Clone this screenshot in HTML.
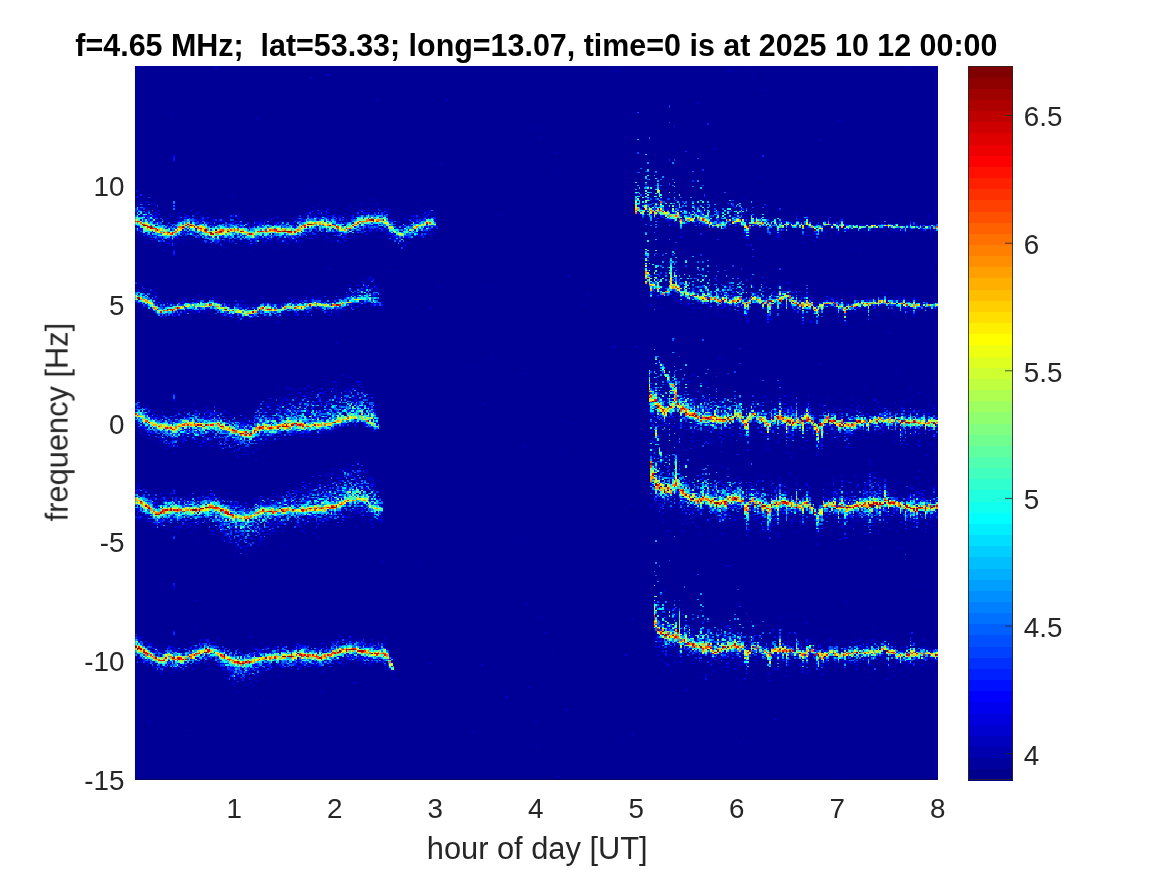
<!DOCTYPE html>
<html lang="en"><head><meta charset="utf-8"><title>Doppler spectrogram f=4.65 MHz</title>
<style>
html,body{margin:0;padding:0;background:#fff;}
body{width:1167px;height:875px;overflow:hidden;}
svg{display:block;font-family:"Liberation Sans",Arial,Helvetica,sans-serif;}
</style></head><body>
<svg width="1167" height="875" viewBox="0 0 1167 875">
<rect width="1167" height="875" fill="#fff"/>
<rect x="135" y="66" width="803" height="714" fill="#000096"/>
<g transform="translate(135 66) scale(1.672917 1.394531)" shape-rendering="crispEdges"><path fill="#00009f" d="m2 3h1v1h-1zm203 1h1v1h-1zm181 0h1v1h-1zm-184 1h1v1h-1zm-149 1h1v1h-1zm47 3h1v1h-1zm300 0h1v1h-1zm-218 2h1v1h-1zm101 0h1v1h-1zm-92 1h1v1h-1zm253 2h1v1h-1zm-434 2h1v1h-1zm2 4h1v1h-1zm38 2h1v1h-1zm69 0h1v1h-1zm-102 1h1v1h-1zm-15 2h1v1h-1zm409 1h1v1h-1zm-132 9h1v1h-1zm158 2h1v1h-1zm-30 1h1v1h-1zm-25 1h1v1h-1zm-359 1h1v1h-1zm261 4h1v1h-1zm-221 1h1v1h-1zm354 0h1v1h-1zm-363 6h1v1h-1zm126 0h1v1h-1zm-67 3h1v1h-1zm195 0h1v1h-1zm29 5h1v1h-1zm-19 2h1v1h-1zm21 1h1v1h-1zm-12 7h1v1h-1zm-298 1h1v1h-1zm7 2h1v1h-1zm141 3h1v1h-1zm-95 1h1v1h-1zm276 0h1v1h-1zm-292 4h1v1h-1zm152 0h1v1h-1zm-217 3h1v1h-1zm-1 1h1v1h-1zm0 2h1v1h-1zm303 2h1v1h-1zm-300 2h1v1h-1zm238 0h1v1h-1zm-184 2h1v1h-1zm72 1h1v1h-1zm192 0h1v1h-1zm-168 1h1v1h-1zm-146 1h1v1h-1zm4 0h1v1h-1zm312 0h1v1h-1zm121 0h1v1h-1zm-235 1h1v1h-1zm108 1h1v1h-1zm40 0h1v1h-1zm-222 1h1v1h-1zm-23 2h1v1h-1zm212 0h1v1h-1zm11 0h1v1h-1zm-324 1h1v1h-1zm20 0h1v1h-1zm54 0h1v1h-1zm24 0h1v1h-1zm62 0h1v1h-1zm159 0h1v1h-1zm-324 1h1v1h-1zm34 0h1v1h-1zm20 0h1v1h-1zm80 0h1v1h-1zm176 0h1v1h-1zm6 0h1v1h-1zm-215 1h1v1h-1zm-100 1h1v1h-1zm8 0h2v1h-2zm11 0h1v1h-1zm78 0h1v1h-1zm8 0h1v1h-1zm9 0h1v1h-1zm24 0h2v1h-2zm190 0h1v1h-1zm62 0h1v1h-1zm-366 1h1v1h-1zm74 0h1v1h-1zm5 0h1v1h-1zm24 0h1v1h-1zm-79 1h1v1h-1zm71 0h1v1h-1zm4 0h1v1h-1zm266 0h1v1h-1zm-292 1h1v1h-1zm8 0h1v1h-1zm9 0h1v1h-1zm2 0h1v1h-1zm210 0h1v1h-1zm130 0h1v1h-1zm-437 1h1v1h-1zm10 0h1v1h-1zm5 0h1v1h-1zm23 0h1v1h-1zm12 0h1v1h-1zm6 0h1v1h-1zm4 0h1v1h-1zm3 0h1v1h-1zm33 0h1v1h-1zm28 0h1v1h-1zm3 0h1v1h-1zm151 0h1v1h-1zm3 0h1v1h-1zm67 0h1v1h-1zm3 0h1v1h-1zm-350 1h1v1h-1zm44 0h1v1h-1zm17 0h1v1h-1zm29 0h1v1h-1zm199 0h1v1h-1zm39 0h1v1h-1zm15 0h1v1h-1zm3 0h1v1h-1zm76 0h1v1h-1zm-446 1h1v1h-1zm11 0h1v1h-1zm65 0h1v1h-1zm76 0h1v1h-1zm190 0h1v1h-1zm100 0h1v1h-1zm-388 1h1v1h-1zm4 0h1v1h-1zm101 0h1v1h-1zm151 0h1v1h-1zm19 0h1v1h-1zm73 0h1v1h-1zm12 0h2v1h-2zm-393 1h1v1h-1zm55 0h1v1h-1zm276 0h1v1h-1zm5 0h1v1h-1zm37 0h1v1h-1zm16 0h1v1h-1zm27 0h1v1h-1zm-420 1h1v1h-1zm52 0h1v1h-1zm62 0h1v1h-1zm191 0h1v1h-1zm34 0h1v1h-1zm68 0h1v1h-1zm3 0h1v1h-1zm41 0h1v1h-1zm-428 1h1v1h-1zm18 0h1v1h-1zm174 0h1v1h-1zm5 0h1v1h-1zm64 0h1v1h-1zm50 0h1v1h-1zm80 0h1v1h-1zm5 0h1v1h-1zm29 0h1v1h-1zm-312 1h1v1h-1zm193 0h1v1h-1zm2 0h1v1h-1zm9 0h1v1h-1zm40 0h1v1h-1zm12 0h1v1h-1zm32 0h1v1h-1zm27 0h1v1h-1zm-168 1h1v1h-1zm24 0h1v1h-1zm14 0h1v1h-1zm45 0h1v1h-1zm68 0h1v1h-1zm-406 1h1v1h-1zm20 0h1v1h-1zm63 0h1v1h-1zm17 0h1v1h-1zm246 0h1v1h-1zm7 0h1v1h-1zm-294 1h1v1h-1zm23 0h1v1h-1zm20 0h2v1h-2zm30 0h1v1h-1zm151 0h1v1h-1zm53 0h1v1h-1zm20 0h1v1h-1zm-300 1h1v1h-1zm46 0h1v1h-1zm20 0h1v1h-1zm178 0h1v1h-1zm6 0h1v1h-1zm84 0h1v1h-1zm-434 1h1v1h-1zm23 0h1v1h-1zm2 0h1v1h-1zm126 0h1v1h-1zm234 0h1v1h-1zm-381 1h1v1h-1zm89 0h1v1h-1zm8 0h1v1h-1zm46 0h1v1h-1zm175 0h1v1h-1zm46 0h1v1h-1zm52 0h1v1h-1zm-417 1h1v1h-1zm34 0h1v1h-1zm44 0h1v1h-1zm24 0h1v1h-1zm58 0h1v1h-1zm8 0h1v1h-1zm140 0h1v1h-1zm23 0h1v1h-1zm-338 1h1v1h-1zm11 0h1v1h-1zm14 0h1v1h-1zm15 0h1v1h-1zm62 0h1v1h-1zm35 0h1v1h-1zm16 0h1v1h-1zm6 0h1v1h-1zm11 0h1v1h-1zm273 0h1v1h-1zm36 0h1v1h-1zm-450 1h1v1h-1zm7 0h1v1h-1zm52 0h1v1h-1zm72 0h1v1h-1zm-122 1h1v1h-1zm39 0h1v1h-1zm13 0h1v1h-1zm11 0h1v1h-1zm15 0h1v1h-1zm-100 1h1v1h-1zm20 0h1v1h-1zm11 0h1v1h-1zm17 0h1v1h-1zm8 0h1v1h-1zm19 0h1v1h-1zm3 0h1v1h-1zm237 0h1v1h-1zm-295 1h1v1h-1zm30 0h1v1h-1zm15 0h1v1h-1zm16 0h1v1h-1zm343 0h1v1h-1zm-393 1h1v1h-1zm2 0h1v1h-1zm18 0h1v1h-1zm4 0h1v1h-1zm-49 1h1v1h-1zm15 0h1v1h-1zm15 0h1v1h-1zm47 0h1v1h-1zm32 0h1v1h-1zm-46 1h1v1h-1zm192 0h1v1h-1zm-218 1h1v1h-1zm-49 2h1v1h-1zm323 2h1v1h-1zm66 0h1v1h-1zm49 0h1v1h-1zm-332 1h1v1h-1zm-101 2h1v1h-1zm201 4h1v1h-1zm260 0h1v1h-1zm-150 1h1v1h-1zm5 0h1v1h-1zm80 0h1v1h-1zm-101 1h1v1h-1zm-134 2h1v1h-1zm4 1h1v1h-1zm-36 2h1v1h-1zm182 0h1v1h-1zm41 1h1v1h-1zm-45 1h1v1h-1zm-316 1h1v1h-1zm441 0h1v1h-1zm-138 1h1v1h-1zm115 0h1v1h-1zm17 0h1v1h-1zm-298 1h1v1h-1zm3 0h1v1h-1zm182 0h1v1h-1zm16 0h1v1h-1zm44 0h1v1h-1zm71 0h1v1h-1zm-455 1h1v1h-1zm128 0h1v1h-1zm6 0h1v1h-1zm8 0h1v1h-1zm193 0h2v1h-2zm-333 1h1v1h-1zm120 0h1v1h-1zm8 0h1v1h-1zm197 1h1v1h-1zm46 0h1v1h-1zm13 0h1v1h-1zm-380 1h1v1h-1zm129 0h1v1h-1zm177 0h1v1h-1zm15 0h1v1h-1zm13 0h1v1h-1zm47 0h1v1h-1zm-251 1h1v1h-1zm272 0h1v1h-1zm-309 1h1v1h-1zm40 0h1v1h-1zm189 0h1v1h-1zm4 0h1v1h-1zm59 0h1v1h-1zm-9 1h1v1h-1zm36 0h1v1h-1zm26 0h1v1h-1zm-442 1h1v1h-1zm56 0h1v1h-1zm45 0h1v1h-1zm20 0h1v1h-1zm2 0h1v1h-1zm2 0h1v1h-1zm109 0h1v1h-1zm73 0h1v1h-1zm58 0h1v1h-1zm61 0h1v1h-1zm-293 1h1v1h-1zm185 0h1v1h-1zm82 0h1v1h-1zm12 0h1v1h-1zm4 0h1v1h-1zm29 0h1v1h-1zm-322 1h1v1h-1zm208 0h1v1h-1zm23 0h1v1h-1zm37 0h1v1h-1zm-289 1h1v1h-1zm9 0h1v1h-1zm8 0h1v1h-1zm21 0h1v1h-1zm20 0h1v1h-1zm149 0h1v1h-1zm7 0h1v1h-1zm27 0h1v1h-1zm93 0h1v1h-1zm-414 1h1v1h-1zm28 0h2v1h-2zm41 0h1v1h-1zm49 0h1v1h-1zm178 0h1v1h-1zm121 0h1v1h-1zm2 0h1v1h-1zm-445 1h1v1h-1zm13 0h1v1h-1zm7 0h1v1h-1zm51 0h1v1h-1zm2 0h2v1h-2zm37 0h1v1h-1zm2 0h1v1h-1zm2 0h1v1h-1zm196 0h1v1h-1zm31 0h1v1h-1zm32 0h1v1h-1zm33 0h1v1h-1zm-370 1h1v1h-1zm10 0h1v1h-1zm13 0h1v1h-1zm13 0h1v1h-1zm4 0h1v1h-1zm2 0h1v1h-1zm47 0h1v1h-1zm344 0h1v1h-1zm-416 1h1v1h-1zm29 0h1v1h-1zm2 0h1v1h-1zm33 0h1v1h-1zm212 0h1v1h-1zm56 0h1v1h-1zm3 0h1v1h-1zm-300 1h1v1h-1zm38 0h1v1h-1zm8 0h1v1h-1zm198 0h1v1h-1zm2 0h1v1h-1zm25 0h1v1h-1zm4 0h1v1h-1zm6 0h1v1h-1zm19 0h1v1h-1zm-370 1h1v1h-1zm113 0h1v1h-1zm196 0h1v1h-1zm20 0h1v1h-1zm23 0h1v1h-1zm13 0h1v1h-1zm-319 1h1v1h-1zm115 0h1v1h-1zm61 0h1v1h-1zm107 0h1v1h-1zm65 0h1v1h-1zm-350 1h2v1h-2zm375 0h1v1h-1zm-293 1h1v1h-1zm306 0h1v1h-1zm7 0h1v1h-1zm7 0h1v1h-1zm9 0h1v1h-1zm-440 1h1v1h-1zm88 0h1v1h-1zm210 0h1v1h-1zm69 0h1v1h-1zm58 0h1v1h-1zm-418 1h1v1h-1zm55 0h1v1h-1zm22 0h1v1h-1zm3 0h1v1h-1zm271 0h1v1h-1zm43 0h1v1h-1zm6 0h1v1h-1zm-396 1h1v1h-1zm6 0h1v1h-1zm35 0h1v1h-1zm8 0h1v1h-1zm9 0h1v1h-1zm15 0h1v1h-1zm190 0h1v1h-1zm95 0h1v1h-1zm-359 1h2v1h-2zm3 0h1v1h-1zm7 0h1v1h-1zm59 0h1v1h-1zm240 0h1v1h-1zm18 0h1v1h-1zm-362 1h1v1h-1zm31 0h1v1h-1zm17 0h1v1h-1zm24 0h1v1h-1zm318 0h1v1h-1zm50 0h1v1h-1zm-434 1h1v1h-1zm2 0h1v1h-1zm30 0h1v1h-1zm23 0h1v1h-1zm24 0h1v1h-1zm110 0h1v1h-1zm103 0h1v1h-1zm19 0h1v1h-1zm52 0h1v1h-1zm27 0h1v1h-1zm-392 1h1v1h-1zm6 0h1v1h-1zm98 0h1v1h-1zm239 0h1v1h-1zm71 0h1v1h-1zm-40 1h1v1h-1zm3 1h1v1h-1zm19 0h1v1h-1zm-324 1h1v1h-1zm55 0h1v1h-1zm243 1h1v1h-1zm88 0h1v1h-1zm-195 1h1v1h-1zm-193 2h1v1h-1zm187 0h1v1h-1zm-232 4h1v1h-1zm320 2h1v1h-1zm-55 3h1v1h-1zm18 1h1v1h-1zm11 5h1v1h-1zm-155 3h1v1h-1zm213 2h1v1h-1zm-43 1h1v1h-1zm-98 3h1v1h-1zm171 0h1v1h-1zm-108 1h1v1h-1zm5 2h1v1h-1zm136 0h1v1h-1zm-302 1h1v1h-1zm167 4h1v1h-1zm103 0h1v1h-1zm-297 1h1v1h-1zm191 1h1v1h-1zm-199 1h1v1h-1zm-9 2h1v1h-1zm202 0h1v1h-1zm-199 2h1v1h-1zm6 0h1v1h-1zm2 0h1v1h-1zm7 0h1v1h-1zm264 0h1v1h-1zm-294 1h1v1h-1zm292 0h1v1h-1zm-297 1h1v1h-1zm37 0h1v1h-1zm84 0h1v1h-1zm106 0h1v1h-1zm11 0h1v1h-1zm-231 1h1v1h-1zm15 0h1v1h-1zm135 0h1v1h-1zm-111 1h1v1h-1zm172 0h1v1h-1zm18 0h1v1h-1zm3 0h1v1h-1zm103 0h1v1h-1zm44 0h1v1h-1zm-364 1h1v1h-1zm14 0h1v1h-1zm8 0h1v1h-1zm50 0h1v1h-1zm131 0h1v1h-1zm70 0h1v1h-1zm50 0h1v1h-1zm19 0h1v1h-1zm-352 1h1v1h-1zm2 0h1v1h-1zm15 0h1v1h-1zm127 0h1v1h-1zm73 0h1v1h-1zm8 0h1v1h-1zm93 0h1v1h-1zm-331 1h1v1h-1zm7 0h1v1h-1zm30 0h1v1h-1zm10 0h1v1h-1zm-37 1h1v1h-1zm6 0h1v1h-1zm229 0h1v1h-1zm32 0h1v1h-1zm-287 1h1v1h-1zm13 0h1v1h-1zm25 0h1v1h-1zm194 0h1v1h-1zm65 0h1v1h-1zm-272 1h1v1h-1zm8 0h1v1h-1zm25 0h1v1h-1zm187 0h1v1h-1zm-239 1h1v1h-1zm51 0h1v1h-1zm155 0h1v1h-1zm70 0h1v1h-1zm-362 1h1v1h-1zm74 0h1v1h-1zm277 0h1v1h-1zm81 0h1v1h-1zm27 0h1v1h-1zm17 0h1v1h-1zm-415 1h1v1h-1zm40 0h1v1h-1zm184 0h1v1h-1zm32 0h1v1h-1zm-283 1h1v1h-1zm47 0h1v1h-1zm35 0h2v1h-2zm4 0h1v1h-1zm187 0h1v1h-1zm40 0h1v1h-1zm14 0h1v1h-1zm32 0h1v1h-1zm-347 1h1v1h-1zm66 0h1v1h-1zm11 0h1v1h-1zm194 0h1v1h-1zm26 0h1v1h-1zm56 0h1v1h-1zm51 0h1v1h-1zm16 0h1v1h-1zm11 0h1v1h-1zm-390 1h1v1h-1zm283 0h1v1h-1zm4 0h1v1h-1zm19 0h1v1h-1zm12 0h1v1h-1zm8 0h1v1h-1zm5 0h1v1h-1zm29 0h1v1h-1zm-416 1h1v1h-1zm38 0h1v1h-1zm35 0h1v1h-1zm31 0h1v1h-1zm251 0h1v1h-1zm53 0h1v1h-1zm4 0h1v1h-1zm11 0h1v1h-1zm9 0h1v1h-1zm16 0h1v1h-1zm-448 1h1v1h-1zm52 0h1v1h-1zm3 0h1v1h-1zm249 0h1v1h-1zm14 0h1v1h-1zm73 0h1v1h-1zm19 0h1v1h-1zm4 0h1v1h-1zm4 0h1v1h-1zm-442 1h1v1h-1zm7 0h1v1h-1zm72 0h1v1h-1zm291 0h1v1h-1zm-321 1h1v1h-1zm15 0h1v1h-1zm264 0h1v1h-1zm14 0h1v1h-1zm61 0h1v1h-1zm19 0h1v1h-1zm17 0h1v1h-1zm30 0h2v1h-2zm-463 1h1v1h-1zm27 0h1v1h-1zm10 0h1v1h-1zm5 0h1v1h-1zm10 0h1v1h-1zm23 0h1v1h-1zm263 0h1v1h-1zm112 0h1v1h-1zm-443 1h1v1h-1zm30 0h1v1h-1zm3 0h1v1h-1zm4 0h1v1h-1zm24 0h1v1h-1zm6 0h1v1h-1zm231 0h1v1h-1zm6 0h1v1h-1zm-253 1h1v1h-1zm18 0h1v1h-1zm17 0h1v1h-1zm2 0h1v1h-1zm17 0h1v1h-1zm-83 1h1v1h-1zm14 0h1v1h-1zm17 0h1v1h-1zm7 0h1v1h-1zm4 0h1v1h-1zm5 0h1v1h-1zm31 0h1v1h-1zm-92 1h1v1h-1zm26 0h2v1h-2zm3 0h1v1h-1zm7 0h1v1h-1zm255 0h1v1h-1zm90 0h1v1h-1zm58 0h1v1h-1zm5 0h1v1h-1zm-458 1h1v1h-1zm4 0h2v1h-2zm32 0h1v1h-1zm34 0h1v1h-1zm26 0h1v1h-1zm211 0h1v1h-1zm87 0h1v1h-1zm13 0h1v1h-1zm-355 1h1v1h-1zm362 0h1v1h-1zm-366 1h1v1h-1zm345 0h1v1h-1zm-272 1h1v1h-1zm173 0h1v1h-1zm6 0h1v1h-1zm10 0h2v1h-2zm19 1h1v1h-1zm25 0h1v1h-1zm50 0h1v1h-1zm27 0h1v1h-1zm8 0h1v1h-1zm-326 1h1v1h-1zm144 0h1v1h-1zm37 0h1v1h-1zm2 0h1v1h-1zm26 0h1v1h-1zm66 0h1v1h-1zm14 0h1v1h-1zm-275 1h1v1h-1zm195 0h1v1h-1zm20 0h1v1h-1zm85 0h1v1h-1zm10 0h1v1h-1zm14 0h1v1h-1zm8 0h1v1h-1zm-437 1h1v1h-1zm295 0h1v1h-1zm57 0h1v1h-1zm12 0h1v1h-1zm12 0h1v1h-1zm-403 1h1v1h-1zm110 0h1v1h-1zm144 0h1v1h-1zm90 0h1v1h-1zm11 0h1v1h-1zm11 0h1v1h-1zm20 0h1v1h-1zm3 0h1v1h-1zm34 0h1v1h-1zm22 0h1v1h-1zm-453 1h1v1h-1zm105 0h1v1h-1zm206 0h1v1h-1zm10 0h1v1h-1zm60 0h1v1h-1zm71 0h1v1h-1zm11 0h1v1h-1zm12 0h1v1h-1zm-432 1h1v1h-1zm5 0h1v1h-1zm48 0h1v1h-1zm4 0h1v1h-1zm7 0h1v1h-1zm7 0h1v1h-1zm2 0h1v1h-1zm12 0h1v1h-1zm205 0h1v1h-1zm5 0h1v1h-1zm6 0h2v1h-2zm14 0h1v1h-1zm31 0h1v1h-1zm47 0h1v1h-1zm9 0h1v1h-1zm-441 1h1v1h-1zm22 0h1v1h-1zm3 0h1v1h-1zm74 0h1v1h-1zm266 0h1v1h-1zm10 0h1v1h-1zm19 0h2v1h-2zm26 0h1v1h-1zm38 0h1v1h-1zm5 0h1v1h-1zm-387 1h1v1h-1zm3 0h1v1h-1zm11 0h1v1h-1zm8 0h1v1h-1zm11 0h1v1h-1zm15 0h1v1h-1zm79 0h1v1h-1zm188 0h1v1h-1zm17 0h1v1h-1zm10 0h1v1h-1zm41 0h1v1h-1zm14 0h1v1h-1zm-471 1h1v1h-1zm76 0h1v1h-1zm189 0h1v1h-1zm46 0h1v1h-1zm15 0h1v1h-1zm9 0h1v1h-1zm12 0h1v1h-1zm14 0h1v1h-1zm10 0h1v1h-1zm43 0h1v1h-1zm3 0h1v1h-1zm9 0h1v1h-1zm-417 1h1v1h-1zm30 0h1v1h-1zm20 0h1v1h-1zm19 0h1v1h-1zm6 0h1v1h-1zm300 0h1v1h-1zm28 0h1v1h-1zm12 0h1v1h-1zm21 0h1v1h-1zm-404 1h1v1h-1zm224 0h1v1h-1zm42 0h1v1h-1zm74 0h1v1h-1zm-334 1h1v1h-1zm148 0h1v1h-1zm43 0h1v1h-1zm21 0h1v1h-1zm69 0h1v1h-1zm17 0h1v1h-1zm24 0h1v1h-1zm23 0h1v1h-1zm-386 1h2v1h-2zm60 0h1v1h-1zm11 0h1v1h-1zm268 0h1v1h-1zm22 0h1v1h-1zm3 0h1v1h-1zm31 0h1v1h-1zm-381 1h1v1h-1zm3 0h1v1h-1zm335 0h1v1h-1zm6 0h1v1h-1zm3 0h1v1h-1zm-346 1h1v1h-1zm361 0h1v1h-1zm43 0h1v1h-1zm31 0h1v1h-1zm-450 1h1v1h-1zm7 0h1v1h-1zm4 0h1v1h-1zm7 0h1v1h-1zm47 0h1v1h-1zm152 0h1v1h-1zm120 0h1v1h-1zm20 0h1v1h-1zm26 0h1v1h-1zm64 0h1v1h-1zm16 0h1v1h-1zm-439 1h1v1h-1zm14 0h1v1h-1zm16 0h1v1h-1zm303 0h1v1h-1zm66 0h1v1h-1zm23 0h1v1h-1zm4 0h1v1h-1zm-411 1h1v1h-1zm17 0h1v1h-1zm3 0h1v1h-1zm238 0h1v1h-1zm2 0h1v1h-1zm96 0h1v1h-1zm10 0h1v1h-1zm-226 1h1v1h-1zm134 0h1v1h-1zm17 1h1v1h-1zm37 0h1v1h-1zm88 0h1v1h-1zm-425 1h1v1h-1zm286 0h1v1h-1zm26 0h1v1h-1zm4 0h1v1h-1zm85 0h1v1h-1zm-326 1h1v1h-1zm226 0h1v1h-1zm66 0h1v1h-1zm-92 1h1v1h-1zm-154 1h1v1h-1zm307 0h1v1h-1zm-352 1h1v1h-1zm194 0h1v1h-1zm27 0h1v1h-1zm12 0h1v1h-1zm-42 1h1v1h-1zm8 0h1v1h-1zm134 0h1v1h-1zm26 1h1v1h-1zm-180 1h1v1h-1zm-174 1h1v1h-1zm10 0h1v1h-1zm188 0h1v1h-1zm100 0h1v1h-1zm26 0h1v1h-1zm-326 1h1v1h-1zm3 0h1v1h-1zm200 0h1v1h-1zm24 0h1v1h-1zm126 0h1v1h-1zm-356 1h1v1h-1zm9 0h1v1h-1zm196 0h1v1h-1zm-203 1h1v1h-1zm226 0h1v1h-1zm-212 1h1v1h-1zm209 0h1v1h-1zm36 0h1v1h-1zm27 0h1v1h-1zm3 0h1v1h-1zm-305 1h1v1h-1zm14 0h1v1h-1zm208 0h1v1h-1zm50 0h1v1h-1zm40 0h1v1h-1zm21 0h1v1h-1zm-326 1h2v1h-2zm4 1h1v1h-1zm8 0h1v1h-1zm317 0h1v1h-1zm-391 1h1v1h-1zm49 0h1v1h-1zm23 0h2v1h-2zm211 0h1v1h-1zm6 0h1v1h-1zm41 0h1v1h-1zm39 0h1v1h-1zm27 0h1v1h-1zm-122 1h1v1h-1zm14 0h1v1h-1zm34 0h1v1h-1zm11 0h1v1h-1zm38 0h1v1h-1zm-283 1h1v1h-1zm236 0h1v1h-1zm6 0h1v1h-1zm73 0h1v1h-1zm-317 1h1v1h-1zm-25 1h1v1h-1zm5 0h1v1h-1zm258 0h1v1h-1zm-266 1h1v1h-1zm2 0h1v1h-1zm14 0h1v1h-1zm10 0h1v1h-1zm252 0h1v1h-1zm-287 1h1v1h-1zm7 0h1v1h-1zm11 0h1v1h-1zm23 0h1v1h-1zm220 0h1v1h-1zm23 0h1v1h-1zm68 0h1v1h-1zm2 0h1v1h-1zm11 0h1v1h-1zm-464 1h1v1h-1zm106 0h1v1h-1zm284 0h1v1h-1zm53 0h1v1h-1zm3 0h1v1h-1zm-397 1h1v1h-1zm338 0h1v1h-1zm8 0h1v1h-1zm16 0h1v1h-1zm6 0h1v1h-1zm6 0h1v1h-1zm19 0h1v1h-1zm-442 1h1v1h-1zm398 0h1v1h-1zm33 0h1v1h-1zm-344 1h1v1h-1zm14 0h1v1h-1zm13 0h1v1h-1zm31 0h2v1h-2zm222 0h1v1h-1zm-259 1h1v1h-1zm3 0h1v1h-1zm36 0h1v1h-1zm233 0h1v1h-1zm29 0h1v1h-1zm22 0h1v1h-1zm34 0h1v1h-1zm-461 1h1v1h-1zm140 0h1v1h-1zm129 0h1v1h-1zm45 0h1v1h-1zm59 0h1v1h-1zm2 0h1v1h-1zm13 0h1v1h-1zm12 0h1v1h-1zm34 0h1v1h-1zm36 0h1v1h-1zm-371 1h1v1h-1zm156 0h1v1h-1zm123 0h1v1h-1zm30 0h1v1h-1zm57 0h1v1h-1zm-450 1h1v1h-1zm81 0h1v1h-1zm314 0h1v1h-1zm33 0h1v1h-1zm6 0h1v1h-1zm20 0h1v1h-1zm5 0h1v1h-1zm-458 1h1v1h-1zm12 0h1v1h-1zm17 0h1v1h-1zm2 0h1v1h-1zm327 0h1v1h-1zm11 0h1v1h-1zm27 0h1v1h-1zm19 0h1v1h-1zm26 0h1v1h-1zm5 0h1v1h-1zm-436 1h1v1h-1zm17 0h1v1h-1zm2 0h1v1h-1zm3 0h1v1h-1zm24 0h2v1h-2zm236 0h1v1h-1zm77 0h1v1h-1zm-311 1h1v1h-1zm17 0h1v1h-1zm150 0h1v1h-1zm63 0h1v1h-1zm105 0h1v1h-1zm-393 1h1v1h-1zm34 0h1v1h-1zm21 0h1v1h-1zm35 0h1v1h-1zm201 0h1v1h-1zm92 0h1v1h-1zm3 0h1v1h-1zm23 0h1v1h-1zm-332 1h1v1h-1zm313 0h1v1h-1zm19 0h1v1h-1zm-373 1h1v1h-1zm24 0h1v1h-1zm25 0h1v1h-1zm28 0h1v1h-1zm206 0h1v1h-1zm86 0h1v1h-1zm47 0h1v1h-1zm-407 1h1v1h-1zm249 0h1v1h-1zm-300 1h1v1h-1zm116 0h1v1h-1zm160 0h1v1h-1zm161 0h1v1h-1zm-390 1h1v1h-1zm8 0h1v1h-1zm5 0h1v1h-1zm54 0h1v1h-1zm203 0h1v1h-1zm-208 1h1v1h-1zm13 0h1v1h-1zm82 0h1v1h-1zm132 0h1v1h-1zm21 0h1v1h-1zm78 0h1v1h-1zm-88 1h1v1h-1zm15 0h1v1h-1zm-247 1h1v1h-1zm95 0h1v1h-1zm66 0h1v1h-1zm29 0h1v1h-1zm17 0h1v1h-1zm46 0h1v1h-1zm19 0h1v1h-1zm50 0h1v1h-1zm18 0h1v1h-1zm-359 1h1v1h-1zm16 0h1v1h-1zm7 0h1v1h-1zm185 0h1v1h-1zm70 0h1v1h-1zm59 0h1v1h-1zm10 0h1v1h-1zm-456 1h1v1h-1zm3 0h1v1h-1zm32 0h1v1h-1zm76 0h1v1h-1zm9 0h1v1h-1zm22 0h1v1h-1zm157 0h1v1h-1zm116 0h1v1h-1zm2 0h1v1h-1zm23 0h1v1h-1zm5 0h1v1h-1zm-305 1h1v1h-1zm116 0h1v1h-1zm90 0h1v1h-1zm20 0h1v1h-1zm27 0h1v1h-1zm12 0h1v1h-1zm36 0h1v1h-1zm3 0h1v1h-1zm6 0h1v1h-1zm11 0h1v1h-1zm6 0h1v1h-1zm-461 1h1v1h-1zm122 0h1v1h-1zm14 0h1v1h-1zm120 0h1v1h-1zm49 0h1v1h-1zm27 0h1v1h-1zm35 0h1v1h-1zm3 0h1v1h-1zm11 0h1v1h-1zm15 0h1v1h-1zm-402 1h1v1h-1zm65 0h1v1h-1zm9 0h1v1h-1zm42 0h1v1h-1zm8 0h1v1h-1zm17 0h1v1h-1zm109 0h1v1h-1zm87 0h1v1h-1zm84 0h1v1h-1zm18 0h1v1h-1zm6 0h1v1h-1zm6 0h1v1h-1zm-424 1h1v1h-1zm57 0h1v1h-1zm25 0h1v1h-1zm9 0h1v1h-1zm228 0h1v1h-1zm16 0h1v1h-1zm98 0h1v1h-1zm-443 1h1v1h-1zm6 0h1v1h-1zm22 0h1v1h-1zm34 0h1v1h-1zm8 0h1v1h-1zm277 0h1v1h-1zm31 0h1v1h-1zm46 0h1v1h-1zm2 0h1v1h-1zm-433 1h1v1h-1zm46 0h1v1h-1zm12 0h1v1h-1zm3 0h1v1h-1zm283 0h1v1h-1zm9 0h1v1h-1zm62 0h1v1h-1zm5 0h1v1h-1zm-391 1h1v1h-1zm9 0h1v1h-1zm38 0h1v1h-1zm59 0h1v1h-1zm205 0h1v1h-1zm102 0h1v1h-1zm14 0h1v1h-1zm-408 1h1v1h-1zm2 0h1v1h-1zm80 0h1v1h-1zm194 0h1v1h-1zm16 0h1v1h-1zm3 0h1v1h-1zm64 0h1v1h-1zm6 0h1v1h-1zm11 0h1v1h-1zm-427 1h1v1h-1zm9 0h1v1h-1zm23 0h1v1h-1zm10 0h1v1h-1zm20 0h1v1h-1zm21 0h1v1h-1zm258 0h1v1h-1zm34 0h2v1h-2zm51 0h1v1h-1zm-384 1h1v1h-1zm14 0h1v1h-1zm275 0h1v1h-1zm31 0h1v1h-1zm7 0h1v1h-1zm33 0h1v1h-1zm-355 1h1v1h-1zm19 0h1v1h-1zm4 0h1v1h-1zm7 0h1v1h-1zm277 0h1v1h-1zm80 0h1v1h-1zm37 0h1v1h-1zm-354 1h1v1h-1zm4 0h1v1h-1zm67 0h1v1h-1zm131 0h1v1h-1zm18 0h1v1h-1zm34 0h1v1h-1zm62 0h1v1h-1zm-369 1h1v1h-1zm285 0h1v1h-1zm-291 1h1v1h-1zm309 0h1v1h-1zm74 0h1v1h-1zm20 0h1v1h-1zm-454 1h1v1h-1zm34 0h1v1h-1zm5 0h1v1h-1zm311 0h1v1h-1zm103 0h1v1h-1zm-404 1h1v1h-1zm6 0h1v1h-1zm299 0h1v1h-1zm16 0h1v1h-1zm-310 1h1v1h-1zm403 0h1v1h-1zm-467 1h1v1h-1zm363 0h1v1h-1zm-319 1h1v1h-1zm266 0h1v1h-1zm2 1h1v1h-1zm-252 1h1v1h-1zm230 0h1v1h-1zm-262 1h1v1h-1zm16 0h1v1h-1zm11 0h1v1h-1zm358 0h1v1h-1zm-371 1h1v1h-1zm9 0h1v1h-1zm398 0h1v1h-1zm-401 1h1v1h-1zm322 0h1v1h-1zm-312 1h1v1h-1zm141 0h1v1h-1zm-88 1h1v1h-1zm36 0h1v1h-1zm-67 2h1v1h-1zm95 0h1v1h-1zm-128 1h1v1h-1zm4 0h1v1h-1zm95 0h1v1h-1zm24 0h1v1h-1zm-110 1h1v1h-1zm7 3h1v1h-1zm250 0h1v1h-1zm-210 1h1v1h-1zm-56 1h1v1h-1zm135 1h1v1h-1zm-137 1h1v1h-1zm305 2h1v1h-1zm-334 2h1v1h-1zm349 1h1v1h-1zm-61 2h1v1h-1zm-304 1h1v1h-1zm436 1h1v1h-1zm-78 2h1v1h-1zm-162 1h1v1h-1zm234 1h1v1h-1zm-311 1h1v1h-1zm86 1h1v1h-1zm226 0h1v1h-1zm-48 3h1v1h-1zm-74 1h1v1h-1zm-233 2h1v1h-1zm251 1h1v1h-1zm-33 1h1v1h-1zm22 4h1v1h-1zm-92 1h1v1h-1zm98 7h1v1h-1zm21 0h1v1h-1zm-73 1h1v1h-1zm37 0h2v1h-2zm17 0h1v1h-1zm-167 2h1v1h-1zm142 2h1v1h-1zm75 0h1v1h-1zm-31 2h1v1h-1zm26 0h1v1h-1zm57 1h1v1h-1zm-108 1h1v1h-1zm17 0h1v1h-1zm4 0h1v1h-1zm-19 1h1v1h-1zm-6 1h1v1h-1zm132 0h1v1h-1zm-423 1h1v1h-1zm196 0h1v1h-1zm147 0h1v1h-1zm65 0h1v1h-1zm-320 1h1v1h-1zm207 0h1v1h-1zm29 0h1v1h-1zm-321 1h1v1h-1zm88 0h1v1h-1zm4 0h1v1h-1zm178 0h1v1h-1zm2 0h1v1h-1zm28 0h1v1h-1zm136 0h1v1h-1zm-474 1h1v1h-1zm123 0h1v1h-1zm271 0h1v1h-1zm38 0h1v1h-1zm41 0h1v1h-1zm-124 1h1v1h-1zm7 0h1v1h-1zm17 0h2v1h-2zm11 0h1v1h-1zm55 0h1v1h-1zm-393 1h2v1h-2zm315 0h1v1h-1zm23 0h1v1h-1zm60 0h1v1h-1zm-413 1h1v1h-1zm4 0h1v1h-1zm69 0h1v1h-1zm262 0h1v1h-1zm53 0h1v1h-1zm7 0h1v1h-1zm-391 1h1v1h-1zm96 0h1v1h-1zm7 0h1v1h-1zm247 0h1v1h-1zm81 0h1v1h-1zm-421 1h1v1h-1zm62 0h1v1h-1zm12 0h1v1h-1zm8 0h1v1h-1zm16 0h1v1h-1zm175 0h1v1h-1zm25 0h1v1h-1zm77 0h1v1h-1zm10 0h1v1h-1zm20 0h1v1h-1zm14 0h1v1h-1zm-443 1h1v1h-1zm10 0h1v1h-1zm6 0h1v1h-1zm3 0h1v1h-1zm51 0h1v1h-1zm229 0h1v1h-1zm61 0h1v1h-1zm39 0h1v1h-1zm5 0h1v1h-1zm16 0h1v1h-1zm-433 1h1v1h-1zm6 0h1v1h-1zm6 0h1v1h-1zm4 0h1v1h-1zm68 0h1v1h-1zm48 0h1v1h-1zm69 0h1v1h-1zm175 0h1v1h-1zm91 0h1v1h-1zm-385 1h1v1h-1zm50 0h1v1h-1zm9 0h1v1h-1zm161 0h1v1h-1zm95 0h1v1h-1zm31 0h1v1h-1zm-375 1h1v1h-1zm43 0h1v1h-1zm258 0h1v1h-1zm68 0h1v1h-1zm24 0h1v1h-1zm19 0h1v1h-1zm-462 1h1v1h-1zm64 0h1v1h-1zm3 0h1v1h-1zm31 0h1v1h-1zm298 0h1v1h-1zm-356 1h1v1h-1zm25 0h1v1h-1zm30 0h1v1h-1zm147 0h1v1h-1zm205 0h1v1h-1zm-132 1h1v1h-1zm-316 1h1v1h-1zm50 0h1v1h-1zm67 0h1v1h-1zm3 0h1v1h-1zm195 0h1v1h-1zm15 0h2v1h-2zm62 0h1v1h-1zm-136 1h1v1h-1zm64 0h1v1h-1zm3 0h1v1h-1zm4 0h1v1h-1zm8 0h2v1h-2zm21 0h1v1h-1zm7 0h1v1h-1zm36 0h1v1h-1zm6 0h1v1h-1zm32 0h1v1h-1zm-414 1h1v1h-1zm11 0h1v1h-1zm50 0h1v1h-1zm27 0h1v1h-1zm209 0h1v1h-1zm-202 1h1v1h-1zm12 0h1v1h-1zm172 0h1v1h-1zm8 0h1v1h-1zm29 0h1v1h-1zm5 0h1v1h-1zm3 0h1v1h-1zm3 0h1v1h-1zm14 0h1v1h-1zm16 0h1v1h-1zm28 0h1v1h-1zm-381 1h1v1h-1zm46 0h1v1h-1zm37 0h1v1h-1zm156 0h1v1h-1zm67 0h1v1h-1zm15 0h1v1h-1zm91 0h1v1h-1zm26 0h1v1h-1zm-470 1h1v1h-1zm28 0h1v1h-1zm6 0h1v1h-1zm44 0h1v1h-1zm8 0h1v1h-1zm25 0h1v1h-1zm9 0h2v1h-2zm15 0h1v1h-1zm185 0h1v1h-1zm5 0h1v1h-1zm38 0h1v1h-1zm5 0h1v1h-1zm24 0h1v1h-1zm25 0h1v1h-1zm10 0h1v1h-1zm10 0h1v1h-1zm-432 1h1v1h-1zm22 0h1v1h-1zm47 0h1v1h-1zm66 0h1v1h-1zm232 0h1v1h-1zm38 0h1v1h-1zm7 0h1v1h-1zm15 0h2v1h-2zm29 0h1v1h-1zm-449 1h1v1h-1zm69 0h1v1h-1zm10 0h1v1h-1zm6 0h2v1h-2zm13 0h1v1h-1zm18 0h1v1h-1zm244 0h1v1h-1zm26 0h1v1h-1zm20 0h1v1h-1zm4 0h1v1h-1zm-417 1h1v1h-1zm101 0h1v1h-1zm22 0h1v1h-1zm13 0h1v1h-1zm209 0h1v1h-1zm63 0h1v1h-1zm-393 1h1v1h-1zm5 0h1v1h-1zm59 0h1v1h-1zm11 0h1v1h-1zm38 0h1v1h-1zm186 0h1v1h-1zm103 0h1v1h-1zm3 0h1v1h-1zm-410 1h1v1h-1zm71 0h1v1h-1zm257 0h1v1h-1zm30 0h1v1h-1zm-231 1h1v1h-1zm227 0h1v1h-1zm-355 1h1v1h-1zm32 0h1v1h-1zm266 0h1v1h-1zm30 0h1v1h-1zm29 0h1v1h-1zm31 0h1v1h-1zm-394 1h1v1h-1zm5 0h1v1h-1zm336 0h1v1h-1zm78 0h1v1h-1zm-362 1h1v1h-1zm79 0h1v1h-1zm2 0h1v1h-1zm167 0h1v1h-1zm-250 1h1v1h-1zm168 0h1v1h-1zm12 0h1v1h-1zm37 0h1v1h-1zm136 0h1v1h-1zm5 0h1v1h-1zm-401 1h1v1h-1zm38 1h1v1h-1zm197 0h1v1h-1zm98 0h1v1h-1zm95 0h1v1h-1zm-399 1h1v1h-1zm43 0h1v1h-1zm14 0h1v1h-1zm248 0h1v1h-1zm95 0h1v1h-1zm-56 1h1v1h-1zm70 0h1v1h-1zm-408 2h1v1h-1zm155 0h1v1h-1zm-157 1h1v1h-1zm41 0h1v1h-1zm287 1h1v1h-1zm-337 1h1v1h-1zm16 0h1v1h-1zm318 0h1v1h-1zm15 0h1v1h-1zm-53 2h1v1h-1zm-286 1h1v1h-1zm1 1h1v1h-1zm306 0h1v1h-1zm-48 3h1v1h-1zm97 0h1v1h-1zm-206 3h1v1h-1zm230 1h1v1h-1zm-187 1h1v1h-1zm156 2h1v1h-1zm-345 1h1v1h-1zm122 1h1v1h-1zm181 2h1v1h-1zm-150 2h1v1h-1zm214 0h1v1h-1zm-369 1h1v1h-1zm-55 3h1v1h-1zm12 2h1v1h-1zm41 0h1v1h-1zm169 0h1v1h-1zm66 2h1v1h-1zm-57 1h1v1h-1zm36 1h1v1h-1zm175 0h1v1h-1zm-345 1h1v1h-1zm73 1h1v1h-1zm237 1h1v1h-1zm-21 1h1v1h-1zm-162 6h1v1h-1zm236 3h1v1h-1zm-263 2h1v1h-1zm202 0h1v1h-1zm-55 5h1v1h-1zm-306 2h1v1h-1zm245 5h1v1h-1zm182 3h1v1h-1zm-54 4h1v1h-1zm-109 1h1v1h-1z"/><path fill="#0000af" d="m462 1h1v1h-1zm-175 2h1v1h-1zm78 0h1v1h-1zm-95 2h1v1h-1zm99 1h1v1h-1zm-58 6h1v1h-1zm59 3h1v1h-1zm-226 9h1v1h-1zm-50 2h1v1h-1zm199 14h1v1h-1zm139 4h1v1h-1zm-426 3h1v1h-1zm2 9h1v1h-1zm400 0h1v1h-1zm-289 17h1v1h-1zm72 1h1v1h-1zm82 5h1v1h-1zm100 0h1v1h-1zm-68 3h1v1h-1zm8 4h1v1h-1zm-61 1h1v1h-1zm-150 1h1v1h-1zm48 0h1v1h-1zm-145 4h1v1h-1zm53 0h1v1h-1zm259 0h1v1h-1zm-305 1h1v1h-1zm-7 1h1v1h-1zm-5 1h1v1h-1zm364 0h1v1h-1zm83 0h1v1h-1zm-416 1h1v1h-1zm228 0h1v1h-1zm28 2h1v1h-1zm20 0h1v1h-1zm6 1h1v1h-1zm2 0h1v1h-1zm-313 1h2v1h-2zm148 0h1v1h-1zm150 0h1v1h-1zm-298 1h1v1h-1zm6 0h1v1h-1zm2 0h1v1h-1zm110 0h1v1h-1zm15 0h1v1h-1zm10 0h1v1h-1zm178 0h1v1h-1zm-321 1h1v1h-1zm10 0h1v1h-1zm16 0h1v1h-1zm99 0h1v1h-1zm7 0h1v1h-1zm183 0h1v1h-1zm-288 1h1v1h-1zm89 0h1v1h-1zm22 0h1v1h-1zm3 0h1v1h-1zm177 0h1v1h-1zm25 0h1v1h-1zm-234 1h1v1h-1zm22 0h1v1h-1zm23 0h1v1h-1zm17 0h1v1h-1zm132 0h1v1h-1zm-301 1h1v1h-1zm12 0h1v1h-1zm36 0h1v1h-1zm39 0h1v1h-1zm12 0h1v1h-1zm22 0h1v1h-1zm5 0h1v1h-1zm12 0h1v1h-1zm4 0h1v1h-1zm32 0h1v1h-1zm126 0h1v1h-1zm16 0h1v1h-1zm-313 1h1v1h-1zm135 0h1v1h-1zm10 0h1v1h-1zm32 0h1v1h-1zm190 0h1v1h-1zm21 0h1v1h-1zm-391 1h1v1h-1zm10 0h1v1h-1zm12 0h2v1h-2zm37 0h1v1h-1zm22 0h1v1h-1zm26 0h1v1h-1zm8 0h1v1h-1zm9 0h1v1h-1zm9 0h1v1h-1zm-79 1h1v1h-1zm2 0h1v1h-1zm24 0h1v1h-1zm10 0h1v1h-1zm6 0h1v1h-1zm2 0h1v1h-1zm225 0h1v1h-1zm-291 1h1v1h-1zm27 0h1v1h-1zm21 0h1v1h-1zm35 0h1v1h-1zm12 0h1v1h-1zm22 0h1v1h-1zm9 0h1v1h-1zm227 0h1v1h-1zm34 0h1v1h-1zm-416 1h1v1h-1zm30 0h1v1h-1zm120 0h1v1h-1zm4 0h1v1h-1zm160 0h1v1h-1zm83 0h1v1h-1zm-358 1h1v1h-1zm19 0h1v1h-1zm19 0h1v1h-1zm4 0h2v1h-2zm33 0h1v1h-1zm-77 1h1v1h-1zm7 0h1v1h-1zm4 0h1v1h-1zm27 0h1v1h-1zm42 0h1v1h-1zm40 0h1v1h-1zm171 0h1v1h-1zm46 0h1v1h-1zm-337 1h1v1h-1zm29 0h1v1h-1zm9 0h1v1h-1zm60 0h1v1h-1zm170 0h1v1h-1zm44 0h1v1h-1zm2 0h1v1h-1zm82 0h1v1h-1zm4 0h1v1h-1zm-426 1h1v1h-1zm302 0h1v1h-1zm138 0h1v1h-1zm12 0h1v1h-1zm2 0h1v1h-1zm-470 2h1v1h-1zm107 0h1v1h-1zm35 0h1v1h-1zm11 0h1v1h-1zm5 0h1v1h-1zm217 0h1v1h-1zm12 0h1v1h-1zm11 0h1v1h-1zm23 0h1v1h-1zm23 0h1v1h-1zm3 0h1v1h-1zm12 0h1v1h-1zm5 0h1v1h-1zm10 0h1v1h-1zm-338 1h1v1h-1zm195 0h1v1h-1zm38 0h1v1h-1zm58 0h1v1h-1zm4 0h1v1h-1zm9 0h1v1h-1zm13 0h1v1h-1zm-356 1h1v1h-1zm9 0h1v1h-1zm23 0h1v1h-1zm47 0h1v1h-1zm-50 1h1v1h-1zm183 0h1v1h-1zm60 0h1v1h-1zm-269 1h1v1h-1zm-100 1h1v1h-1zm58 0h1v1h-1zm56 0h1v1h-1zm23 0h1v1h-1zm-126 1h1v1h-1zm75 0h1v1h-1zm19 0h1v1h-1zm39 0h1v1h-1zm24 0h1v1h-1zm142 0h1v1h-1zm-232 1h1v1h-1zm7 0h1v1h-1zm2 0h1v1h-1zm39 0h1v1h-1zm23 0h1v1h-1zm3 0h1v1h-1zm9 0h1v1h-1zm12 0h1v1h-1zm166 0h1v1h-1zm23 0h1v1h-1zm23 0h1v1h-1zm-357 1h1v1h-1zm24 0h1v1h-1zm4 0h1v1h-1zm7 0h1v1h-1zm17 0h1v1h-1zm9 0h1v1h-1zm73 0h1v1h-1zm-141 1h2v1h-2zm5 0h1v1h-1zm48 0h1v1h-1zm19 0h1v1h-1zm22 0h1v1h-1zm-99 1h1v1h-1zm2 0h1v1h-1zm3 0h1v1h-1zm32 0h1v1h-1zm31 0h1v1h-1zm6 0h1v1h-1zm-43 1h1v1h-1zm301 0h1v1h-1zm-337 1h1v1h-1zm7 0h1v1h-1zm3 0h1v1h-1zm42 0h1v1h-1zm92 0h1v1h-1zm-136 1h1v1h-1zm45 0h1v1h-1zm16 0h1v1h-1zm302 0h1v1h-1zm-360 1h1v1h-1zm13 0h1v1h-1zm15 0h1v1h-1zm101 0h1v1h-1zm-80 1h1v1h-1zm86 1h1v1h-1zm61 2h1v1h-1zm-93 3h1v1h-1zm180 2h1v1h-1zm5 2h1v1h-1zm10 2h1v1h-1zm-37 1h1v1h-1zm-93 2h1v1h-1zm132 0h1v1h-1zm-186 1h1v1h-1zm190 5h1v1h-1zm13 1h1v1h-1zm-17 1h1v1h-1zm7 0h1v1h-1zm25 0h1v1h-1zm-214 1h1v1h-1zm-3 1h1v1h-1zm201 0h1v1h-1zm12 0h1v1h-1zm9 0h1v1h-1zm61 0h1v1h-1zm-421 1h1v1h-1zm143 0h2v1h-2zm-7 1h1v1h-1zm-137 1h1v1h-1zm103 0h1v1h-1zm237 0h1v1h-1zm-211 1h1v1h-1zm8 0h1v1h-1zm2 0h1v1h-1zm168 0h1v1h-1zm-300 1h1v1h-1zm314 0h1v1h-1zm3 0h1v1h-1zm8 0h1v1h-1zm21 0h1v1h-1zm-268 1h1v1h-1zm82 0h1v1h-1zm140 0h1v1h-1zm28 0h1v1h-1zm3 0h1v1h-1zm21 0h1v1h-1zm39 0h1v1h-1zm32 0h1v1h-1zm-312 1h1v1h-1zm19 0h1v1h-1zm235 0h1v1h-1zm-361 1h1v1h-1zm49 0h1v1h-1zm49 0h1v1h-1zm15 0h1v1h-1zm181 0h1v1h-1zm-199 1h1v1h-1zm4 0h2v1h-2zm12 0h1v1h-1zm258 0h1v1h-1zm34 0h1v1h-1zm-378 1h1v1h-1zm84 0h1v1h-1zm261 0h1v1h-1zm9 0h1v1h-1zm29 0h1v1h-1zm27 0h1v1h-1zm7 0h1v1h-1zm-424 1h1v1h-1zm23 0h1v1h-1zm302 0h1v1h-1zm20 0h1v1h-1zm19 0h1v1h-1zm3 0h1v1h-1zm-370 1h1v1h-1zm17 0h1v1h-1zm46 0h1v1h-1zm332 0h2v1h-2zm40 0h1v1h-1zm-441 1h1v1h-1zm59 0h1v1h-1zm15 0h1v1h-1zm3 0h1v1h-1zm4 0h1v1h-1zm14 0h1v1h-1zm215 0h1v1h-1zm7 0h1v1h-1zm-337 1h1v1h-1zm51 0h1v1h-1zm7 0h2v1h-2zm23 0h1v1h-1zm60 0h1v1h-1zm241 0h1v1h-1zm-315 1h1v1h-1zm26 0h1v1h-1zm52 0h1v1h-1zm123 0h1v1h-1zm66 0h1v1h-1zm8 0h1v1h-1zm127 0h1v1h-1zm-399 1h1v1h-1zm244 0h1v1h-1zm28 0h1v1h-1zm12 0h1v1h-1zm7 0h1v1h-1zm16 0h1v1h-1zm69 0h1v1h-1zm5 0h1v1h-1zm-434 1h1v1h-1zm52 0h1v1h-1zm243 0h1v1h-1zm82 0h2v1h-2zm24 0h1v1h-1zm40 0h1v1h-1zm-450 1h1v1h-1zm83 0h1v1h-1zm38 0h1v1h-1zm133 0h1v1h-1zm91 0h1v1h-1zm21 0h1v1h-1zm-367 1h1v1h-1zm35 0h1v1h-1zm334 0h1v1h-1zm5 0h1v1h-1zm55 0h1v1h-1zm8 0h1v1h-1zm-420 1h1v1h-1zm4 0h1v1h-1zm27 0h1v1h-1zm36 0h1v1h-1zm17 0h1v1h-1zm240 0h1v1h-1zm56 0h1v1h-1zm72 0h1v1h-1zm-437 1h1v1h-1zm21 0h1v1h-1zm279 0h1v1h-1zm9 0h1v1h-1zm10 0h1v1h-1zm67 0h1v1h-1zm-387 1h1v1h-1zm13 0h1v1h-1zm25 0h1v1h-1zm11 0h1v1h-1zm258 0h1v1h-1zm79 0h2v1h-2zm19 0h1v1h-1zm-427 1h1v1h-1zm10 0h1v1h-1zm51 0h1v1h-1zm289 0h1v1h-1zm30 0h1v1h-1zm-65 1h1v1h-1zm63 0h1v1h-1zm-337 1h1v1h-1zm5 0h1v1h-1zm346 0h1v1h-1zm-16 1h1v1h-1zm-290 1h1v1h-1zm297 0h1v1h-1zm2 0h1v1h-1zm-346 1h1v1h-1zm334 0h1v1h-1zm49 0h1v1h-1zm-369 3h1v1h-1zm231 0h1v1h-1zm101 0h1v1h-1zm-55 2h1v1h-1zm-116 2h1v1h-1zm77 0h1v1h-1zm74 8h1v1h-1zm-156 5h1v1h-1zm82 4h1v1h-1zm-94 1h1v1h-1zm99 2h1v1h-1zm2 4h1v1h-1zm2 0h1v1h-1zm-238 1h1v1h-1zm-36 2h1v1h-1zm355 1h1v1h-1zm-50 2h1v1h-1zm69 2h1v1h-1zm-14 1h1v1h-1zm-85 1h1v1h-1zm-196 1h1v1h-1zm206 0h1v1h-1zm-217 1h1v1h-1zm301 0h1v1h-1zm-308 1h1v1h-1zm33 0h1v1h-1zm259 0h1v1h-1zm6 0h1v1h-1zm-271 1h1v1h-1zm3 0h1v1h-1zm303 0h1v1h-1zm-43 1h1v1h-1zm-308 1h1v1h-1zm9 0h1v1h-1zm2 0h1v1h-1zm12 0h1v1h-1zm15 0h1v1h-1zm203 0h1v1h-1zm3 0h1v1h-1zm125 0h1v1h-1zm-359 1h1v1h-1zm0 1h1v1h-1zm27 0h1v1h-1zm11 0h1v1h-1zm4 0h1v1h-1zm187 0h1v1h-1zm-206 1h1v1h-1zm10 0h1v1h-1zm210 0h1v1h-1zm42 0h1v1h-1zm-251 1h2v1h-2zm-40 1h1v1h-1zm25 0h2v1h-2zm18 0h1v1h-1zm209 0h1v1h-1zm73 0h1v1h-1zm51 0h1v1h-1zm-347 1h1v1h-1zm139 0h1v1h-1zm76 0h1v1h-1zm55 0h1v1h-1zm26 0h1v1h-1zm-331 1h1v1h-1zm22 0h1v1h-1zm2 0h1v1h-1zm11 0h1v1h-1zm5 0h1v1h-1zm259 0h1v1h-1zm26 0h1v1h-1zm50 0h1v1h-1zm-457 1h1v1h-1zm96 0h1v1h-1zm2 0h1v1h-1zm14 0h1v1h-1zm22 0h1v1h-1zm55 0h1v1h-1zm203 0h1v1h-1zm33 0h1v1h-1zm-339 1h1v1h-1zm31 0h1v1h-1zm11 0h1v1h-1zm189 0h1v1h-1zm-218 1h1v1h-1zm28 0h1v1h-1zm214 0h1v1h-1zm6 0h1v1h-1zm20 0h1v1h-1zm23 0h2v1h-2zm4 0h2v1h-2zm-304 1h1v1h-1zm54 0h1v1h-1zm248 0h1v1h-1zm8 0h1v1h-1zm-354 1h1v1h-1zm36 0h1v1h-1zm7 0h1v1h-1zm39 0h1v1h-1zm256 0h1v1h-1zm14 0h1v1h-1zm54 0h3v1h-3zm5 0h1v1h-1zm13 0h1v1h-1zm6 0h1v1h-1zm-442 1h1v1h-1zm38 0h1v1h-1zm19 0h1v1h-1zm264 0h1v1h-1zm11 0h1v1h-1zm14 0h1v1h-1zm19 0h1v1h-1zm17 0h2v1h-2zm5 0h1v1h-1zm-342 1h1v1h-1zm37 0h1v1h-1zm28 0h1v1h-1zm224 0h1v1h-1zm18 0h1v1h-1zm6 0h1v1h-1zm82 0h1v1h-1zm-451 1h1v1h-1zm15 0h1v1h-1zm35 0h1v1h-1zm249 0h1v1h-1zm71 0h1v1h-1zm31 0h1v1h-1zm3 0h1v1h-1zm-413 1h1v1h-1zm14 0h1v1h-1zm16 0h1v1h-1zm27 0h1v1h-1zm46 0h1v1h-1zm222 0h1v1h-1zm4 0h1v1h-1zm19 0h1v1h-1zm7 0h1v1h-1zm17 0h1v1h-1zm15 0h1v1h-1zm11 0h1v1h-1zm19 0h1v1h-1zm19 0h1v1h-1zm4 0h1v1h-1zm9 0h1v1h-1zm-455 1h1v1h-1zm15 0h1v1h-1zm14 0h1v1h-1zm38 0h1v1h-1zm27 0h1v1h-1zm10 0h1v1h-1zm6 0h1v1h-1zm246 0h1v1h-1zm31 0h1v1h-1zm45 0h1v1h-1zm14 0h1v1h-1zm-403 1h1v1h-1zm21 0h1v1h-1zm24 0h1v1h-1zm211 0h1v1h-1zm121 0h1v1h-1zm4 0h1v1h-1zm39 0h1v1h-1zm-371 1h1v1h-1zm217 0h1v1h-1zm5 0h1v1h-1zm133 0h1v1h-1zm-432 1h1v1h-1zm21 0h2v1h-2zm8 0h1v1h-1zm25 0h1v1h-1zm167 0h1v1h-1zm81 0h2v1h-2zm81 0h1v1h-1zm2 0h1v1h-1zm7 0h1v1h-1zm8 0h1v1h-1zm31 0h1v1h-1zm-433 1h1v1h-1zm43 0h1v1h-1zm11 0h1v1h-1zm235 0h1v1h-1zm82 0h1v1h-1zm32 0h1v1h-1zm40 0h1v1h-1zm-333 1h1v1h-1zm177 0h1v1h-1zm-252 1h1v1h-1zm2 0h1v1h-1zm45 0h1v1h-1zm209 0h1v1h-1zm56 0h1v1h-1zm61 0h1v1h-1zm-113 1h1v1h-1zm16 0h1v1h-1zm26 0h1v1h-1zm-228 1h1v1h-1zm185 0h1v1h-1zm18 0h1v1h-1zm24 0h1v1h-1zm3 0h1v1h-1zm-356 1h1v1h-1zm50 0h1v1h-1zm258 0h1v1h-1zm15 0h1v1h-1zm9 0h1v1h-1zm10 0h1v1h-1zm14 0h1v1h-1zm22 0h1v1h-1zm25 0h1v1h-1zm-338 1h1v1h-1zm55 0h1v1h-1zm184 0h1v1h-1zm-300 1h1v1h-1zm53 0h1v1h-1zm259 0h1v1h-1zm2 0h1v1h-1zm68 0h1v1h-1zm-323 1h1v1h-1zm273 0h1v1h-1zm10 0h1v1h-1zm100 0h1v1h-1zm18 0h1v1h-1zm-459 1h1v1h-1zm90 0h1v1h-1zm217 0h1v1h-1zm28 0h1v1h-1zm9 0h1v1h-1zm4 0h2v1h-2zm9 0h1v1h-1zm36 0h1v1h-1zm15 0h1v1h-1zm23 0h1v1h-1zm26 0h1v1h-1zm11 0h1v1h-1zm-390 1h1v1h-1zm25 0h1v1h-1zm30 0h1v1h-1zm217 0h1v1h-1zm79 0h1v1h-1zm9 0h1v1h-1zm29 0h1v1h-1zm-443 1h1v1h-1zm292 0h1v1h-1zm2 0h1v1h-1zm13 0h1v1h-1zm-282 1h1v1h-1zm24 0h1v1h-1zm5 0h1v1h-1zm250 0h1v1h-1zm29 0h1v1h-1zm67 0h1v1h-1zm-407 1h2v1h-2zm3 0h1v1h-1zm4 0h1v1h-1zm2 0h2v1h-2zm65 0h1v1h-1zm11 0h1v1h-1zm291 0h1v1h-1zm25 0h2v1h-2zm-419 1h1v1h-1zm15 0h1v1h-1zm25 0h1v1h-1zm26 0h1v1h-1zm83 0h1v1h-1zm183 0h1v1h-1zm-322 1h1v1h-1zm11 0h1v1h-1zm26 0h1v1h-1zm3 0h1v1h-1zm8 0h1v1h-1zm243 0h1v1h-1zm30 0h1v1h-1zm39 0h1v1h-1zm45 0h1v1h-1zm9 0h1v1h-1zm22 0h1v1h-1zm-443 1h1v1h-1zm2 0h1v1h-1zm25 0h1v1h-1zm11 0h1v1h-1zm6 0h1v1h-1zm7 0h1v1h-1zm248 0h1v1h-1zm33 0h1v1h-1zm86 0h1v1h-1zm47 0h1v1h-1zm-419 1h1v1h-1zm21 0h1v1h-1zm254 0h1v1h-1zm59 0h1v1h-1zm-373 1h1v1h-1zm52 0h1v1h-1zm10 0h1v1h-1zm326 0h1v1h-1zm47 0h1v1h-1zm-385 1h1v1h-1zm249 0h1v1h-1zm52 0h1v1h-1zm19 0h1v1h-1zm4 0h1v1h-1zm65 0h1v1h-1zm-434 1h1v1h-1zm27 0h1v1h-1zm259 0h1v1h-1zm-289 1h1v1h-1zm4 0h2v1h-2zm9 0h1v1h-1zm374 0h1v1h-1zm37 0h1v1h-1zm-380 1h1v1h-1zm3 0h1v1h-1zm404 0h1v1h-1zm-431 1h1v1h-1zm21 0h1v1h-1zm1 1h1v1h-1zm261 0h1v1h-1zm1 1h1v1h-1zm-9 2h1v1h-1zm-113 1h1v1h-1zm135 0h1v1h-1zm-24 1h1v1h-1zm13 0h1v1h-1zm35 0h1v1h-1zm-31 1h1v1h-1zm-20 1h1v1h-1zm10 0h1v1h-1zm11 0h1v1h-1zm-180 2h1v1h-1zm173 0h1v1h-1zm42 0h1v1h-1zm-52 1h1v1h-1zm9 0h1v1h-1zm114 0h1v1h-1zm3 0h1v1h-1zm-90 1h1v1h-1zm96 0h1v1h-1zm-323 1h1v1h-1zm197 0h1v1h-1zm17 0h1v1h-1zm13 0h1v1h-1zm82 1h1v1h-1zm6 0h1v1h-1zm-311 1h1v1h-1zm191 0h1v1h-1zm57 0h1v1h-1zm-261 1h1v1h-1zm230 0h1v1h-1zm45 0h1v1h-1zm58 0h1v1h-1zm-138 1h1v1h-1zm69 0h1v1h-1zm64 0h1v1h-1zm-331 1h1v1h-1zm20 0h1v1h-1zm187 0h1v1h-1zm101 0h1v1h-1zm15 0h1v1h-1zm4 0h1v1h-1zm-344 1h1v1h-1zm20 0h1v1h-1zm222 0h1v1h-1zm98 0h1v1h-1zm-310 1h1v1h-1zm3 0h1v1h-1zm13 0h1v1h-1zm212 0h1v1h-1zm8 0h1v1h-1zm55 0h2v1h-2zm19 0h1v1h-1zm-326 1h1v1h-1zm5 0h1v1h-1zm202 0h1v1h-1zm101 0h1v1h-1zm12 0h1v1h-1zm2 0h1v1h-1zm-331 1h1v1h-1zm28 0h1v1h-1zm202 0h1v1h-1zm26 0h1v1h-1zm5 0h1v1h-1zm23 0h1v1h-1zm90 0h1v1h-1zm-371 1h1v1h-1zm10 0h1v1h-1zm5 0h1v1h-1zm3 0h1v1h-1zm5 0h1v1h-1zm202 0h1v1h-1zm44 0h1v1h-1zm56 0h1v1h-1zm11 0h1v1h-1zm-33 1h1v1h-1zm29 0h1v1h-1zm-328 1h1v1h-1zm31 0h1v1h-1zm284 0h1v1h-1zm18 0h1v1h-1zm7 0h1v1h-1zm21 0h1v1h-1zm-349 1h1v1h-1zm6 0h1v1h-1zm4 0h1v1h-1zm208 0h1v1h-1zm23 0h1v1h-1zm20 0h1v1h-1zm67 0h1v1h-1zm-447 1h1v1h-1zm127 0h1v1h-1zm205 0h1v1h-1zm99 0h1v1h-1zm18 0h1v1h-1zm-406 1h1v1h-1zm69 0h1v1h-1zm2 0h2v1h-2zm5 0h1v1h-1zm225 0h1v1h-1zm49 0h1v1h-1zm25 0h1v1h-1zm2 0h1v1h-1zm12 0h1v1h-1zm6 0h1v1h-1zm12 0h1v1h-1zm2 0h1v1h-1zm-411 1h1v1h-1zm51 0h1v1h-1zm3 0h1v1h-1zm196 0h1v1h-1zm64 0h1v1h-1zm33 0h1v1h-1zm61 0h1v1h-1zm-444 1h1v1h-1zm92 0h1v1h-1zm2 0h1v1h-1zm3 0h1v1h-1zm206 0h1v1h-1zm5 0h1v1h-1zm60 0h1v1h-1zm6 0h1v1h-1zm40 0h1v1h-1zm34 0h1v1h-1zm2 0h1v1h-1zm16 0h1v1h-1zm-471 1h1v1h-1zm30 0h1v1h-1zm10 0h1v1h-1zm8 0h1v1h-1zm35 0h1v1h-1zm41 0h1v1h-1zm14 0h1v1h-1zm4 0h1v1h-1zm246 0h1v1h-1zm58 0h1v1h-1zm8 0h1v1h-1zm3 0h1v1h-1zm10 0h1v1h-1zm-461 1h1v1h-1zm9 0h1v1h-1zm17 0h2v1h-2zm6 0h1v1h-1zm34 0h1v1h-1zm25 0h1v1h-1zm225 0h1v1h-1zm18 0h1v1h-1zm56 0h1v1h-1zm6 0h1v1h-1zm43 0h1v1h-1zm-418 1h1v1h-1zm19 0h1v1h-1zm2 0h1v1h-1zm39 0h1v1h-1zm32 0h1v1h-1zm258 0h1v1h-1zm7 0h1v1h-1zm2 0h1v1h-1zm33 0h1v1h-1zm-338 1h1v1h-1zm387 0h1v1h-1zm-443 1h1v1h-1zm11 0h1v1h-1zm18 0h3v1h-3zm339 0h1v1h-1zm18 0h1v1h-1zm-327 1h1v1h-1zm8 0h1v1h-1zm48 0h1v1h-1zm174 0h1v1h-1zm7 0h1v1h-1zm95 0h1v1h-1zm10 0h1v1h-1zm31 0h1v1h-1zm-438 1h1v1h-1zm32 0h1v1h-1zm46 0h1v1h-1zm331 0h1v1h-1zm2 0h1v1h-1zm-402 1h1v1h-1zm10 0h1v1h-1zm15 0h1v1h-1zm-38 1h1v1h-1zm2 0h1v1h-1zm34 0h1v1h-1zm53 0h1v1h-1zm221 0h1v1h-1zm-199 1h1v1h-1zm4 0h1v1h-1zm230 0h1v1h-1zm-303 1h1v1h-1zm256 0h1v1h-1zm18 0h1v1h-1zm3 0h1v1h-1zm74 0h1v1h-1zm38 0h1v1h-1zm-322 1h1v1h-1zm210 0h1v1h-1zm6 0h1v1h-1zm-20 1h1v1h-1zm8 0h1v1h-1zm5 0h1v1h-1zm10 0h1v1h-1zm111 0h1v1h-1zm-389 1h1v1h-1zm212 0h1v1h-1zm96 0h1v1h-1zm44 0h1v1h-1zm13 0h1v1h-1zm14 0h1v1h-1zm25 0h1v1h-1zm-126 1h1v1h-1zm12 0h1v1h-1zm59 0h1v1h-1zm-43 1h1v1h-1zm12 0h1v1h-1zm15 0h1v1h-1zm32 0h1v1h-1zm-430 1h1v1h-1zm3 0h1v1h-1zm44 0h1v1h-1zm68 0h1v1h-1zm31 0h1v1h-1zm198 0h1v1h-1zm2 0h1v1h-1zm55 0h1v1h-1zm46 0h1v1h-1zm3 0h1v1h-1zm-446 1h1v1h-1zm26 0h1v1h-1zm53 0h1v1h-1zm39 0h1v1h-1zm206 0h1v1h-1zm57 0h1v1h-1zm32 0h1v1h-1zm16 0h1v1h-1zm-394 1h2v1h-2zm5 0h1v1h-1zm2 0h1v1h-1zm80 0h1v1h-1zm16 0h1v1h-1zm225 0h1v1h-1zm4 0h1v1h-1zm21 0h1v1h-1zm82 0h1v1h-1zm-445 1h1v1h-1zm65 0h1v1h-1zm5 0h1v1h-1zm14 0h1v1h-1zm5 0h1v1h-1zm22 0h1v1h-1zm203 0h1v1h-1zm29 0h1v1h-1zm49 0h1v1h-1zm2 0h1v1h-1zm8 0h1v1h-1zm13 0h1v1h-1zm18 0h1v1h-1zm-432 1h1v1h-1zm2 0h1v1h-1zm7 0h2v1h-2zm4 0h1v1h-1zm36 0h1v1h-1zm23 0h1v1h-1zm35 0h1v1h-1zm267 0h1v1h-1zm43 0h1v1h-1zm-443 1h1v1h-1zm12 0h1v1h-1zm21 0h1v1h-1zm5 0h1v1h-1zm20 0h1v1h-1zm28 0h1v1h-1zm22 0h1v1h-1zm8 0h1v1h-1zm19 0h1v1h-1zm2 0h1v1h-1zm55 0h1v1h-1zm151 0h1v1h-1zm125 0h1v1h-1zm-443 1h1v1h-1zm14 0h1v1h-1zm22 0h1v1h-1zm43 0h1v1h-1zm4 0h1v1h-1zm218 0h1v1h-1zm27 0h1v1h-1zm23 0h1v1h-1zm58 0h1v1h-1zm-417 1h1v1h-1zm61 0h1v1h-1zm379 0h1v1h-1zm16 0h1v1h-1zm-467 1h1v1h-1zm6 0h1v1h-1zm10 0h1v1h-1zm5 0h1v1h-1zm44 0h1v1h-1zm11 0h1v1h-1zm315 0h1v1h-1zm-57 1h1v1h-1zm30 0h1v1h-1zm-362 1h1v1h-1zm37 0h1v1h-1zm95 0h1v1h-1zm298 0h1v1h-1zm-416 1h1v1h-1zm28 0h1v1h-1zm7 0h1v1h-1zm394 0h1v1h-1zm-388 1h1v1h-1zm9 0h1v1h-1zm6 0h1v1h-1zm24 0h1v1h-1zm39 0h1v1h-1zm215 0h1v1h-1zm60 0h1v1h-1zm22 0h1v1h-1zm-364 1h1v1h-1zm28 0h1v1h-1zm210 0h1v1h-1zm48 1h1v1h-1zm-314 1h1v1h-1zm17 0h1v1h-1zm4 0h1v1h-1zm3 0h1v1h-1zm275 0h1v1h-1zm10 0h1v1h-1zm48 0h1v1h-1zm56 0h1v1h-1zm7 0h1v1h-1zm-406 2h1v1h-1zm-27 1h1v1h-1zm21 0h1v1h-1zm2 0h1v1h-1zm168 0h1v1h-1zm-178 1h1v1h-1zm18 0h1v1h-1zm306 0h1v1h-1zm-299 1h1v1h-1zm288 0h1v1h-1zm44 0h1v1h-1zm-356 1h1v1h-1zm15 2h1v1h-1zm373 0h1v1h-1zm17 0h1v1h-1zm-401 2h1v1h-1zm14 1h1v1h-1zm3 2h1v1h-1zm-13 3h1v1h-1zm125 3h1v1h-1zm-31 6h1v1h-1zm-60 3h1v1h-1zm290 1h1v1h-1zm-331 6h1v1h-1zm307 0h1v1h-1zm-220 2h1v1h-1zm19 0h1v1h-1zm213 0h1v1h-1zm-283 1h1v1h-1zm360 5h1v1h-1zm-23 4h1v1h-1zm-260 3h1v1h-1zm242 0h1v1h-1zm-93 1h1v1h-1zm-3 1h1v1h-1zm12 0h1v1h-1zm7 0h1v1h-1zm0 3h1v1h-1zm-221 1h1v1h-1zm208 1h1v1h-1zm33 1h1v1h-1zm-6 3h1v1h-1zm13 0h1v1h-1zm3 0h1v1h-1zm103 0h1v1h-1zm-26 1h1v1h-1zm-65 1h1v1h-1zm64 0h1v1h-1zm4 0h1v1h-1zm-119 1h1v1h-1zm12 0h1v1h-1zm108 0h1v1h-1zm-114 1h1v1h-1zm14 1h1v1h-1zm101 0h1v1h-1zm-98 1h1v1h-1zm38 0h1v1h-1zm-254 1h1v1h-1zm182 0h1v1h-1zm139 0h1v1h-1zm-138 1h1v1h-1zm28 0h1v1h-1zm35 0h1v1h-1zm21 0h1v1h-1zm-68 1h1v1h-1zm23 0h1v1h-1zm10 0h1v1h-1zm56 1h1v1h-1zm4 0h1v1h-1zm22 0h1v1h-1zm21 0h1v1h-1zm2 0h1v1h-1zm-345 1h1v1h-1zm28 0h1v1h-1zm187 0h1v1h-1zm6 0h1v1h-1zm9 0h1v1h-1zm3 0h1v1h-1zm97 0h1v1h-1zm13 0h1v1h-1zm-457 1h1v1h-1zm120 0h1v1h-1zm4 0h2v1h-2zm288 0h1v1h-1zm23 0h1v1h-1zm3 0h1v1h-1zm-315 1h1v1h-1zm243 0h1v1h-1zm30 0h1v1h-1zm-313 1h1v1h-1zm41 0h1v1h-1zm4 0h1v1h-1zm181 0h1v1h-1zm-306 1h1v1h-1zm34 0h1v1h-1zm56 0h1v1h-1zm26 0h1v1h-1zm195 0h1v1h-1zm30 0h1v1h-1zm30 0h1v1h-1zm22 0h1v1h-1zm9 0h1v1h-1zm43 0h1v1h-1zm-447 1h1v1h-1zm36 0h1v1h-1zm57 0h1v1h-1zm12 0h2v1h-2zm7 0h1v1h-1zm193 0h1v1h-1zm37 0h1v1h-1zm4 0h1v1h-1zm20 0h1v1h-1zm13 0h1v1h-1zm5 0h1v1h-1zm41 0h1v1h-1zm-403 1h1v1h-1zm26 0h1v1h-1zm50 0h1v1h-1zm219 0h1v1h-1zm95 0h1v1h-1zm20 0h1v1h-1zm-383 1h1v1h-1zm28 0h1v1h-1zm9 0h1v1h-1zm4 0h1v1h-1zm10 0h1v1h-1zm12 0h1v1h-1zm322 0h1v1h-1zm32 0h1v1h-1zm-457 1h1v1h-1zm2 0h1v1h-1zm12 0h1v1h-1zm53 0h1v1h-1zm25 0h1v1h-1zm2 0h1v1h-1zm217 0h1v1h-1zm82 0h1v1h-1zm-389 1h1v1h-1zm31 0h1v1h-1zm3 0h1v1h-1zm41 0h1v1h-1zm304 0h1v1h-1zm76 0h1v1h-1zm-445 1h1v1h-1zm37 0h1v1h-1zm245 0h1v1h-1zm-295 1h1v1h-1zm11 0h1v1h-1zm45 0h1v1h-1zm39 0h1v1h-1zm220 0h1v1h-1zm11 0h1v1h-1zm8 0h1v1h-1zm32 0h1v1h-1zm27 0h1v1h-1zm36 0h1v1h-1zm13 0h1v1h-1zm17 0h1v1h-1zm-417 1h1v1h-1zm3 0h1v1h-1zm268 0h1v1h-1zm22 0h1v1h-1zm34 0h1v1h-1zm-324 1h1v1h-1zm277 0h1v1h-1zm17 0h1v1h-1zm74 0h1v1h-1zm17 0h1v1h-1zm5 0h1v1h-1zm-388 1h1v1h-1zm294 0h1v1h-1zm13 0h1v1h-1zm17 0h1v1h-1zm47 0h1v1h-1zm13 0h1v1h-1zm-138 1h1v1h-1zm38 0h1v1h-1zm33 0h2v1h-2zm-375 1h1v1h-1zm141 0h1v1h-1zm212 0h1v1h-1zm38 0h1v1h-1zm32 0h1v1h-1zm-426 1h1v1h-1zm93 0h1v1h-1zm22 0h1v1h-1zm2 0h1v1h-1zm7 0h1v1h-1zm26 0h1v1h-1zm186 0h1v1h-1zm14 0h1v1h-1zm28 0h1v1h-1zm4 0h1v1h-1zm20 0h1v1h-1zm30 0h1v1h-1zm44 0h1v1h-1zm-477 1h3v1h-3zm21 0h1v1h-1zm74 0h1v1h-1zm40 0h1v1h-1zm5 0h1v1h-1zm7 0h1v1h-1zm226 0h1v1h-1zm-356 1h1v1h-1zm58 0h1v1h-1zm258 0h1v1h-1zm10 0h1v1h-1zm4 0h1v1h-1zm74 0h1v1h-1zm49 0h1v1h-1zm2 0h1v1h-1zm-463 1h1v1h-1zm16 0h1v1h-1zm9 0h1v1h-1zm5 0h1v1h-1zm56 0h1v1h-1zm265 0h1v1h-1zm4 0h1v1h-1zm43 0h1v1h-1zm2 0h1v1h-1zm41 0h1v1h-1zm-427 1h1v1h-1zm12 0h1v1h-1zm44 0h1v1h-1zm20 0h1v1h-1zm222 0h1v1h-1zm25 0h1v1h-1zm62 0h1v1h-1zm9 0h1v1h-1zm5 0h1v1h-1zm26 0h1v1h-1zm5 0h1v1h-1zm-445 1h1v1h-1zm5 0h1v1h-1zm36 0h1v1h-1zm34 0h1v1h-1zm2 0h1v1h-1zm11 0h1v1h-1zm42 0h1v1h-1zm9 0h1v1h-1zm311 0h1v1h-1zm-435 1h1v1h-1zm7 0h1v1h-1zm18 0h1v1h-1zm63 0h1v1h-1zm38 0h1v1h-1zm273 0h1v1h-1zm-411 1h1v1h-1zm105 0h1v1h-1zm227 0h1v1h-1zm20 0h1v1h-1zm43 0h1v1h-1zm55 0h1v1h-1zm-443 1h1v1h-1zm3 0h1v1h-1zm34 0h1v1h-1zm17 0h1v1h-1zm79 0h1v1h-1zm213 0h1v1h-1zm24 0h1v1h-1zm61 0h1v1h-1zm-384 1h1v1h-1zm6 0h1v1h-1zm37 0h1v1h-1zm300 0h1v1h-1zm69 0h1v1h-1zm-461 1h1v1h-1zm42 0h1v1h-1zm2 0h1v1h-1zm317 0h1v1h-1zm-226 1h1v1h-1zm-93 1h1v1h-1zm4 0h1v1h-1zm202 0h1v1h-1zm-197 1h1v1h-1zm25 0h1v1h-1zm219 0h1v1h-1zm103 2h1v1h-1zm-362 1h1v1h-1zm6 0h1v1h-1zm-1 1h1v1h-1zm7 0h1v1h-1zm295 1h1v1h-1zm-141 3h1v1h-1zm117 0h1v1h-1zm-301 4h1v1h-1zm121 3h1v1h-1zm50 2h1v1h-1zm259 2h1v1h-1zm-14 18h1v1h-1zm-107 2h1v1h-1zm-178 1h1v1h-1zm-68 2h1v1h-1zm192 1h1v1h-1zm-143 2h1v1h-1zm144 0h1v1h-1zm69 1h1v1h-1zm-322 6h1v1h-1zm246 0h1v1h-1zm5 3h1v1h-1zm-273 3h1v1h-1zm100 1h1v1h-1zm-70 1h1v1h-1zm258 4h1v1h-1zm95 4h1v1h-1zm11 1h1v1h-1z"/><path fill="#0000bf" d="m355 3h1v1h-1zm-111 14h1v1h-1zm-58 7h1v1h-1zm-164 10h1v1h-1zm219 10h1v1h-1zm1 7h1v1h-1zm9 11h1v1h-1zm-138 18h1v1h-1zm-9 5h1v1h-1zm59 1h1v1h-1zm153 7h1v1h-1zm-312 2h1v1h-1zm309 0h1v1h-1zm-1 1h1v1h-1zm-306 1h1v1h-1zm307 0h1v1h-1zm-303 1h1v1h-1zm130 0h1v1h-1zm-31 1h1v1h-1zm214 0h1v1h-1zm-323 1h1v1h-1zm128 0h1v1h-1zm179 0h1v1h-1zm-204 2h1v1h-1zm72 0h1v1h-1zm-71 1h1v1h-1zm2 0h1v1h-1zm289 0h1v1h-1zm-296 1h1v1h-1zm79 0h1v1h-1zm-176 1h1v1h-1zm39 0h1v1h-1zm21 0h1v1h-1zm90 0h1v1h-1zm-149 1h1v1h-1zm7 0h1v1h-1zm33 0h1v1h-1zm14 0h1v1h-1zm2 0h1v1h-1zm13 0h1v1h-1zm9 0h1v1h-1zm26 0h1v1h-1zm201 0h1v1h-1zm20 0h1v1h-1zm107 0h1v1h-1zm-262 1h1v1h-1zm2 0h1v1h-1zm141 0h1v1h-1zm85 0h1v1h-1zm73 0h1v1h-1zm-461 1h1v1h-1zm49 0h1v1h-1zm21 0h1v1h-1zm38 0h1v1h-1zm25 0h1v1h-1zm26 0h1v1h-1zm142 0h1v1h-1zm21 0h1v1h-1zm-278 1h1v1h-1zm5 0h1v1h-1zm15 0h1v1h-1zm17 0h1v1h-1zm6 0h1v1h-1zm57 0h1v1h-1zm76 0h1v1h-1zm150 0h1v1h-1zm68 0h1v1h-1zm-438 1h1v1h-1zm13 0h1v1h-1zm26 0h2v1h-2zm35 0h1v1h-1zm8 0h1v1h-1zm21 0h1v1h-1zm7 0h1v1h-1zm179 0h1v1h-1zm49 0h1v1h-1zm-308 1h1v1h-1zm12 0h1v1h-1zm19 0h1v1h-1zm26 0h1v1h-1zm26 0h2v1h-2zm28 0h1v1h-1zm4 0h1v1h-1zm194 0h1v1h-1zm-341 1h1v1h-1zm73 0h1v1h-1zm254 0h1v1h-1zm-302 1h1v1h-1zm7 0h1v1h-1zm5 0h1v1h-1zm32 0h1v1h-1zm13 0h1v1h-1zm32 0h1v1h-1zm36 0h1v1h-1zm282 0h1v1h-1zm2 0h1v1h-1zm-265 1h1v1h-1zm150 0h1v1h-1zm61 0h1v1h-1zm44 0h1v1h-1zm-327 1h1v1h-1zm71 0h1v1h-1zm159 0h1v1h-1zm63 0h1v1h-1zm14 0h1v1h-1zm9 0h1v1h-1zm23 0h1v1h-1zm-380 1h1v1h-1zm303 0h1v1h-1zm10 0h1v1h-1zm34 0h1v1h-1zm43 0h1v1h-1zm5 0h1v1h-1zm-311 1h1v1h-1zm230 0h1v1h-1zm54 0h1v1h-1zm8 0h1v1h-1zm34 0h1v1h-1zm-445 1h1v1h-1zm139 0h1v1h-1zm2 0h1v1h-1zm253 0h1v1h-1zm6 0h1v1h-1zm-313 1h1v1h-1zm22 0h1v1h-1zm129 0h1v1h-1zm56 0h1v1h-1zm80 0h1v1h-1zm20 0h1v1h-1zm-249 1h1v1h-1zm-78 1h1v1h-1zm10 0h1v1h-1zm23 0h1v1h-1zm16 0h1v1h-1zm25 0h1v1h-1zm235 0h1v1h-1zm-402 1h1v1h-1zm2 0h1v1h-1zm8 0h1v1h-1zm49 0h1v1h-1zm12 0h1v1h-1zm6 0h1v1h-1zm19 0h1v1h-1zm29 0h1v1h-1zm14 0h1v1h-1zm3 0h1v1h-1zm21 0h1v1h-1zm-164 1h1v1h-1zm18 0h1v1h-1zm68 0h2v1h-2zm36 0h1v1h-1zm2 0h1v1h-1zm35 0h1v1h-1zm201 0h1v1h-1zm-346 1h1v1h-1zm45 0h1v1h-1zm10 0h1v1h-1zm12 0h1v1h-1zm4 0h1v1h-1zm3 0h1v1h-1zm20 0h1v1h-1zm41 0h1v1h-1zm-128 1h1v1h-1zm14 0h1v1h-1zm74 0h1v1h-1zm4 0h1v1h-1zm38 0h1v1h-1zm250 0h1v1h-1zm-395 1h1v1h-1zm28 0h1v1h-1zm5 0h1v1h-1zm21 0h1v1h-1zm89 0h1v1h-1zm240 0h1v1h-1zm-379 1h1v1h-1zm13 0h1v1h-1zm23 0h1v1h-1zm29 0h1v1h-1zm78 0h1v1h-1zm-135 2h1v1h-1zm16 0h1v1h-1zm122 0h1v1h-1zm-72 1h1v1h-1zm344 1h1v1h-1zm-383 2h1v1h-1zm18 0h1v1h-1zm383 6h1v1h-1zm-335 6h1v1h-1zm143 5h1v1h-1zm-118 1h1v1h-1zm-1 2h1v1h-1zm276 0h1v1h-1zm-408 1h1v1h-1zm313 1h1v1h-1zm3 0h1v1h-1zm38 0h1v1h-1zm-359 1h1v1h-1zm5 0h1v1h-1zm319 0h1v1h-1zm58 0h1v1h-1zm-381 1h1v1h-1zm322 0h1v1h-1zm-145 1h1v1h-1zm31 0h1v1h-1zm106 0h1v1h-1zm-192 1h1v1h-1zm210 0h1v1h-1zm-325 1h1v1h-1zm136 0h1v1h-1zm164 0h1v1h-1zm4 0h1v1h-1zm76 0h1v1h-1zm3 1h1v1h-1zm5 0h1v1h-1zm-386 1h1v1h-1zm31 0h1v1h-1zm68 0h1v1h-1zm200 0h1v1h-1zm11 0h1v1h-1zm50 0h1v1h-1zm15 0h1v1h-1zm14 0h1v1h-1zm-276 1h1v1h-1zm5 0h1v1h-1zm13 0h1v1h-1zm127 0h1v1h-1zm124 0h1v1h-1zm6 0h1v1h-1zm-391 1h1v1h-1zm35 0h1v1h-1zm96 0h1v1h-1zm168 0h1v1h-1zm53 0h1v1h-1zm36 0h1v1h-1zm24 0h1v1h-1zm5 0h1v1h-1zm-385 1h1v1h-1zm58 0h2v1h-2zm32 0h1v1h-1zm193 0h1v1h-1zm-277 1h1v1h-1zm264 0h1v1h-1zm-301 1h1v1h-1zm25 0h1v1h-1zm9 0h1v1h-1zm2 0h1v1h-1zm31 0h1v1h-1zm65 0h1v1h-1zm271 0h1v1h-1zm25 0h1v1h-1zm8 0h1v1h-1zm-432 1h1v1h-1zm3 0h1v1h-1zm7 0h1v1h-1zm10 0h1v1h-1zm68 0h1v1h-1zm228 0h1v1h-1zm33 0h1v1h-1zm51 0h1v1h-1zm47 0h1v1h-1zm-443 1h1v1h-1zm11 0h1v1h-1zm57 0h1v1h-1zm12 0h1v1h-1zm252 0h1v1h-1zm17 0h1v1h-1zm42 0h1v1h-1zm-336 1h1v1h-1zm9 0h1v1h-1zm274 0h1v1h-1zm-341 1h1v1h-1zm48 0h1v1h-1zm2 0h1v1h-1zm4 0h1v1h-1zm2 0h1v1h-1zm6 0h1v1h-1zm7 0h1v1h-1zm45 0h1v1h-1zm251 0h1v1h-1zm46 0h1v1h-1zm-369 1h1v1h-1zm4 0h1v1h-1zm5 0h1v1h-1zm315 0h1v1h-1zm35 0h1v1h-1zm33 0h1v1h-1zm-441 1h1v1h-1zm59 0h1v1h-1zm41 0h1v1h-1zm38 0h1v1h-1zm186 0h1v1h-1zm4 0h1v1h-1zm93 0h1v1h-1zm4 0h1v1h-1zm43 0h1v1h-1zm-445 1h1v1h-1zm78 0h1v1h-1zm75 0h1v1h-1zm162 0h1v1h-1zm33 0h1v1h-1zm2 0h1v1h-1zm3 0h1v1h-1zm7 0h1v1h-1zm52 0h1v1h-1zm5 0h1v1h-1zm30 0h1v1h-1zm-405 1h1v1h-1zm36 0h1v1h-1zm6 0h1v1h-1zm9 0h1v1h-1zm22 0h1v1h-1zm209 0h1v1h-1zm7 0h1v1h-1zm74 0h1v1h-1zm-415 1h1v1h-1zm8 0h1v1h-1zm57 0h1v1h-1zm14 0h1v1h-1zm14 0h1v1h-1zm218 0h1v1h-1zm7 0h1v1h-1zm79 0h1v1h-1zm-365 1h1v1h-1zm59 0h1v1h-1zm281 0h1v1h-1zm66 0h1v1h-1zm-108 1h1v1h-1zm-310 1h1v1h-1zm23 0h1v1h-1zm6 0h1v1h-1zm22 0h1v1h-1zm248 0h1v1h-1zm-296 1h1v1h-1zm29 0h1v1h-1zm6 0h1v1h-1zm340 0h1v1h-1zm-389 1h1v1h-1zm50 0h1v1h-1zm-19 1h1v1h-1zm4 0h1v1h-1zm3 2h1v1h-1zm358 3h1v1h-1zm-172 3h1v1h-1zm196 1h1v1h-1zm-102 18h1v1h-1zm-148 6h1v1h-1zm86 3h1v1h-1zm168 0h1v1h-1zm-138 2h1v1h-1zm-193 1h1v1h-1zm195 0h1v1h-1zm-260 1h1v1h-1zm254 3h1v1h-1zm-196 1h1v1h-1zm205 0h1v1h-1zm19 0h1v1h-1zm138 1h1v1h-1zm-359 1h1v1h-1zm197 0h1v1h-1zm69 0h1v1h-1zm-296 2h1v1h-1zm16 0h1v1h-1zm207 0h1v1h-1zm38 0h1v1h-1zm-253 1h1v1h-1zm16 0h1v1h-1zm210 0h1v1h-1zm61 0h1v1h-1zm-269 1h1v1h-1zm20 0h1v1h-1zm137 0h1v1h-1zm118 0h1v1h-1zm-295 1h1v1h-1zm23 0h1v1h-1zm215 0h1v1h-1zm-10 1h1v1h-1zm2 0h1v1h-1zm67 0h1v1h-1zm-303 1h1v1h-1zm4 0h1v1h-1zm13 0h1v1h-1zm209 1h1v1h-1zm69 0h1v1h-1zm-253 1h1v1h-1zm185 0h1v1h-1zm10 0h1v1h-1zm2 0h1v1h-1zm44 0h1v1h-1zm-261 1h1v1h-1zm26 0h1v1h-1zm243 0h1v1h-1zm21 0h1v1h-1zm-293 2h1v1h-1zm14 0h1v1h-1zm19 0h1v1h-1zm125 0h1v1h-1zm63 0h1v1h-1zm6 0h1v1h-1zm66 0h1v1h-1zm30 0h1v1h-1zm-331 1h1v1h-1zm269 0h1v1h-1zm61 0h1v1h-1zm28 0h1v1h-1zm-381 1h1v1h-1zm16 0h2v1h-2zm39 0h1v1h-1zm6 0h1v1h-1zm69 0h1v1h-1zm145 0h1v1h-1zm21 0h1v1h-1zm35 0h1v1h-1zm-335 1h1v1h-1zm4 0h2v1h-2zm45 0h1v1h-1zm2 0h1v1h-1zm229 0h1v1h-1zm29 0h1v1h-1zm12 0h1v1h-1zm-395 1h1v1h-1zm42 0h1v1h-1zm45 0h1v1h-1zm14 0h1v1h-1zm37 0h1v1h-1zm263 0h1v1h-1zm46 0h1v1h-1zm30 0h1v1h-1zm-445 1h1v1h-1zm13 0h1v1h-1zm27 0h1v1h-1zm5 0h1v1h-1zm23 0h1v1h-1zm8 0h1v1h-1zm250 0h1v1h-1zm27 0h1v1h-1zm42 0h1v1h-1zm-393 1h1v1h-1zm76 0h1v1h-1zm16 0h1v1h-1zm17 0h1v1h-1zm127 0h1v1h-1zm102 0h1v1h-1zm16 0h1v1h-1zm5 0h1v1h-1zm65 0h1v1h-1zm-458 1h1v1h-1zm26 0h1v1h-1zm20 0h1v1h-1zm19 0h1v1h-1zm17 0h1v1h-1zm2 0h1v1h-1zm20 0h1v1h-1zm10 0h1v1h-1zm196 0h1v1h-1zm69 0h1v1h-1zm13 0h1v1h-1zm7 0h2v1h-2zm28 0h1v1h-1zm21 0h1v1h-1zm-413 1h1v1h-1zm45 0h1v1h-1zm9 0h1v1h-1zm54 0h1v1h-1zm175 0h1v1h-1zm97 0h1v1h-1zm29 0h1v1h-1zm8 0h1v1h-1zm-436 1h1v1h-1zm129 0h1v1h-1zm176 0h1v1h-1zm58 0h1v1h-1zm8 0h1v1h-1zm18 0h1v1h-1zm21 0h1v1h-1zm18 0h1v1h-1zm29 0h1v1h-1zm-444 1h1v1h-1zm15 0h1v1h-1zm37 0h1v1h-1zm316 0h1v1h-1zm33 0h1v1h-1zm31 0h1v1h-1zm5 0h1v1h-1zm-458 1h1v1h-1zm14 0h1v1h-1zm27 0h1v1h-1zm21 0h1v1h-1zm5 0h1v1h-1zm7 0h1v1h-1zm24 0h1v1h-1zm325 0h1v1h-1zm14 0h1v1h-1zm12 0h1v1h-1zm-444 1h1v1h-1zm70 0h1v1h-1zm23 0h1v1h-1zm202 0h1v1h-1zm5 0h1v1h-1zm8 0h1v1h-1zm5 0h1v1h-1zm81 0h1v1h-1zm-374 1h1v1h-1zm36 0h1v1h-1zm242 0h1v1h-1zm95 0h1v1h-1zm-346 1h1v1h-1zm3 0h2v1h-2zm10 0h1v1h-1zm249 0h1v1h-1zm6 0h1v1h-1zm5 0h1v1h-1zm-333 1h1v1h-1zm85 0h1v1h-1zm242 0h1v1h-1zm17 0h1v1h-1zm-277 1h1v1h-1zm156 0h1v1h-1zm39 0h1v1h-1zm-137 1h1v1h-1zm194 0h1v1h-1zm4 0h1v1h-1zm10 0h1v1h-1zm2 0h1v1h-1zm78 0h1v1h-1zm-247 1h1v1h-1zm172 0h1v1h-1zm22 0h1v1h-1zm30 0h1v1h-1zm25 0h1v1h-1zm16 0h1v1h-1zm-429 1h1v1h-1zm349 0h1v1h-1zm22 0h1v1h-1zm39 0h1v1h-1zm24 0h1v1h-1zm-334 1h1v1h-1zm7 0h1v1h-1zm2 0h1v1h-1zm-108 1h1v1h-1zm4 0h1v1h-1zm98 0h2v1h-2zm13 0h1v1h-1zm195 0h1v1h-1zm31 0h1v1h-1zm40 0h1v1h-1zm20 0h1v1h-1zm62 0h1v1h-1zm-428 1h1v1h-1zm35 0h1v1h-1zm22 0h1v1h-1zm7 0h1v1h-1zm16 0h1v1h-1zm218 0h1v1h-1zm27 0h1v1h-1zm16 0h2v1h-2zm76 0h1v1h-1zm6 0h1v1h-1zm-365 1h1v1h-1zm20 0h1v1h-1zm211 0h1v1h-1zm20 0h1v1h-1zm69 0h1v1h-1zm10 0h1v1h-1zm-393 1h2v1h-2zm21 0h1v1h-1zm43 0h1v1h-1zm3 0h1v1h-1zm252 0h1v1h-1zm53 0h1v1h-1zm6 0h1v1h-1zm49 0h1v1h-1zm-450 1h1v1h-1zm25 0h1v1h-1zm41 0h1v1h-1zm10 0h1v1h-1zm2 0h1v1h-1zm8 0h1v1h-1zm13 0h1v1h-1zm284 0h1v1h-1zm13 0h1v1h-1zm6 0h1v1h-1zm4 0h1v1h-1zm63 0h1v1h-1zm-464 1h1v1h-1zm87 0h1v1h-1zm268 0h1v1h-1zm6 0h1v1h-1zm17 0h1v1h-1zm24 0h1v1h-1zm3 0h1v1h-1zm20 0h1v1h-1zm-432 1h1v1h-1zm7 0h1v1h-1zm21 0h1v1h-1zm328 0h1v1h-1zm3 0h1v1h-1zm49 0h1v1h-1zm-92 1h1v1h-1zm130 0h1v1h-1zm-387 1h1v1h-1zm278 0h1v1h-1zm17 0h1v1h-1zm54 0h1v1h-1zm52 0h1v1h-1zm-420 1h1v1h-1zm20 0h1v1h-1zm6 0h2v1h-2zm304 0h1v1h-1zm32 0h1v1h-1zm10 0h1v1h-1zm7 0h1v1h-1zm2 0h1v1h-1zm45 0h1v1h-1zm2 0h1v1h-1zm-400 1h1v1h-1zm269 0h1v1h-1zm33 0h1v1h-1zm-333 1h1v1h-1zm13 0h1v1h-1zm174 0h1v1h-1zm95 0h1v1h-1zm51 0h1v1h-1zm47 0h1v1h-1zm-398 1h1v1h-1zm21 0h1v1h-1zm15 0h1v1h-1zm3 1h1v1h-1zm323 0h1v1h-1zm-370 1h1v1h-1zm306 0h1v1h-1zm4 0h1v1h-1zm-278 1h1v1h-1zm356 1h1v1h-1zm-340 1h1v1h-1zm8 0h1v1h-1zm318 0h1v1h-1zm-333 1h1v1h-1zm265 1h1v1h-1zm-253 2h1v1h-1zm35 1h1v1h-1zm24 0h1v1h-1zm-9 1h1v1h-1zm203 0h1v1h-1zm55 0h1v1h-1zm-66 1h1v1h-1zm-194 1h1v1h-1zm190 0h1v1h-1zm35 0h1v1h-1zm-220 2h1v1h-1zm209 0h1v1h-1zm28 0h1v1h-1zm106 2h1v1h-1zm-144 1h1v1h-1zm-208 1h1v1h-1zm202 2h1v1h-1zm6 0h1v1h-1zm25 0h1v1h-1zm115 0h1v1h-1zm-332 1h1v1h-1zm239 0h1v1h-1zm68 0h1v1h-1zm6 0h1v1h-1zm-329 1h1v1h-1zm206 0h1v1h-1zm35 0h1v1h-1zm-216 1h2v1h-2zm173 0h1v1h-1zm111 0h1v1h-1zm-324 1h1v1h-1zm246 0h1v1h-1zm2 0h2v1h-2zm74 0h1v1h-1zm-318 1h1v1h-1zm22 0h1v1h-1zm200 0h1v1h-1zm4 0h1v1h-1zm108 0h1v1h-1zm4 0h1v1h-1zm-301 1h1v1h-1zm70 0h1v1h-1zm140 0h1v1h-1zm2 0h1v1h-1zm9 0h1v1h-1zm23 0h1v1h-1zm3 0h1v1h-1zm42 0h1v1h-1zm18 0h1v1h-1zm-344 1h1v1h-1zm27 0h1v1h-1zm292 0h1v1h-1zm20 0h1v1h-1zm9 0h1v1h-1zm22 0h1v1h-1zm-378 1h1v1h-1zm7 0h1v1h-1zm4 0h1v1h-1zm222 0h1v1h-1zm11 0h1v1h-1zm26 0h1v1h-1zm5 0h1v1h-1zm17 0h1v1h-1zm3 0h1v1h-1zm55 0h1v1h-1zm-425 1h1v1h-1zm65 0h1v1h-1zm17 0h1v1h-1zm228 0h1v1h-1zm27 0h1v1h-1zm35 0h1v1h-1zm41 0h1v1h-1zm2 0h1v1h-1zm4 0h1v1h-1zm24 0h1v1h-1zm-417 1h2v1h-2zm34 0h1v1h-1zm8 0h1v1h-1zm36 0h1v1h-1zm246 0h1v1h-1zm43 0h1v1h-1zm43 0h1v1h-1zm-458 1h1v1h-1zm40 0h1v1h-1zm44 0h1v1h-1zm51 0h1v1h-1zm174 0h1v1h-1zm117 0h1v1h-1zm20 0h1v1h-1zm6 0h1v1h-1zm-450 1h1v1h-1zm16 0h1v1h-1zm6 0h1v1h-1zm31 0h1v1h-1zm52 0h1v1h-1zm370 0h1v1h-1zm-456 1h1v1h-1zm19 0h1v1h-1zm71 0h1v1h-1zm200 0h1v1h-1zm12 0h1v1h-1zm92 0h1v1h-1zm16 0h1v1h-1zm-428 1h1v1h-1zm83 0h1v1h-1zm234 0h1v1h-1zm46 0h1v1h-1zm15 0h1v1h-1zm48 0h1v1h-1zm8 0h1v1h-1zm33 0h1v1h-1zm5 0h1v1h-1zm-469 1h1v1h-1zm23 0h1v1h-1zm30 0h1v1h-1zm17 0h1v1h-1zm236 0h1v1h-1zm52 0h1v1h-1zm62 0h1v1h-1zm-412 1h1v1h-1zm17 0h1v1h-1zm4 0h1v1h-1zm2 0h1v1h-1zm9 0h1v1h-1zm29 0h1v1h-1zm13 0h1v1h-1zm3 0h1v1h-1zm-69 1h1v1h-1zm6 0h1v1h-1zm26 0h1v1h-1zm32 0h2v1h-2zm29 0h1v1h-1zm313 0h1v1h-1zm3 0h1v1h-1zm47 0h1v1h-1zm-405 1h1v1h-1zm5 0h2v1h-2zm4 0h1v1h-1zm8 0h1v1h-1zm-78 1h1v1h-1zm80 0h1v1h-1zm219 0h1v1h-1zm10 0h1v1h-1zm58 0h1v1h-1zm-305 1h1v1h-1zm12 0h1v1h-1zm21 0h1v1h-1zm189 0h1v1h-1zm13 0h1v1h-1zm28 1h1v1h-1zm20 0h1v1h-1zm-290 1h1v1h-1zm243 0h2v1h-2zm44 0h1v1h-1zm2 0h1v1h-1zm4 0h1v1h-1zm-303 1h1v1h-1zm77 0h1v1h-1zm215 0h1v1h-1zm38 0h1v1h-1zm13 0h1v1h-1zm56 0h1v1h-1zm-455 1h1v1h-1zm59 0h1v1h-1zm278 0h1v1h-1zm55 0h1v1h-1zm51 0h1v1h-1zm15 0h1v1h-1zm-327 1h2v1h-2zm204 0h1v1h-1zm10 0h1v1h-1zm42 0h1v1h-1zm67 0h1v1h-1zm15 0h1v1h-1zm-423 1h1v1h-1zm93 0h1v1h-1zm185 0h1v1h-1zm27 0h1v1h-1zm25 0h1v1h-1zm15 0h1v1h-1zm50 0h1v1h-1zm35 0h1v1h-1zm2 0h1v1h-1zm-477 1h1v1h-1zm113 0h1v1h-1zm6 0h1v1h-1zm10 0h1v1h-1zm190 0h1v1h-1zm29 0h1v1h-1zm25 0h1v1h-1zm28 0h1v1h-1zm38 0h1v1h-1zm-316 1h1v1h-1zm189 0h1v1h-1zm68 0h1v1h-1zm38 0h1v1h-1zm36 0h1v1h-1zm17 0h2v1h-2zm-427 1h1v1h-1zm42 0h1v1h-1zm54 0h1v1h-1zm194 0h1v1h-1zm13 0h1v1h-1zm20 0h1v1h-1zm30 0h1v1h-1zm4 0h1v1h-1zm20 0h1v1h-1zm-335 1h1v1h-1zm7 0h1v1h-1zm2 0h1v1h-1zm10 0h1v1h-1zm8 0h1v1h-1zm207 0h1v1h-1zm37 0h1v1h-1zm77 0h1v1h-1zm-434 1h1v1h-1zm6 0h1v1h-1zm23 0h1v1h-1zm5 0h1v1h-1zm17 0h1v1h-1zm18 0h1v1h-1zm34 0h1v1h-1zm42 0h1v1h-1zm208 0h1v1h-1zm12 0h1v1h-1zm26 0h1v1h-1zm31 0h1v1h-1zm24 0h1v1h-1zm-426 1h1v1h-1zm20 0h1v1h-1zm-13 1h1v1h-1zm6 0h1v1h-1zm3 0h1v1h-1zm43 0h2v1h-2zm4 0h1v1h-1zm26 0h1v1h-1zm353 0h2v1h-2zm9 0h1v1h-1zm-438 1h1v1h-1zm292 0h1v1h-1zm-272 1h1v1h-1zm25 0h1v1h-1zm265 0h1v1h-1zm72 0h1v1h-1zm5 0h1v1h-1zm2 0h1v1h-1zm3 0h1v1h-1zm36 0h1v1h-1zm-452 1h1v1h-1zm47 0h1v1h-1zm24 0h1v1h-1zm254 0h1v1h-1zm104 0h1v1h-1zm7 0h1v1h-1zm-346 1h1v1h-1zm210 0h1v1h-1zm51 0h1v1h-1zm13 0h1v1h-1zm66 0h1v1h-1zm-418 1h1v1h-1zm11 0h1v1h-1zm309 0h1v1h-1zm77 0h1v1h-1zm9 0h1v1h-1zm5 0h1v1h-1zm-412 1h1v1h-1zm345 0h1v1h-1zm-347 1h1v1h-1zm32 0h1v1h-1zm49 0h1v1h-1zm283 0h1v1h-1zm95 0h1v1h-1zm-419 1h1v1h-1zm10 0h1v1h-1zm10 0h1v1h-1zm258 0h1v1h-1zm140 0h1v1h-1zm-423 1h1v1h-1zm26 0h1v1h-1zm-19 2h2v1h-2zm6 0h1v1h-1zm41 0h1v1h-1zm296 0h1v1h-1zm-303 1h1v1h-1zm337 0h1v1h-1zm-387 1h1v1h-1zm315 1h1v1h-1zm-305 1h1v1h-1zm15 1h1v1h-1zm330 0h1v1h-1zm-339 1h1v1h-1zm255 0h1v1h-1zm34 2h1v1h-1zm-6 2h1v1h-1zm-181 9h1v1h-1zm-106 10h1v1h-1zm403 5h1v1h-1zm-389 8h1v1h-1zm302 12h1v1h-1zm-67 2h1v1h-1zm78 0h1v1h-1zm-77 1h1v1h-1zm-17 1h1v1h-1zm20 1h1v1h-1zm-137 1h1v1h-1zm134 0h1v1h-1zm87 0h1v1h-1zm-50 1h1v1h-1zm7 1h1v1h-1zm-5 1h1v1h-1zm-27 1h1v1h-1zm26 0h1v1h-1zm33 0h1v1h-1zm-349 1h1v1h-1zm284 0h1v1h-1zm7 0h1v1h-1zm29 1h1v1h-1zm57 1h1v1h-1zm-168 1h1v1h-1zm92 0h1v1h-1zm4 0h1v1h-1zm7 0h1v1h-1zm115 0h1v1h-1zm-331 1h1v1h-1zm180 0h1v1h-1zm65 1h1v1h-1zm-373 1h1v1h-1zm327 0h1v1h-1zm20 0h1v1h-1zm39 0h1v1h-1zm-33 1h1v1h-1zm73 0h1v1h-1zm22 0h1v1h-1zm-339 1h1v1h-1zm199 0h1v1h-1zm74 0h1v1h-1zm4 0h1v1h-1zm51 0h1v1h-1zm-420 1h1v1h-1zm32 0h1v1h-1zm37 0h1v1h-1zm11 0h1v1h-1zm21 0h1v1h-1zm9 0h1v1h-1zm5 0h1v1h-1zm204 0h1v1h-1zm48 0h1v1h-1zm10 0h1v1h-1zm26 0h1v1h-1zm25 0h1v1h-1zm-443 1h1v1h-1zm33 0h1v1h-1zm6 0h1v1h-1zm269 0h1v1h-1zm72 0h1v1h-1zm4 0h1v1h-1zm3 0h1v1h-1zm45 0h1v1h-1zm6 0h1v1h-1zm-363 1h1v1h-1zm15 1h1v1h-1zm21 0h1v1h-1zm18 0h1v1h-1zm3 0h1v1h-1zm10 0h1v1h-1zm200 0h1v1h-1zm60 0h1v1h-1zm33 0h1v1h-1zm-404 1h1v1h-1zm32 0h1v1h-1zm9 0h1v1h-1zm5 0h1v1h-1zm27 0h1v1h-1zm282 0h1v1h-1zm33 0h1v1h-1zm-402 1h1v1h-1zm13 0h1v1h-1zm44 0h1v1h-1zm65 0h1v1h-1zm231 0h1v1h-1zm21 0h1v1h-1zm2 0h1v1h-1zm-325 1h1v1h-1zm36 0h1v1h-1zm-47 1h1v1h-1zm52 0h1v1h-1zm134 0h1v1h-1zm80 0h1v1h-1zm65 0h1v1h-1zm74 0h1v1h-1zm-458 1h1v1h-1zm6 0h1v1h-1zm42 0h1v1h-1zm5 0h1v1h-1zm3 0h1v1h-1zm47 0h1v1h-1zm335 0h1v1h-1zm-431 1h1v1h-1zm62 0h1v1h-1zm53 0h1v1h-1zm210 0h1v1h-1zm11 0h1v1h-1zm20 0h1v1h-1zm-345 1h1v1h-1zm32 0h1v1h-1zm10 0h1v1h-1zm2 0h1v1h-1zm57 0h1v1h-1zm203 0h1v1h-1zm-332 1h1v1h-1zm126 0h1v1h-1zm9 0h1v1h-1zm17 0h1v1h-1zm167 0h1v1h-1zm6 0h1v1h-1zm17 0h1v1h-1zm48 0h1v1h-1zm12 0h1v1h-1zm14 0h1v1h-1zm-56 1h1v1h-1zm33 0h1v1h-1zm5 0h1v1h-1zm7 0h1v1h-1zm32 0h1v1h-1zm9 0h1v1h-1zm-446 1h1v1h-1zm40 0h1v1h-1zm5 0h1v1h-1zm77 0h1v1h-1zm15 0h1v1h-1zm7 0h1v1h-1zm183 0h1v1h-1zm82 0h1v1h-1zm58 0h1v1h-1zm-421 1h1v1h-1zm96 0h1v1h-1zm196 0h1v1h-1zm3 0h1v1h-1zm10 0h1v1h-1zm82 0h1v1h-1zm8 0h1v1h-1zm27 0h1v1h-1zm-430 1h2v1h-2zm101 0h1v1h-1zm199 0h1v1h-1zm55 0h1v1h-1zm19 0h1v1h-1zm-319 1h1v1h-1zm3 0h1v1h-1zm17 0h1v1h-1zm11 0h1v1h-1zm198 0h1v1h-1zm49 0h1v1h-1zm19 0h1v1h-1zm-357 1h1v1h-1zm10 0h1v1h-1zm33 0h1v1h-1zm48 0h1v1h-1zm11 0h1v1h-1zm219 0h1v1h-1zm59 0h1v1h-1zm5 0h1v1h-1zm43 0h1v1h-1zm14 0h1v1h-1zm-444 1h1v1h-1zm68 0h1v1h-1zm9 0h1v1h-1zm220 0h1v1h-1zm23 0h1v1h-1zm-334 1h1v1h-1zm15 0h1v1h-1zm42 0h1v1h-1zm2 0h1v1h-1zm6 0h1v1h-1zm9 0h1v1h-1zm10 0h1v1h-1zm259 0h1v1h-1zm29 0h1v1h-1zm63 0h1v1h-1zm16 0h1v1h-1zm-457 1h1v1h-1zm8 0h1v1h-1zm54 0h1v1h-1zm336 0h1v1h-1zm-386 1h1v1h-1zm5 0h1v1h-1zm26 0h1v1h-1zm20 0h1v1h-1zm3 0h1v1h-1zm239 0h1v1h-1zm31 0h1v1h-1zm-278 1h1v1h-1zm268 0h1v1h-1zm8 0h1v1h-1zm57 0h1v1h-1zm61 0h1v1h-1zm-399 1h1v1h-1zm73 0h1v1h-1zm217 1h1v1h-1zm-281 1h2v1h-2zm12 0h1v1h-1zm368 0h1v1h-1zm-394 1h1v1h-1zm14 0h1v1h-1zm266 0h1v1h-1zm39 0h1v1h-1zm-223 1h1v1h-1zm205 0h1v1h-1zm72 0h1v1h-1zm8 1h1v1h-1zm-382 2h1v1h-1zm12 2h1v1h-1zm-9 4h1v1h-1zm136 0h1v1h-1zm-123 6h1v1h-1zm326 1h1v1h-1zm-263 2h1v1h-1zm191 12h1v1h-1zm-320 1h1v1h-1zm231 0h1v1h-1zm-37 7h1v1h-1zm38 10h1v1h-1zm198 10h1v1h-1zm-185 12h1v1h-1z"/><path fill="#0000cf" d="m48 1h1v1h-1zm327 16h1v1h-1zm-39 9h1v1h-1zm73 27h1v1h-1zm-63 6h1v1h-1zm-163 11h1v1h-1zm283 18h1v1h-1zm-466 1h1v1h-1zm304 5h1v1h-1zm-301 3h1v1h-1zm-1 1h1v1h-1zm2 0h1v1h-1zm7 0h1v1h-1zm295 0h1v1h-1zm-300 1h1v1h-1zm100 2h1v1h-1zm69 0h1v1h-1zm135 0h1v1h-1zm-231 2h1v1h-1zm32 0h1v1h-1zm60 0h1v1h-1zm-157 1h1v1h-1zm101 1h1v1h-1zm23 0h1v1h-1zm6 0h1v1h-1zm6 0h1v1h-1zm25 0h2v1h-2zm134 0h1v1h-1zm31 0h1v1h-1zm21 0h1v1h-1zm-349 1h1v1h-1zm98 0h1v1h-1zm15 0h1v1h-1zm12 0h1v1h-1zm3 0h1v1h-1zm21 0h1v1h-1zm16 0h1v1h-1zm40 0h1v1h-1zm-215 1h1v1h-1zm5 0h1v1h-1zm2 0h1v1h-1zm30 0h1v1h-1zm22 0h1v1h-1zm55 0h1v1h-1zm51 0h1v1h-1zm202 0h1v1h-1zm-295 1h1v1h-1zm35 0h1v1h-1zm7 0h1v1h-1zm7 0h1v1h-1zm241 0h1v1h-1zm-353 1h1v1h-1zm9 0h1v1h-1zm6 0h1v1h-1zm13 0h1v1h-1zm17 0h1v1h-1zm26 0h1v1h-1zm43 0h1v1h-1zm247 0h1v1h-1zm28 0h1v1h-1zm14 0h1v1h-1zm8 0h1v1h-1zm-413 1h1v1h-1zm10 0h1v1h-1zm20 0h1v1h-1zm32 0h1v1h-1zm4 0h1v1h-1zm78 0h1v1h-1zm12 0h1v1h-1zm6 0h1v1h-1zm164 0h1v1h-1zm32 0h1v1h-1zm28 0h1v1h-1zm-368 1h1v1h-1zm143 0h1v1h-1zm166 0h1v1h-1zm31 0h1v1h-1zm-310 1h1v1h-1zm15 0h1v1h-1zm4 0h1v1h-1zm7 0h1v1h-1zm75 0h1v1h-1zm10 0h1v1h-1zm139 0h1v1h-1zm59 0h1v1h-1zm-350 1h1v1h-1zm21 0h1v1h-1zm9 0h2v1h-2zm98 0h1v1h-1zm18 0h1v1h-1zm173 0h1v1h-1zm-238 1h1v1h-1zm41 0h1v1h-1zm230 0h1v1h-1zm12 0h1v1h-1zm30 0h1v1h-1zm-338 1h1v1h-1zm63 0h1v1h-1zm22 0h1v1h-1zm16 0h1v1h-1zm244 0h2v1h-2zm-399 1h2v1h-2zm100 0h1v1h-1zm267 0h1v1h-1zm-385 1h1v1h-1zm3 0h1v1h-1zm18 0h1v1h-1zm96 0h1v1h-1zm2 0h1v1h-1zm30 0h2v1h-2zm209 0h1v1h-1zm41 0h1v1h-1zm27 0h1v1h-1zm32 0h2v1h-2zm5 0h1v1h-1zm15 0h1v1h-1zm-474 1h1v1h-1zm101 0h1v1h-1zm39 0h1v1h-1zm184 0h1v1h-1zm85 0h1v1h-1zm25 0h1v1h-1zm-437 1h1v1h-1zm2 0h1v1h-1zm8 0h1v1h-1zm123 0h1v1h-1zm229 0h1v1h-1zm38 0h1v1h-1zm11 0h1v1h-1zm-377 1h1v1h-1zm85 0h2v1h-2zm4 0h1v1h-1zm51 0h1v1h-1zm13 0h1v1h-1zm231 0h1v1h-1zm41 0h1v1h-1zm-431 1h1v1h-1zm71 0h1v1h-1zm27 0h1v1h-1zm3 0h1v1h-1zm11 0h1v1h-1zm27 0h1v1h-1zm-147 1h1v1h-1zm42 0h1v1h-1zm69 0h1v1h-1zm39 0h1v1h-1zm-147 1h1v1h-1zm3 0h2v1h-2zm66 0h1v1h-1zm13 0h1v1h-1zm267 0h1v1h-1zm36 0h1v1h-1zm-320 1h1v1h-1zm63 0h1v1h-1zm230 0h1v1h-1zm2 0h1v1h-1zm-374 1h1v1h-1zm11 0h1v1h-1zm34 0h1v1h-1zm30 0h1v1h-1zm-63 1h1v1h-1zm10 0h1v1h-1zm39 0h1v1h-1zm16 0h1v1h-1zm2 0h1v1h-1zm6 0h1v1h-1zm-19 1h3v1h-3zm84 0h1v1h-1zm-91 1h1v1h-1zm-25 1h1v1h-1zm24 0h1v1h-1zm30 0h1v1h-1zm27 0h1v1h-1zm12 23h1v1h-1zm-130 2h1v1h-1zm369 1h1v1h-1zm-58 1h1v1h-1zm-176 2h1v1h-1zm3 0h1v1h-1zm239 0h1v1h-1zm-377 1h1v1h-1zm129 0h1v1h-1zm191 0h1v1h-1zm-325 1h1v1h-1zm359 0h1v1h-1zm-360 1h1v1h-1zm5 0h1v1h-1zm100 0h1v1h-1zm37 0h1v1h-1zm-134 1h1v1h-1zm3 0h1v1h-1zm133 0h1v1h-1zm200 0h1v1h-1zm101 0h1v1h-1zm-434 1h1v1h-1zm121 0h1v1h-1zm177 0h1v1h-1zm-306 1h1v1h-1zm5 0h1v1h-1zm99 0h1v1h-1zm202 0h1v1h-1zm14 0h1v1h-1zm4 0h1v1h-1zm30 0h2v1h-2zm13 0h1v1h-1zm7 0h1v1h-1zm21 0h1v1h-1zm-30 1h1v1h-1zm25 0h1v1h-1zm4 0h1v1h-1zm-322 1h1v1h-1zm33 0h1v1h-1zm266 0h1v1h-1zm29 0h1v1h-1zm7 0h1v1h-1zm17 0h1v1h-1zm27 0h1v1h-1zm-337 1h1v1h-1zm295 0h1v1h-1zm32 0h1v1h-1zm-398 1h1v1h-1zm2 0h1v1h-1zm6 0h1v1h-1zm49 0h1v1h-1zm10 0h1v1h-1zm3 0h1v1h-1zm206 0h1v1h-1zm-323 1h1v1h-1zm63 0h1v1h-1zm15 0h1v1h-1zm34 0h1v1h-1zm234 0h1v1h-1zm16 0h1v1h-1zm113 0h1v1h-1zm-473 1h1v1h-1zm52 0h1v1h-1zm34 0h1v1h-1zm6 0h1v1h-1zm36 0h2v1h-2zm14 0h1v1h-1zm207 0h1v1h-1zm54 0h1v1h-1zm-381 1h1v1h-1zm39 0h1v1h-1zm310 0h1v1h-1zm40 0h1v1h-1zm33 0h1v1h-1zm4 0h1v1h-1zm-444 1h1v1h-1zm11 0h1v1h-1zm39 0h1v1h-1zm30 0h1v1h-1zm385 0h1v1h-1zm-467 1h1v1h-1zm120 0h1v1h-1zm220 0h1v1h-1zm4 0h1v1h-1zm7 0h1v1h-1zm49 0h1v1h-1zm60 0h1v1h-1zm4 0h1v1h-1zm-346 1h1v1h-1zm2 0h1v1h-1zm17 0h1v1h-1zm214 0h1v1h-1zm21 0h1v1h-1zm-337 1h2v1h-2zm315 0h1v1h-1zm33 0h1v1h-1zm43 0h1v1h-1zm-396 1h1v1h-1zm42 0h1v1h-1zm29 0h1v1h-1zm16 0h1v1h-1zm282 0h1v1h-1zm27 0h1v1h-1zm23 0h1v1h-1zm4 0h1v1h-1zm-427 1h1v1h-1zm44 0h1v1h-1zm11 0h1v1h-1zm342 0h1v1h-1zm-402 1h1v1h-1zm66 0h1v1h-1zm285 0h1v1h-1zm68 0h1v1h-1zm-370 1h1v1h-1zm2 0h1v1h-1zm3 0h1v1h-1zm270 0h1v1h-1zm105 0h1v1h-1zm-386 1h1v1h-1zm-15 1h1v1h-1zm46 0h1v1h-1zm-29 1h1v1h-1zm333 0h1v1h-1zm35 0h1v1h-1zm-35 1h1v1h-1zm-25 1h1v1h-1zm21 1h1v1h-1zm-279 13h1v1h-1zm300 1h1v1h-1zm-121 2h1v1h-1zm-29 6h1v1h-1zm40 11h1v1h-1zm-78 2h1v1h-1zm82 0h2v1h-2zm19 1h1v1h-1zm-2 1h1v1h-1zm-203 1h1v1h-1zm184 2h1v1h-1zm28 2h1v1h-1zm-220 2h1v1h-1zm242 1h1v1h-1zm-272 1h1v1h-1zm2 0h1v1h-1zm371 0h1v1h-1zm-352 3h1v1h-1zm9 0h1v1h-1zm194 0h1v1h-1zm154 0h1v1h-1zm-354 1h1v1h-1zm6 0h1v1h-1zm6 0h2v1h-2zm205 0h1v1h-1zm148 0h1v1h-1zm-379 1h1v1h-1zm292 0h1v1h-1zm10 0h1v1h-1zm-401 1h1v1h-1zm141 0h1v1h-1zm-52 1h1v1h-1zm26 0h1v1h-1zm9 0h1v1h-1zm200 0h1v1h-1zm25 0h1v1h-1zm63 0h1v1h-1zm15 0h1v1h-1zm-340 1h1v1h-1zm3 0h1v1h-1zm30 0h1v1h-1zm5 0h1v1h-1zm5 0h1v1h-1zm264 0h1v1h-1zm-33 1h1v1h-1zm15 0h1v1h-1zm13 0h1v1h-1zm4 0h1v1h-1zm-300 1h1v1h-1zm16 0h2v1h-2zm254 0h1v1h-1zm79 0h1v1h-1zm20 0h1v1h-1zm-384 1h1v1h-1zm7 0h1v1h-1zm4 0h1v1h-1zm30 0h1v1h-1zm221 0h1v1h-1zm41 0h1v1h-1zm-267 1h1v1h-1zm192 0h1v1h-1zm33 0h1v1h-1zm134 0h1v1h-1zm-468 1h1v1h-1zm425 0h1v1h-1zm27 0h1v1h-1zm-108 1h1v1h-1zm24 0h1v1h-1zm44 0h1v1h-1zm13 0h1v1h-1zm-287 1h1v1h-1zm200 0h1v1h-1zm13 0h1v1h-1zm11 0h1v1h-1zm40 0h1v1h-1zm57 0h1v1h-1zm-454 1h1v1h-1zm96 0h1v1h-1zm2 0h1v1h-1zm34 0h1v1h-1zm224 0h1v1h-1zm31 0h1v1h-1zm30 0h1v1h-1zm-382 1h1v1h-1zm33 0h1v1h-1zm45 0h1v1h-1zm197 0h1v1h-1zm50 0h1v1h-1zm30 0h1v1h-1zm-353 1h1v1h-1zm38 0h1v1h-1zm5 0h2v1h-2zm216 0h1v1h-1zm97 0h1v1h-1zm11 0h1v1h-1zm54 0h1v1h-1zm-454 1h2v1h-2zm87 0h1v1h-1zm9 0h1v1h-1zm254 0h1v1h-1zm8 0h1v1h-1zm9 0h1v1h-1zm45 0h1v1h-1zm32 0h1v1h-1zm-445 1h1v1h-1zm29 0h1v1h-1zm29 0h1v1h-1zm26 0h1v1h-1zm281 0h1v1h-1zm8 0h1v1h-1zm4 0h1v1h-1zm2 0h1v1h-1zm22 0h1v1h-1zm2 0h1v1h-1zm-401 1h1v1h-1zm8 0h1v1h-1zm17 0h1v1h-1zm2 0h1v1h-1zm46 0h1v1h-1zm24 0h1v1h-1zm-87 1h1v1h-1zm15 0h1v1h-1zm31 0h1v1h-1zm11 0h1v1h-1zm342 0h1v1h-1zm15 0h1v1h-1zm-423 1h1v1h-1zm294 0h1v1h-1zm48 0h1v1h-1zm65 0h1v1h-1zm-423 1h1v1h-1zm68 0h1v1h-1zm76 0h1v1h-1zm180 0h1v1h-1zm9 0h1v1h-1zm36 0h1v1h-1zm-366 1h1v1h-1zm140 0h1v1h-1zm-143 1h1v1h-1zm137 0h1v1h-1zm217 0h1v1h-1zm14 0h1v1h-1zm5 0h1v1h-1zm27 0h1v1h-1zm41 0h1v1h-1zm5 0h1v1h-1zm-324 1h1v1h-1zm206 0h1v1h-1zm67 0h1v1h-1zm43 0h1v1h-1zm-320 1h1v1h-1zm2 0h1v1h-1zm220 0h1v1h-1zm73 0h1v1h-1zm62 0h1v1h-1zm-380 1h1v1h-1zm45 0h1v1h-1zm167 0h1v1h-1zm25 0h1v1h-1zm48 0h1v1h-1zm10 0h1v1h-1zm7 0h1v1h-1zm81 0h1v1h-1zm-446 1h1v1h-1zm9 0h1v1h-1zm101 0h1v1h-1zm239 0h1v1h-1zm67 0h1v1h-1zm-414 1h1v1h-1zm9 0h1v1h-1zm43 0h1v1h-1zm24 0h1v1h-1zm3 0h1v1h-1zm235 0h1v1h-1zm6 0h1v1h-1zm31 0h1v1h-1zm2 0h1v1h-1zm30 0h1v1h-1zm6 0h1v1h-1zm-409 1h2v1h-2zm63 0h1v1h-1zm314 0h1v1h-1zm-361 1h1v1h-1zm20 0h1v1h-1zm24 0h1v1h-1zm303 0h1v1h-1zm10 0h1v1h-1zm4 0h1v1h-1zm5 0h1v1h-1zm12 0h1v1h-1zm26 0h1v1h-1zm-419 1h1v1h-1zm33 0h1v1h-1zm11 0h1v1h-1zm18 0h1v1h-1zm353 0h1v1h-1zm44 0h1v1h-1zm-462 1h1v1h-1zm16 0h1v1h-1zm3 0h1v1h-1zm46 0h1v1h-1zm254 0h1v1h-1zm-305 1h2v1h-2zm47 0h1v1h-1zm-55 1h1v1h-1zm53 0h1v1h-1zm328 0h1v1h-1zm-358 1h1v1h-1zm19 0h1v1h-1zm8 0h1v1h-1zm5 0h1v1h-1zm269 0h1v1h-1zm-286 1h1v1h-1zm254 0h1v1h-1zm36 0h1v1h-1zm110 1h1v1h-1zm-436 1h1v1h-1zm329 0h1v1h-1zm-299 1h1v1h-1zm13 0h1v1h-1zm6 0h1v1h-1zm358 0h1v1h-1zm10 0h1v1h-1zm-420 1h1v1h-1zm294 0h1v1h-1zm10 0h1v1h-1zm77 0h1v1h-1zm-329 2h1v1h-1zm264 0h1v1h-1zm-311 1h1v1h-1zm367 0h1v1h-1zm-324 1h1v1h-1zm245 0h1v1h-1zm97 0h1v1h-1zm-16 2h1v1h-1zm-79 1h1v1h-1zm12 0h1v1h-1zm114 1h1v1h-1zm-130 1h1v1h-1zm105 0h1v1h-1zm25 2h1v1h-1zm-126 2h1v1h-1zm-175 2h1v1h-1zm-12 1h1v1h-1zm12 0h1v1h-1zm203 0h1v1h-1zm-232 1h1v1h-1zm28 0h1v1h-1zm189 0h1v1h-1zm117 0h1v1h-1zm-315 1h1v1h-1zm225 0h1v1h-1zm-231 1h1v1h-1zm9 0h1v1h-1zm184 1h1v1h-1zm107 0h1v1h-1zm14 0h1v1h-1zm-316 1h1v1h-1zm20 0h1v1h-1zm220 0h1v1h-1zm25 0h1v1h-1zm10 0h1v1h-1zm46 0h1v1h-1zm-331 2h1v1h-1zm6 0h1v1h-1zm16 0h1v1h-1zm13 0h1v1h-1zm235 0h1v1h-1zm-28 1h1v1h-1zm16 0h1v1h-1zm-365 1h1v1h-1zm88 0h1v1h-1zm38 0h1v1h-1zm224 0h1v1h-1zm32 0h1v1h-1zm-385 1h1v1h-1zm109 0h1v1h-1zm229 0h1v1h-1zm7 0h1v1h-1zm42 0h1v1h-1zm51 0h1v1h-1zm-329 1h2v1h-2zm249 0h1v1h-1zm44 0h1v1h-1zm-291 1h1v1h-1zm2 0h1v1h-1zm24 0h1v1h-1zm244 0h1v1h-1zm55 0h1v1h-1zm-340 1h1v1h-1zm228 0h1v1h-1zm68 0h1v1h-1zm21 0h1v1h-1zm23 0h1v1h-1zm25 0h1v1h-1zm-459 1h1v1h-1zm4 0h1v1h-1zm91 0h1v1h-1zm20 0h1v1h-1zm17 0h1v1h-1zm5 0h1v1h-1zm179 0h1v1h-1zm50 0h1v1h-1zm2 0h1v1h-1zm73 0h1v1h-1zm27 0h1v1h-1zm-460 1h1v1h-1zm9 0h1v1h-1zm81 0h1v1h-1zm20 0h1v1h-1zm2 0h1v1h-1zm20 0h1v1h-1zm190 0h1v1h-1zm34 0h1v1h-1zm50 0h1v1h-1zm29 0h1v1h-1zm23 0h1v1h-1zm-414 1h1v1h-1zm58 0h1v1h-1zm33 0h1v1h-1zm200 0h1v1h-1zm-341 1h1v1h-1zm6 0h1v1h-1zm75 0h1v1h-1zm333 0h1v1h-1zm39 0h1v1h-1zm7 0h1v1h-1zm7 0h1v1h-1zm6 0h1v1h-1zm-460 1h1v1h-1zm27 0h1v1h-1zm39 0h1v1h-1zm253 0h1v1h-1zm2 0h1v1h-1zm82 0h1v1h-1zm-413 1h1v1h-1zm11 0h1v1h-1zm12 0h1v1h-1zm49 0h1v1h-1zm8 0h1v1h-1zm6 0h1v1h-1zm18 0h1v1h-1zm323 0h1v1h-1zm2 0h1v1h-1zm26 0h1v1h-1zm-447 1h1v1h-1zm3 0h1v1h-1zm20 0h2v1h-2zm13 0h1v1h-1zm23 0h1v1h-1zm33 0h1v1h-1zm204 0h1v1h-1zm4 0h1v1h-1zm4 0h1v1h-1zm6 0h1v1h-1zm56 0h1v1h-1zm31 0h1v1h-1zm14 0h1v1h-1zm6 0h1v1h-1zm47 0h1v1h-1zm-464 1h2v1h-2zm8 0h1v1h-1zm9 0h1v1h-1zm38 0h1v1h-1zm296 0h1v1h-1zm-341 1h1v1h-1zm2 0h1v1h-1zm31 0h1v1h-1zm269 0h1v1h-1zm105 0h1v1h-1zm35 0h1v1h-1zm-440 1h1v1h-1zm24 0h1v1h-1zm58 0h1v1h-1zm29 0h1v1h-1zm175 0h1v1h-1zm6 0h1v1h-1zm7 0h1v1h-1zm2 0h1v1h-1zm6 0h1v1h-1zm142 0h1v1h-1zm-460 1h1v1h-1zm19 0h1v1h-1zm43 0h1v1h-1zm7 0h1v1h-1zm324 0h1v1h-1zm50 0h2v1h-2zm-104 1h1v1h-1zm99 0h1v1h-1zm-357 1h1v1h-1zm328 0h1v1h-1zm-425 2h1v1h-1zm66 0h1v1h-1zm64 0h1v1h-1zm209 0h1v1h-1zm23 0h1v1h-1zm94 0h1v1h-1zm-338 1h1v1h-1zm5 0h1v1h-1zm208 0h1v1h-1zm43 0h1v1h-1zm68 0h1v1h-1zm5 0h1v1h-1zm6 0h1v1h-1zm-416 1h1v1h-1zm94 0h1v1h-1zm196 0h1v1h-1zm10 0h1v1h-1zm34 0h1v1h-1zm41 0h1v1h-1zm3 0h1v1h-1zm16 0h1v1h-1zm-41 1h1v1h-1zm2 0h1v1h-1zm16 0h1v1h-1zm10 0h1v1h-1zm31 0h1v1h-1zm-441 1h1v1h-1zm98 0h1v1h-1zm13 0h1v1h-1zm19 0h1v1h-1zm288 0h1v1h-1zm22 0h1v1h-1zm3 0h1v1h-1zm-352 1h1v1h-1zm31 0h1v1h-1zm15 0h1v1h-1zm2 0h1v1h-1zm186 0h1v1h-1zm25 0h1v1h-1zm71 0h1v1h-1zm2 0h2v1h-2zm26 0h1v1h-1zm2 0h1v1h-1zm15 0h1v1h-1zm2 0h1v1h-1zm-456 1h1v1h-1zm17 0h1v1h-1zm4 0h1v1h-1zm59 0h1v1h-1zm219 0h1v1h-1zm13 0h1v1h-1zm11 0h1v1h-1zm2 0h1v1h-1zm49 0h1v1h-1zm12 0h1v1h-1zm70 0h1v1h-1zm-441 1h1v1h-1zm20 0h1v1h-1zm81 0h1v1h-1zm5 0h1v1h-1zm188 0h1v1h-1zm41 0h1v1h-1zm11 0h1v1h-1zm4 0h1v1h-1zm40 0h1v1h-1zm17 0h1v1h-1zm-433 1h1v1h-1zm66 0h1v1h-1zm24 0h1v1h-1zm243 0h1v1h-1zm17 0h1v1h-1zm34 0h2v1h-2zm24 0h1v1h-1zm-340 1h1v1h-1zm31 0h1v1h-1zm222 0h1v1h-1zm36 0h1v1h-1zm92 0h1v1h-1zm-427 1h1v1h-1zm49 0h1v1h-1zm3 0h1v1h-1zm31 0h1v1h-1zm27 0h1v1h-1zm-89 1h1v1h-1zm20 0h1v1h-1zm49 0h1v1h-1zm233 0h1v1h-1zm6 0h1v1h-1zm19 0h1v1h-1zm86 0h1v1h-1zm-429 1h1v1h-1zm33 0h1v1h-1zm63 0h1v1h-1zm295 0h1v1h-1zm-370 1h1v1h-1zm322 0h1v1h-1zm20 0h1v1h-1zm26 0h1v1h-1zm-363 1h1v1h-1zm13 0h1v1h-1zm-30 1h1v1h-1zm7 0h1v1h-1zm31 0h1v1h-1zm5 0h1v1h-1zm239 0h1v1h-1zm-294 1h1v1h-1zm31 0h1v1h-1zm308 0h1v1h-1zm52 0h1v1h-1zm45 0h1v1h-1zm-401 1h1v1h-1zm11 0h1v1h-1zm357 0h1v1h-1zm8 0h1v1h-1zm-421 1h1v1h-1zm387 0h1v1h-1zm-357 1h1v1h-1zm315 0h1v1h-1zm16 0h1v1h-1zm-332 1h1v1h-1zm5 0h1v1h-1zm-34 1h1v1h-1zm32 0h1v1h-1zm291 0h1v1h-1zm-285 2h1v1h-1zm8 0h1v1h-1zm4 2h1v1h-1zm-14 1h1v1h-1zm30 0h1v1h-1zm-18 1h1v1h-1zm-11 2h1v1h-1zm6 0h1v1h-1zm0 3h1v1h-1zm-7 1h1v1h-1zm257 25h1v1h-1zm-280 7h1v1h-1zm198 2h1v1h-1zm88 9h1v1h-1zm-80 1h1v1h-1zm143 0h1v1h-1zm-46 3h1v1h-1zm27 0h1v1h-1zm35 1h1v1h-1zm-51 1h1v1h-1zm6 1h1v1h-1zm-40 1h1v1h-1zm4 0h1v1h-1zm9 0h1v1h-1zm8 0h1v1h-1zm-19 1h1v1h-1zm24 0h1v1h-1zm-3 1h1v1h-1zm18 0h1v1h-1zm-46 1h1v1h-1zm15 0h1v1h-1zm2 0h1v1h-1zm29 0h1v1h-1zm12 0h1v1h-1zm-58 2h1v1h-1zm48 0h1v1h-1zm26 0h1v1h-1zm-53 1h1v1h-1zm121 0h1v1h-1zm-384 1h1v1h-1zm269 0h1v1h-1zm-289 1h1v1h-1zm80 0h1v1h-1zm183 0h1v1h-1zm92 0h1v1h-1zm-402 1h1v1h-1zm123 0h1v1h-1zm2 0h1v1h-1zm7 0h1v1h-1zm7 0h1v1h-1zm176 0h1v1h-1zm17 0h1v1h-1zm99 0h1v1h-1zm38 0h1v1h-1zm-466 1h1v1h-1zm115 0h1v1h-1zm26 0h1v1h-1zm258 0h1v1h-1zm-369 1h1v1h-1zm7 0h1v1h-1zm34 0h1v1h-1zm36 0h1v1h-1zm210 0h1v1h-1zm90 0h1v1h-1zm40 0h1v1h-1zm-356 1h1v1h-1zm25 0h1v1h-1zm202 0h1v1h-1zm20 0h1v1h-1zm-263 1h1v1h-1zm13 0h1v1h-1zm220 0h1v1h-1zm34 0h1v1h-1zm93 0h1v1h-1zm7 0h1v1h-1zm4 0h1v1h-1zm-139 1h1v1h-1zm7 0h1v1h-1zm47 0h1v1h-1zm60 0h1v1h-1zm-411 1h1v1h-1zm9 0h1v1h-1zm11 0h1v1h-1zm111 0h1v1h-1zm279 0h1v1h-1zm9 0h1v1h-1zm18 0h1v1h-1zm21 0h1v1h-1zm5 0h1v1h-1zm-426 1h1v1h-1zm18 0h1v1h-1zm324 0h1v1h-1zm38 0h1v1h-1zm40 0h1v1h-1zm-463 1h1v1h-1zm7 0h1v1h-1zm6 0h1v1h-1zm9 0h1v1h-1zm48 0h1v1h-1zm5 0h1v1h-1zm5 0h1v1h-1zm20 0h1v1h-1zm227 0h1v1h-1zm62 0h1v1h-1zm49 0h1v1h-1zm10 0h1v1h-1zm19 0h1v1h-1zm-373 1h1v1h-1zm260 0h1v1h-1zm5 0h1v1h-1zm43 0h1v1h-1zm64 0h1v1h-1zm-420 1h1v1h-1zm17 0h1v1h-1zm-43 1h1v1h-1zm26 0h1v1h-1zm265 0h1v1h-1zm11 0h1v1h-1zm7 0h1v1h-1zm8 0h1v1h-1zm35 0h1v1h-1zm52 0h1v1h-1zm-391 1h1v1h-1zm80 0h1v1h-1zm222 0h1v1h-1zm6 0h1v1h-1zm23 0h1v1h-1zm13 0h1v1h-1zm8 0h1v1h-1zm23 0h1v1h-1zm23 0h1v1h-1zm-400 1h1v1h-1zm3 0h1v1h-1zm6 0h1v1h-1zm303 0h1v1h-1zm33 0h1v1h-1zm-347 1h1v1h-1zm82 0h1v1h-1zm4 0h1v1h-1zm11 0h1v1h-1zm198 0h1v1h-1zm11 0h1v1h-1zm62 0h1v1h-1zm10 0h1v1h-1zm60 0h1v1h-1zm-398 1h1v1h-1zm37 0h1v1h-1zm4 0h1v1h-1zm5 0h1v1h-1zm11 0h1v1h-1zm212 0h1v1h-1zm9 0h1v1h-1zm111 0h1v1h-1zm10 0h1v1h-1zm-471 1h1v1h-1zm70 0h1v1h-1zm32 0h1v1h-1zm4 0h1v1h-1zm10 0h1v1h-1zm4 0h1v1h-1zm6 0h1v1h-1zm3 0h2v1h-2zm18 0h1v1h-1zm201 0h1v1h-1zm7 0h1v1h-1zm52 0h1v1h-1zm11 0h1v1h-1zm38 0h1v1h-1zm-457 1h1v1h-1zm7 0h1v1h-1zm19 0h1v1h-1zm13 0h1v1h-1zm53 0h1v1h-1zm17 0h1v1h-1zm40 0h1v1h-1zm22 0h1v1h-1zm182 0h1v1h-1zm39 0h1v1h-1zm23 0h1v1h-1zm42 0h1v1h-1zm-391 1h1v1h-1zm31 0h1v1h-1zm52 0h1v1h-1zm253 0h1v1h-1zm-334 1h1v1h-1zm378 0h1v1h-1zm21 0h1v1h-1zm4 0h1v1h-1zm-325 1h1v1h-1zm214 0h1v1h-1zm85 0h1v1h-1zm12 0h1v1h-1zm-419 1h1v1h-1zm31 0h1v1h-1zm75 0h1v1h-1zm282 0h1v1h-1zm26 0h1v1h-1zm-405 1h1v1h-1zm18 0h1v1h-1zm16 0h1v1h-1zm268 0h1v1h-1zm30 0h1v1h-1zm18 0h1v1h-1zm11 0h1v1h-1zm-344 2h1v1h-1zm2 0h1v1h-1zm307 0h1v1h-1zm30 0h1v1h-1zm-67 1h1v1h-1zm28 0h1v1h-1zm91 1h1v1h-1zm-402 1h1v1h-1zm4 0h1v1h-1zm8 0h1v1h-1zm-15 1h1v1h-1zm394 0h1v1h-1zm-391 4h1v1h-1zm7 0h1v1h-1zm-6 1h1v1h-1zm-24 24h1v1h-1zm-5 8h1v1h-1zm267 3h1v1h-1z"/><path fill="#0000df" d="m200 12h1v1h-1zm-127 25h1v1h-1zm347 2h1v1h-1zm-122 11h1v1h-1zm-46 26h1v1h-1zm61 11h1v1h-1zm-171 8h1v1h-1zm161 1h1v1h-1zm8 0h1v1h-1zm23 1h1v1h-1zm107 1h1v1h-1zm-430 1h1v1h-1zm133 0h1v1h-1zm233 1h1v1h-1zm-377 1h1v1h-1zm172 0h1v1h-1zm-33 1h1v1h-1zm10 0h1v1h-1zm-135 1h1v1h-1zm121 0h1v1h-1zm7 0h1v1h-1zm34 0h1v1h-1zm-66 1h1v1h-1zm3 0h1v1h-1zm-87 1h1v1h-1zm76 0h1v1h-1zm38 0h1v1h-1zm181 0h1v1h-1zm15 0h1v1h-1zm-335 1h1v1h-1zm34 0h1v1h-1zm66 0h1v1h-1zm3 0h1v1h-1zm9 0h1v1h-1zm31 0h1v1h-1zm2 0h1v1h-1zm28 0h1v1h-1zm190 0h1v1h-1zm-353 1h1v1h-1zm10 0h1v1h-1zm37 0h1v1h-1zm47 0h1v1h-1zm2 0h1v1h-1zm26 0h1v1h-1zm15 0h1v1h-1zm18 0h1v1h-1zm6 0h1v1h-1zm159 0h1v1h-1zm-227 1h1v1h-1zm6 0h2v1h-2zm21 0h1v1h-1zm229 0h1v1h-1zm-341 1h1v1h-1zm6 0h1v1h-1zm18 0h1v1h-1zm8 0h1v1h-1zm14 0h1v1h-1zm15 0h1v1h-1zm32 0h1v1h-1zm4 0h1v1h-1zm12 0h1v1h-1zm40 0h1v1h-1zm4 0h1v1h-1zm4 0h1v1h-1zm2 0h1v1h-1zm165 0h1v1h-1zm34 0h1v1h-1zm98 0h1v1h-1zm-432 1h1v1h-1zm35 0h1v1h-1zm89 0h1v1h-1zm161 0h1v1h-1zm36 0h1v1h-1zm-352 1h1v1h-1zm3 0h1v1h-1zm21 0h1v1h-1zm2 0h1v1h-1zm4 0h1v1h-1zm10 0h2v1h-2zm7 0h1v1h-1zm31 0h1v1h-1zm27 0h1v1h-1zm201 0h1v1h-1zm27 0h1v1h-1zm58 0h1v1h-1zm39 0h1v1h-1zm-409 1h1v1h-1zm26 0h1v1h-1zm14 0h2v1h-2zm47 0h1v1h-1zm2 0h1v1h-1zm266 0h1v1h-1zm6 0h1v1h-1zm-335 1h1v1h-1zm11 0h1v1h-1zm73 0h1v1h-1zm164 0h1v1h-1zm13 0h1v1h-1zm20 0h1v1h-1zm47 0h1v1h-1zm-320 1h1v1h-1zm8 0h1v1h-1zm49 0h1v1h-1zm250 0h1v1h-1zm24 0h1v1h-1zm38 0h1v1h-1zm-434 1h1v1h-1zm148 0h1v1h-1zm224 0h1v1h-1zm86 0h1v1h-1zm-59 1h1v1h-1zm51 1h1v1h-1zm2 0h1v1h-1zm16 0h1v1h-1zm-311 1h1v1h-1zm152 0h1v1h-1zm71 0h1v1h-1zm-354 1h1v1h-1zm7 0h1v1h-1zm65 0h2v1h-2zm14 0h1v1h-1zm9 0h1v1h-1zm31 0h1v1h-1zm303 0h1v1h-1zm-395 1h1v1h-1zm50 0h1v1h-1zm326 0h1v1h-1zm12 0h1v1h-1zm25 0h1v1h-1zm-465 1h2v1h-2zm98 0h1v1h-1zm17 0h2v1h-2zm276 0h1v1h-1zm2 0h1v1h-1zm-328 1h1v1h-1zm17 0h1v1h-1zm3 0h1v1h-1zm27 0h1v1h-1zm31 0h1v1h-1zm9 0h1v1h-1zm202 0h1v1h-1zm-330 1h1v1h-1zm4 0h1v1h-1zm15 0h1v1h-1zm23 0h1v1h-1zm48 0h1v1h-1zm31 0h1v1h-1zm-94 1h1v1h-1zm8 0h1v1h-1zm26 0h1v1h-1zm62 0h1v1h-1zm-94 1h1v1h-1zm8 0h1v1h-1zm26 0h1v1h-1zm3 0h1v1h-1zm-81 1h1v1h-1zm24 0h1v1h-1zm42 0h1v1h-1zm233 0h1v1h-1zm-153 1h1v1h-1zm-97 1h1v1h-1zm-15 2h1v1h-1zm269 0h1v1h-1zm1 15h1v1h-1zm-2 5h1v1h-1zm-182 1h2v1h-2zm167 1h1v1h-1zm-165 1h1v1h-1zm183 0h1v1h-1zm6 2h1v1h-1zm-17 1h1v1h-1zm-176 1h1v1h-1zm-4 2h1v1h-1zm181 1h1v1h-1zm6 1h1v1h-1zm10 0h1v1h-1zm10 0h1v1h-1zm-217 1h1v1h-1zm223 0h1v1h-1zm3 0h1v1h-1zm28 0h1v1h-1zm-248 1h2v1h-2zm17 0h1v1h-1zm212 0h1v1h-1zm25 0h1v1h-1zm6 0h1v1h-1zm59 0h1v1h-1zm-312 1h1v1h-1zm179 0h1v1h-1zm2 0h1v1h-1zm8 0h1v1h-1zm10 0h1v1h-1zm26 0h1v1h-1zm22 0h1v1h-1zm10 0h1v1h-1zm12 0h1v1h-1zm-263 1h1v1h-1zm179 0h1v1h-1zm135 0h1v1h-1zm-350 1h1v1h-1zm5 0h1v1h-1zm216 0h1v1h-1zm2 0h1v1h-1zm4 0h1v1h-1zm30 0h1v1h-1zm36 0h1v1h-1zm-302 1h1v1h-1zm3 0h1v1h-1zm24 0h1v1h-1zm278 0h1v1h-1zm49 0h1v1h-1zm17 0h1v1h-1zm10 0h1v1h-1zm-465 1h1v1h-1zm405 0h1v1h-1zm31 0h1v1h-1zm-436 1h1v1h-1zm27 0h1v1h-1zm9 0h1v1h-1zm91 0h1v1h-1zm198 0h1v1h-1zm2 0h1v1h-1zm51 0h1v1h-1zm17 0h1v1h-1zm15 0h1v1h-1zm26 0h1v1h-1zm23 0h1v1h-1zm-416 1h1v1h-1zm41 0h1v1h-1zm37 0h1v1h-1zm9 0h1v1h-1zm2 0h1v1h-1zm185 0h1v1h-1zm38 0h1v1h-1zm2 0h1v1h-1zm51 0h1v1h-1zm7 0h1v1h-1zm43 0h1v1h-1zm-416 1h1v1h-1zm79 0h1v1h-1zm210 0h1v1h-1zm62 0h1v1h-1zm-388 1h1v1h-1zm104 0h1v1h-1zm4 0h1v1h-1zm220 0h1v1h-1zm17 0h1v1h-1zm29 0h1v1h-1zm6 0h1v1h-1zm-312 1h1v1h-1zm90 0h1v1h-1zm158 0h1v1h-1zm4 0h1v1h-1zm99 0h1v1h-1zm24 0h1v1h-1zm-368 1h1v1h-1zm11 0h1v1h-1zm8 0h1v1h-1zm2 0h1v1h-1zm11 0h1v1h-1zm-103 1h1v1h-1zm4 0h1v1h-1zm10 0h1v1h-1zm2 0h1v1h-1zm5 0h1v1h-1zm46 0h1v1h-1zm4 0h1v1h-1zm28 0h1v1h-1zm24 0h1v1h-1zm249 0h1v1h-1zm31 0h1v1h-1zm9 0h1v1h-1zm-346 1h1v1h-1zm14 0h1v1h-1zm-61 1h1v1h-1zm10 0h1v1h-1zm38 0h1v1h-1zm272 0h1v1h-1zm-309 1h1v1h-1zm6 0h1v1h-1zm11 0h1v1h-1zm26 0h1v1h-1zm6 0h1v1h-1zm20 0h1v1h-1zm344 0h1v1h-1zm0 1h1v1h-1zm-450 1h1v1h-1zm393 0h1v1h-1zm-43 1h1v1h-1zm14 0h2v1h-2zm28 0h1v1h-1zm-2 1h1v1h-1zm16 0h1v1h-1zm-336 1h1v1h-1zm319 0h1v1h-1zm-118 18h1v1h-1zm24 12h1v1h-1zm99 0h1v1h-1zm-276 12h1v1h-1zm1 1h1v1h-1zm188 2h1v1h-1zm-219 1h1v1h-1zm2 1h1v1h-1zm24 0h1v1h-1zm-28 1h1v1h-1zm26 0h1v1h-1zm1 1h2v1h-2zm-2 2h1v1h-1zm6 0h1v1h-1zm-40 1h1v1h-1zm31 0h1v1h-1zm16 0h1v1h-1zm190 0h1v1h-1zm76 0h1v1h-1zm16 0h1v1h-1zm-299 1h1v1h-1zm254 0h1v1h-1zm-290 1h1v1h-1zm45 0h1v1h-1zm245 0h1v1h-1zm-249 1h1v1h-1zm190 0h1v1h-1zm11 0h2v1h-2zm-225 1h1v1h-1zm235 0h1v1h-1zm-230 1h1v1h-1zm24 0h1v1h-1zm229 0h1v1h-1zm98 0h1v1h-1zm-369 1h1v1h-1zm16 0h1v1h-1zm12 0h1v1h-1zm195 0h1v1h-1zm22 0h1v1h-1zm66 0h1v1h-1zm4 0h1v1h-1zm-324 1h1v1h-1zm25 0h1v1h-1zm2 0h1v1h-1zm238 0h1v1h-1zm-234 1h1v1h-1zm20 0h1v1h-1zm218 0h1v1h-1zm-27 1h1v1h-1zm68 0h1v1h-1zm53 0h1v1h-1zm-421 1h1v1h-1zm68 0h1v1h-1zm49 0h1v1h-1zm167 0h1v1h-1zm76 0h1v1h-1zm42 0h1v1h-1zm34 0h1v1h-1zm-450 1h1v1h-1zm89 0h1v1h-1zm17 0h1v1h-1zm8 0h1v1h-1zm229 0h1v1h-1zm21 0h1v1h-1zm23 0h1v1h-1zm-318 1h1v1h-1zm41 0h1v1h-1zm222 0h1v1h-1zm43 0h1v1h-1zm33 0h1v1h-1zm45 0h1v1h-1zm9 0h1v1h-1zm-432 1h1v1h-1zm13 0h1v1h-1zm30 0h1v1h-1zm8 0h1v1h-1zm21 0h1v1h-1zm299 0h1v1h-1zm64 0h1v1h-1zm-371 1h1v1h-1zm31 0h1v1h-1zm2 0h1v1h-1zm245 0h1v1h-1zm-354 1h1v1h-1zm15 0h1v1h-1zm18 0h1v1h-1zm54 0h1v1h-1zm306 0h1v1h-1zm29 0h1v1h-1zm-418 1h2v1h-2zm9 0h1v1h-1zm10 0h1v1h-1zm4 0h1v1h-1zm3 0h1v1h-1zm17 0h1v1h-1zm325 0h1v1h-1zm63 0h1v1h-1zm-452 1h1v1h-1zm32 0h1v1h-1zm32 0h1v1h-1zm296 0h1v1h-1zm9 0h1v1h-1zm2 0h1v1h-1zm-296 1h1v1h-1zm46 0h1v1h-1zm10 0h1v1h-1zm183 0h1v1h-1zm-308 1h1v1h-1zm9 0h1v1h-1zm37 0h1v1h-1zm72 0h1v1h-1zm185 0h1v1h-1zm-299 1h1v1h-1zm47 0h1v1h-1zm4 0h1v1h-1zm63 0h1v1h-1zm182 0h1v1h-1zm3 0h1v1h-1zm-237 1h1v1h-1zm46 0h1v1h-1zm211 0h1v1h-1zm17 0h1v1h-1zm40 0h1v1h-1zm52 0h1v1h-1zm5 0h1v1h-1zm-385 1h1v1h-1zm13 0h1v1h-1zm63 0h1v1h-1zm221 0h1v1h-1zm52 0h1v1h-1zm-280 1h1v1h-1zm224 0h1v1h-1zm14 0h1v1h-1zm28 0h1v1h-1zm10 0h1v1h-1zm21 0h1v1h-1zm14 0h1v1h-1zm25 0h1v1h-1zm-467 1h1v1h-1zm134 0h1v1h-1zm214 0h1v1h-1zm29 0h1v1h-1zm9 0h1v1h-1zm54 0h1v1h-1zm3 0h1v1h-1zm-417 1h1v1h-1zm86 0h1v1h-1zm216 0h1v1h-1zm97 0h2v1h-2zm35 0h1v1h-1zm2 0h1v1h-1zm7 0h1v1h-1zm-438 1h1v1h-1zm62 0h1v1h-1zm262 0h1v1h-1zm61 0h1v1h-1zm-396 1h1v1h-1zm50 0h1v1h-1zm232 0h1v1h-1zm8 0h1v1h-1zm36 0h1v1h-1zm39 0h1v1h-1zm29 0h1v1h-1zm48 0h1v1h-1zm-461 1h1v1h-1zm2 0h1v1h-1zm2 0h1v1h-1zm14 0h1v1h-1zm20 0h1v1h-1zm45 0h1v1h-1zm5 0h1v1h-1zm9 0h1v1h-1zm10 0h1v1h-1zm311 0h1v1h-1zm2 0h1v1h-1zm2 0h1v1h-1zm13 0h1v1h-1zm-410 1h1v1h-1zm6 0h1v1h-1zm6 0h1v1h-1zm50 0h1v1h-1zm333 0h2v1h-2zm38 0h1v1h-1zm-433 1h1v1h-1zm9 0h1v1h-1zm18 0h1v1h-1zm31 0h1v1h-1zm243 0h1v1h-1zm8 0h1v1h-1zm23 0h1v1h-1zm28 0h1v1h-1zm7 0h1v1h-1zm-358 1h1v1h-1zm21 0h1v1h-1zm354 0h1v1h-1zm-399 1h1v1h-1zm31 0h1v1h-1zm24 0h2v1h-2zm14 0h1v1h-1zm265 0h1v1h-1zm42 0h1v1h-1zm-316 1h1v1h-1zm3 0h1v1h-1zm2 0h1v1h-1zm252 0h1v1h-1zm2 0h1v1h-1zm74 0h1v1h-1zm16 0h1v1h-1zm-390 1h1v1h-1zm5 0h1v1h-1zm270 0h1v1h-1zm143 0h1v1h-1zm-437 1h1v1h-1zm6 0h1v1h-1zm54 0h1v1h-1zm245 0h1v1h-1zm-301 1h2v1h-2zm446 0h1v1h-1zm-447 1h1v1h-1zm26 0h1v1h-1zm288 0h1v1h-1zm56 0h1v1h-1zm-338 1h1v1h-1zm373 0h1v1h-1zm-107 1h1v1h-1zm160 0h1v1h-1zm-418 1h1v1h-1zm5 0h1v1h-1zm313 0h1v1h-1zm-321 1h1v1h-1zm198 0h1v1h-1zm153 0h1v1h-1zm-338 1h1v1h-1zm238 0h1v1h-1zm0 2h1v1h-1zm165 0h1v1h-1zm-412 1h1v1h-1zm249 0h1v1h-1zm-177 3h1v1h-1zm180 0h1v1h-1zm37 3h1v1h-1zm-223 3h1v1h-1zm198 1h1v1h-1zm-203 1h1v1h-1zm4 0h1v1h-1zm188 0h1v1h-1zm26 0h1v1h-1zm8 0h1v1h-1zm-234 1h1v1h-1zm204 0h1v1h-1zm73 0h1v1h-1zm-277 1h1v1h-1zm211 0h1v1h-1zm50 1h1v1h-1zm20 0h1v1h-1zm35 0h1v1h-1zm-308 1h1v1h-1zm345 0h1v1h-1zm-142 1h1v1h-1zm120 0h1v1h-1zm-323 1h1v1h-1zm11 0h1v1h-1zm284 0h1v1h-1zm-279 1h1v1h-1zm247 0h1v1h-1zm-265 1h1v1h-1zm11 0h1v1h-1zm212 0h1v1h-1zm52 0h1v1h-1zm18 0h1v1h-1zm-295 1h1v1h-1zm16 0h1v1h-1zm9 0h1v1h-1zm214 0h1v1h-1zm60 0h1v1h-1zm-295 1h1v1h-1zm14 0h1v1h-1zm216 0h1v1h-1zm46 0h1v1h-1zm47 0h1v1h-1zm-309 1h1v1h-1zm6 0h1v1h-1zm-138 1h1v1h-1zm119 0h1v1h-1zm8 0h1v1h-1zm227 0h1v1h-1zm24 0h1v1h-1zm37 0h1v1h-1zm-323 1h1v1h-1zm17 0h1v1h-1zm34 0h1v1h-1zm248 0h1v1h-1zm41 0h1v1h-1zm8 0h1v1h-1zm-349 1h1v1h-1zm238 0h1v1h-1zm11 0h1v1h-1zm11 0h1v1h-1zm57 0h1v1h-1zm5 0h1v1h-1zm8 0h1v1h-1zm15 0h1v1h-1zm3 0h1v1h-1zm-329 1h1v1h-1zm210 0h1v1h-1zm59 0h1v1h-1zm46 0h1v1h-1zm18 0h1v1h-1zm16 0h1v1h-1zm-418 1h1v1h-1zm69 0h1v1h-1zm237 0h1v1h-1zm21 0h1v1h-1zm67 0h1v1h-1zm12 0h1v1h-1zm11 0h1v1h-1zm8 0h1v1h-1zm-463 1h1v1h-1zm102 0h2v1h-2zm241 0h1v1h-1zm77 0h1v1h-1zm7 0h1v1h-1zm11 0h1v1h-1zm19 0h1v1h-1zm-454 1h1v1h-1zm16 0h1v1h-1zm12 0h2v1h-2zm48 0h1v1h-1zm11 0h1v1h-1zm2 0h1v1h-1zm209 0h1v1h-1zm6 0h1v1h-1zm4 0h1v1h-1zm66 0h1v1h-1zm73 0h1v1h-1zm-446 1h1v1h-1zm32 0h1v1h-1zm427 0h1v1h-1zm2 0h1v1h-1zm-452 1h1v1h-1zm14 0h1v1h-1zm68 0h1v1h-1zm7 0h1v1h-1zm7 0h1v1h-1zm196 0h1v1h-1zm3 0h1v1h-1zm147 0h1v1h-1zm14 0h1v1h-1zm-382 1h1v1h-1zm221 0h2v1h-2zm104 0h1v1h-1zm5 0h1v1h-1zm42 0h1v1h-1zm-450 1h1v1h-1zm16 0h1v1h-1zm44 0h1v1h-1zm13 0h1v1h-1zm267 0h1v1h-1zm64 0h1v1h-1zm-392 1h1v1h-1zm27 0h1v1h-1zm21 0h2v1h-2zm3 0h1v1h-1zm12 0h1v1h-1zm35 0h1v1h-1zm21 0h1v1h-1zm-81 1h1v1h-1zm6 0h1v1h-1zm2 0h1v1h-1zm22 0h1v1h-1zm212 0h1v1h-1zm33 0h1v1h-1zm13 0h1v1h-1zm-342 1h1v1h-1zm51 0h1v1h-1zm33 0h1v1h-1zm30 0h1v1h-1zm194 0h1v1h-1zm2 0h1v1h-1zm3 0h1v1h-1zm5 0h1v1h-1zm9 0h1v1h-1zm30 0h1v1h-1zm72 0h1v1h-1zm11 0h1v1h-1zm-448 1h1v1h-1zm59 0h1v1h-1zm9 0h1v1h-1zm246 0h1v1h-1zm136 0h1v1h-1zm-452 1h1v1h-1zm131 0h1v1h-1zm4 0h1v1h-1zm176 0h1v1h-1zm74 0h1v1h-1zm5 0h1v1h-1zm10 0h1v1h-1zm-69 1h1v1h-1zm11 0h1v1h-1zm51 0h1v1h-1zm12 0h1v1h-1zm45 0h1v1h-1zm14 0h1v1h-1zm11 0h1v1h-1zm2 0h1v1h-1zm-418 1h1v1h-1zm61 0h1v1h-1zm16 0h1v1h-1zm177 0h1v1h-1zm17 0h1v1h-1zm49 0h1v1h-1zm77 0h1v1h-1zm20 0h1v1h-1zm-470 1h1v1h-1zm133 0h1v1h-1zm188 0h1v1h-1zm51 0h1v1h-1zm56 0h1v1h-1zm30 0h1v1h-1zm-428 1h1v1h-1zm65 0h1v1h-1zm14 0h1v1h-1zm22 0h1v1h-1zm288 0h1v1h-1zm3 0h2v1h-2zm19 0h1v1h-1zm-353 1h1v1h-1zm31 0h1v1h-1zm245 0h1v1h-1zm2 0h1v1h-1zm10 0h1v1h-1zm53 0h1v1h-1zm7 0h1v1h-1zm-443 1h1v1h-1zm4 0h1v1h-1zm46 0h1v1h-1zm48 0h1v1h-1zm5 0h2v1h-2zm211 0h1v1h-1zm36 0h1v1h-1zm67 0h1v1h-1zm4 0h1v1h-1zm-415 1h1v1h-1zm3 0h1v1h-1zm14 0h1v1h-1zm57 0h1v1h-1zm4 0h1v1h-1zm5 0h1v1h-1zm11 0h1v1h-1zm45 0h1v1h-1zm179 0h1v1h-1zm25 0h1v1h-1zm32 0h1v1h-1zm68 0h1v1h-1zm25 0h1v1h-1zm-468 1h1v1h-1zm7 0h1v1h-1zm126 0h1v1h-1zm212 0h1v1h-1zm66 0h1v1h-1zm12 0h1v1h-1zm33 0h1v1h-1zm15 0h1v1h-1zm-463 1h1v1h-1zm4 0h2v1h-2zm55 0h1v1h-1zm12 0h1v1h-1zm12 0h1v1h-1zm49 0h1v1h-1zm168 0h1v1h-1zm34 0h1v1h-1zm72 0h1v1h-1zm20 0h1v1h-1zm37 0h1v1h-1zm-399 1h1v1h-1zm6 0h1v1h-1zm3 0h1v1h-1zm13 0h1v1h-1zm278 0h1v1h-1zm50 0h1v1h-1zm38 0h1v1h-1zm6 0h1v1h-1zm-435 1h1v1h-1zm59 0h1v1h-1zm343 0h1v1h-1zm17 0h1v1h-1zm19 0h1v1h-1zm-449 1h1v1h-1zm45 0h1v1h-1zm339 0h1v1h-1zm-393 1h1v1h-1zm8 0h1v1h-1zm23 0h1v1h-1zm58 0h1v1h-1zm344 0h1v1h-1zm-84 1h1v1h-1zm71 0h1v1h-1zm26 0h1v1h-1zm6 0h1v1h-1zm7 0h1v1h-1zm-398 1h1v1h-1zm3 0h1v1h-1zm18 0h1v1h-1zm218 0h1v1h-1zm47 0h1v1h-1zm-315 1h1v1h-1zm12 0h1v1h-1zm332 0h1v1h-1zm14 0h1v1h-1zm25 0h1v1h-1zm-360 1h1v1h-1zm4 0h1v1h-1zm274 0h1v1h-1zm33 0h1v1h-1zm54 0h1v1h-1zm-63 2h1v1h-1zm-298 1h1v1h-1zm348 0h1v1h-1zm-363 1h1v1h-1zm12 0h1v1h-1zm3 2h1v1h-1zm-19 1h1v1h-1zm377 0h1v1h-1zm-368 1h1v1h-1zm-7 1h1v1h-1zm7 0h1v1h-1zm-5 2h1v1h-1zm4 0h1v1h-1zm81 9h1v1h-1zm-124 18h1v1h-1zm0 1h1v1h-1zm128 5h1v1h-1zm162 5h1v1h-1zm47 1h1v1h-1zm-45 2h1v1h-1zm4 5h1v1h-1zm4 0h1v1h-1zm-1 4h1v1h-1zm1 1h1v1h-1zm-6 3h2v1h-2zm41 2h1v1h-1zm-34 1h1v1h-1zm5 1h1v1h-1zm52 0h1v1h-1zm-25 2h1v1h-1zm12 0h1v1h-1zm-30 1h1v1h-1zm-216 1h1v1h-1zm190 0h1v1h-1zm39 0h1v1h-1zm21 0h1v1h-1zm-223 2h1v1h-1zm213 0h1v1h-1zm9 0h1v1h-1zm77 0h1v1h-1zm-109 1h1v1h-1zm14 0h1v1h-1zm62 0h1v1h-1zm25 0h1v1h-1zm-395 1h1v1h-1zm73 0h2v1h-2zm19 0h1v1h-1zm194 0h1v1h-1zm59 0h1v1h-1zm-357 1h1v1h-1zm15 0h1v1h-1zm94 0h1v1h-1zm298 0h1v1h-1zm-432 1h1v1h-1zm141 0h1v1h-1zm171 0h1v1h-1zm70 0h1v1h-1zm58 0h1v1h-1zm-443 1h1v1h-1zm11 0h1v1h-1zm71 0h1v1h-1zm33 0h2v1h-2zm20 0h1v1h-1zm240 0h1v1h-1zm55 0h1v1h-1zm34 0h1v1h-1zm-390 1h1v1h-1zm9 0h1v1h-1zm54 0h1v1h-1zm2 0h1v1h-1zm2 0h1v1h-1zm165 0h1v1h-1zm10 0h1v1h-1zm88 0h1v1h-1zm62 0h1v1h-1zm-393 1h1v1h-1zm4 0h1v1h-1zm14 0h1v1h-1zm19 0h1v1h-1zm200 0h1v1h-1zm4 0h1v1h-1zm13 0h1v1h-1zm143 0h1v1h-1zm-461 1h1v1h-1zm9 0h1v1h-1zm50 0h1v1h-1zm2 0h1v1h-1zm8 0h1v1h-1zm61 0h2v1h-2zm176 0h1v1h-1zm46 0h1v1h-1zm31 0h1v1h-1zm80 0h1v1h-1zm-105 1h1v1h-1zm86 0h1v1h-1zm4 0h1v1h-1zm-444 1h1v1h-1zm51 0h1v1h-1zm45 0h1v1h-1zm201 0h1v1h-1zm13 0h1v1h-1zm27 0h1v1h-1zm-246 1h1v1h-1zm210 0h1v1h-1zm52 0h1v1h-1zm-59 1h1v1h-1zm28 0h1v1h-1zm45 0h1v1h-1zm-315 1h1v1h-1zm252 0h1v1h-1zm-194 1h1v1h-1zm2 0h1v1h-1zm221 0h1v1h-1zm5 0h1v1h-1zm16 0h1v1h-1zm11 0h1v1h-1zm52 0h1v1h-1zm42 0h1v1h-1zm-350 1h1v1h-1zm7 0h1v1h-1zm8 0h1v1h-1zm222 0h1v1h-1zm16 0h1v1h-1zm34 0h1v1h-1zm20 0h1v1h-1zm-414 1h1v1h-1zm294 0h1v1h-1zm64 0h1v1h-1zm32 0h1v1h-1zm11 0h1v1h-1zm16 0h1v1h-1zm24 0h1v1h-1zm2 0h1v1h-1zm10 0h1v1h-1zm-436 1h1v1h-1zm69 0h1v1h-1zm9 0h1v1h-1zm318 0h1v1h-1zm28 0h1v1h-1zm-453 1h1v1h-1zm43 0h1v1h-1zm30 0h1v1h-1zm3 0h1v1h-1zm20 0h1v1h-1zm3 0h1v1h-1zm2 0h1v1h-1zm17 0h1v1h-1zm288 0h1v1h-1zm12 0h1v1h-1zm34 0h1v1h-1zm-407 1h1v1h-1zm51 0h1v1h-1zm5 0h1v1h-1zm31 0h1v1h-1zm10 0h1v1h-1zm57 0h1v1h-1zm192 0h1v1h-1zm41 0h1v1h-1zm-430 1h1v1h-1zm9 0h1v1h-1zm64 0h1v1h-1zm337 0h1v1h-1zm-409 1h1v1h-1zm5 0h1v1h-1zm42 0h1v1h-1zm22 0h1v1h-1zm286 0h1v1h-1zm-332 1h1v1h-1zm19 0h1v1h-1zm14 0h1v1h-1zm9 0h1v1h-1zm306 0h1v1h-1zm2 0h1v1h-1zm15 0h1v1h-1zm-387 1h1v1h-1zm43 0h1v1h-1zm6 0h1v1h-1zm3 1h1v1h-1zm48 0h1v1h-1zm42 0h1v1h-1zm284 0h1v1h-1zm-416 1h1v1h-1zm50 0h1v1h-1zm329 0h1v1h-1zm-386 1h1v1h-1zm39 0h1v1h-1zm287 1h1v1h-1zm-288 1h1v1h-1zm385 0h1v1h-1zm-378 1h1v1h-1zm9 3h1v1h-1zm62 0h1v1h-1zm104 3h1v1h-1zm94 2h1v1h-1zm-107 5h1v1h-1z"/><path fill="#0000ef" d="m115 6h1v1h-1zm-10 2h1v1h-1zm207 72h1v1h-1zm-312 13h1v1h-1zm1 1h1v1h-1zm313 1h1v1h-1zm4 5h1v1h-1zm-313 1h2v1h-2zm137 0h1v1h-1zm9 1h1v1h-1zm167 0h1v1h-1zm-315 1h1v1h-1zm5 0h1v1h-1zm315 0h1v1h-1zm-194 1h1v1h-1zm19 0h1v1h-1zm2 0h1v1h-1zm26 0h1v1h-1zm124 0h1v1h-1zm20 0h1v1h-1zm12 1h1v1h-1zm-318 1h1v1h-1zm135 0h1v1h-1zm23 0h1v1h-1zm7 0h1v1h-1zm123 0h1v1h-1zm35 0h1v1h-1zm-331 1h1v1h-1zm24 0h1v1h-1zm85 0h1v1h-1zm200 0h1v1h-1zm80 0h1v1h-1zm-363 1h1v1h-1zm23 0h1v1h-1zm43 0h1v1h-1zm17 0h1v1h-1zm53 0h1v1h-1zm194 0h2v1h-2zm-332 1h2v1h-2zm12 0h1v1h-1zm90 0h1v1h-1zm29 0h1v1h-1zm240 0h1v1h-1zm-374 1h1v1h-1zm125 0h1v1h-1zm17 0h1v1h-1zm10 0h1v1h-1zm218 0h1v1h-1zm-383 1h1v1h-1zm19 0h1v1h-1zm15 0h1v1h-1zm2 0h2v1h-2zm23 0h1v1h-1zm26 0h1v1h-1zm21 0h1v1h-1zm3 0h1v1h-1zm33 0h1v1h-1zm151 0h1v1h-1zm5 0h1v1h-1zm-219 1h1v1h-1zm76 0h1v1h-1zm161 0h1v1h-1zm18 0h1v1h-1zm67 0h1v1h-1zm-401 1h1v1h-1zm50 0h1v1h-1zm3 0h1v1h-1zm16 0h1v1h-1zm2 0h1v1h-1zm4 0h1v1h-1zm6 0h1v1h-1zm271 0h1v1h-1zm58 0h2v1h-2zm9 0h1v1h-1zm4 0h1v1h-1zm-437 1h1v1h-1zm66 0h1v1h-1zm75 0h1v1h-1zm23 0h1v1h-1zm158 0h1v1h-1zm20 0h1v1h-1zm122 0h1v1h-1zm9 0h1v1h-1zm-335 1h1v1h-1zm23 0h1v1h-1zm13 0h1v1h-1zm-170 1h1v1h-1zm109 0h1v1h-1zm35 0h1v1h-1zm297 0h1v1h-1zm11 0h1v1h-1zm-428 1h1v1h-1zm113 0h1v1h-1zm19 0h1v1h-1zm10 0h1v1h-1zm2 0h1v1h-1zm252 0h1v1h-1zm-414 1h1v1h-1zm126 0h1v1h-1zm38 0h1v1h-1zm281 0h1v1h-1zm-337 1h1v1h-1zm2 0h1v1h-1zm55 0h1v1h-1zm232 0h1v1h-1zm3 0h1v1h-1zm-404 1h1v1h-1zm98 0h1v1h-1zm34 0h1v1h-1zm12 0h1v1h-1zm2 0h1v1h-1zm22 0h1v1h-1zm192 0h1v1h-1zm-278 1h1v1h-1zm26 0h1v1h-1zm56 0h1v1h-1zm8 0h1v1h-1zm206 0h1v1h-1zm-360 1h1v1h-1zm55 0h1v1h-1zm11 0h1v1h-1zm9 0h2v1h-2zm9 0h1v1h-1zm51 0h1v1h-1zm2 0h1v1h-1zm165 0h1v1h-1zm58 0h1v1h-1zm-369 1h1v1h-1zm60 0h1v1h-1zm87 0h1v1h-1zm245 0h1v1h-1zm-395 1h1v1h-1zm39 0h1v1h-1zm19 0h1v1h-1zm6 0h1v1h-1zm16 0h1v1h-1zm2 0h1v1h-1zm61 0h1v1h-1zm-74 1h1v1h-1zm8 0h1v1h-1zm-41 1h1v1h-1zm111 0h1v1h-1zm240 0h1v1h-1zm-381 1h1v1h-1zm6 0h1v1h-1zm66 0h1v1h-1zm71 1h1v1h-1zm205 0h1v1h-1zm-349 4h1v1h-1zm134 15h1v1h-1zm156 0h1v1h-1zm53 4h1v1h-1zm-220 1h1v1h-1zm-5 2h1v1h-1zm213 0h1v1h-1zm37 0h1v1h-1zm-79 1h1v1h-1zm84 0h1v1h-1zm-253 1h1v1h-1zm-9 1h1v1h-1zm16 2h1v1h-1zm246 0h1v1h-1zm-388 2h1v1h-1zm306 1h1v1h-1zm84 0h1v1h-1zm-266 2h1v1h-1zm275 0h1v1h-1zm-357 1h1v1h-1zm83 0h1v1h-1zm254 0h1v1h-1zm14 0h1v1h-1zm-366 1h1v1h-1zm63 0h1v1h-1zm40 0h1v1h-1zm224 0h1v1h-1zm109 0h1v1h-1zm-370 1h1v1h-1zm10 0h1v1h-1zm3 0h1v1h-1zm2 0h1v1h-1zm35 0h1v1h-1zm185 0h1v1h-1zm46 0h1v1h-1zm28 0h1v1h-1zm33 0h1v1h-1zm-436 1h1v1h-1zm63 0h1v1h-1zm47 0h1v1h-1zm215 0h1v1h-1zm17 0h1v1h-1zm69 0h1v1h-1zm-409 1h1v1h-1zm18 0h1v1h-1zm5 0h1v1h-1zm7 0h1v1h-1zm63 0h1v1h-1zm6 0h1v1h-1zm45 0h1v1h-1zm228 0h1v1h-1zm34 0h1v1h-1zm22 0h1v1h-1zm47 0h1v1h-1zm-457 1h1v1h-1zm310 0h1v1h-1zm6 0h1v1h-1zm13 0h1v1h-1zm119 0h1v1h-1zm-463 1h1v1h-1zm13 0h1v1h-1zm98 0h1v1h-1zm9 0h1v1h-1zm18 0h1v1h-1zm164 0h1v1h-1zm22 0h1v1h-1zm47 0h1v1h-1zm13 0h1v1h-1zm22 0h1v1h-1zm6 0h1v1h-1zm27 0h1v1h-1zm9 0h1v1h-1zm-450 1h1v1h-1zm12 0h1v1h-1zm48 0h2v1h-2zm317 0h1v1h-1zm23 0h1v1h-1zm33 0h1v1h-1zm-393 1h1v1h-1zm13 0h1v1h-1zm53 0h1v1h-1zm20 0h1v1h-1zm268 0h1v1h-1zm33 0h1v1h-1zm10 0h1v1h-1zm18 0h1v1h-1zm-450 1h2v1h-2zm36 0h1v1h-1zm4 0h1v1h-1zm360 0h1v1h-1zm10 0h1v1h-1zm41 0h1v1h-1zm8 0h1v1h-1zm-437 1h2v1h-2zm13 0h1v1h-1zm57 0h1v1h-1zm18 0h1v1h-1zm246 0h1v1h-1zm31 0h1v1h-1zm-355 1h1v1h-1zm-14 1h1v1h-1zm8 0h1v1h-1zm43 0h2v1h-2zm-55 1h1v1h-1zm39 0h2v1h-2zm6 0h1v1h-1zm2 0h1v1h-1zm294 0h1v1h-1zm-297 1h1v1h-1zm20 0h1v1h-1zm-23 1h1v1h-1zm4 1h1v1h-1zm-6 2h1v1h-1zm304 0h1v1h-1zm58 2h1v1h-1zm-297 38h1v1h-1zm207 2h1v1h-1zm-215 1h1v1h-1zm203 1h1v1h-1zm-188 1h1v1h-1zm182 0h1v1h-1zm7 1h1v1h-1zm-198 3h1v1h-1zm190 0h1v1h-1zm80 0h1v1h-1zm-282 1h1v1h-1zm18 0h1v1h-1zm-29 1h1v1h-1zm3 1h1v1h-1zm35 0h1v1h-1zm188 1h1v1h-1zm-226 1h1v1h-1zm19 0h1v1h-1zm200 0h1v1h-1zm11 0h1v1h-1zm12 0h1v1h-1zm2 0h1v1h-1zm-236 1h1v1h-1zm11 0h1v1h-1zm18 0h1v1h-1zm3 0h1v1h-1zm191 0h1v1h-1zm-18 1h1v1h-1zm13 0h1v1h-1zm135 0h1v1h-1zm-333 1h1v1h-1zm203 0h1v1h-1zm-251 1h1v1h-1zm31 0h1v1h-1zm-78 1h1v1h-1zm314 0h2v1h-2zm19 0h1v1h-1zm-284 1h1v1h-1zm15 0h1v1h-1zm2 0h1v1h-1zm44 0h1v1h-1zm256 0h1v1h-1zm27 0h1v1h-1zm-292 1h1v1h-1zm299 0h1v1h-1zm-434 1h1v1h-1zm27 0h1v1h-1zm78 0h1v1h-1zm15 0h1v1h-1zm8 0h1v1h-1zm6 0h1v1h-1zm207 0h1v1h-1zm48 0h1v1h-1zm13 0h1v1h-1zm74 0h1v1h-1zm-404 1h1v1h-1zm267 0h1v1h-1zm5 0h1v1h-1zm17 0h1v1h-1zm23 0h1v1h-1zm4 0h1v1h-1zm6 0h1v1h-1zm19 0h1v1h-1zm28 0h1v1h-1zm-437 1h1v1h-1zm71 0h1v1h-1zm20 0h1v1h-1zm6 0h1v1h-1zm13 0h1v1h-1zm276 0h1v1h-1zm3 0h1v1h-1zm72 0h1v1h-1zm12 0h1v1h-1zm-394 1h1v1h-1zm10 0h1v1h-1zm3 0h1v1h-1zm5 0h1v1h-1zm39 0h1v1h-1zm281 0h1v1h-1zm10 0h1v1h-1zm-425 1h1v1h-1zm18 0h1v1h-1zm31 0h1v1h-1zm46 0h1v1h-1zm2 0h1v1h-1zm292 0h1v1h-1zm39 0h1v1h-1zm-426 1h1v1h-1zm71 0h1v1h-1zm4 0h1v1h-1zm11 0h1v1h-1zm17 0h1v1h-1zm4 0h1v1h-1zm10 0h1v1h-1zm202 0h1v1h-1zm68 0h1v1h-1zm10 0h1v1h-1zm33 0h1v1h-1zm4 0h1v1h-1zm25 0h1v1h-1zm-452 1h1v1h-1zm25 0h1v1h-1zm324 0h1v1h-1zm-345 1h1v1h-1zm28 0h2v1h-2zm18 0h1v1h-1zm5 0h1v1h-1zm10 0h1v1h-1zm16 0h1v1h-1zm223 0h1v1h-1zm77 0h1v1h-1zm25 0h1v1h-1zm17 0h1v1h-1zm-397 1h1v1h-1zm10 0h1v1h-1zm61 0h1v1h-1zm310 0h1v1h-1zm-404 1h1v1h-1zm34 0h1v1h-1zm14 0h1v1h-1zm2 0h1v1h-1zm8 0h1v1h-1zm-53 1h1v1h-1zm112 0h1v1h-1zm174 0h1v1h-1zm134 0h1v1h-1zm-308 1h1v1h-1zm209 0h1v1h-1zm35 0h1v1h-1zm5 0h1v1h-1zm-319 1h1v1h-1zm71 0h1v1h-1zm175 0h1v1h-1zm3 0h1v1h-1zm3 0h1v1h-1zm36 0h1v1h-1zm33 0h1v1h-1zm-351 1h1v1h-1zm305 0h1v1h-1zm42 0h1v1h-1zm4 0h1v1h-1zm14 0h1v1h-1zm51 0h2v1h-2zm13 0h1v1h-1zm3 0h1v1h-1zm-464 1h1v1h-1zm60 0h1v1h-1zm261 0h1v1h-1zm20 0h1v1h-1zm22 0h1v1h-1zm15 0h1v1h-1zm-379 1h1v1h-1zm66 0h1v1h-1zm51 0h1v1h-1zm24 0h1v1h-1zm185 0h1v1h-1zm47 0h1v1h-1zm28 0h1v1h-1zm7 0h1v1h-1zm4 0h1v1h-1zm31 0h1v1h-1zm16 0h1v1h-1zm12 0h1v1h-1zm-446 1h1v1h-1zm74 0h1v1h-1zm21 0h1v1h-1zm290 0h1v1h-1zm34 0h1v1h-1zm25 0h1v1h-1zm-461 1h1v1h-1zm20 0h1v1h-1zm66 0h1v1h-1zm4 0h1v1h-1zm334 0h1v1h-1zm-407 1h1v1h-1zm15 0h1v1h-1zm4 0h1v1h-1zm29 0h1v1h-1zm24 0h1v1h-1zm9 0h1v1h-1zm240 0h1v1h-1zm27 0h1v1h-1zm30 0h1v1h-1zm5 0h1v1h-1zm12 0h1v1h-1zm-401 1h1v1h-1zm335 0h1v1h-1zm-280 1h1v1h-1zm3 0h1v1h-1zm246 0h1v1h-1zm30 0h1v1h-1zm51 0h1v1h-1zm46 0h1v1h-1zm-425 1h1v1h-1zm284 0h1v1h-1zm67 0h1v1h-1zm12 0h1v1h-1zm46 0h1v1h-1zm-415 1h1v1h-1zm22 0h1v1h-1zm46 0h1v1h-1zm253 0h1v1h-1zm-315 1h1v1h-1zm440 0h1v1h-1zm-409 1h2v1h-2zm325 0h1v1h-1zm-345 1h1v1h-1zm25 0h1v1h-1zm262 0h1v1h-1zm-303 1h1v1h-1zm19 0h1v1h-1zm10 0h1v1h-1zm3 0h1v1h-1zm13 0h1v1h-1zm6 1h1v1h-1zm394 0h1v1h-1zm-400 1h1v1h-1zm331 0h1v1h-1zm-326 1h1v1h-1zm-12 1h1v1h-1zm248 0h1v1h-1zm-242 1h1v1h-1zm307 0h1v1h-1zm-51 2h1v1h-1zm84 1h1v1h-1zm-89 3h1v1h-1zm-192 3h1v1h-1zm203 0h1v1h-1zm-203 3h1v1h-1zm3 0h1v1h-1zm-11 1h1v1h-1zm196 1h1v1h-1zm-186 1h1v1h-1zm228 0h1v1h-1zm84 0h1v1h-1zm-322 1h1v1h-1zm16 0h1v1h-1zm188 0h1v1h-1zm-193 1h1v1h-1zm189 0h1v1h-1zm19 0h1v1h-1zm-216 2h1v1h-1zm218 1h1v1h-1zm-216 1h1v1h-1zm239 0h1v1h-1zm-248 1h1v1h-1zm21 0h2v1h-2zm7 0h1v1h-1zm314 0h1v1h-1zm-337 1h1v1h-1zm17 0h1v1h-1zm5 0h1v1h-1zm260 0h1v1h-1zm36 0h1v1h-1zm11 0h1v1h-1zm-347 1h1v1h-1zm34 0h1v1h-1zm232 0h1v1h-1zm28 0h1v1h-1zm41 0h1v1h-1zm-435 1h2v1h-2zm102 0h1v1h-1zm30 0h1v1h-1zm212 0h1v1h-1zm-212 1h1v1h-1zm5 0h1v1h-1zm-115 1h1v1h-1zm83 0h1v1h-1zm21 0h1v1h-1zm11 0h1v1h-1zm196 0h1v1h-1zm-197 1h1v1h-1zm6 0h1v1h-1zm235 0h1v1h-1zm42 0h1v1h-1zm33 0h1v1h-1zm-357 1h1v1h-1zm2 0h1v1h-1zm5 0h1v1h-1zm2 0h1v1h-1zm232 0h1v1h-1zm8 0h1v1h-1zm2 0h1v1h-1zm22 0h1v1h-1zm21 0h1v1h-1zm77 0h1v1h-1zm-421 1h1v1h-1zm36 0h1v1h-1zm24 0h1v1h-1zm234 0h1v1h-1zm3 0h1v1h-1zm19 0h1v1h-1zm75 0h1v1h-1zm4 0h1v1h-1zm-395 1h1v1h-1zm55 0h1v1h-1zm218 0h1v1h-1zm98 0h1v1h-1zm-417 1h1v1h-1zm92 0h1v1h-1zm220 0h1v1h-1zm5 0h1v1h-1zm36 0h1v1h-1zm15 0h1v1h-1zm4 0h1v1h-1zm30 0h1v1h-1zm41 0h1v1h-1zm-409 1h1v1h-1zm7 0h1v1h-1zm4 0h1v1h-1zm95 0h1v1h-1zm3 0h1v1h-1zm176 0h1v1h-1zm145 0h1v1h-1zm-340 1h1v1h-1zm20 0h1v1h-1zm270 0h1v1h-1zm49 0h1v1h-1zm13 0h1v1h-1zm-438 1h1v1h-1zm37 0h1v1h-1zm5 0h1v1h-1zm25 0h1v1h-1zm6 0h1v1h-1zm31 0h1v1h-1zm326 0h1v1h-1zm-444 1h1v1h-1zm5 0h1v1h-1zm45 0h1v1h-1zm21 0h1v1h-1zm24 0h1v1h-1zm301 0h1v1h-1zm-390 1h1v1h-1zm60 0h1v1h-1zm44 0h2v1h-2zm241 0h1v1h-1zm52 0h1v1h-1zm40 0h1v1h-1zm-440 1h1v1h-1zm9 0h1v1h-1zm25 0h1v1h-1zm265 0h1v1h-1zm93 0h1v1h-1zm-361 1h1v1h-1zm2 0h1v1h-1zm76 0h1v1h-1zm177 0h1v1h-1zm20 0h1v1h-1zm23 0h1v1h-1zm-340 1h1v1h-1zm108 0h1v1h-1zm13 0h1v1h-1zm184 0h1v1h-1zm69 0h1v1h-1zm-255 1h1v1h-1zm222 0h1v1h-1zm85 0h1v1h-1zm2 0h1v1h-1zm-329 1h1v1h-1zm9 0h1v1h-1zm210 0h1v1h-1zm66 0h1v1h-1zm-362 1h1v1h-1zm80 1h1v1h-1zm236 0h1v1h-1zm78 0h1v1h-1zm3 0h1v1h-1zm14 0h1v1h-1zm17 0h1v1h-1zm-367 1h1v1h-1zm8 0h1v1h-1zm262 0h1v1h-1zm53 0h1v1h-1zm13 0h1v1h-1zm26 0h1v1h-1zm10 0h1v1h-1zm6 0h1v1h-1zm-471 1h1v1h-1zm29 0h1v1h-1zm74 0h1v1h-1zm27 0h1v1h-1zm258 0h1v1h-1zm68 0h1v1h-1zm-111 1h1v1h-1zm10 0h1v1h-1zm86 0h1v1h-1zm-429 1h1v1h-1zm3 0h1v1h-1zm91 0h1v1h-1zm338 0h1v1h-1zm29 0h1v1h-1zm-460 1h1v1h-1zm19 0h1v1h-1zm46 0h1v1h-1zm30 0h1v1h-1zm278 0h1v1h-1zm37 0h1v1h-1zm8 0h1v1h-1zm4 0h1v1h-1zm24 0h1v1h-1zm4 0h1v1h-1zm-396 1h1v1h-1zm74 0h1v1h-1zm245 0h1v1h-1zm32 0h1v1h-1zm14 0h1v1h-1zm20 0h1v1h-1zm-436 1h1v1h-1zm11 0h1v1h-1zm16 0h1v1h-1zm12 0h1v1h-1zm-46 1h2v1h-2zm35 0h1v1h-1zm18 0h1v1h-1zm22 0h1v1h-1zm302 0h1v1h-1zm7 0h1v1h-1zm-384 1h1v1h-1zm4 0h1v1h-1zm346 0h1v1h-1zm16 0h1v1h-1zm-357 1h1v1h-1zm8 0h1v1h-1zm14 0h1v1h-1zm52 0h1v1h-1zm281 0h1v1h-1zm43 0h1v1h-1zm43 0h1v1h-1zm-436 1h1v1h-1zm29 0h2v1h-2zm292 0h1v1h-1zm-289 1h1v1h-1zm12 0h1v1h-1zm4 0h1v1h-1zm-31 1h1v1h-1zm29 0h1v1h-1zm301 0h1v1h-1zm68 0h1v1h-1zm-390 1h1v1h-1zm-8 1h1v1h-1zm7 1h1v1h-1zm4 0h1v1h-1zm363 0h1v1h-1zm-358 1h1v1h-1zm-6 1h1v1h-1zm13 0h1v1h-1zm7 1h1v1h-1zm-1 1h1v1h-1zm-14 2h1v1h-1zm2 2h1v1h-1zm251 49h1v1h-1zm9 0h1v1h-1zm0 1h1v1h-1zm-6 1h1v1h-1zm-2 4h1v1h-1zm18 5h1v1h-1zm1 3h1v1h-1zm-311 1h1v1h-1zm100 1h1v1h-1zm208 1h1v1h-1zm-292 1h1v1h-1zm3 0h1v1h-1zm272 0h1v1h-1zm-188 1h1v1h-1zm258 0h1v1h-1zm44 0h1v1h-1zm15 0h1v1h-1zm-397 1h1v1h-1zm71 0h2v1h-2zm10 0h1v1h-1zm18 0h1v1h-1zm166 0h1v1h-1zm-302 1h1v1h-1zm30 0h1v1h-1zm96 0h1v1h-1zm6 0h1v1h-1zm239 0h1v1h-1zm39 0h1v1h-1zm-409 1h1v1h-1zm10 0h1v1h-1zm30 0h1v1h-1zm45 0h1v1h-1zm9 0h1v1h-1zm35 0h1v1h-1zm206 0h1v1h-1zm28 0h1v1h-1zm14 0h1v1h-1zm10 0h1v1h-1zm12 0h1v1h-1zm40 0h1v1h-1zm-436 1h1v1h-1zm8 0h2v1h-2zm375 0h1v1h-1zm62 0h1v1h-1zm-449 1h1v1h-1zm3 0h1v1h-1zm30 0h1v1h-1zm67 0h1v1h-1zm2 0h1v1h-1zm306 0h1v1h-1zm19 0h1v1h-1zm-428 1h1v1h-1zm26 0h1v1h-1zm75 0h1v1h-1zm33 0h1v1h-1zm8 0h1v1h-1zm186 0h1v1h-1zm42 0h1v1h-1zm22 0h1v1h-1zm-375 1h1v1h-1zm27 0h1v1h-1zm23 0h1v1h-1zm13 0h1v1h-1zm14 0h1v1h-1zm6 0h1v1h-1zm247 0h1v1h-1zm80 0h1v1h-1zm24 0h1v1h-1zm-387 1h1v1h-1zm280 0h1v1h-1zm2 0h1v1h-1zm28 0h1v1h-1zm65 0h1v1h-1zm-361 1h1v1h-1zm40 0h1v1h-1zm-58 1h1v1h-1zm5 0h1v1h-1zm4 0h1v1h-1zm216 0h1v1h-1zm61 0h1v1h-1zm120 0h1v1h-1zm-433 1h1v1h-1zm25 0h1v1h-1zm3 0h1v1h-1zm4 0h1v1h-1zm50 0h1v1h-1zm224 0h1v1h-1zm59 0h1v1h-1zm38 0h2v1h-2zm9 0h1v1h-1zm-416 1h1v1h-1zm27 0h1v1h-1zm62 0h1v1h-1zm14 0h1v1h-1zm318 0h1v1h-1zm9 0h1v1h-1zm12 0h1v1h-1zm-446 1h1v1h-1zm119 0h1v1h-1zm314 0h1v1h-1zm-462 1h1v1h-1zm31 0h1v1h-1zm62 0h1v1h-1zm32 0h1v1h-1zm7 0h1v1h-1zm208 0h1v1h-1zm36 0h1v1h-1zm45 0h1v1h-1zm21 0h1v1h-1zm10 0h1v1h-1zm-365 1h1v1h-1zm30 0h1v1h-1zm2 0h1v1h-1zm22 0h1v1h-1zm2 0h1v1h-1zm179 0h1v1h-1zm129 0h1v1h-1zm-429 1h1v1h-1zm26 0h1v1h-1zm88 0h1v1h-1zm193 0h1v1h-1zm68 0h1v1h-1zm48 0h1v1h-1zm15 0h1v1h-1zm-446 1h1v1h-1zm11 0h1v1h-1zm49 0h1v1h-1zm22 0h1v1h-1zm261 0h1v1h-1zm70 0h1v1h-1zm-352 1h2v1h-2zm7 0h1v1h-1zm11 0h2v1h-2zm256 0h2v1h-2zm101 0h1v1h-1zm-435 1h1v1h-1zm10 0h1v1h-1zm39 0h1v1h-1zm286 0h1v1h-1zm69 0h1v1h-1zm-399 1h1v1h-1zm69 0h1v1h-1zm59 0h1v1h-1zm206 0h1v1h-1zm-289 1h1v1h-1zm320 0h1v1h-1zm-374 1h1v1h-1zm43 1h1v1h-1zm9 1h1v1h-1zm-6 1h2v1h-2zm328 0h1v1h-1zm-333 1h1v1h-1zm8 1h1v1h-1zm300 0h1v1h-1zm-305 1h1v1h-1zm52 8h1v1h-1zm271 20h1v1h-1z"/><path fill="#0000ff" d="m23 64h1v1h-1zm281 28h1v1h-1zm-304 2h1v1h-1zm23 5h1v1h-1zm112 0h1v1h-1zm166 1h1v1h-1zm-278 1h1v1h-1zm280 0h1v1h-1zm-300 1h1v1h-1zm112 0h1v1h-1zm-82 1h1v1h-1zm101 0h1v1h-1zm3 0h1v1h-1zm168 0h1v1h-1zm-293 2h1v1h-1zm25 0h1v1h-1zm72 0h1v1h-1zm28 0h1v1h-1zm2 0h1v1h-1zm9 0h1v1h-1zm-36 1h1v1h-1zm7 0h1v1h-1zm26 0h1v1h-1zm164 0h1v1h-1zm58 0h1v1h-1zm-355 1h1v1h-1zm19 0h1v1h-1zm91 0h1v1h-1zm7 0h1v1h-1zm36 0h1v1h-1zm9 0h1v1h-1zm185 0h1v1h-1zm-347 1h1v1h-1zm73 0h1v1h-1zm11 0h1v1h-1zm9 0h1v1h-1zm74 0h1v1h-1zm216 0h1v1h-1zm-362 1h1v1h-1zm28 0h1v1h-1zm43 0h1v1h-1zm26 0h1v1h-1zm177 0h1v1h-1zm4 0h1v1h-1zm51 0h1v1h-1zm-324 1h1v1h-1zm8 0h1v1h-1zm52 0h1v1h-1zm2 0h1v1h-1zm220 0h1v1h-1zm24 0h1v1h-1zm-321 1h1v1h-1zm12 0h1v1h-1zm340 0h1v1h-1zm12 0h1v1h-1zm76 0h1v1h-1zm-407 1h1v1h-1zm6 0h2v1h-2zm32 0h1v1h-1zm260 0h1v1h-1zm25 0h1v1h-1zm13 0h1v1h-1zm-373 1h1v1h-1zm99 0h1v1h-1zm204 0h1v1h-1zm20 0h1v1h-1zm27 0h1v1h-1zm7 0h1v1h-1zm17 0h1v1h-1zm76 0h1v1h-1zm-398 1h1v1h-1zm2 0h1v1h-1zm67 0h1v1h-1zm4 0h1v1h-1zm21 0h1v1h-1zm148 0h1v1h-1zm144 0h1v1h-1zm5 0h1v1h-1zm-400 1h1v1h-1zm33 0h1v1h-1zm8 0h1v1h-1zm28 0h1v1h-1zm17 0h1v1h-1zm199 0h1v1h-1zm43 0h1v1h-1zm58 0h1v1h-1zm-445 1h1v1h-1zm27 0h1v1h-1zm6 0h1v1h-1zm101 0h1v1h-1zm10 0h1v1h-1zm25 0h1v1h-1zm207 0h1v1h-1zm28 0h1v1h-1zm33 0h1v1h-1zm23 0h1v1h-1zm6 0h1v1h-1zm-465 1h1v1h-1zm103 0h1v1h-1zm4 0h1v1h-1zm29 0h1v1h-1zm245 0h1v1h-1zm40 0h1v1h-1zm46 0h1v1h-1zm-368 1h1v1h-1zm31 0h1v1h-1zm13 0h1v1h-1zm-109 1h1v1h-1zm141 0h1v1h-1zm-174 1h1v1h-1zm75 0h1v1h-1zm74 0h1v1h-1zm230 0h1v1h-1zm-348 1h1v1h-1zm29 0h1v1h-1zm251 0h1v1h-1zm-268 1h1v1h-1zm77 0h1v1h-1zm30 0h1v1h-1zm210 0h1v1h-1zm-349 1h1v1h-1zm16 0h1v1h-1zm39 0h1v1h-1zm34 0h1v1h-1zm10 0h1v1h-1zm-36 1h1v1h-1zm6 0h1v1h-1zm-69 1h1v1h-1zm29 0h1v1h-1zm8 0h1v1h-1zm15 0h1v1h-1zm25 0h1v1h-1zm32 0h1v1h-1zm-119 1h1v1h-1zm60 0h1v1h-1zm31 0h1v1h-1zm25 0h1v1h-1zm40 0h1v1h-1zm-143 1h1v1h-1zm51 0h1v1h-1zm-47 8h1v1h-1zm284 9h1v1h-1zm16 4h1v1h-1zm2 6h1v1h-1zm-189 1h1v1h-1zm-3 2h1v1h-1zm5 0h1v1h-1zm5 1h1v1h-1zm-5 1h1v1h-1zm-2 1h1v1h-1zm177 0h1v1h-1zm-175 1h1v1h-1zm210 0h1v1h-1zm10 0h1v1h-1zm-224 1h1v1h-1zm-96 2h1v1h-1zm276 0h1v1h-1zm56 0h1v1h-1zm-320 1h1v1h-1zm78 0h1v1h-1zm5 0h1v1h-1zm3 0h1v1h-1zm176 0h1v1h-1zm38 0h1v1h-1zm24 0h1v1h-1zm27 0h1v1h-1zm-79 1h1v1h-1zm92 0h1v1h-1zm2 0h1v1h-1zm43 0h1v1h-1zm-355 1h1v1h-1zm332 0h1v1h-1zm16 0h1v1h-1zm-424 1h1v1h-1zm25 0h1v1h-1zm45 0h1v1h-1zm37 0h1v1h-1zm216 0h1v1h-1zm-323 1h1v1h-1zm7 0h1v1h-1zm60 0h1v1h-1zm22 0h1v1h-1zm242 0h1v1h-1zm44 0h1v1h-1zm3 0h1v1h-1zm-403 1h1v1h-1zm14 0h1v1h-1zm125 0h1v1h-1zm268 0h1v1h-1zm15 0h2v1h-2zm-329 1h1v1h-1zm45 0h1v1h-1zm211 0h1v1h-1zm11 0h1v1h-1zm24 0h1v1h-1zm33 0h1v1h-1zm-368 1h1v1h-1zm30 0h1v1h-1zm6 0h1v1h-1zm43 0h1v1h-1zm6 0h1v1h-1zm305 0h1v1h-1zm-404 1h1v1h-1zm28 0h1v1h-1zm6 0h1v1h-1zm279 0h1v1h-1zm12 0h1v1h-1zm97 0h1v1h-1zm3 0h1v1h-1zm6 0h1v1h-1zm3 0h1v1h-1zm-434 1h1v1h-1zm4 0h1v1h-1zm5 0h1v1h-1zm16 0h1v1h-1zm2 0h1v1h-1zm335 0h1v1h-1zm-367 1h1v1h-1zm4 0h1v1h-1zm347 0h1v1h-1zm-347 1h1v1h-1zm-15 1h2v1h-2zm34 1h1v1h-1zm60 0h1v1h-1zm283 0h1v1h-1zm-381 1h1v1h-1zm63 0h1v1h-1zm-13 3h1v1h-1zm298 0h1v1h-1zm58 1h1v1h-1zm-112 29h1v1h-1zm10 13h1v1h-1zm-189 1h1v1h-1zm197 0h1v1h-1zm55 1h1v1h-1zm-77 2h1v1h-1zm1 1h1v1h-1zm-191 1h1v1h-1zm14 0h1v1h-1zm178 2h1v1h-1zm-212 1h1v1h-1zm14 0h1v1h-1zm198 0h1v1h-1zm-173 1h1v1h-1zm176 0h1v1h-1zm8 0h1v1h-1zm-190 1h1v1h-1zm257 0h1v1h-1zm-299 2h1v1h-1zm6 0h1v1h-1zm14 0h1v1h-1zm225 0h1v1h-1zm-311 1h1v1h-1zm297 0h1v1h-1zm7 0h1v1h-1zm115 0h1v1h-1zm-354 1h1v1h-1zm10 0h1v1h-1zm13 0h1v1h-1zm22 0h1v1h-1zm206 0h1v1h-1zm-241 1h1v1h-1zm23 0h1v1h-1zm206 0h1v1h-1zm-211 1h1v1h-1zm20 0h1v1h-1zm252 0h1v1h-1zm-386 1h1v1h-1zm111 0h1v1h-1zm23 0h1v1h-1zm7 0h1v1h-1zm173 0h1v1h-1zm2 0h1v1h-1zm-238 1h1v1h-1zm14 0h1v1h-1zm40 0h1v1h-1zm6 0h1v1h-1zm234 0h1v1h-1zm24 0h1v1h-1zm13 0h1v1h-1zm-296 1h1v1h-1zm10 0h1v1h-1zm16 0h1v1h-1zm264 0h1v1h-1zm-364 1h1v1h-1zm35 0h1v1h-1zm17 0h1v1h-1zm36 0h1v1h-1zm202 0h1v1h-1zm140 0h1v1h-1zm-428 1h1v1h-1zm10 0h1v1h-1zm36 0h1v1h-1zm23 0h1v1h-1zm15 0h1v1h-1zm180 0h1v1h-1zm36 0h1v1h-1zm29 0h1v1h-1zm16 0h1v1h-1zm23 0h1v1h-1zm47 0h1v1h-1zm-414 1h1v1h-1zm5 0h1v1h-1zm5 0h1v1h-1zm31 0h1v1h-1zm7 0h1v1h-1zm38 0h1v1h-1zm246 0h1v1h-1zm10 0h1v1h-1zm5 0h1v1h-1zm71 0h1v1h-1zm-456 1h1v1h-1zm5 0h1v1h-1zm66 0h1v1h-1zm13 0h1v1h-1zm18 0h1v1h-1zm284 0h1v1h-1zm45 0h1v1h-1zm37 0h1v1h-1zm-147 1h1v1h-1zm115 0h1v1h-1zm3 0h1v1h-1zm22 0h1v1h-1zm-458 1h1v1h-1zm9 0h1v1h-1zm90 0h1v1h-1zm201 0h1v1h-1zm137 0h1v1h-1zm-435 1h1v1h-1zm3 0h1v1h-1zm16 0h1v1h-1zm15 0h1v1h-1zm62 0h1v1h-1zm4 0h1v1h-1zm3 0h1v1h-1zm203 0h1v1h-1zm21 0h1v1h-1zm90 0h1v1h-1zm-384 1h1v1h-1zm319 0h1v1h-1zm-331 1h1v1h-1zm40 0h1v1h-1zm14 0h1v1h-1zm27 0h1v1h-1zm202 0h1v1h-1zm111 0h2v1h-2zm-387 1h1v1h-1zm24 0h2v1h-2zm245 0h1v1h-1zm28 0h1v1h-1zm32 0h1v1h-1zm41 0h1v1h-1zm-408 1h1v1h-1zm64 0h2v1h-2zm15 0h1v1h-1zm260 0h1v1h-1zm4 0h1v1h-1zm80 0h1v1h-1zm-370 1h1v1h-1zm11 0h1v1h-1zm266 0h1v1h-1zm3 0h1v1h-1zm14 0h1v1h-1zm40 0h1v1h-1zm48 0h1v1h-1zm-432 1h1v1h-1zm63 0h1v1h-1zm4 0h1v1h-1zm250 0h1v1h-1zm77 0h1v1h-1zm-393 1h1v1h-1zm23 0h1v1h-1zm324 0h1v1h-1zm72 0h1v1h-1zm33 0h1v1h-1zm7 0h1v1h-1zm-429 1h1v1h-1zm77 0h2v1h-2zm5 0h1v1h-1zm223 0h1v1h-1zm88 0h1v1h-1zm-422 1h1v1h-1zm25 0h1v1h-1zm12 0h2v1h-2zm46 0h1v1h-1zm22 0h1v1h-1zm251 0h1v1h-1zm96 0h1v1h-1zm7 0h1v1h-1zm-445 1h1v1h-1zm70 0h1v1h-1zm283 0h1v1h-1zm20 0h1v1h-1zm24 0h1v1h-1zm11 0h1v1h-1zm19 0h1v1h-1zm16 0h1v1h-1zm-453 1h1v1h-1zm83 0h1v1h-1zm226 0h1v1h-1zm72 0h1v1h-1zm-309 1h1v1h-1zm396 0h1v1h-1zm-396 1h1v1h-1zm18 0h1v1h-1zm4 0h1v1h-1zm257 0h1v1h-1zm58 0h1v1h-1zm-376 1h2v1h-2zm12 0h1v1h-1zm54 0h1v1h-1zm277 0h1v1h-1zm6 0h1v1h-1zm-358 1h1v1h-1zm21 0h1v1h-1zm355 0h1v1h-1zm-395 1h1v1h-1zm10 0h1v1h-1zm15 0h1v1h-1zm3 0h1v1h-1zm30 0h1v1h-1zm259 0h1v1h-1zm-304 1h1v1h-1zm381 0h1v1h-1zm-348 1h1v1h-1zm6 0h1v1h-1zm394 1h1v1h-1zm-422 1h1v1h-1zm387 1h1v1h-1zm-60 2h1v1h-1zm-302 3h1v1h-1zm245 2h1v1h-1zm-180 6h1v1h-1zm3 4h1v1h-1zm-9 3h1v1h-1zm5 1h1v1h-1zm2 0h1v1h-1zm9 0h1v1h-1zm171 0h1v1h-1zm-171 2h1v1h-1zm2 0h1v1h-1zm188 0h1v1h-1zm24 0h1v1h-1zm86 0h1v1h-1zm-112 1h1v1h-1zm22 0h1v1h-1zm23 0h1v1h-1zm-5 1h1v1h-1zm-237 1h1v1h-1zm190 0h1v1h-1zm8 0h1v1h-1zm94 0h1v1h-1zm-114 1h1v1h-1zm25 0h1v1h-1zm7 0h1v1h-1zm61 0h1v1h-1zm42 0h1v1h-1zm-316 1h1v1h-1zm304 0h1v1h-1zm-309 1h1v1h-1zm191 0h1v1h-1zm72 0h1v1h-1zm17 0h1v1h-1zm62 0h1v1h-1zm13 0h1v1h-1zm-366 1h1v1h-1zm6 0h1v1h-1zm250 0h1v1h-1zm81 0h1v1h-1zm-138 1h1v1h-1zm31 0h1v1h-1zm42 0h1v1h-1zm14 0h1v1h-1zm25 0h1v1h-1zm-293 1h1v1h-1zm183 0h1v1h-1zm12 0h1v1h-1zm30 0h1v1h-1zm13 0h1v1h-1zm47 1h1v1h-1zm54 0h1v1h-1zm-97 1h1v1h-1zm48 0h1v1h-1zm22 0h1v1h-1zm2 0h1v1h-1zm-400 1h1v1h-1zm41 0h1v1h-1zm33 0h1v1h-1zm5 0h1v1h-1zm10 0h1v1h-1zm190 0h1v1h-1zm89 0h1v1h-1zm10 0h1v1h-1zm15 0h1v1h-1zm26 0h1v1h-1zm-416 1h1v1h-1zm67 0h1v1h-1zm253 0h1v1h-1zm14 0h1v1h-1zm2 0h1v1h-1zm37 0h1v1h-1zm48 0h1v1h-1zm-435 1h1v1h-1zm39 0h1v1h-1zm32 0h1v1h-1zm15 0h1v1h-1zm209 0h1v1h-1zm55 0h1v1h-1zm31 0h1v1h-1zm48 0h1v1h-1zm17 0h1v1h-1zm-459 1h1v1h-1zm31 0h1v1h-1zm53 0h1v1h-1zm15 0h1v1h-1zm212 0h1v1h-1zm37 0h1v1h-1zm33 0h1v1h-1zm50 0h1v1h-1zm22 0h1v1h-1zm-444 1h1v1h-1zm53 0h1v1h-1zm4 0h1v1h-1zm6 0h1v1h-1zm10 0h1v1h-1zm15 0h1v1h-1zm311 0h1v1h-1zm-414 1h1v1h-1zm46 0h1v1h-1zm13 0h1v1h-1zm5 0h1v1h-1zm4 0h1v1h-1zm3 0h1v1h-1zm10 0h1v1h-1zm266 0h1v1h-1zm48 0h1v1h-1zm40 0h1v1h-1zm-419 1h1v1h-1zm13 0h1v1h-1zm52 0h1v1h-1zm33 0h1v1h-1zm19 0h1v1h-1zm167 0h1v1h-1zm-225 1h1v1h-1zm2 0h1v1h-1zm268 0h2v1h-2zm5 0h1v1h-1zm104 0h1v1h-1zm-454 1h1v1h-1zm51 0h2v1h-2zm67 0h1v1h-1zm226 0h1v1h-1zm-356 1h2v1h-2zm324 0h1v1h-1zm44 0h1v1h-1zm45 0h1v1h-1zm34 0h1v1h-1zm3 0h1v1h-1zm-320 1h1v1h-1zm199 0h1v1h-1zm65 0h2v1h-2zm10 0h1v1h-1zm-67 1h1v1h-1zm28 0h1v1h-1zm24 0h1v1h-1zm38 0h1v1h-1zm31 0h1v1h-1zm-317 1h1v1h-1zm232 0h1v1h-1zm14 0h1v1h-1zm40 0h1v1h-1zm40 0h1v1h-1zm-366 1h1v1h-1zm246 0h1v1h-1zm12 0h1v1h-1zm63 0h1v1h-1zm32 0h1v1h-1zm15 0h1v1h-1zm9 0h1v1h-1zm-450 1h1v1h-1zm61 0h1v1h-1zm28 0h1v1h-1zm6 0h1v1h-1zm17 0h1v1h-1zm226 0h1v1h-1zm90 0h1v1h-1zm-450 1h1v1h-1zm14 0h1v1h-1zm20 0h1v1h-1zm62 0h1v1h-1zm2 0h3v1h-3zm20 0h1v1h-1zm19 0h1v1h-1zm208 0h1v1h-1zm23 0h1v1h-1zm50 0h1v1h-1zm2 0h1v1h-1zm-425 1h1v1h-1zm2 0h1v1h-1zm19 0h1v1h-1zm24 0h1v1h-1zm2 0h1v1h-1zm26 0h1v1h-1zm10 0h1v1h-1zm264 0h1v1h-1zm21 0h1v1h-1zm2 0h1v1h-1zm67 0h1v1h-1zm-411 1h1v1h-1zm84 0h1v1h-1zm33 0h1v1h-1zm213 0h1v1h-1zm77 0h1v1h-1zm32 0h1v1h-1zm-459 1h1v1h-1zm432 0h1v1h-1zm-406 1h1v1h-1zm68 0h2v1h-2zm271 0h1v1h-1zm95 0h1v1h-1zm-456 1h1v1h-1zm69 0h1v1h-1zm6 0h1v1h-1zm10 0h1v1h-1zm-64 1h1v1h-1zm17 0h1v1h-1zm4 0h1v1h-1zm3 0h1v1h-1zm9 1h1v1h-1zm76 0h1v1h-1zm233 0h1v1h-1zm-324 1h1v1h-1zm16 0h1v1h-1zm2 0h1v1h-1zm392 0h1v1h-1zm11 0h1v1h-1zm-401 2h1v1h-1zm336 0h1v1h-1zm-326 1h1v1h-1zm-6 4h1v1h-1zm349 0h1v1h-1zm-354 1h1v1h-1zm-14 1h1v1h-1zm18 1h1v1h-1zm280 17h1v1h-1zm-331 14h1v1h-1zm295 17h1v1h-1zm-5 11h1v1h-1zm41 1h1v1h-1zm-40 1h1v1h-1zm3 0h2v1h-2zm1 2h1v1h-1zm9 2h1v1h-1zm68 1h1v1h-1zm-393 2h1v1h-1zm330 0h1v1h-1zm12 0h1v1h-1zm12 0h1v1h-1zm-353 1h1v1h-1zm307 0h1v1h-1zm-189 1h1v1h-1zm248 0h1v1h-1zm94 0h1v1h-1zm-118 1h1v1h-1zm22 0h1v1h-1zm6 0h1v1h-1zm58 0h1v1h-1zm-301 1h1v1h-1zm219 0h1v1h-1zm25 0h1v1h-1zm2 0h1v1h-1zm20 0h1v1h-1zm32 0h1v1h-1zm19 0h1v1h-1zm18 0h1v1h-1zm-354 1h1v1h-1zm290 0h1v1h-1zm36 0h1v1h-1zm-337 1h1v1h-1zm225 0h1v1h-1zm42 0h1v1h-1zm4 0h1v1h-1zm18 0h1v1h-1zm7 0h1v1h-1zm-298 1h2v1h-2zm23 0h1v1h-1zm14 0h1v1h-1zm10 0h1v1h-1zm235 0h1v1h-1zm34 0h1v1h-1zm14 0h1v1h-1zm6 0h2v1h-2zm-402 1h1v1h-1zm5 0h1v1h-1zm35 0h1v1h-1zm23 0h1v1h-1zm2 0h1v1h-1zm37 0h1v1h-1zm188 0h1v1h-1zm67 0h1v1h-1zm62 0h1v1h-1zm6 0h1v1h-1zm-432 1h1v1h-1zm3 0h1v1h-1zm3 0h1v1h-1zm82 0h1v1h-1zm-101 1h1v1h-1zm12 0h1v1h-1zm30 0h1v1h-1zm33 0h1v1h-1zm319 0h1v1h-1zm6 0h1v1h-1zm55 0h1v1h-1zm-456 1h1v1h-1zm2 0h1v1h-1zm13 0h1v1h-1zm49 0h1v1h-1zm3 0h1v1h-1zm3 0h1v1h-1zm9 0h1v1h-1zm269 0h1v1h-1zm43 0h1v1h-1zm53 0h1v1h-1zm-401 1h1v1h-1zm19 0h1v1h-1zm24 0h1v1h-1zm237 0h1v1h-1zm70 0h1v1h-1zm-270 1h1v1h-1zm191 0h1v1h-1zm78 0h1v1h-1zm50 0h1v1h-1zm-381 1h1v1h-1zm3 0h1v1h-1zm46 0h1v1h-1zm231 0h1v1h-1zm122 0h1v1h-1zm-471 1h1v1h-1zm134 0h2v1h-2zm16 0h1v1h-1zm208 0h1v1h-1zm-324 1h1v1h-1zm6 0h1v1h-1zm98 0h1v1h-1zm246 0h1v1h-1zm50 0h1v1h-1zm6 0h1v1h-1zm12 0h1v1h-1zm-450 1h1v1h-1zm86 0h1v1h-1zm7 0h1v1h-1zm268 0h1v1h-1zm18 0h1v1h-1zm-284 1h1v1h-1zm7 0h1v1h-1zm34 0h1v1h-1zm181 0h1v1h-1zm41 0h1v1h-1zm27 0h1v1h-1zm37 0h1v1h-1zm-335 1h1v1h-1zm225 0h1v1h-1zm37 0h1v1h-1zm74 0h1v1h-1zm22 0h1v1h-1zm7 0h2v1h-2zm-408 1h1v1h-1zm23 0h1v1h-1zm24 0h1v1h-1zm11 0h1v1h-1zm211 0h1v1h-1zm79 0h1v1h-1zm73 0h1v1h-1zm-395 1h1v1h-1zm35 0h1v1h-1zm-86 1h1v1h-1zm64 0h1v1h-1zm11 0h1v1h-1zm10 0h1v1h-1zm241 0h1v1h-1zm-298 1h1v1h-1zm19 0h2v1h-2zm9 0h1v1h-1zm-54 1h1v1h-1zm49 0h1v1h-1zm382 0h1v1h-1zm-399 1h1v1h-1zm9 0h1v1h-1zm332 0h1v1h-1zm-334 1h1v1h-1zm11 0h1v1h-1zm303 0h1v1h-1zm-322 1h1v1h-1zm353 0h1v1h-1zm-338 4h1v1h-1zm307 0h1v1h-1zm-305 16h1v1h-1zm183 5h1v1h-1z"/><path fill="#0010ff" d="m23 65h1v1h-1zm0 2h1v1h-1zm-22 22h1v1h-1zm0 4h1v1h-1zm6 4h1v1h-1zm107 6h1v1h-1zm196 0h1v1h-1zm-204 1h1v1h-1zm218 0h1v1h-1zm-210 1h1v1h-1zm22 0h1v1h-1zm37 0h1v1h-1zm127 0h1v1h-1zm30 0h1v1h-1zm-197 1h1v1h-1zm168 0h1v1h-1zm-158 1h1v1h-1zm-118 1h1v1h-1zm4 0h1v1h-1zm148 0h1v1h-1zm177 0h1v1h-1zm5 0h1v1h-1zm-330 1h1v1h-1zm81 0h1v1h-1zm56 0h1v1h-1zm209 0h1v1h-1zm-339 1h1v1h-1zm4 0h1v1h-1zm41 0h1v1h-1zm15 0h1v1h-1zm24 0h1v1h-1zm198 0h1v1h-1zm44 0h1v1h-1zm52 0h1v1h-1zm-406 1h1v1h-1zm17 0h1v1h-1zm37 0h1v1h-1zm24 0h1v1h-1zm27 0h1v1h-1zm16 0h1v1h-1zm37 0h1v1h-1zm222 0h1v1h-1zm35 0h1v1h-1zm-378 1h1v1h-1zm30 0h1v1h-1zm12 0h1v1h-1zm80 0h1v1h-1zm-145 1h1v1h-1zm29 0h1v1h-1zm11 0h1v1h-1zm16 0h1v1h-1zm59 0h1v1h-1zm9 0h1v1h-1zm18 0h1v1h-1zm10 0h1v1h-1zm217 0h1v1h-1zm8 0h1v1h-1zm21 0h1v1h-1zm22 0h1v1h-1zm5 0h1v1h-1zm5 0h1v1h-1zm-439 1h1v1h-1zm31 0h1v1h-1zm2 0h1v1h-1zm97 0h1v1h-1zm16 0h1v1h-1zm18 0h1v1h-1zm181 0h2v1h-2zm48 0h1v1h-1zm10 0h1v1h-1zm8 0h1v1h-1zm9 0h1v1h-1zm5 0h1v1h-1zm36 0h1v1h-1zm-454 1h1v1h-1zm4 0h1v1h-1zm23 0h1v1h-1zm16 0h1v1h-1zm2 0h1v1h-1zm5 0h1v1h-1zm17 0h1v1h-1zm7 0h1v1h-1zm40 0h1v1h-1zm46 0h1v1h-1zm241 0h1v1h-1zm-278 1h1v1h-1zm209 0h1v1h-1zm52 0h1v1h-1zm30 0h1v1h-1zm36 0h1v1h-1zm-468 1h1v1h-1zm134 0h1v1h-1zm8 0h1v1h-1zm-117 1h1v1h-1zm2 0h1v1h-1zm91 0h1v1h-1zm7 0h1v1h-1zm5 0h1v1h-1zm3 0h1v1h-1zm5 0h1v1h-1zm239 0h1v1h-1zm28 0h1v1h-1zm-376 1h1v1h-1zm84 0h1v1h-1zm7 0h1v1h-1zm7 0h1v1h-1zm23 0h1v1h-1zm16 0h1v1h-1zm-15 1h1v1h-1zm253 0h1v1h-1zm-380 1h1v1h-1zm38 0h1v1h-1zm25 0h1v1h-1zm7 0h1v1h-1zm-59 1h1v1h-1zm22 0h1v1h-1zm55 0h1v1h-1zm42 0h1v1h-1zm-143 1h1v1h-1zm7 0h2v1h-2zm75 0h1v1h-1zm9 0h1v1h-1zm-95 1h2v1h-2zm11 0h1v1h-1zm28 0h1v1h-1zm23 0h1v1h-1zm9 0h1v1h-1zm76 0h1v1h-1zm-109 1h2v1h-2zm31 0h1v1h-1zm-21 1h1v1h-1zm-37 1h1v1h-1zm52 0h1v1h-1zm19 0h1v1h-1zm277 1h1v1h-1zm-284 3h1v1h-1zm-61 1h1v1h-1zm283 12h1v1h-1zm69 7h1v1h-1zm10 6h1v1h-1zm-70 1h1v1h-1zm12 0h1v1h-1zm-193 2h1v1h-1zm200 0h1v1h-1zm48 1h1v1h-1zm13 0h1v1h-1zm-256 1h1v1h-1zm186 0h1v1h-1zm44 0h1v1h-1zm12 0h1v1h-1zm-238 1h1v1h-1zm177 0h1v1h-1zm21 0h1v1h-1zm-336 1h1v1h-1zm122 0h1v1h-1zm15 0h2v1h-2zm211 0h1v1h-1zm4 0h1v1h-1zm30 0h1v1h-1zm-264 1h1v1h-1zm254 0h1v1h-1zm-365 1h1v1h-1zm34 0h1v1h-1zm79 0h1v1h-1zm-95 1h1v1h-1zm91 0h1v1h-1zm229 0h1v1h-1zm6 0h1v1h-1zm61 0h1v1h-1zm48 0h1v1h-1zm-455 1h1v1h-1zm27 0h1v1h-1zm359 0h1v1h-1zm23 0h1v1h-1zm21 0h1v1h-1zm18 0h1v1h-1zm-429 1h1v1h-1zm7 0h1v1h-1zm102 0h1v1h-1zm-126 1h1v1h-1zm66 0h1v1h-1zm2 0h1v1h-1zm15 0h1v1h-1zm34 0h1v1h-1zm8 0h1v1h-1zm189 0h1v1h-1zm46 0h1v1h-1zm25 0h1v1h-1zm-343 1h1v1h-1zm93 0h1v1h-1zm268 0h1v1h-1zm55 0h1v1h-1zm-397 1h1v1h-1zm11 0h1v1h-1zm20 0h1v1h-1zm38 0h1v1h-1zm210 0h1v1h-1zm6 0h1v1h-1zm66 0h1v1h-1zm-382 1h1v1h-1zm77 0h1v1h-1zm246 0h1v1h-1zm16 0h1v1h-1zm16 0h1v1h-1zm-378 1h1v1h-1zm345 0h1v1h-1zm57 0h1v1h-1zm51 0h1v1h-1zm-424 1h1v1h-1zm341 0h1v1h-1zm-360 1h1v1h-1zm24 0h1v1h-1zm42 0h1v1h-1zm19 0h1v1h-1zm252 0h1v1h-1zm95 0h1v1h-1zm-377 1h1v1h-1zm13 0h1v1h-1zm-84 1h1v1h-1zm44 0h1v1h-1zm40 0h1v1h-1zm268 0h1v1h-1zm-342 1h1v1h-1zm49 0h1v1h-1zm306 0h1v1h-1zm-320 1h1v1h-1zm12 0h1v1h-1zm308 0h1v1h-1zm27 0h1v1h-1zm-6 1h1v1h-1zm-21 2h1v1h-1zm-71 39h1v1h-1zm16 3h1v1h-1zm-188 5h1v1h-1zm-24 1h1v1h-1zm209 0h1v1h-1zm5 0h1v1h-1zm-205 1h1v1h-1zm-14 1h1v1h-1zm19 0h1v1h-1zm-15 1h1v1h-1zm-87 1h1v1h-1zm78 1h1v1h-1zm34 0h1v1h-1zm-39 1h1v1h-1zm14 0h1v1h-1zm17 0h1v1h-1zm8 0h1v1h-1zm-5 1h1v1h-1zm-40 1h1v1h-1zm42 0h1v1h-1zm209 0h1v1h-1zm-234 2h1v1h-1zm347 0h1v1h-1zm-367 1h1v1h-1zm12 0h1v1h-1zm217 0h1v1h-1zm70 0h1v1h-1zm-379 1h1v1h-1zm82 0h1v1h-1zm13 0h1v1h-1zm39 0h1v1h-1zm196 0h1v1h-1zm13 1h1v1h-1zm-350 1h1v1h-1zm7 0h1v1h-1zm78 0h1v1h-1zm5 0h1v1h-1zm21 0h1v1h-1zm12 0h1v1h-1zm233 0h1v1h-1zm32 0h1v1h-1zm70 0h1v1h-1zm-369 1h1v1h-1zm12 0h1v1h-1zm5 0h1v1h-1zm18 0h1v1h-1zm227 0h1v1h-1zm52 0h1v1h-1zm-309 1h1v1h-1zm37 0h1v1h-1zm214 0h1v1h-1zm14 0h1v1h-1zm44 0h1v1h-1zm65 0h1v1h-1zm-460 1h1v1h-1zm29 0h1v1h-1zm5 0h1v1h-1zm3 0h1v1h-1zm3 0h1v1h-1zm350 0h1v1h-1zm67 0h1v1h-1zm-419 1h1v1h-1zm263 0h1v1h-1zm4 0h1v1h-1zm37 0h1v1h-1zm5 0h1v1h-1zm18 0h1v1h-1zm11 0h1v1h-1zm6 0h1v1h-1zm13 0h1v1h-1zm-390 1h1v1h-1zm4 0h1v1h-1zm16 0h1v1h-1zm14 0h1v1h-1zm26 0h1v1h-1zm337 0h1v1h-1zm41 0h1v1h-1zm7 0h1v1h-1zm-430 1h1v1h-1zm353 0h1v1h-1zm48 0h1v1h-1zm12 0h1v1h-1zm-432 1h1v1h-1zm26 0h1v1h-1zm50 0h2v1h-2zm18 0h1v1h-1zm14 0h1v1h-1zm212 0h1v1h-1zm48 0h1v1h-1zm43 0h1v1h-1zm9 0h1v1h-1zm19 0h1v1h-1zm4 0h1v1h-1zm-441 1h1v1h-1zm43 0h1v1h-1zm273 0h1v1h-1zm93 0h1v1h-1zm53 0h1v1h-1zm-472 1h1v1h-1zm54 0h1v1h-1zm21 0h1v1h-1zm21 0h1v1h-1zm42 0h1v1h-1zm2 0h1v1h-1zm217 0h1v1h-1zm100 0h1v1h-1zm-443 1h1v1h-1zm44 0h1v1h-1zm21 0h1v1h-1zm21 0h1v1h-1zm32 0h1v1h-1zm248 0h1v1h-1zm-324 1h1v1h-1zm4 0h1v1h-1zm3 0h1v1h-1zm37 0h1v1h-1zm23 0h1v1h-1zm13 0h1v1h-1zm205 0h1v1h-1zm4 0h1v1h-1zm111 0h1v1h-1zm-394 1h1v1h-1zm68 0h1v1h-1zm205 0h1v1h-1zm105 0h1v1h-1zm-438 1h1v1h-1zm2 0h1v1h-1zm111 0h1v1h-1zm4 0h1v1h-1zm4 0h1v1h-1zm267 0h1v1h-1zm27 0h1v1h-1zm28 0h1v1h-1zm-415 1h1v1h-1zm2 0h1v1h-1zm36 0h1v1h-1zm319 0h1v1h-1zm14 0h1v1h-1zm40 0h1v1h-1zm25 0h1v1h-1zm-450 1h1v1h-1zm16 0h1v1h-1zm9 0h1v1h-1zm375 0h1v1h-1zm8 0h1v1h-1zm34 0h1v1h-1zm-446 1h1v1h-1zm72 0h1v1h-1zm25 0h1v1h-1zm7 0h1v1h-1zm25 0h1v1h-1zm223 0h1v1h-1zm65 0h1v1h-1zm12 0h1v1h-1zm-434 1h1v1h-1zm86 0h1v1h-1zm10 0h1v1h-1zm229 0h1v1h-1zm62 0h1v1h-1zm62 0h1v1h-1zm-454 1h1v1h-1zm107 0h1v1h-1zm240 0h1v1h-1zm16 0h1v1h-1zm27 0h1v1h-1zm8 0h1v1h-1zm44 0h1v1h-1zm20 0h1v1h-1zm-103 1h1v1h-1zm-339 1h1v1h-1zm23 0h1v1h-1zm39 0h1v1h-1zm291 0h1v1h-1zm2 0h1v1h-1zm43 0h1v1h-1zm37 0h1v1h-1zm-437 1h1v1h-1zm328 0h1v1h-1zm-320 1h1v1h-1zm12 0h1v1h-1zm4 0h1v1h-1zm13 0h1v1h-1zm6 0h1v1h-1zm14 0h1v1h-1zm-55 1h1v1h-1zm28 0h1v1h-1zm9 0h1v1h-1zm10 0h1v1h-1zm6 0h1v1h-1zm232 0h1v1h-1zm93 0h1v1h-1zm19 0h1v1h-1zm-401 1h1v1h-1zm2 0h1v1h-1zm19 0h1v1h-1zm301 0h1v1h-1zm117 1h1v1h-1zm-395 1h1v1h-1zm345 0h1v1h-1zm2 0h1v1h-1zm0 1h1v1h-1zm-3 1h1v1h-1zm-75 1h1v1h-1zm-14 4h1v1h-1zm-5 1h1v1h-1zm-179 9h1v1h-1zm-12 1h1v1h-1zm188 1h1v1h-1zm-177 1h1v1h-1zm306 1h1v1h-1zm-311 1h1v1h-1zm-22 1h1v1h-1zm206 0h1v1h-1zm129 0h1v1h-1zm-102 1h1v1h-1zm-208 1h1v1h-1zm317 0h1v1h-1zm-26 1h1v1h-1zm26 0h1v1h-1zm-348 1h1v1h-1zm260 0h1v1h-1zm35 0h1v1h-1zm43 0h1v1h-1zm7 0h1v1h-1zm-308 1h1v1h-1zm192 0h1v1h-1zm-214 1h1v1h-1zm17 0h1v1h-1zm9 0h1v1h-1zm210 0h1v1h-1zm29 0h1v1h-1zm-11 1h1v1h-1zm-20 1h1v1h-1zm6 0h1v1h-1zm-354 1h2v1h-2zm4 0h1v1h-1zm331 0h1v1h-1zm108 0h1v1h-1zm-350 1h1v1h-1zm10 0h1v1h-1zm6 0h1v1h-1zm13 0h1v1h-1zm348 0h1v1h-1zm-470 1h1v1h-1zm22 0h1v1h-1zm349 0h1v1h-1zm64 0h1v1h-1zm-421 1h1v1h-1zm72 0h1v1h-1zm8 0h1v1h-1zm20 0h1v1h-1zm26 0h1v1h-1zm215 0h1v1h-1zm61 0h1v1h-1zm8 0h1v1h-1zm19 0h1v1h-1zm-352 1h1v1h-1zm18 0h1v1h-1zm5 0h1v1h-1zm24 0h1v1h-1zm176 0h1v1h-1zm33 0h1v1h-1zm15 0h1v1h-1zm7 0h1v1h-1zm-295 1h1v1h-1zm41 0h1v1h-1zm198 0h1v1h-1zm7 0h1v1h-1zm66 0h1v1h-1zm53 0h1v1h-1zm25 0h1v1h-1zm3 0h1v1h-1zm-457 1h1v1h-1zm5 0h1v1h-1zm8 0h1v1h-1zm23 0h2v1h-2zm57 0h1v1h-1zm17 0h1v1h-1zm253 0h1v1h-1zm59 0h1v1h-1zm21 0h1v1h-1zm-445 1h1v1h-1zm36 0h1v1h-1zm47 0h1v1h-1zm10 0h1v1h-1zm4 0h1v1h-1zm319 0h1v1h-1zm13 0h1v1h-1zm24 0h1v1h-1zm6 0h1v1h-1zm3 0h1v1h-1zm-453 1h1v1h-1zm12 0h1v1h-1zm61 0h1v1h-1zm225 0h1v1h-1zm12 0h1v1h-1zm48 0h1v1h-1zm80 0h1v1h-1zm11 0h1v1h-1zm4 0h1v1h-1zm-464 1h1v1h-1zm41 0h1v1h-1zm2 0h1v1h-1zm2 0h1v1h-1zm314 0h1v1h-1zm55 0h1v1h-1zm36 0h1v1h-1zm13 0h1v1h-1zm-460 1h2v1h-2zm15 0h1v1h-1zm32 0h1v1h-1zm4 0h1v1h-1zm5 0h1v1h-1zm14 0h1v1h-1zm3 0h1v1h-1zm4 0h1v1h-1zm11 0h1v1h-1zm3 0h1v1h-1zm26 0h1v1h-1zm298 0h1v1h-1zm-400 1h1v1h-1zm81 0h1v1h-1zm29 0h1v1h-1zm2 0h1v1h-1zm178 0h1v1h-1zm18 0h1v1h-1zm25 0h1v1h-1zm69 0h1v1h-1zm-415 1h2v1h-2zm45 0h1v1h-1zm2 0h1v1h-1zm2 0h1v1h-1zm34 0h1v1h-1zm51 0h1v1h-1zm182 0h1v1h-1zm33 0h1v1h-1zm58 0h1v1h-1zm-87 1h1v1h-1zm5 0h1v1h-1zm5 0h1v1h-1zm21 0h1v1h-1zm25 0h1v1h-1zm23 0h1v1h-1zm-288 1h1v1h-1zm262 0h1v1h-1zm61 0h1v1h-1zm7 0h1v1h-1zm-382 1h1v1h-1zm64 0h1v1h-1zm192 0h1v1h-1zm19 0h1v1h-1zm68 0h1v1h-1zm31 0h2v1h-2zm8 0h1v1h-1zm-332 1h1v1h-1zm226 0h1v1h-1zm69 0h1v1h-1zm46 0h1v1h-1zm-461 1h1v1h-1zm103 0h2v1h-2zm30 0h1v1h-1zm217 0h1v1h-1zm29 0h1v1h-1zm82 0h1v1h-1zm-453 1h1v1h-1zm10 0h1v1h-1zm76 0h1v1h-1zm11 0h1v1h-1zm12 0h1v1h-1zm4 0h1v1h-1zm290 0h1v1h-1zm32 0h1v1h-1zm29 0h1v1h-1zm-359 1h1v1h-1zm241 0h1v1h-1zm28 0h1v1h-1zm9 0h1v1h-1zm51 0h1v1h-1zm34 0h1v1h-1zm-475 1h1v1h-1zm38 0h1v1h-1zm4 0h1v1h-1zm333 0h1v1h-1zm3 0h1v1h-1zm33 0h1v1h-1zm-375 1h1v1h-1zm35 0h1v1h-1zm41 0h1v1h-1zm3 0h1v1h-1zm265 0h1v1h-1zm47 0h1v1h-1zm-415 1h3v1h-3zm18 0h1v1h-1zm9 0h1v1h-1zm74 0h1v1h-1zm9 0h1v1h-1zm337 0h1v1h-1zm-444 1h1v1h-1zm35 0h1v1h-1zm29 0h2v1h-2zm25 0h1v1h-1zm270 0h1v1h-1zm-326 1h1v1h-1zm3 0h1v1h-1zm34 0h1v1h-1zm246 0h1v1h-1zm31 0h1v1h-1zm76 0h1v1h-1zm5 0h1v1h-1zm-408 1h1v1h-1zm24 0h2v1h-2zm48 0h1v1h-1zm351 0h1v1h-1zm-409 2h2v1h-2zm30 1h1v1h-1zm-10 1h1v1h-1zm337 0h1v1h-1zm-29 1h1v1h-1zm-326 1h1v1h-1zm17 0h2v1h-2zm402 0h1v1h-1zm-409 1h1v1h-1zm-1 1h1v1h-1zm359 3h1v1h-1zm-355 1h1v1h-1zm-10 1h1v1h-1zm9 0h1v1h-1zm-2 4h1v1h-1zm247 39h1v1h-1zm11 5h1v1h-1zm7 8h1v1h-1zm41 6h1v1h-1zm-346 2h1v1h-1zm331 1h1v1h-1zm37 0h1v1h-1zm-59 1h1v1h-1zm-204 2h1v1h-1zm202 0h1v1h-1zm3 0h1v1h-1zm49 0h1v1h-1zm-71 1h1v1h-1zm43 0h1v1h-1zm4 0h1v1h-1zm-315 1h1v1h-1zm314 0h1v1h-1zm44 0h1v1h-1zm-395 1h1v1h-1zm123 0h1v1h-1zm6 0h1v1h-1zm177 0h1v1h-1zm32 0h1v1h-1zm6 0h1v1h-1zm12 0h1v1h-1zm-318 1h1v1h-1zm92 0h1v1h-1zm-49 1h1v1h-1zm10 0h1v1h-1zm30 0h1v1h-1zm13 0h1v1h-1zm189 0h1v1h-1zm69 0h1v1h-1zm-351 1h2v1h-2zm54 0h1v1h-1zm216 0h1v1h-1zm114 0h1v1h-1zm-411 1h1v1h-1zm13 0h1v1h-1zm67 0h1v1h-1zm37 0h1v1h-1zm176 0h1v1h-1zm17 0h1v1h-1zm47 0h1v1h-1zm16 0h1v1h-1zm61 0h1v1h-1zm-406 1h1v1h-1zm297 0h1v1h-1zm21 0h1v1h-1zm71 0h1v1h-1zm5 0h1v1h-1zm28 0h1v1h-1zm-449 1h1v1h-1zm8 0h1v1h-1zm61 0h1v1h-1zm4 0h1v1h-1zm14 0h1v1h-1zm7 0h1v1h-1zm215 0h1v1h-1zm42 0h1v1h-1zm42 0h1v1h-1zm8 0h1v1h-1zm3 0h1v1h-1zm9 0h1v1h-1zm9 0h1v1h-1zm-370 1h1v1h-1zm20 0h1v1h-1zm222 0h1v1h-1zm48 0h1v1h-1zm-348 1h1v1h-1zm6 0h1v1h-1zm59 0h1v1h-1zm256 0h1v1h-1zm13 0h1v1h-1zm7 0h1v1h-1zm47 0h1v1h-1zm20 0h1v1h-1zm-410 1h1v1h-1zm50 0h1v1h-1zm6 0h1v1h-1zm2 0h1v1h-1zm6 0h1v1h-1zm34 0h1v1h-1zm214 0h1v1h-1zm26 0h1v1h-1zm80 0h1v1h-1zm16 0h1v1h-1zm-394 1h1v1h-1zm74 0h1v1h-1zm190 0h1v1h-1zm20 0h1v1h-1zm20 0h1v1h-1zm18 0h1v1h-1zm5 0h1v1h-1zm4 0h1v1h-1zm-337 1h1v1h-1zm15 0h1v1h-1zm76 0h1v1h-1zm244 0h1v1h-1zm59 0h1v1h-1zm6 0h1v1h-1zm-445 1h1v1h-1zm125 0h1v1h-1zm2 0h1v1h-1zm5 0h2v1h-2zm11 0h1v1h-1zm200 0h1v1h-1zm4 0h1v1h-1zm4 0h1v1h-1zm42 0h1v1h-1zm78 0h1v1h-1zm3 0h1v1h-1zm-468 1h1v1h-1zm110 0h1v1h-1zm8 0h1v1h-1zm291 0h1v1h-1zm2 0h1v1h-1zm59 0h1v1h-1zm-437 1h1v1h-1zm92 0h1v1h-1zm237 0h1v1h-1zm54 0h1v1h-1zm-374 1h1v1h-1zm-39 1h1v1h-1zm12 0h1v1h-1zm15 0h1v1h-1zm63 0h1v1h-1zm252 0h1v1h-1zm25 0h1v1h-1zm21 0h1v1h-1zm-392 1h1v1h-1zm23 0h1v1h-1zm40 0h1v1h-1zm14 0h1v1h-1zm2 0h1v1h-1zm9 0h1v1h-1zm54 0h1v1h-1zm195 0h1v1h-1zm46 0h1v1h-1zm20 0h1v1h-1zm28 0h1v1h-1zm-424 1h1v1h-1zm37 0h1v1h-1zm19 0h1v1h-1zm18 0h1v1h-1zm16 0h1v1h-1zm303 0h1v1h-1zm-351 1h2v1h-2zm3 0h1v1h-1zm4 0h1v1h-1zm-5 1h1v1h-1zm5 0h1v1h-1zm-7 2h1v1h-1zm5 0h1v1h-1zm4 3h1v1h-1zm276 2h1v1h-1z"/><path fill="#0020ff" d="m342 41h1v1h-1zm33 23h1v1h-1zm-352 2h1v1h-1zm-20 26h1v1h-1zm337 1h1v1h-1zm-336 6h1v1h-1zm319 1h1v1h-1zm-17 1h1v1h-1zm52 0h1v1h-1zm-213 1h1v1h-1zm166 0h1v1h-1zm52 0h1v1h-1zm-47 1h1v1h-1zm6 0h1v1h-1zm11 0h1v1h-1zm10 0h1v1h-1zm-343 1h1v1h-1zm355 0h1v1h-1zm13 0h1v1h-1zm-362 1h1v1h-1zm137 0h1v1h-1zm179 0h1v1h-1zm13 0h1v1h-1zm4 0h1v1h-1zm4 0h1v1h-1zm19 0h1v1h-1zm-333 1h1v1h-1zm112 0h1v1h-1zm184 0h1v1h-1zm34 0h1v1h-1zm-351 1h1v1h-1zm110 0h1v1h-1zm12 0h1v1h-1zm4 0h1v1h-1zm-126 1h1v1h-1zm22 0h1v1h-1zm13 0h1v1h-1zm64 0h1v1h-1zm23 0h1v1h-1zm43 0h1v1h-1zm242 0h1v1h-1zm-309 1h1v1h-1zm3 0h1v1h-1zm6 0h1v1h-1zm21 0h1v1h-1zm43 0h1v1h-1zm169 0h1v1h-1zm10 0h1v1h-1zm-348 1h1v1h-1zm40 0h1v1h-1zm49 0h1v1h-1zm2 0h1v1h-1zm25 0h1v1h-1zm42 0h1v1h-1zm5 0h1v1h-1zm161 0h1v1h-1zm13 0h1v1h-1zm27 0h1v1h-1zm48 0h1v1h-1zm-362 1h1v1h-1zm41 0h1v1h-1zm51 0h2v1h-2zm183 0h1v1h-1zm35 0h1v1h-1zm15 0h1v1h-1zm5 0h1v1h-1zm-351 1h1v1h-1zm3 0h1v1h-1zm16 0h1v1h-1zm9 0h1v1h-1zm58 0h2v1h-2zm200 0h1v1h-1zm9 0h1v1h-1zm27 0h1v1h-1zm102 0h1v1h-1zm-405 1h1v1h-1zm19 0h1v1h-1zm11 0h1v1h-1zm253 0h1v1h-1zm5 0h1v1h-1zm15 0h1v1h-1zm46 0h1v1h-1zm12 0h1v1h-1zm-357 1h1v1h-1zm86 0h1v1h-1zm15 0h1v1h-1zm165 0h1v1h-1zm13 0h1v1h-1zm70 0h1v1h-1zm56 0h1v1h-1zm-412 1h1v1h-1zm24 0h1v1h-1zm66 0h1v1h-1zm15 0h1v1h-1zm291 0h1v1h-1zm11 0h1v1h-1zm-321 1h1v1h-1zm36 0h1v1h-1zm-75 1h1v1h-1zm10 0h1v1h-1zm51 0h1v1h-1zm13 0h1v1h-1zm211 0h1v1h-1zm88 0h1v1h-1zm-442 1h1v1h-1zm84 0h1v1h-1zm49 0h1v1h-1zm198 0h1v1h-1zm-355 1h1v1h-1zm25 0h1v1h-1zm330 0h1v1h-1zm56 0h1v1h-1zm-395 1h1v1h-1zm3 0h1v1h-1zm78 0h1v1h-1zm16 0h1v1h-1zm216 0h1v1h-1zm-333 1h1v1h-1zm4 0h1v1h-1zm3 0h1v1h-1zm28 0h1v1h-1zm12 0h1v1h-1zm10 0h1v1h-1zm-53 1h1v1h-1zm16 0h1v1h-1zm26 0h2v1h-2zm31 0h1v1h-1zm5 0h1v1h-1zm37 0h1v1h-1zm-74 1h1v1h-1zm19 0h1v1h-1zm12 0h1v1h-1zm4 0h1v1h-1zm41 0h1v1h-1zm240 0h1v1h-1zm-353 1h1v1h-1zm59 0h1v1h-1zm-57 1h1v1h-1zm35 0h1v1h-1zm6 0h1v1h-1zm2 0h1v1h-1zm63 0h1v1h-1zm-70 3h1v1h-1zm-28 5h1v1h-1zm346 3h1v1h-1zm-22 7h1v1h-1zm15 2h1v1h-1zm-55 5h1v1h-1zm61 2h1v1h-1zm-226 1h1v1h-1zm205 0h1v1h-1zm-36 3h1v1h-1zm57 0h1v1h-1zm-16 1h1v1h-1zm3 0h1v1h-1zm-351 1h1v1h-1zm134 0h1v1h-1zm169 0h1v1h-1zm32 0h1v1h-1zm30 0h1v1h-1zm-364 1h1v1h-1zm136 0h1v1h-1zm211 0h1v1h-1zm-343 1h1v1h-1zm312 0h1v1h-1zm5 0h1v1h-1zm-322 1h1v1h-1zm353 0h1v1h-1zm32 0h1v1h-1zm8 0h1v1h-1zm-10 1h1v1h-1zm6 0h1v1h-1zm-39 1h1v1h-1zm30 0h1v1h-1zm2 0h1v1h-1zm-5 1h1v1h-1zm-26 1h1v1h-1zm58 0h1v1h-1zm-311 1h1v1h-1zm230 0h1v1h-1zm10 0h1v1h-1zm38 0h1v1h-1zm18 0h1v1h-1zm-271 1h1v1h-1zm12 0h1v1h-1zm2 0h1v1h-1zm257 0h1v1h-1zm-338 1h1v1h-1zm34 0h1v1h-1zm5 0h1v1h-1zm6 0h1v1h-1zm326 0h2v1h-2zm6 0h1v1h-1zm16 0h1v1h-1zm-437 1h1v1h-1zm32 0h1v1h-1zm62 0h1v1h-1zm8 0h1v1h-1zm223 0h1v1h-1zm37 0h1v1h-1zm40 0h1v1h-1zm36 0h1v1h-1zm-402 1h1v1h-1zm75 0h1v1h-1zm215 0h1v1h-1zm44 0h1v1h-1zm31 0h1v1h-1zm55 0h1v1h-1zm5 0h1v1h-1zm-417 1h1v1h-1zm17 0h1v1h-1zm5 0h1v1h-1zm47 0h1v1h-1zm221 0h1v1h-1zm108 0h1v1h-1zm-453 1h1v1h-1zm56 0h1v1h-1zm16 0h1v1h-1zm56 0h1v1h-1zm263 0h1v1h-1zm48 0h1v1h-1zm15 0h1v1h-1zm-416 1h1v1h-1zm68 0h1v1h-1zm322 0h1v1h-1zm9 0h1v1h-1zm-411 1h1v1h-1zm74 0h1v1h-1zm317 1h1v1h-1zm-341 1h1v1h-1zm2 0h1v1h-1zm-57 1h1v1h-1zm27 0h1v1h-1zm352 0h1v1h-1zm-321 1h1v1h-1zm-28 1h1v1h-1zm14 0h1v1h-1zm-9 1h1v1h-1zm8 0h1v1h-1zm309 1h1v1h-1zm21 3h1v1h-1zm-38 18h1v1h-1zm-48 12h1v1h-1zm-183 17h1v1h-1zm-2 2h1v1h-1zm196 2h1v1h-1zm34 1h1v1h-1zm-254 1h1v1h-1zm35 0h1v1h-1zm177 0h1v1h-1zm10 0h1v1h-1zm-246 1h1v1h-1zm39 0h1v1h-1zm3 0h1v1h-1zm202 0h1v1h-1zm-214 1h1v1h-1zm208 0h1v1h-1zm15 0h1v1h-1zm-219 1h1v1h-1zm257 0h1v1h-1zm14 0h1v1h-1zm-286 1h1v1h-1zm233 0h1v1h-1zm18 0h1v1h-1zm35 0h1v1h-1zm59 0h1v1h-1zm-313 1h1v1h-1zm11 0h1v1h-1zm186 0h1v1h-1zm-243 1h1v1h-1zm26 0h1v1h-1zm245 0h1v1h-1zm17 0h1v1h-1zm38 0h1v1h-1zm21 0h1v1h-1zm-326 1h1v1h-1zm33 0h1v1h-1zm208 0h1v1h-1zm7 0h1v1h-1zm-348 1h1v1h-1zm89 0h1v1h-1zm248 0h1v1h-1zm-337 1h1v1h-1zm81 0h1v1h-1zm7 0h1v1h-1zm20 0h1v1h-1zm232 0h1v1h-1zm19 0h1v1h-1zm27 0h1v1h-1zm29 0h1v1h-1zm-385 1h1v1h-1zm54 0h1v1h-1zm8 0h1v1h-1zm5 0h1v1h-1zm25 0h1v1h-1zm8 0h1v1h-1zm3 0h1v1h-1zm226 0h1v1h-1zm49 0h1v1h-1zm17 0h1v1h-1zm-354 1h1v1h-1zm14 0h1v1h-1zm265 0h1v1h-1zm13 0h1v1h-1zm5 0h1v1h-1zm3 0h1v1h-1zm5 0h1v1h-1zm5 0h1v1h-1zm-352 1h2v1h-2zm12 0h1v1h-1zm79 0h1v1h-1zm201 0h1v1h-1zm12 0h1v1h-1zm32 0h1v1h-1zm15 0h1v1h-1zm32 0h1v1h-1zm29 0h2v1h-2zm24 0h1v1h-1zm-434 1h1v1h-1zm41 0h1v1h-1zm236 0h1v1h-1zm31 0h1v1h-1zm8 0h1v1h-1zm38 0h1v1h-1zm14 0h1v1h-1zm12 0h1v1h-1zm17 0h1v1h-1zm-411 1h1v1h-1zm6 0h1v1h-1zm18 0h1v1h-1zm62 0h1v1h-1zm212 0h1v1h-1zm4 0h1v1h-1zm145 0h1v1h-1zm-451 1h1v1h-1zm12 0h1v1h-1zm48 0h1v1h-1zm21 0h1v1h-1zm306 0h1v1h-1zm72 0h2v1h-2zm-477 1h1v1h-1zm8 0h1v1h-1zm26 0h1v1h-1zm14 0h1v1h-1zm24 0h1v1h-1zm324 0h1v1h-1zm29 0h1v1h-1zm-402 1h1v1h-1zm22 0h1v1h-1zm264 0h1v1h-1zm60 0h1v1h-1zm30 0h1v1h-1zm73 0h1v1h-1zm-448 1h1v1h-1zm45 0h1v1h-1zm67 0h1v1h-1zm-58 1h1v1h-1zm247 0h1v1h-1zm9 0h1v1h-1zm99 0h1v1h-1zm22 0h1v1h-1zm-392 1h1v1h-1zm60 0h1v1h-1zm185 0h1v1h-1zm17 0h1v1h-1zm49 0h1v1h-1zm17 0h1v1h-1zm87 0h1v1h-1zm-357 1h1v1h-1zm204 0h1v1h-1zm2 0h1v1h-1zm-317 1h1v1h-1zm52 0h1v1h-1zm280 0h1v1h-1zm36 0h1v1h-1zm54 0h1v1h-1zm-402 1h1v1h-1zm30 0h1v1h-1zm47 0h1v1h-1zm237 0h1v1h-1zm47 0h1v1h-1zm41 0h1v1h-1zm10 0h2v1h-2zm-416 1h1v1h-1zm85 0h1v1h-1zm3 0h1v1h-1zm227 0h1v1h-1zm39 0h1v1h-1zm9 0h1v1h-1zm-377 1h1v1h-1zm4 0h1v1h-1zm20 0h1v1h-1zm17 0h1v1h-1zm49 0h1v1h-1zm302 0h1v1h-1zm33 0h1v1h-1zm20 0h1v1h-1zm-428 1h1v1h-1zm11 0h1v1h-1zm45 0h1v1h-1zm12 0h1v1h-1zm263 0h1v1h-1zm28 0h1v1h-1zm79 0h1v1h-1zm-460 1h1v1h-1zm31 0h1v1h-1zm2 0h1v1h-1zm17 0h1v1h-1zm22 0h1v1h-1zm7 0h1v1h-1zm225 0h1v1h-1zm146 0h1v1h-1zm19 0h1v1h-1zm-462 1h1v1h-1zm42 0h1v1h-1zm-43 1h1v1h-1zm9 0h1v1h-1zm50 0h1v1h-1zm292 0h1v1h-1zm-343 2h1v1h-1zm8 0h1v1h-1zm25 0h1v1h-1zm404 0h1v1h-1zm-150 1h1v1h-1zm41 0h1v1h-1zm-8 1h1v1h-1zm-292 1h1v1h-1zm9 1h1v1h-1zm-5 1h1v1h-1zm3 0h1v1h-1zm353 1h1v1h-1zm-60 2h1v1h-1zm10 2h1v1h-1zm-230 8h1v1h-1zm188 1h1v1h-1zm36 1h1v1h-1zm-230 2h1v1h-1zm12 0h1v1h-1zm186 0h1v1h-1zm-212 3h1v1h-1zm211 1h1v1h-1zm-190 1h1v1h-1zm181 0h1v1h-1zm130 0h1v1h-1zm-130 1h1v1h-1zm63 1h1v1h-1zm-271 2h1v1h-1zm254 0h1v1h-1zm-49 1h1v1h-1zm123 0h1v1h-1zm-332 1h1v1h-1zm24 0h1v1h-1zm17 0h1v1h-1zm175 0h1v1h-1zm10 0h1v1h-1zm-225 1h1v1h-1zm249 0h1v1h-1zm9 0h1v1h-1zm2 0h1v1h-1zm14 0h1v1h-1zm-254 1h1v1h-1zm21 0h1v1h-1zm178 0h1v1h-1zm157 0h1v1h-1zm-335 1h1v1h-1zm192 0h1v1h-1zm-243 1h1v1h-1zm18 0h1v1h-1zm8 0h1v1h-1zm28 0h1v1h-1zm196 0h1v1h-1zm5 0h1v1h-1zm13 0h1v1h-1zm23 0h1v1h-1zm6 0h1v1h-1zm14 0h1v1h-1zm39 0h1v1h-1zm6 0h1v1h-1zm-426 1h1v1h-1zm2 0h1v1h-1zm22 0h1v1h-1zm47 0h1v1h-1zm21 0h1v1h-1zm10 0h1v1h-1zm9 0h1v1h-1zm242 0h1v1h-1zm96 0h1v1h-1zm-366 1h1v1h-1zm231 0h1v1h-1zm10 0h1v1h-1zm92 0h1v1h-1zm13 0h1v1h-1zm13 0h1v1h-1zm-370 1h1v1h-1zm22 0h1v1h-1zm6 0h1v1h-1zm5 0h1v1h-1zm244 0h1v1h-1zm18 0h1v1h-1zm40 0h1v1h-1zm14 0h1v1h-1zm-405 1h1v1h-1zm13 0h1v1h-1zm275 0h1v1h-1zm74 0h1v1h-1zm26 0h1v1h-1zm12 0h1v1h-1zm6 0h1v1h-1zm12 0h1v1h-1zm-431 1h1v1h-1zm20 0h1v1h-1zm98 0h1v1h-1zm184 0h1v1h-1zm3 0h1v1h-1zm18 0h1v1h-1zm17 0h1v1h-1zm6 0h1v1h-1zm47 0h1v1h-1zm7 0h1v1h-1zm3 0h1v1h-1zm2 0h1v1h-1zm-341 1h1v1h-1zm12 0h1v1h-1zm41 0h1v1h-1zm177 0h1v1h-1zm101 0h1v1h-1zm26 0h1v1h-1zm29 0h1v1h-1zm-466 1h1v1h-1zm80 0h1v1h-1zm52 0h1v1h-1zm3 0h1v1h-1zm183 0h1v1h-1zm65 0h1v1h-1zm-347 1h1v1h-1zm31 0h1v1h-1zm16 0h1v1h-1zm19 0h1v1h-1zm16 0h1v1h-1zm4 0h1v1h-1zm195 0h1v1h-1zm99 0h1v1h-1zm-365 1h1v1h-1zm16 0h1v1h-1zm8 0h2v1h-2zm14 0h1v1h-1zm258 0h1v1h-1zm-302 1h1v1h-1zm23 0h2v1h-2zm3 0h1v1h-1zm2 0h1v1h-1zm234 0h1v1h-1zm52 0h1v1h-1zm4 0h1v1h-1zm71 0h1v1h-1zm-440 1h1v1h-1zm71 0h1v1h-1zm63 0h1v1h-1zm178 0h1v1h-1zm140 0h2v1h-2zm-321 1h1v1h-1zm223 0h1v1h-1zm24 0h2v1h-2zm15 0h1v1h-1zm-333 1h1v1h-1zm5 0h1v1h-1zm318 0h2v1h-2zm32 0h1v1h-1zm-415 1h1v1h-1zm42 0h2v1h-2zm78 0h1v1h-1zm275 0h1v1h-1zm11 0h1v1h-1zm40 0h1v1h-1zm-391 1h1v1h-1zm10 0h1v1h-1zm266 0h1v1h-1zm5 0h1v1h-1zm8 0h1v1h-1zm41 0h1v1h-1zm31 0h1v1h-1zm35 0h1v1h-1zm-452 1h1v1h-1zm5 0h1v1h-1zm17 0h1v1h-1zm17 0h1v1h-1zm6 0h1v1h-1zm3 0h1v1h-1zm300 0h1v1h-1zm33 0h1v1h-1zm22 0h1v1h-1zm10 0h1v1h-1zm48 0h1v1h-1zm-351 1h1v1h-1zm242 0h1v1h-1zm66 0h1v1h-1zm9 0h1v1h-1zm31 0h1v1h-1zm-459 1h1v1h-1zm3 0h1v1h-1zm75 0h1v1h-1zm4 0h1v1h-1zm2 0h1v1h-1zm24 0h1v1h-1zm6 0h1v1h-1zm295 0h1v1h-1zm29 0h1v1h-1zm27 0h1v1h-1zm14 0h1v1h-1zm-469 1h1v1h-1zm19 0h1v1h-1zm396 0h1v1h-1zm22 0h1v1h-1zm19 0h1v1h-1zm-415 1h1v1h-1zm59 0h1v1h-1zm232 0h1v1h-1zm57 0h1v1h-1zm7 0h1v1h-1zm57 0h1v1h-1zm-448 1h1v1h-1zm22 0h1v1h-1zm10 0h1v1h-1zm49 0h1v1h-1zm12 0h1v1h-1zm289 0h1v1h-1zm26 0h1v1h-1zm9 0h1v1h-1zm-419 1h1v1h-1zm39 0h1v1h-1zm2 0h1v1h-1zm69 0h1v1h-1zm326 0h1v1h-1zm-421 1h1v1h-1zm31 0h1v1h-1zm377 1h1v1h-1zm3 0h1v1h-1zm-360 1h1v1h-1zm29 0h1v1h-1zm-33 1h1v1h-1zm335 0h1v1h-1zm-44 1h1v1h-1zm-315 1h1v1h-1zm25 0h1v1h-1zm-16 1h1v1h-1zm-6 1h1v1h-1zm0 1h1v1h-1zm10 0h1v1h-1zm301 0h1v1h-1zm-290 1h1v1h-1zm-10 1h1v1h-1zm314 0h1v1h-1zm-326 2h1v1h-1zm9 0h1v1h-1zm-5 1h1v1h-1zm8 3h1v1h-1zm-42 27h1v1h-1zm304 22h1v1h-1zm12 6h1v1h-1zm-25 1h1v1h-1zm15 0h1v1h-1zm-17 1h1v1h-1zm41 2h1v1h-1zm-40 1h1v1h-1zm73 0h1v1h-1zm8 2h1v1h-1zm70 0h1v1h-1zm-112 1h1v1h-1zm6 0h1v1h-1zm3 0h1v1h-1zm4 1h1v1h-1zm5 0h1v1h-1zm-18 1h1v1h-1zm17 0h1v1h-1zm4 0h1v1h-1zm-30 1h1v1h-1zm13 0h1v1h-1zm39 0h1v1h-1zm-54 1h1v1h-1zm-298 1h1v1h-1zm270 0h2v1h-2zm22 0h1v1h-1zm29 0h1v1h-1zm31 0h1v1h-1zm6 0h1v1h-1zm-85 1h1v1h-1zm29 0h1v1h-1zm22 0h1v1h-1zm25 0h1v1h-1zm11 0h1v1h-1zm-363 1h1v1h-1zm93 0h2v1h-2zm195 0h1v1h-1zm107 0h1v1h-1zm28 0h1v1h-1zm-459 1h1v1h-1zm4 0h1v1h-1zm38 0h1v1h-1zm52 0h1v1h-1zm20 0h1v1h-1zm259 0h1v1h-1zm88 0h1v1h-1zm-429 1h1v1h-1zm78 0h1v1h-1zm24 0h1v1h-1zm2 0h1v1h-1zm236 0h1v1h-1zm32 0h1v1h-1zm-398 1h2v1h-2zm10 0h1v1h-1zm13 0h1v1h-1zm14 0h1v1h-1zm278 0h1v1h-1zm75 0h1v1h-1zm14 0h1v1h-1zm-353 1h1v1h-1zm11 0h1v1h-1zm15 0h1v1h-1zm31 0h1v1h-1zm208 0h1v1h-1zm77 0h1v1h-1zm-352 1h1v1h-1zm266 0h1v1h-1zm91 0h1v1h-1zm5 0h2v1h-2zm65 0h1v1h-1zm-436 1h1v1h-1zm35 0h1v1h-1zm8 0h1v1h-1zm8 0h1v1h-1zm58 0h1v1h-1zm182 0h1v1h-1zm27 0h1v1h-1zm106 0h1v1h-1zm-438 1h1v1h-1zm5 0h1v1h-1zm12 0h1v1h-1zm36 0h1v1h-1zm12 0h1v1h-1zm224 0h1v1h-1zm68 0h1v1h-1zm-341 1h1v1h-1zm20 0h1v1h-1zm5 0h1v1h-1zm290 0h1v1h-1zm23 0h1v1h-1zm-252 1h1v1h-1zm255 0h1v1h-1zm52 0h1v1h-1zm2 0h1v1h-1zm31 0h1v1h-1zm-331 1h1v1h-1zm196 0h1v1h-1zm22 0h1v1h-1zm39 0h1v1h-1zm60 0h1v1h-1zm5 0h1v1h-1zm-115 1h1v1h-1zm45 0h1v1h-1zm82 0h1v1h-1zm-325 1h1v1h-1zm239 0h2v1h-2zm-380 1h1v1h-1zm34 0h1v1h-1zm54 0h1v1h-1zm22 0h1v1h-1zm31 0h1v1h-1zm259 0h1v1h-1zm23 0h1v1h-1zm-401 1h1v1h-1zm7 0h1v1h-1zm18 0h1v1h-1zm18 0h1v1h-1zm4 0h1v1h-1zm13 0h1v1h-1zm11 0h1v1h-1zm12 0h1v1h-1zm5 0h2v1h-2zm5 0h1v1h-1zm242 0h3v1h-3zm25 0h1v1h-1zm76 0h1v1h-1zm-439 1h1v1h-1zm53 0h2v1h-2zm12 0h1v1h-1zm374 0h1v1h-1zm-448 1h1v1h-1zm35 0h1v1h-1zm51 0h1v1h-1zm8 0h1v1h-1zm5 0h2v1h-2zm-104 1h1v1h-1zm412 0h1v1h-1zm-396 1h1v1h-1zm29 0h1v1h-1zm2 0h1v1h-1zm38 0h1v1h-1zm-39 1h1v1h-1zm20 0h1v1h-1zm-21 4h1v1h-1zm11 2h1v1h-1zm-4 1h1v1h-1z"/><path fill="#0030ff" d="m322 43h1v1h-1zm7 18h1v1h-1zm-10 6h1v1h-1zm20 7h1v1h-1zm-6 8h1v1h-1zm-4 16h1v1h-1zm25 0h1v1h-1zm3 0h1v1h-1zm-50 1h1v1h-1zm33 0h1v1h-1zm36 0h1v1h-1zm-363 1h1v1h-1zm300 0h1v1h-1zm21 0h1v1h-1zm23 0h1v1h-1zm-357 2h1v1h-1zm302 0h1v1h-1zm7 0h1v1h-1zm53 0h1v1h-1zm23 0h1v1h-1zm-276 1h1v1h-1zm217 0h1v1h-1zm3 0h1v1h-1zm9 0h1v1h-1zm21 0h1v1h-1zm-245 1h1v1h-1zm35 0h1v1h-1zm198 0h2v1h-2zm-243 1h1v1h-1zm-100 1h1v1h-1zm171 0h1v1h-1zm151 0h1v1h-1zm-269 1h1v1h-1zm41 0h1v1h-1zm70 0h1v1h-1zm146 0h1v1h-1zm12 0h1v1h-1zm-286 1h1v1h-1zm68 0h1v1h-1zm10 0h1v1h-1zm197 0h1v1h-1zm-310 1h1v1h-1zm2 0h1v1h-1zm90 0h1v1h-1zm14 0h1v1h-1zm11 0h1v1h-1zm190 0h1v1h-1zm-307 1h1v1h-1zm30 0h1v1h-1zm13 0h1v1h-1zm60 0h1v1h-1zm5 0h1v1h-1zm11 0h1v1h-1zm40 0h1v1h-1zm6 0h1v1h-1zm2 0h1v1h-1zm198 0h1v1h-1zm-365 1h1v1h-1zm21 0h1v1h-1zm69 0h1v1h-1zm70 0h1v1h-1zm4 0h1v1h-1zm180 0h1v1h-1zm31 0h1v1h-1zm32 0h1v1h-1zm9 0h1v1h-1zm-409 1h1v1h-1zm2 0h1v1h-1zm11 0h1v1h-1zm18 0h1v1h-1zm34 0h1v1h-1zm8 0h1v1h-1zm36 0h1v1h-1zm20 0h1v1h-1zm11 0h1v1h-1zm207 0h1v1h-1zm49 0h1v1h-1zm9 0h1v1h-1zm-396 1h1v1h-1zm3 0h1v1h-1zm17 0h1v1h-1zm12 0h1v1h-1zm2 0h1v1h-1zm8 0h1v1h-1zm11 0h2v1h-2zm52 0h1v1h-1zm29 0h1v1h-1zm184 0h1v1h-1zm32 0h1v1h-1zm77 0h1v1h-1zm17 0h1v1h-1zm-409 1h1v1h-1zm18 0h1v1h-1zm11 0h1v1h-1zm286 0h1v1h-1zm59 0h1v1h-1zm23 0h1v1h-1zm-378 1h1v1h-1zm65 0h1v1h-1zm328 0h1v1h-1zm2 0h1v1h-1zm-470 1h1v1h-1zm24 0h1v1h-1zm44 0h1v1h-1zm67 0h1v1h-1zm5 0h1v1h-1zm10 0h1v1h-1zm26 0h1v1h-1zm4 0h1v1h-1zm184 0h1v1h-1zm-328 1h1v1h-1zm9 0h1v1h-1zm56 0h1v1h-1zm46 0h1v1h-1zm26 0h1v1h-1zm266 0h1v1h-1zm-411 1h1v1h-1zm6 0h1v1h-1zm75 0h1v1h-1zm3 0h1v1h-1zm7 0h1v1h-1zm53 0h1v1h-1zm-168 1h1v1h-1zm25 0h1v1h-1zm74 0h1v1h-1zm-73 1h1v1h-1zm2 0h1v1h-1zm2 0h1v1h-1zm55 0h1v1h-1zm18 0h1v1h-1zm18 0h2v1h-2zm40 0h1v1h-1zm214 0h1v1h-1zm-372 1h1v1h-1zm23 0h1v1h-1zm4 0h1v1h-1zm22 0h1v1h-1zm25 0h1v1h-1zm13 0h1v1h-1zm77 0h1v1h-1zm-157 1h1v1h-1zm24 0h1v1h-1zm17 0h2v1h-2zm25 0h1v1h-1zm11 0h1v1h-1zm3 0h1v1h-1zm3 0h1v1h-1zm66 0h1v1h-1zm9 0h1v1h-1zm-160 1h1v1h-1zm29 0h1v1h-1zm32 0h1v1h-1zm-20 1h1v1h-1zm9 0h1v1h-1zm286 0h1v1h-1zm-299 1h1v1h-1zm20 0h1v1h-1zm3 0h1v1h-1zm-30 1h1v1h-1zm7 0h1v1h-1zm108 0h1v1h-1zm-109 1h1v1h-1zm12 0h1v1h-1zm-38 1h1v1h-1zm347 3h1v1h-1zm-346 3h1v1h-1zm315 1h1v1h-1zm-9 8h1v1h-1zm23 3h1v1h-1zm-6 6h1v1h-1zm19 1h1v1h-1zm-365 2h1v1h-1zm335 3h1v1h-1zm2 0h1v1h-1zm28 0h1v1h-1zm12 0h1v1h-1zm-63 1h1v1h-1zm28 0h1v1h-1zm33 0h1v1h-1zm-247 1h1v1h-1zm194 0h1v1h-1zm11 0h1v1h-1zm10 2h1v1h-1zm29 0h1v1h-1zm-242 2h1v1h-1zm201 0h1v1h-1zm7 0h1v1h-1zm-332 1h1v1h-1zm107 0h1v1h-1zm258 0h1v1h-1zm-28 1h1v1h-1zm-309 1h1v1h-1zm382 0h1v1h-1zm-278 1h1v1h-1zm275 0h1v1h-1zm4 0h1v1h-1zm-416 1h1v1h-1zm13 0h1v1h-1zm27 0h1v1h-1zm432 0h1v1h-1zm-440 1h1v1h-1zm5 0h1v1h-1zm23 0h1v1h-1zm28 0h1v1h-1zm10 0h1v1h-1zm16 0h1v1h-1zm218 0h1v1h-1zm19 0h1v1h-1zm8 0h1v1h-1zm23 0h1v1h-1zm46 0h1v1h-1zm-402 1h1v1h-1zm29 0h1v1h-1zm28 0h1v1h-1zm3 0h1v1h-1zm338 0h1v1h-1zm17 0h1v1h-1zm9 0h1v1h-1zm2 0h1v1h-1zm-407 1h1v1h-1zm60 0h1v1h-1zm19 0h1v1h-1zm269 0h1v1h-1zm76 0h1v1h-1zm7 0h1v1h-1zm-447 1h1v1h-1zm5 0h1v1h-1zm2 0h1v1h-1zm25 0h1v1h-1zm9 0h1v1h-1zm12 0h1v1h-1zm310 0h1v1h-1zm14 0h1v1h-1zm71 0h1v1h-1zm-462 1h1v1h-1zm99 0h1v1h-1zm286 0h1v1h-1zm-372 1h1v1h-1zm65 0h1v1h-1zm10 0h1v1h-1zm359 0h1v1h-1zm-389 1h1v1h-1zm43 0h1v1h-1zm248 0h1v1h-1zm31 0h1v1h-1zm-339 1h1v1h-1zm408 0h1v1h-1zm-411 1h1v1h-1zm324 0h1v1h-1zm-363 1h1v1h-1zm70 0h1v1h-1zm335 0h1v1h-1zm-358 1h1v1h-1zm376 1h1v1h-1zm-77 32h1v1h-1zm-7 7h1v1h-1zm-7 2h1v1h-1zm-23 4h1v1h-1zm-14 4h1v1h-1zm32 0h1v1h-1zm-6 3h1v1h-1zm-28 1h1v1h-1zm4 0h1v1h-1zm0 1h1v1h-1zm57 1h1v1h-1zm-240 1h1v1h-1zm12 0h1v1h-1zm254 0h1v1h-1zm-56 1h1v1h-1zm46 0h1v1h-1zm-73 1h1v1h-1zm40 0h1v1h-1zm-242 1h1v1h-1zm5 0h1v1h-1zm254 0h1v1h-1zm-227 1h1v1h-1zm199 0h1v1h-1zm34 0h1v1h-1zm-264 1h1v1h-1zm23 0h1v1h-1zm200 0h1v1h-1zm68 0h1v1h-1zm-295 1h1v1h-1zm15 0h1v1h-1zm246 0h1v1h-1zm44 0h1v1h-1zm-410 1h1v1h-1zm45 0h1v1h-1zm32 0h1v1h-1zm7 0h1v1h-1zm7 0h1v1h-1zm240 0h1v1h-1zm10 0h1v1h-1zm27 0h1v1h-1zm22 0h1v1h-1zm-287 1h1v1h-1zm287 0h1v1h-1zm56 0h1v1h-1zm-368 1h1v1h-1zm37 0h1v1h-1zm14 0h1v1h-1zm11 0h1v1h-1zm196 0h1v1h-1zm31 0h1v1h-1zm33 0h1v1h-1zm-401 1h1v1h-1zm85 0h1v1h-1zm5 0h1v1h-1zm29 0h1v1h-1zm236 0h1v1h-1zm93 0h1v1h-1zm16 0h1v1h-1zm-449 1h1v1h-1zm94 0h1v1h-1zm270 0h1v1h-1zm20 0h1v1h-1zm-355 1h1v1h-1zm40 0h1v1h-1zm10 0h1v1h-1zm4 0h1v1h-1zm6 0h1v1h-1zm311 0h1v1h-1zm6 0h1v1h-1zm24 0h1v1h-1zm13 0h1v1h-1zm-414 1h1v1h-1zm275 0h1v1h-1zm18 0h1v1h-1zm115 0h1v1h-1zm9 0h1v1h-1zm-391 1h1v1h-1zm46 0h1v1h-1zm2 0h1v1h-1zm348 0h1v1h-1zm-467 1h1v1h-1zm12 0h1v1h-1zm26 0h1v1h-1zm2 0h1v1h-1zm40 0h1v1h-1zm28 0h1v1h-1zm204 0h1v1h-1zm66 0h1v1h-1zm91 0h1v1h-1zm-454 1h1v1h-1zm7 0h1v1h-1zm25 0h1v1h-1zm35 0h1v1h-1zm34 0h1v1h-1zm199 0h1v1h-1zm14 0h1v1h-1zm127 0h1v1h-1zm-349 1h1v1h-1zm24 0h1v1h-1zm-94 1h1v1h-1zm19 0h1v1h-1zm17 0h1v1h-1zm327 0h1v1h-1zm-380 1h1v1h-1zm69 0h1v1h-1zm36 0h1v1h-1zm192 0h1v1h-1zm31 0h1v1h-1zm26 0h1v1h-1zm27 0h1v1h-1zm-393 1h1v1h-1zm14 0h1v1h-1zm47 0h1v1h-1zm294 0h1v1h-1zm22 0h1v1h-1zm61 0h1v1h-1zm-383 1h1v1h-1zm249 0h1v1h-1zm22 0h1v1h-1zm23 0h1v1h-1zm31 0h1v1h-1zm67 0h1v1h-1zm15 0h1v1h-1zm-404 1h1v1h-1zm52 0h1v1h-1zm24 0h1v1h-1zm230 0h1v1h-1zm29 0h1v1h-1zm-356 1h1v1h-1zm20 0h1v1h-1zm21 0h1v1h-1zm333 0h1v1h-1zm7 0h1v1h-1zm-406 1h1v1h-1zm33 0h1v1h-1zm42 0h1v1h-1zm14 0h1v1h-1zm302 0h1v1h-1zm-402 1h1v1h-1zm77 0h1v1h-1zm13 0h2v1h-2zm275 0h1v1h-1zm35 0h1v1h-1zm17 0h1v1h-1zm-347 1h2v1h-2zm6 0h1v1h-1zm6 0h1v1h-1zm11 0h1v1h-1zm307 0h1v1h-1zm15 0h1v1h-1zm-405 1h1v1h-1zm6 0h1v1h-1zm3 0h1v1h-1zm27 0h1v1h-1zm23 0h1v1h-1zm14 0h1v1h-1zm301 0h1v1h-1zm-321 1h1v1h-1zm240 0h1v1h-1zm54 0h1v1h-1zm58 0h1v1h-1zm-402 1h1v1h-1zm26 0h1v1h-1zm341 0h2v1h-2zm-354 1h1v1h-1zm390 0h1v1h-1zm-371 1h1v1h-1zm12 0h1v1h-1zm3 0h1v1h-1zm-52 1h1v1h-1zm33 0h1v1h-1zm3 0h1v1h-1zm9 0h1v1h-1zm-44 1h1v1h-1zm2 0h1v1h-1zm320 0h1v1h-1zm67 1h1v1h-1zm-382 1h1v1h-1zm31 1h1v1h-1zm6 1h1v1h-1zm-3 2h1v1h-1zm76 10h1v1h-1zm183 4h1v1h-1zm-189 2h1v1h-1zm197 1h1v1h-1zm10 0h1v1h-1zm-5 4h1v1h-1zm108 0h1v1h-1zm-125 1h1v1h-1zm113 0h1v1h-1zm-91 1h1v1h-1zm19 0h1v1h-1zm26 0h1v1h-1zm36 0h1v1h-1zm23 0h1v1h-1zm-330 1h1v1h-1zm232 0h1v1h-1zm4 0h1v1h-1zm25 0h1v1h-1zm-3 1h1v1h-1zm-252 1h1v1h-1zm14 0h1v1h-1zm224 0h1v1h-1zm29 0h1v1h-1zm57 0h1v1h-1zm5 0h1v1h-1zm-346 1h1v1h-1zm14 0h1v1h-1zm16 0h1v1h-1zm227 0h1v1h-1zm83 0h1v1h-1zm-439 1h1v1h-1zm23 0h1v1h-1zm22 0h1v1h-1zm71 0h1v1h-1zm196 0h1v1h-1zm44 0h1v1h-1zm4 0h1v1h-1zm22 0h1v1h-1zm-376 1h1v1h-1zm115 0h1v1h-1zm297 0h1v1h-1zm-384 1h1v1h-1zm70 0h1v1h-1zm12 0h1v1h-1zm255 0h1v1h-1zm30 0h1v1h-1zm-281 1h1v1h-1zm212 0h1v1h-1zm4 0h1v1h-1zm19 0h1v1h-1zm20 0h1v1h-1zm60 0h1v1h-1zm12 0h1v1h-1zm-442 1h1v1h-1zm35 0h1v1h-1zm51 0h1v1h-1zm261 0h1v1h-1zm11 0h1v1h-1zm19 0h1v1h-1zm19 0h1v1h-1zm-384 1h1v1h-1zm5 0h1v1h-1zm21 0h1v1h-1zm45 0h1v1h-1zm6 0h1v1h-1zm226 0h1v1h-1zm133 0h1v1h-1zm-436 1h1v1h-1zm24 0h1v1h-1zm38 0h1v1h-1zm40 0h1v1h-1zm191 0h1v1h-1zm64 0h1v1h-1zm42 0h1v1h-1zm15 0h1v1h-1zm23 0h2v1h-2zm-333 1h1v1h-1zm190 0h1v1h-1zm-294 1h1v1h-1zm6 0h1v1h-1zm32 0h1v1h-1zm5 0h1v1h-1zm40 0h1v1h-1zm264 0h1v1h-1zm15 0h1v1h-1zm-346 1h1v1h-1zm3 0h1v1h-1zm52 0h1v1h-1zm7 0h1v1h-1zm46 0h2v1h-2zm220 0h1v1h-1zm8 0h1v1h-1zm33 0h1v1h-1zm64 0h1v1h-1zm-443 1h1v1h-1zm30 0h1v1h-1zm57 0h1v1h-1zm31 0h1v1h-1zm228 0h1v1h-1zm-349 1h1v1h-1zm10 0h3v1h-3zm26 0h1v1h-1zm299 1h1v1h-1zm4 0h1v1h-1zm89 0h1v1h-1zm-133 1h1v1h-1zm29 0h1v1h-1zm89 0h1v1h-1zm22 0h1v1h-1zm-327 1h1v1h-1zm241 0h1v1h-1zm72 0h2v1h-2zm-438 1h1v1h-1zm114 0h1v1h-1zm18 0h1v1h-1zm178 0h1v1h-1zm128 0h1v1h-1zm34 0h1v1h-1zm-471 1h1v1h-1zm325 0h1v1h-1zm18 0h1v1h-1zm36 0h1v1h-1zm43 0h1v1h-1zm8 0h1v1h-1zm30 0h1v1h-1zm-328 1h1v1h-1zm234 0h1v1h-1zm2 0h1v1h-1zm55 0h1v1h-1zm-396 1h1v1h-1zm51 0h1v1h-1zm16 0h1v1h-1zm2 0h1v1h-1zm8 0h1v1h-1zm27 0h1v1h-1zm241 0h1v1h-1zm13 0h1v1h-1zm50 0h2v1h-2zm13 0h1v1h-1zm15 0h1v1h-1zm2 0h1v1h-1zm-389 1h1v1h-1zm348 0h1v1h-1zm47 0h1v1h-1zm-451 1h1v1h-1zm11 0h1v1h-1zm41 0h1v1h-1zm27 0h1v1h-1zm244 0h1v1h-1zm52 0h1v1h-1zm44 0h1v1h-1zm20 0h1v1h-1zm-441 1h1v1h-1zm4 0h1v1h-1zm21 0h1v1h-1zm318 0h1v1h-1zm-353 1h1v1h-1zm8 0h1v1h-1zm28 0h1v1h-1zm8 0h1v1h-1zm30 0h1v1h-1zm2 0h1v1h-1zm9 0h1v1h-1zm278 0h1v1h-1zm-363 1h1v1h-1zm44 0h1v1h-1zm65 0h1v1h-1zm336 0h1v1h-1zm-444 1h1v1h-1zm38 0h1v1h-1zm19 1h1v1h-1zm8 1h1v1h-1zm329 0h1v1h-1zm22 1h1v1h-1zm31 0h1v1h-1zm-407 1h1v1h-1zm3 0h1v1h-1zm309 0h1v1h-1zm10 0h1v1h-1zm-318 1h1v1h-1zm4 1h1v1h-1zm363 1h1v1h-1zm-401 2h1v1h-1zm34 2h1v1h-1zm3 2h1v1h-1zm10 1h1v1h-1zm-9 1h1v1h-1zm300 44h1v1h-1zm-23 3h1v1h-1zm27 2h1v1h-1zm-32 4h1v1h-1zm9 2h1v1h-1zm-12 3h1v1h-1zm-7 2h1v1h-1zm25 1h1v1h-1zm-325 2h1v1h-1zm-23 1h1v1h-1zm23 0h1v1h-1zm316 0h1v1h-1zm5 0h1v1h-1zm4 0h1v1h-1zm37 1h1v1h-1zm-385 1h1v1h-1zm312 0h1v1h-1zm25 0h1v1h-1zm11 0h1v1h-1zm6 0h1v1h-1zm9 0h1v1h-1zm4 0h1v1h-1zm-367 1h1v1h-1zm347 0h1v1h-1zm6 0h1v1h-1zm-217 1h1v1h-1zm-15 1h1v1h-1zm234 0h2v1h-2zm26 0h1v1h-1zm-379 1h1v1h-1zm119 0h1v1h-1zm7 0h1v1h-1zm-10 1h1v1h-1zm19 0h1v1h-1zm179 0h1v1h-1zm55 0h1v1h-1zm-332 1h1v1h-1zm83 0h1v1h-1zm23 0h1v1h-1zm2 0h1v1h-1zm239 0h1v1h-1zm4 0h1v1h-1zm43 0h1v1h-1zm10 0h1v1h-1zm-391 1h1v1h-1zm33 0h1v1h-1zm4 0h1v1h-1zm12 0h1v1h-1zm215 0h1v1h-1zm32 0h1v1h-1zm43 0h1v1h-1zm27 0h1v1h-1zm43 0h1v1h-1zm-432 1h1v1h-1zm25 0h1v1h-1zm44 0h1v1h-1zm14 0h1v1h-1zm7 0h1v1h-1zm30 0h1v1h-1zm182 0h1v1h-1zm34 0h1v1h-1zm28 0h1v1h-1zm5 0h1v1h-1zm6 0h1v1h-1zm41 0h1v1h-1zm-396 1h1v1h-1zm67 0h1v1h-1zm213 0h1v1h-1zm2 0h1v1h-1zm27 0h1v1h-1zm48 0h1v1h-1zm18 0h1v1h-1zm40 0h1v1h-1zm3 0h1v1h-1zm-350 1h1v1h-1zm358 0h1v1h-1zm-452 1h1v1h-1zm9 0h1v1h-1zm28 0h1v1h-1zm14 0h1v1h-1zm22 0h1v1h-1zm279 0h1v1h-1zm45 0h1v1h-1zm-420 1h1v1h-1zm12 0h1v1h-1zm17 0h1v1h-1zm297 0h1v1h-1zm11 0h1v1h-1zm7 0h1v1h-1zm5 0h1v1h-1zm5 0h1v1h-1zm2 0h1v1h-1zm35 0h1v1h-1zm2 0h1v1h-1zm-336 1h1v1h-1zm71 0h1v1h-1zm239 0h1v1h-1zm4 0h1v1h-1zm29 0h1v1h-1zm-74 1h1v1h-1zm25 0h1v1h-1zm72 0h1v1h-1zm-378 1h1v1h-1zm86 0h1v1h-1zm10 0h1v1h-1zm196 0h1v1h-1zm64 0h1v1h-1zm-351 1h1v1h-1zm334 0h1v1h-1zm29 0h1v1h-1zm5 0h1v1h-1zm40 0h2v1h-2zm13 0h1v1h-1zm-448 1h1v1h-1zm27 0h2v1h-2zm49 0h1v1h-1zm15 0h1v1h-1zm24 0h1v1h-1zm226 0h1v1h-1zm95 0h1v1h-1zm-439 1h2v1h-2zm9 0h1v1h-1zm58 0h1v1h-1zm11 0h1v1h-1zm4 0h2v1h-2zm240 0h1v1h-1zm68 0h1v1h-1zm-385 1h1v1h-1zm30 0h1v1h-1zm39 0h2v1h-2zm43 0h1v1h-1zm287 0h1v1h-1zm39 0h1v1h-1zm-435 1h1v1h-1zm45 0h1v1h-1zm-20 1h1v1h-1zm18 0h1v1h-1zm22 0h1v1h-1zm-71 1h1v1h-1zm34 1h1v1h-1zm23 0h1v1h-1zm286 0h1v1h-1zm-349 1h1v1h-1zm41 0h1v1h-1zm10 0h1v1h-1zm-5 1h1v1h-1zm303 1h1v1h-1zm-307 1h1v1h-1zm3 0h1v1h-1zm7 0h1v1h-1zm-3 2h1v1h-1zm-4 3h1v1h-1z"/><path fill="#0040ff" d="m319 29h1v1h-1zm-8 56h1v1h-1zm29 7h1v1h-1zm-332 2h1v1h-1zm303 1h1v1h-1zm7 0h2v1h-2zm5 1h1v1h-1zm34 0h1v1h-1zm-30 1h1v1h-1zm-319 2h1v1h-1zm296 0h1v1h-1zm53 0h1v1h-1zm12 2h1v1h-1zm6 0h1v1h-1zm-370 1h1v1h-1zm319 0h1v1h-1zm22 0h1v1h-1zm-346 1h1v1h-1zm146 0h1v1h-1zm160 0h1v1h-1zm21 0h1v1h-1zm-192 1h1v1h-1zm230 0h1v1h-1zm-232 1h1v1h-1zm14 0h1v1h-1zm201 0h1v1h-1zm-10 1h1v1h-1zm20 0h1v1h-1zm-348 1h1v1h-1zm24 0h1v1h-1zm116 0h1v1h-1zm188 0h1v1h-1zm6 0h1v1h-1zm-231 1h1v1h-1zm6 0h1v1h-1zm59 0h1v1h-1zm165 0h1v1h-1zm-335 1h1v1h-1zm5 0h1v1h-1zm21 0h1v1h-1zm6 0h1v1h-1zm59 0h1v1h-1zm219 0h1v1h-1zm-260 1h1v1h-1zm45 0h1v1h-1zm16 0h1v1h-1zm206 0h1v1h-1zm23 0h1v1h-1zm30 0h1v1h-1zm-337 1h1v1h-1zm56 0h1v1h-1zm247 0h1v1h-1zm11 0h1v1h-1zm-335 1h1v1h-1zm70 0h1v1h-1zm8 0h1v1h-1zm287 0h1v1h-1zm6 0h1v1h-1zm28 0h1v1h-1zm-404 1h1v1h-1zm39 0h1v1h-1zm6 0h1v1h-1zm24 0h1v1h-1zm35 0h1v1h-1zm20 0h1v1h-1zm231 0h1v1h-1zm-325 1h1v1h-1zm14 0h1v1h-1zm31 0h1v1h-1zm4 0h1v1h-1zm243 0h1v1h-1zm47 0h1v1h-1zm93 0h1v1h-1zm-454 1h1v1h-1zm66 0h1v1h-1zm48 0h1v1h-1zm7 0h1v1h-1zm223 0h1v1h-1zm6 0h1v1h-1zm10 0h1v1h-1zm19 0h1v1h-1zm-381 1h1v1h-1zm87 0h1v1h-1zm7 0h1v1h-1zm41 0h1v1h-1zm211 0h1v1h-1zm58 0h1v1h-1zm40 0h1v1h-1zm9 0h1v1h-1zm-366 1h1v1h-1zm50 0h1v1h-1zm314 0h1v1h-1zm-375 2h1v1h-1zm9 0h1v1h-1zm18 0h1v1h-1zm9 0h1v1h-1zm2 0h1v1h-1zm32 0h1v1h-1zm-67 1h2v1h-2zm62 0h2v1h-2zm203 0h1v1h-1zm34 0h1v1h-1zm-326 1h1v1h-1zm46 0h1v1h-1zm44 0h1v1h-1zm-152 1h1v1h-1zm4 0h1v1h-1zm28 0h1v1h-1zm2 0h1v1h-1zm28 0h1v1h-1zm23 0h1v1h-1zm68 0h1v1h-1zm-104 1h1v1h-1zm6 0h1v1h-1zm6 0h1v1h-1zm86 0h1v1h-1zm-102 1h1v1h-1zm-14 1h1v1h-1zm281 1h1v1h-1zm-164 4h1v1h-1zm156 5h1v1h-1zm6 0h1v1h-1zm36 8h1v1h-1zm28 2h1v1h-1zm-46 1h1v1h-1zm-25 2h1v1h-1zm3 0h1v1h-1zm-9 2h1v1h-1zm5 0h1v1h-1zm34 0h1v1h-1zm-12 2h1v1h-1zm-16 1h1v1h-1zm-11 2h1v1h-1zm2 0h1v1h-1zm9 0h1v1h-1zm31 1h1v1h-1zm-37 1h1v1h-1zm38 0h1v1h-1zm-216 2h1v1h-1zm220 0h1v1h-1zm-46 1h1v1h-1zm-175 1h1v1h-1zm176 0h1v1h-1zm12 0h1v1h-1zm14 0h1v1h-1zm25 0h1v1h-1zm26 0h2v1h-2zm-48 1h1v1h-1zm56 0h1v1h-1zm6 0h1v1h-1zm-53 1h1v1h-1zm4 0h2v1h-2zm-351 1h1v1h-1zm311 0h1v1h-1zm-178 1h1v1h-1zm207 0h1v1h-1zm52 0h1v1h-1zm-44 1h1v1h-1zm18 0h1v1h-1zm16 0h1v1h-1zm-375 1h1v1h-1zm98 0h1v1h-1zm17 0h1v1h-1zm299 0h1v1h-1zm-422 1h1v1h-1zm101 0h2v1h-2zm6 0h1v1h-1zm12 0h1v1h-1zm22 0h1v1h-1zm237 0h1v1h-1zm22 0h1v1h-1zm39 0h1v1h-1zm15 0h1v1h-1zm-341 1h1v1h-1zm21 0h1v1h-1zm3 0h1v1h-1zm9 0h1v1h-1zm307 0h1v1h-1zm-424 1h1v1h-1zm15 0h2v1h-2zm297 0h1v1h-1zm106 0h1v1h-1zm-424 1h1v1h-1zm5 0h1v1h-1zm33 0h1v1h-1zm19 0h1v1h-1zm15 0h1v1h-1zm48 0h1v1h-1zm212 0h2v1h-2zm5 0h1v1h-1zm20 0h1v1h-1zm12 0h1v1h-1zm42 0h1v1h-1zm-419 1h1v1h-1zm5 0h1v1h-1zm347 0h1v1h-1zm13 0h1v1h-1zm6 0h1v1h-1zm37 0h1v1h-1zm52 0h1v1h-1zm-436 1h1v1h-1zm22 0h1v1h-1zm6 0h1v1h-1zm41 0h1v1h-1zm12 0h1v1h-1zm9 0h1v1h-1zm323 0h1v1h-1zm15 0h1v1h-1zm-405 1h1v1h-1zm332 0h1v1h-1zm8 0h1v1h-1zm36 0h1v1h-1zm-30 1h1v1h-1zm-370 1h1v1h-1zm35 0h1v1h-1zm23 0h1v1h-1zm7 0h1v1h-1zm10 0h1v1h-1zm-98 1h1v1h-1zm3 0h1v1h-1zm30 0h1v1h-1zm351 0h1v1h-1zm-381 1h1v1h-1zm4 0h1v1h-1zm4 0h1v1h-1zm79 0h1v1h-1zm-48 1h1v1h-1zm353 0h1v1h-1zm-3 1h1v1h-1zm-85 15h1v1h-1zm0 10h1v1h-1zm-8 8h1v1h-1zm8 6h1v1h-1zm36 0h1v1h-1zm-39 7h2v1h-2zm28 5h1v1h-1zm-38 1h1v1h-1zm20 1h1v1h-1zm-10 1h1v1h-1zm-185 4h1v1h-1zm178 0h1v1h-1zm23 0h1v1h-1zm8 0h1v1h-1zm13 0h1v1h-1zm-272 1h1v1h-1zm54 0h1v1h-1zm192 0h1v1h-1zm-254 1h1v1h-1zm46 0h1v1h-1zm209 0h1v1h-1zm18 0h1v1h-1zm31 0h1v1h-1zm-251 1h1v1h-1zm11 0h1v1h-1zm168 0h1v1h-1zm16 0h1v1h-1zm-210 1h1v1h-1zm-114 1h1v1h-1zm133 0h1v1h-1zm182 0h1v1h-1zm18 0h1v1h-1zm5 0h2v1h-2zm10 0h1v1h-1zm27 0h1v1h-1zm-30 1h1v1h-1zm6 0h1v1h-1zm-41 1h1v1h-1zm-310 1h1v1h-1zm341 0h1v1h-1zm-333 1h1v1h-1zm108 0h1v1h-1zm25 0h1v1h-1zm214 0h1v1h-1zm27 0h1v1h-1zm11 0h1v1h-1zm-364 1h1v1h-1zm3 0h1v1h-1zm54 0h1v1h-1zm32 0h1v1h-1zm2 0h1v1h-1zm7 0h1v1h-1zm7 0h1v1h-1zm6 0h1v1h-1zm169 0h1v1h-1zm4 0h1v1h-1zm41 0h1v1h-1zm38 0h1v1h-1zm-366 1h1v1h-1zm48 0h1v1h-1zm40 0h1v1h-1zm7 0h1v1h-1zm22 0h1v1h-1zm200 0h1v1h-1zm4 0h2v1h-2zm6 0h1v1h-1zm22 0h1v1h-1zm79 0h1v1h-1zm-430 1h1v1h-1zm8 0h1v1h-1zm31 0h1v1h-1zm33 0h1v1h-1zm19 0h1v1h-1zm2 0h1v1h-1zm240 0h1v1h-1zm9 0h1v1h-1zm10 0h1v1h-1zm5 0h1v1h-1zm28 0h1v1h-1zm24 0h1v1h-1zm14 0h1v1h-1zm30 0h1v1h-1zm-425 1h1v1h-1zm39 0h1v1h-1zm2 0h2v1h-2zm47 0h1v1h-1zm254 0h1v1h-1zm46 0h1v1h-1zm9 0h1v1h-1zm15 0h1v1h-1zm-322 1h1v1h-1zm285 0h1v1h-1zm-424 1h1v1h-1zm33 0h1v1h-1zm7 0h1v1h-1zm2 0h1v1h-1zm45 0h1v1h-1zm15 0h1v1h-1zm231 0h1v1h-1zm-324 1h1v1h-1zm3 0h1v1h-1zm5 0h2v1h-2zm28 0h1v1h-1zm60 0h1v1h-1zm221 0h1v1h-1zm31 0h1v1h-1zm-306 1h1v1h-1zm3 0h1v1h-1zm18 0h1v1h-1zm279 0h1v1h-1zm118 0h1v1h-1zm5 0h1v1h-1zm-456 1h2v1h-2zm39 0h1v1h-1zm14 0h1v1h-1zm45 1h1v1h-1zm8 0h1v1h-1zm219 0h1v1h-1zm-305 1h1v1h-1zm27 0h1v1h-1zm4 0h1v1h-1zm69 0h1v1h-1zm170 0h1v1h-1zm21 0h1v1h-1zm73 0h1v1h-1zm6 0h1v1h-1zm-374 1h1v1h-1zm31 0h1v1h-1zm258 0h1v1h-1zm90 0h1v1h-1zm29 0h1v1h-1zm-433 1h1v1h-1zm131 0h1v1h-1zm193 0h1v1h-1zm27 0h1v1h-1zm67 0h1v1h-1zm20 0h1v1h-1zm26 0h1v1h-1zm-468 1h1v1h-1zm84 0h2v1h-2zm9 0h1v1h-1zm237 0h1v1h-1zm87 0h2v1h-2zm49 0h1v1h-1zm-467 1h1v1h-1zm8 0h1v1h-1zm17 0h2v1h-2zm8 0h1v1h-1zm12 0h2v1h-2zm33 0h1v1h-1zm11 0h1v1h-1zm248 0h1v1h-1zm37 0h1v1h-1zm46 0h1v1h-1zm-350 1h1v1h-1zm336 0h1v1h-1zm-49 1h1v1h-1zm-343 1h1v1h-1zm26 0h1v1h-1zm6 0h2v1h-2zm3 0h1v1h-1zm2 0h1v1h-1zm331 0h1v1h-1zm88 0h1v1h-1zm-460 1h1v1h-1zm33 0h2v1h-2zm4 1h1v1h-1zm29 0h1v1h-1zm276 1h1v1h-1zm49 0h1v1h-1zm-386 1h1v1h-1zm43 0h1v1h-1zm-11 1h1v1h-1zm312 0h1v1h-1zm-315 1h1v1h-1zm-28 1h1v1h-1zm43 0h2v1h-2zm248 12h1v1h-1zm-181 1h1v1h-1zm192 1h1v1h-1zm17 0h1v1h-1zm-17 2h1v1h-1zm0 1h1v1h-1zm-195 1h1v1h-1zm4 0h1v1h-1zm179 0h1v1h-1zm-188 4h1v1h-1zm213 2h1v1h-1zm-214 1h1v1h-1zm-5 1h1v1h-1zm210 0h1v1h-1zm36 0h1v1h-1zm-243 1h1v1h-1zm322 1h1v1h-1zm4 0h1v1h-1zm-120 1h1v1h-1zm7 0h1v1h-1zm26 0h1v1h-1zm24 0h1v1h-1zm3 0h1v1h-1zm73 0h1v1h-1zm-343 1h1v1h-1zm8 0h1v1h-1zm220 0h1v1h-1zm102 0h1v1h-1zm-322 1h1v1h-1zm10 0h1v1h-1zm202 0h1v1h-1zm5 0h1v1h-1zm12 0h1v1h-1zm56 0h1v1h-1zm-305 1h1v1h-1zm241 0h1v1h-1zm-203 1h1v1h-1zm205 0h1v1h-1zm16 0h1v1h-1zm63 0h1v1h-1zm11 0h1v1h-1zm10 0h1v1h-1zm-332 1h1v1h-1zm195 0h1v1h-1zm24 0h1v1h-1zm83 0h1v1h-1zm-414 1h1v1h-1zm91 0h1v1h-1zm20 0h1v1h-1zm13 0h1v1h-1zm13 0h1v1h-1zm176 0h1v1h-1zm44 0h1v1h-1zm16 0h1v1h-1zm11 0h1v1h-1zm60 0h1v1h-1zm-445 1h1v1h-1zm120 0h1v1h-1zm192 0h1v1h-1zm32 0h1v1h-1zm52 0h1v1h-1zm-358 1h1v1h-1zm58 0h1v1h-1zm7 0h1v1h-1zm260 0h1v1h-1zm8 0h1v1h-1zm17 0h1v1h-1zm30 0h2v1h-2zm-327 1h1v1h-1zm18 0h1v1h-1zm33 0h1v1h-1zm307 0h1v1h-1zm-413 1h1v1h-1zm3 0h1v1h-1zm38 0h1v1h-1zm29 0h1v1h-1zm12 0h1v1h-1zm280 0h1v1h-1zm13 0h1v1h-1zm3 0h1v1h-1zm-20 1h1v1h-1zm25 0h1v1h-1zm49 0h2v1h-2zm-450 1h1v1h-1zm9 0h1v1h-1zm12 0h1v1h-1zm273 0h1v1h-1zm11 0h1v1h-1zm37 0h1v1h-1zm-363 1h1v1h-1zm30 0h1v1h-1zm100 0h1v1h-1zm205 0h1v1h-1zm21 0h1v1h-1zm116 0h1v1h-1zm-410 1h1v1h-1zm69 0h1v1h-1zm2 0h1v1h-1zm4 0h1v1h-1zm282 0h1v1h-1zm-409 1h1v1h-1zm51 0h1v1h-1zm12 0h1v1h-1zm340 0h1v1h-1zm-86 1h1v1h-1zm9 0h1v1h-1zm23 0h1v1h-1zm46 0h1v1h-1zm2 0h1v1h-1zm-350 1h1v1h-1zm5 0h1v1h-1zm77 0h1v1h-1zm219 0h1v1h-1zm31 0h1v1h-1zm58 0h1v1h-1zm7 0h1v1h-1zm23 0h1v1h-1zm-412 1h1v1h-1zm49 0h1v1h-1zm31 0h1v1h-1zm206 0h1v1h-1zm41 0h1v1h-1zm-327 1h1v1h-1zm80 0h1v1h-1zm230 0h1v1h-1zm31 0h1v1h-1zm12 0h1v1h-1zm-314 1h1v1h-1zm292 0h1v1h-1zm18 0h1v1h-1zm17 0h1v1h-1zm7 0h1v1h-1zm11 0h1v1h-1zm9 0h1v1h-1zm-383 1h1v1h-1zm11 0h1v1h-1zm12 0h1v1h-1zm14 0h1v1h-1zm323 0h1v1h-1zm-404 1h1v1h-1zm2 0h1v1h-1zm51 0h1v1h-1zm34 0h1v1h-1zm5 0h1v1h-1zm226 0h1v1h-1zm51 0h1v1h-1zm60 0h1v1h-1zm9 0h1v1h-1zm-461 1h1v1h-1zm81 0h1v1h-1zm23 0h1v1h-1zm239 0h1v1h-1zm-322 1h1v1h-1zm38 0h1v1h-1zm29 0h1v1h-1zm252 0h1v1h-1zm60 0h1v1h-1zm-368 1h1v1h-1zm71 0h1v1h-1zm295 0h1v1h-1zm58 0h1v1h-1zm-401 1h1v1h-1zm6 0h1v1h-1zm397 0h1v1h-1zm-415 1h1v1h-1zm332 0h1v1h-1zm-313 2h1v1h-1zm14 0h1v1h-1zm293 0h1v1h-1zm60 0h1v1h-1zm-386 1h1v1h-1zm8 0h1v1h-1zm5 0h1v1h-1zm17 0h1v1h-1zm-20 2h1v1h-1zm3 1h1v1h-1zm-8 1h1v1h-1zm7 0h1v1h-1zm10 0h1v1h-1zm-13 2h1v1h-1zm-38 1h1v1h-1zm47 3h1v1h-1zm-7 8h1v1h-1zm273 15h1v1h-1zm24 11h1v1h-1zm-35 8h1v1h-1zm-2 5h1v1h-1zm-1 1h1v1h-1zm3 0h1v1h-1zm-10 2h1v1h-1zm6 1h1v1h-1zm15 2h1v1h-1zm32 4h1v1h-1zm-52 2h1v1h-1zm4 1h1v1h-1zm-6 3h1v1h-1zm29 0h1v1h-1zm0 1h1v1h-1zm-22 1h1v1h-1zm39 0h1v1h-1zm19 0h1v1h-1zm-25 1h1v1h-1zm-14 2h1v1h-1zm123 1h1v1h-1zm-145 2h1v1h-1zm6 0h1v1h-1zm23 0h2v1h-2zm6 0h1v1h-1zm-349 1h1v1h-1zm120 0h1v1h-1zm11 0h1v1h-1zm-132 1h1v1h-1zm41 0h1v1h-1zm421 0h1v1h-1zm-430 1h1v1h-1zm10 0h1v1h-1zm81 0h1v1h-1zm7 0h1v1h-1zm187 0h1v1h-1zm-311 1h1v1h-1zm39 0h2v1h-2zm55 0h1v1h-1zm15 0h1v1h-1zm216 0h1v1h-1zm50 0h1v1h-1zm14 0h1v1h-1zm7 0h1v1h-1zm11 0h1v1h-1zm-409 1h1v1h-1zm12 0h1v1h-1zm343 0h1v1h-1zm53 0h1v1h-1zm-396 1h1v1h-1zm16 0h1v1h-1zm21 0h1v1h-1zm22 0h1v1h-1zm339 0h1v1h-1zm44 0h1v1h-1zm9 0h1v1h-1zm9 0h1v1h-1zm-394 1h1v1h-1zm18 0h2v1h-2zm8 0h1v1h-1zm224 0h1v1h-1zm24 0h1v1h-1zm3 0h1v1h-1zm38 0h1v1h-1zm20 0h1v1h-1zm46 0h1v1h-1zm-454 1h1v1h-1zm323 0h1v1h-1zm26 0h1v1h-1zm-291 1h1v1h-1zm351 0h1v1h-1zm23 0h1v1h-1zm-430 1h1v1h-1zm316 0h1v1h-1zm17 0h1v1h-1zm23 0h1v1h-1zm25 0h2v1h-2zm-381 1h1v1h-1zm29 0h1v1h-1zm2 0h1v1h-1zm13 0h1v1h-1zm41 0h1v1h-1zm255 0h1v1h-1zm-312 1h1v1h-1zm6 0h1v1h-1zm19 0h1v1h-1zm309 0h1v1h-1zm36 0h1v1h-1zm5 0h1v1h-1zm6 0h1v1h-1zm4 0h1v1h-1zm-422 1h1v1h-1zm116 0h1v1h-1zm7 0h1v1h-1zm17 0h1v1h-1zm285 0h1v1h-1zm10 0h1v1h-1zm9 0h1v1h-1zm7 0h1v1h-1zm23 0h1v1h-1zm-471 1h2v1h-2zm329 0h1v1h-1zm13 0h1v1h-1zm63 0h1v1h-1zm5 0h1v1h-1zm46 0h1v1h-1zm-463 1h1v1h-1zm4 0h1v1h-1zm5 0h1v1h-1zm39 0h1v1h-1zm30 0h1v1h-1zm10 0h1v1h-1zm55 0h1v1h-1zm-124 1h1v1h-1zm65 0h1v1h-1zm3 0h1v1h-1zm11 0h1v1h-1zm-78 1h2v1h-2zm30 0h1v1h-1zm59 0h1v1h-1zm-92 1h1v1h-1zm56 0h1v1h-1zm-60 1h1v1h-1zm67 0h1v1h-1zm-66 1h1v1h-1zm40 0h1v1h-1zm13 0h1v1h-1zm2 0h1v1h-1zm337 0h1v1h-1zm-334 1h1v1h-1zm-7 1h1v1h-1zm2 1h1v1h-1zm3 1h1v1h-1zm-8 2h1v1h-1zm-4 1h1v1h-1z"/><path fill="#0050ff" d="m319 28h1v1h-1zm-19 5h1v1h-1zm19 7h1v1h-1zm-19 22h1v1h-1zm22 5h1v1h-1zm-17 8h1v1h-1zm-4 1h1v1h-1zm4 8h1v1h-1zm14 0h1v1h-1zm20 1h1v1h-1zm13 5h1v1h-1zm-47 4h1v1h-1zm1 1h1v1h-1zm2 0h1v1h-1zm14 0h1v1h-1zm-8 1h1v1h-1zm1 1h1v1h-1zm-9 2h1v1h-1zm50 0h1v1h-1zm-46 3h1v1h-1zm-300 1h1v1h-1zm308 0h1v1h-1zm-313 1h1v1h-1zm3 0h1v1h-1zm103 1h1v1h-1zm36 1h1v1h-1zm201 0h1v1h-1zm-343 1h1v1h-1zm55 0h1v1h-1zm270 0h1v1h-1zm9 0h1v1h-1zm6 0h1v1h-1zm-242 1h1v1h-1zm44 0h1v1h-1zm156 0h1v1h-1zm7 0h1v1h-1zm-295 1h1v1h-1zm105 0h1v1h-1zm53 0h1v1h-1zm222 0h1v1h-1zm-379 1h1v1h-1zm14 0h1v1h-1zm21 0h1v1h-1zm71 0h1v1h-1zm7 0h2v1h-2zm198 0h1v1h-1zm38 0h1v1h-1zm-328 1h1v1h-1zm131 0h1v1h-1zm205 0h1v1h-1zm-336 1h1v1h-1zm34 0h1v1h-1zm58 0h1v1h-1zm200 0h1v1h-1zm54 0h1v1h-1zm82 0h1v1h-1zm-386 1h1v1h-1zm20 0h1v1h-1zm39 0h1v1h-1zm167 0h1v1h-1zm141 0h1v1h-1zm5 0h1v1h-1zm-312 1h1v1h-1zm35 0h1v1h-1zm4 0h1v1h-1zm141 0h1v1h-1zm16 0h1v1h-1zm27 0h1v1h-1zm63 0h1v1h-1zm29 0h1v1h-1zm7 0h1v1h-1zm10 0h1v1h-1zm8 0h1v1h-1zm-430 1h1v1h-1zm15 0h1v1h-1zm4 0h1v1h-1zm28 0h1v1h-1zm43 0h1v1h-1zm3 0h1v1h-1zm33 0h1v1h-1zm203 0h1v1h-1zm-267 1h1v1h-1zm31 0h1v1h-1zm27 0h1v1h-1zm247 0h1v1h-1zm-282 1h1v1h-1zm40 0h1v1h-1zm-53 1h1v1h-1zm16 0h1v1h-1zm228 0h2v1h-2zm95 0h1v1h-1zm-453 1h1v1h-1zm3 0h1v1h-1zm23 0h1v1h-1zm25 0h1v1h-1zm2 1h1v1h-1zm16 0h1v1h-1zm95 0h1v1h-1zm2 0h1v1h-1zm-94 1h1v1h-1zm3 0h1v1h-1zm9 0h1v1h-1zm30 0h1v1h-1zm34 0h1v1h-1zm7 0h1v1h-1zm2 0h1v1h-1zm-107 1h1v1h-1zm15 0h1v1h-1zm6 0h1v1h-1zm8 0h1v1h-1zm7 0h1v1h-1zm314 0h1v1h-1zm-390 1h1v1h-1zm135 0h1v1h-1zm-85 1h1v1h-1zm-50 1h1v1h-1zm24 0h1v1h-1zm55 0h1v1h-1zm-74 2h1v1h-1zm47 0h1v1h-1zm242 7h1v1h-1zm8 6h1v1h-1zm41 12h1v1h-1zm-48 1h1v1h-1zm-171 1h1v1h-1zm185 2h1v1h-1zm13 1h1v1h-1zm-1 1h1v1h-1zm15 0h1v1h-1zm-36 1h1v1h-1zm16 0h1v1h-1zm24 0h1v1h-1zm-226 2h1v1h-1zm182 0h1v1h-1zm38 0h1v1h-1zm-225 1h1v1h-1zm208 0h1v1h-1zm23 0h1v1h-1zm32 0h1v1h-1zm-384 1h1v1h-1zm314 0h1v1h-1zm16 0h1v1h-1zm35 0h1v1h-1zm10 0h1v1h-1zm-245 1h1v1h-1zm-123 1h1v1h-1zm108 0h1v1h-1zm206 0h1v1h-1zm14 0h1v1h-1zm-332 1h1v1h-1zm118 0h1v1h-1zm236 0h1v1h-1zm15 0h1v1h-1zm7 0h1v1h-1zm-21 1h1v1h-1zm15 0h1v1h-1zm68 0h1v1h-1zm13 0h1v1h-1zm-420 1h1v1h-1zm6 0h1v1h-1zm61 0h1v1h-1zm2 0h2v1h-2zm228 0h1v1h-1zm67 0h1v1h-1zm-259 1h1v1h-1zm256 0h1v1h-1zm57 0h1v1h-1zm-450 1h1v1h-1zm4 0h1v1h-1zm38 0h1v1h-1zm97 0h1v1h-1zm231 0h1v1h-1zm69 0h1v1h-1zm-441 1h1v1h-1zm2 0h1v1h-1zm6 0h1v1h-1zm13 0h1v1h-1zm63 0h1v1h-1zm57 0h1v1h-1zm-138 1h1v1h-1zm45 0h1v1h-1zm28 0h1v1h-1zm263 0h1v1h-1zm49 0h1v1h-1zm19 0h1v1h-1zm6 0h1v1h-1zm56 0h1v1h-1zm5 0h1v1h-1zm-464 1h1v1h-1zm31 0h1v1h-1zm17 0h1v1h-1zm39 0h1v1h-1zm19 0h2v1h-2zm-87 1h1v1h-1zm6 0h1v1h-1zm63 0h1v1h-1zm17 0h1v1h-1zm10 0h1v1h-1zm273 0h1v1h-1zm25 0h1v1h-1zm-379 1h1v1h-1zm63 0h1v1h-1zm248 0h1v1h-1zm-333 1h1v1h-1zm22 0h1v1h-1zm35 0h1v1h-1zm-25 1h1v1h-1zm17 0h2v1h-2zm-56 1h1v1h-1zm33 0h1v1h-1zm19 0h1v1h-1zm6 0h1v1h-1zm301 0h1v1h-1zm5 0h1v1h-1zm15 4h1v1h-1zm-78 14h1v1h-1zm18 0h1v1h-1zm-14 12h1v1h-1zm-2 10h1v1h-1zm-15 1h1v1h-1zm8 1h1v1h-1zm11 4h1v1h-1zm48 1h1v1h-1zm9 0h1v1h-1zm-60 2h1v1h-1zm14 0h1v1h-1zm-23 1h1v1h-1zm10 0h1v1h-1zm-208 5h1v1h-1zm16 1h1v1h-1zm189 1h1v1h-1zm-203 1h1v1h-1zm206 0h1v1h-1zm-199 1h1v1h-1zm235 0h1v1h-1zm-338 1h1v1h-1zm78 0h1v1h-1zm225 1h1v1h-1zm-192 1h1v1h-1zm-133 1h2v1h-2zm133 0h1v1h-1zm199 0h1v1h-1zm-332 1h1v1h-1zm74 0h1v1h-1zm17 0h1v1h-1zm11 0h1v1h-1zm2 1h1v1h-1zm21 0h1v1h-1zm208 0h1v1h-1zm26 0h1v1h-1zm-238 1h1v1h-1zm280 0h1v1h-1zm-303 1h1v1h-1zm225 0h1v1h-1zm14 0h2v1h-2zm3 0h1v1h-1zm11 0h1v1h-1zm10 0h1v1h-1zm-278 1h1v1h-1zm18 0h1v1h-1zm32 0h1v1h-1zm201 0h1v1h-1zm26 0h1v1h-1zm25 0h1v1h-1zm-289 1h1v1h-1zm241 0h1v1h-1zm9 0h1v1h-1zm39 0h1v1h-1zm-312 1h1v1h-1zm35 0h1v1h-1zm8 0h1v1h-1zm334 0h1v1h-1zm-419 1h1v1h-1zm9 0h1v1h-1zm69 0h1v1h-1zm231 0h1v1h-1zm3 0h1v1h-1zm50 0h1v1h-1zm17 0h1v1h-1zm44 0h1v1h-1zm-449 1h1v1h-1zm29 0h1v1h-1zm37 0h1v1h-1zm37 0h1v1h-1zm31 0h1v1h-1zm259 0h1v1h-1zm5 0h1v1h-1zm42 0h1v1h-1zm-440 1h1v1h-1zm15 0h1v1h-1zm14 0h1v1h-1zm2 0h1v1h-1zm70 0h1v1h-1zm205 0h1v1h-1zm7 0h1v1h-1zm34 0h1v1h-1zm52 0h1v1h-1zm-328 1h1v1h-1zm11 0h1v1h-1zm226 0h1v1h-1zm136 0h1v1h-1zm-419 1h2v1h-2zm27 0h1v1h-1zm13 0h1v1h-1zm9 0h1v1h-1zm7 0h1v1h-1zm27 0h1v1h-1zm5 0h1v1h-1zm209 0h1v1h-1zm4 0h2v1h-2zm98 0h1v1h-1zm7 0h1v1h-1zm-310 1h1v1h-1zm245 0h1v1h-1zm13 0h1v1h-1zm-379 1h1v1h-1zm10 0h1v1h-1zm6 0h1v1h-1zm4 0h1v1h-1zm104 0h1v1h-1zm245 0h1v1h-1zm48 0h1v1h-1zm30 0h1v1h-1zm-451 1h1v1h-1zm49 0h1v1h-1zm21 0h1v1h-1zm3 0h1v1h-1zm10 0h1v1h-1zm237 0h1v1h-1zm19 0h1v1h-1zm99 0h1v1h-1zm15 0h1v1h-1zm-335 1h1v1h-1zm230 0h1v1h-1zm31 0h1v1h-1zm-379 1h1v1h-1zm8 0h1v1h-1zm54 0h1v1h-1zm316 0h1v1h-1zm91 0h1v1h-1zm8 0h1v1h-1zm-367 1h1v1h-1zm237 0h1v1h-1zm6 0h1v1h-1zm80 0h1v1h-1zm-429 1h1v1h-1zm4 0h1v1h-1zm87 0h1v1h-1zm293 0h1v1h-1zm19 0h1v1h-1zm7 0h1v1h-1zm11 0h1v1h-1zm-413 1h1v1h-1zm2 0h1v1h-1zm14 0h1v1h-1zm22 0h1v1h-1zm51 0h1v1h-1zm263 0h1v1h-1zm39 0h2v1h-2zm32 0h1v1h-1zm-407 1h1v1h-1zm6 0h1v1h-1zm10 0h1v1h-1zm29 0h1v1h-1zm17 0h2v1h-2zm387 0h1v1h-1zm-457 1h1v1h-1zm10 0h1v1h-1zm5 0h1v1h-1zm18 0h1v1h-1zm27 0h1v1h-1zm346 0h1v1h-1zm44 0h1v1h-1zm-448 1h1v1h-1zm-12 1h1v1h-1zm406 1h1v1h-1zm-358 1h1v1h-1zm-36 1h1v1h-1zm38 0h1v1h-1zm10 2h1v1h-1zm354 0h1v1h-1zm-87 2h1v1h-1zm-287 2h1v1h-1zm262 2h1v1h-1zm8 3h1v1h-1zm-8 1h1v1h-1zm8 1h1v1h-1zm-7 1h1v1h-1zm10 1h1v1h-1zm-16 3h1v1h-1zm10 3h1v1h-1zm-186 1h1v1h-1zm181 2h1v1h-1zm25 0h1v1h-1zm-26 1h1v1h-1zm-179 2h1v1h-1zm186 0h1v1h-1zm2 0h1v1h-1zm-13 1h1v1h-1zm5 0h1v1h-1zm-186 2h1v1h-1zm308 0h1v1h-1zm6 0h1v1h-1zm-112 2h1v1h-1zm17 0h1v1h-1zm-5 1h1v1h-1zm80 0h1v1h-1zm18 0h1v1h-1zm-319 1h1v1h-1zm249 1h1v1h-1zm25 0h1v1h-1zm-268 1h1v1h-1zm222 0h1v1h-1zm10 0h1v1h-1zm-38 1h1v1h-1zm2 0h1v1h-1zm20 0h1v1h-1zm94 0h1v1h-1zm40 0h1v1h-1zm-334 1h1v1h-1zm165 0h1v1h-1zm9 0h1v1h-1zm21 0h1v1h-1zm29 0h1v1h-1zm55 0h1v1h-1zm18 0h1v1h-1zm10 0h1v1h-1zm-438 1h1v1h-1zm35 0h1v1h-1zm53 0h1v1h-1zm280 0h1v1h-1zm-292 1h1v1h-1zm7 0h1v1h-1zm6 0h1v1h-1zm42 0h1v1h-1zm240 0h1v1h-1zm-381 1h1v1h-1zm101 0h1v1h-1zm6 0h1v1h-1zm13 0h1v1h-1zm2 0h1v1h-1zm187 0h1v1h-1zm60 0h1v1h-1zm31 0h1v1h-1zm9 0h1v1h-1zm10 0h1v1h-1zm21 0h1v1h-1zm-430 1h1v1h-1zm10 0h1v1h-1zm76 0h1v1h-1zm224 0h1v1h-1zm64 0h1v1h-1zm49 0h1v1h-1zm17 0h1v1h-1zm-428 1h1v1h-1zm21 0h1v1h-1zm2 0h1v1h-1zm46 0h1v1h-1zm8 0h1v1h-1zm38 0h1v1h-1zm6 0h2v1h-2zm252 0h1v1h-1zm73 0h1v1h-1zm9 0h1v1h-1zm-470 1h1v1h-1zm9 0h1v1h-1zm3 0h1v1h-1zm12 0h1v1h-1zm6 0h1v1h-1zm59 0h1v1h-1zm49 0h1v1h-1zm173 0h1v1h-1zm8 0h1v1h-1zm58 0h1v1h-1zm8 0h1v1h-1zm-290 1h1v1h-1zm4 0h1v1h-1zm320 0h1v1h-1zm-346 1h1v1h-1zm6 0h1v1h-1zm7 0h1v1h-1zm33 0h1v1h-1zm11 0h1v1h-1zm4 0h1v1h-1zm225 0h1v1h-1zm60 0h1v1h-1zm-400 1h1v1h-1zm43 0h1v1h-1zm7 0h1v1h-1zm248 0h1v1h-1zm134 0h1v1h-1zm-432 1h1v1h-1zm10 0h1v1h-1zm20 0h1v1h-1zm3 0h1v1h-1zm26 0h1v1h-1zm51 0h2v1h-2zm198 0h1v1h-1zm7 0h1v1h-1zm29 0h1v1h-1zm-312 1h1v1h-1zm279 0h1v1h-1zm4 0h1v1h-1zm68 0h1v1h-1zm-347 1h1v1h-1zm5 0h1v1h-1zm267 0h1v1h-1zm8 0h1v1h-1zm3 0h1v1h-1zm6 0h1v1h-1zm17 0h1v1h-1zm12 0h1v1h-1zm6 0h1v1h-1zm6 0h1v1h-1zm17 0h1v1h-1zm-403 1h1v1h-1zm40 0h1v1h-1zm12 0h1v1h-1zm69 0h1v1h-1zm303 0h1v1h-1zm17 0h1v1h-1zm9 0h1v1h-1zm3 0h1v1h-1zm10 0h1v1h-1zm-444 1h1v1h-1zm68 0h1v1h-1zm-45 1h1v1h-1zm41 0h1v1h-1zm17 0h1v1h-1zm8 0h1v1h-1zm29 0h2v1h-2zm208 0h1v1h-1zm54 0h1v1h-1zm36 0h1v1h-1zm-421 1h1v1h-1zm24 0h1v1h-1zm4 0h1v1h-1zm36 0h1v1h-1zm11 0h1v1h-1zm7 0h2v1h-2zm-94 1h1v1h-1zm63 0h1v1h-1zm38 0h1v1h-1zm5 0h1v1h-1zm351 0h1v1h-1zm-413 1h2v1h-2zm20 0h1v1h-1zm7 0h1v1h-1zm17 0h1v1h-1zm10 0h1v1h-1zm247 0h1v1h-1zm66 0h1v1h-1zm-404 1h1v1h-1zm27 0h1v1h-1zm4 0h1v1h-1zm41 0h1v1h-1zm19 0h1v1h-1zm-51 1h1v1h-1zm36 0h1v1h-1zm320 0h1v1h-1zm-388 1h1v1h-1zm3 0h1v1h-1zm12 0h1v1h-1zm25 0h1v1h-1zm14 0h1v1h-1zm341 0h1v1h-1zm-366 1h1v1h-1zm13 0h1v1h-1zm3 0h1v1h-1zm19 0h1v1h-1zm285 0h1v1h-1zm36 0h1v1h-1zm-357 1h1v1h-1zm5 0h1v1h-1zm-14 1h1v1h-1zm6 0h1v1h-1zm7 0h1v1h-1zm38 0h1v1h-1zm-31 1h1v1h-1zm314 0h1v1h-1zm-326 1h1v1h-1zm13 0h1v1h-1zm-8 2h1v1h-1zm3 2h1v1h-1zm-4 1h1v1h-1zm3 1h1v1h-1zm10 5h1v1h-1zm391 7h1v1h-1zm-141 4h1v1h-1zm-6 4h1v1h-1zm1 20h1v1h-1zm8 5h1v1h-1zm3 7h1v1h-1zm-9 1h1v1h-1zm5 2h1v1h-1zm19 3h1v1h-1zm-11 1h1v1h-1zm26 0h1v1h-1zm-44 3h1v1h-1zm8 0h1v1h-1zm2 4h1v1h-1zm26 2h1v1h-1zm38 0h1v1h-1zm-40 1h1v1h-1zm4 0h1v1h-1zm8 2h1v1h-1zm-21 1h1v1h-1zm24 0h1v1h-1zm9 0h1v1h-1zm-368 1h1v1h-1zm123 0h1v1h-1zm4 1h1v1h-1zm4 0h1v1h-1zm231 0h1v1h-1zm-360 1h1v1h-1zm344 0h1v1h-1zm13 0h1v1h-1zm-322 1h1v1h-1zm3 0h2v1h-2zm79 0h1v1h-1zm25 0h1v1h-1zm2 0h1v1h-1zm200 0h1v1h-1zm30 0h1v1h-1zm70 0h1v1h-1zm-315 1h1v1h-1zm11 0h1v1h-1zm179 0h1v1h-1zm66 0h1v1h-1zm76 0h1v1h-1zm-457 1h1v1h-1zm32 0h1v1h-1zm6 0h2v1h-2zm51 0h1v1h-1zm221 0h1v1h-1zm53 0h1v1h-1zm19 0h1v1h-1zm63 0h1v1h-1zm-413 1h1v1h-1zm61 0h1v1h-1zm267 0h1v1h-1zm11 0h1v1h-1zm38 0h1v1h-1zm3 0h1v1h-1zm-412 1h1v1h-1zm30 0h1v1h-1zm7 0h1v1h-1zm9 0h1v1h-1zm90 0h1v1h-1zm267 0h1v1h-1zm43 0h1v1h-1zm-440 1h1v1h-1zm5 0h1v1h-1zm2 0h1v1h-1zm40 0h1v1h-1zm34 0h1v1h-1zm13 0h1v1h-1zm6 0h1v1h-1zm38 0h1v1h-1zm174 0h1v1h-1zm44 0h2v1h-2zm38 0h1v1h-1zm4 0h1v1h-1zm-397 1h1v1h-1zm19 0h1v1h-1zm305 0h1v1h-1zm4 0h1v1h-1zm43 0h1v1h-1zm-254 1h1v1h-1zm209 0h1v1h-1zm-335 1h1v1h-1zm26 0h1v1h-1zm12 0h1v1h-1zm23 0h1v1h-1zm285 0h1v1h-1zm9 0h1v1h-1zm32 0h2v1h-2zm42 0h1v1h-1zm5 0h1v1h-1zm-307 1h2v1h-2zm214 0h1v1h-1zm18 0h1v1h-1zm3 0h1v1h-1zm17 0h1v1h-1zm21 0h1v1h-1zm24 0h1v1h-1zm-369 1h1v1h-1zm6 0h1v1h-1zm51 0h1v1h-1zm15 0h1v1h-1zm14 0h1v1h-1zm192 0h1v1h-1zm68 0h1v1h-1zm20 0h1v1h-1zm40 0h1v1h-1zm5 0h1v1h-1zm-440 1h1v1h-1zm8 0h1v1h-1zm72 0h1v1h-1zm278 0h1v1h-1zm83 0h1v1h-1zm-465 1h1v1h-1zm29 0h1v1h-1zm68 0h1v1h-1zm39 0h1v1h-1zm265 0h1v1h-1zm23 0h1v1h-1zm27 0h1v1h-1zm-357 1h1v1h-1zm300 0h1v1h-1zm-348 1h1v1h-1zm15 0h1v1h-1zm5 0h1v1h-1zm14 0h1v1h-1zm3 0h1v1h-1zm-38 1h1v1h-1zm36 0h1v1h-1zm5 0h1v1h-1zm8 0h1v1h-1zm264 0h1v1h-1zm-339 1h1v1h-1zm29 0h1v1h-1zm22 0h1v1h-1zm14 0h1v1h-1zm293 0h1v1h-1zm-324 1h1v1h-1zm341 0h1v1h-1zm41 1h1v1h-1zm-383 2h1v1h-1zm4 0h1v1h-1zm2 2h1v1h-1zm-1 1h1v1h-1zm-8 2h1v1h-1z"/><path fill="#0060ff" d="m336 66h1v1h-1zm-36 10h1v1h-1zm11 0h1v1h-1zm-5 5h1v1h-1zm15 0h1v1h-1zm-7 4h1v1h-1zm-9 1h2v1h-2zm-6 5h1v1h-1zm3 1h1v1h-1zm24 2h1v1h-1zm-10 3h1v1h-1zm-293 1h1v1h-1zm286 0h1v1h-1zm12 0h1v1h-1zm-9 1h1v1h-1zm30 0h2v1h-2zm-319 1h1v1h-1zm288 0h1v1h-1zm-308 1h1v1h-1zm333 0h1v1h-1zm29 1h1v1h-1zm-363 1h1v1h-1zm354 0h1v1h-1zm-44 2h1v1h-1zm26 0h1v1h-1zm9 0h1v1h-1zm-43 1h1v1h-1zm-304 1h1v1h-1zm103 0h1v1h-1zm37 0h1v1h-1zm163 0h1v1h-1zm-276 1h1v1h-1zm97 0h1v1h-1zm12 0h1v1h-1zm235 0h1v1h-1zm30 0h1v1h-1zm-389 1h1v1h-1zm106 0h1v1h-1zm232 0h1v1h-1zm-342 1h1v1h-1zm25 0h2v1h-2zm24 0h1v1h-1zm53 0h1v1h-1zm45 1h1v1h-1zm167 0h1v1h-1zm5 0h1v1h-1zm-312 1h1v1h-1zm21 0h1v1h-1zm63 0h1v1h-1zm24 0h1v1h-1zm216 0h2v1h-2zm-311 1h1v1h-1zm22 0h1v1h-1zm104 0h1v1h-1zm12 0h1v1h-1zm179 0h1v1h-1zm10 0h1v1h-1zm25 0h1v1h-1zm99 0h1v1h-1zm-464 1h1v1h-1zm49 0h1v1h-1zm23 0h2v1h-2zm23 0h1v1h-1zm2 0h1v1h-1zm22 0h1v1h-1zm3 0h1v1h-1zm12 0h1v1h-1zm3 0h1v1h-1zm230 0h1v1h-1zm46 0h1v1h-1zm-411 1h1v1h-1zm57 0h1v1h-1zm2 0h1v1h-1zm31 0h1v1h-1zm34 0h1v1h-1zm30 0h1v1h-1zm140 0h1v1h-1zm34 0h1v1h-1zm7 0h1v1h-1zm126 0h1v1h-1zm-449 1h1v1h-1zm40 0h1v1h-1zm18 0h1v1h-1zm59 0h1v1h-1zm180 0h1v1h-1zm-303 1h1v1h-1zm55 0h1v1h-1zm36 0h1v1h-1zm55 0h1v1h-1zm-166 1h1v1h-1zm375 0h1v1h-1zm28 0h1v1h-1zm-347 1h1v1h-1zm251 0h1v1h-1zm68 0h1v1h-1zm-365 1h1v1h-1zm14 1h1v1h-1zm34 0h1v1h-1zm5 0h1v1h-1zm17 0h1v1h-1zm10 0h1v1h-1zm63 0h1v1h-1zm5 0h1v1h-1zm-144 1h1v1h-1zm19 0h1v1h-1zm10 1h1v1h-1zm10 0h1v1h-1zm3 0h1v1h-1zm8 0h1v1h-1zm3 0h1v1h-1zm-48 1h1v1h-1zm28 0h1v1h-1zm38 1h1v1h-1zm67 0h1v1h-1zm-110 1h1v1h-1zm265 9h1v1h-1zm-4 1h1v1h-1zm17 4h1v1h-1zm-9 3h1v1h-1zm8 1h1v1h-1zm14 1h1v1h-1zm1 1h1v1h-1zm5 1h1v1h-1zm-31 2h2v1h-2zm10 4h1v1h-1zm4 0h1v1h-1zm-3 1h1v1h-1zm3 1h1v1h-1zm30 0h1v1h-1zm-219 1h1v1h-1zm188 0h1v1h-1zm6 0h1v1h-1zm27 1h1v1h-1zm44 0h1v1h-1zm-61 1h1v1h-1zm15 0h1v1h-1zm-25 1h1v1h-1zm49 0h1v1h-1zm-42 1h1v1h-1zm15 0h1v1h-1zm3 0h1v1h-1zm35 1h1v1h-1zm-260 1h1v1h-1zm3 0h1v1h-1zm9 0h1v1h-1zm190 0h1v1h-1zm36 0h1v1h-1zm-226 1h1v1h-1zm166 0h1v1h-1zm-175 1h1v1h-1zm262 0h1v1h-1zm-50 1h1v1h-1zm6 0h1v1h-1zm31 0h1v1h-1zm-254 1h1v1h-1zm239 1h1v1h-1zm23 0h1v1h-1zm-350 1h1v1h-1zm6 0h1v1h-1zm64 0h1v1h-1zm244 0h1v1h-1zm-352 1h1v1h-1zm32 0h1v1h-1zm59 0h1v1h-1zm7 0h1v1h-1zm8 0h1v1h-1zm25 0h1v1h-1zm238 0h1v1h-1zm90 0h1v1h-1zm-442 1h1v1h-1zm13 0h1v1h-1zm18 0h1v1h-1zm3 0h1v1h-1zm23 0h1v1h-1zm3 0h1v1h-1zm34 0h1v1h-1zm6 0h1v1h-1zm290 0h1v1h-1zm32 1h1v1h-1zm11 0h1v1h-1zm20 0h1v1h-1zm-453 1h1v1h-1zm436 0h1v1h-1zm14 0h1v1h-1zm-453 1h1v1h-1zm54 0h1v1h-1zm17 0h1v1h-1zm18 0h1v1h-1zm-66 1h1v1h-1zm53 0h1v1h-1zm25 0h1v1h-1zm241 0h1v1h-1zm64 0h1v1h-1zm4 0h1v1h-1zm-327 1h2v1h-2zm311 0h1v1h-1zm-398 1h1v1h-1zm42 0h1v1h-1zm411 0h1v1h-1zm-444 1h1v1h-1zm41 0h1v1h-1zm11 0h1v1h-1zm306 0h1v1h-1zm5 0h1v1h-1zm40 0h1v1h-1zm-363 1h1v1h-1zm20 0h1v1h-1zm-18 3h1v1h-1zm344 2h1v1h-1zm-94 28h1v1h-1zm2 3h1v1h-1zm0 5h1v1h-1zm-3 3h1v1h-1zm24 0h1v1h-1zm-18 4h1v1h-1zm-10 1h1v1h-1zm11 2h1v1h-1zm6 1h1v1h-1zm-17 1h1v1h-1zm3 0h1v1h-1zm-188 3h1v1h-1zm12 0h1v1h-1zm-112 2h1v1h-1zm86 0h1v1h-1zm16 0h2v1h-2zm201 0h1v1h-1zm14 1h1v1h-1zm-26 1h1v1h-1zm81 0h1v1h-1zm-259 1h2v1h-2zm188 0h1v1h-1zm19 0h1v1h-1zm-237 1h1v1h-1zm22 0h1v1h-1zm187 0h1v1h-1zm-190 1h1v1h-1zm13 0h1v1h-1zm191 0h1v1h-1zm17 0h1v1h-1zm-346 1h1v1h-1zm102 0h1v1h-1zm3 0h1v1h-1zm23 0h1v1h-1zm13 0h1v1h-1zm218 0h1v1h-1zm10 0h1v1h-1zm-368 2h1v1h-1zm101 0h1v1h-1zm23 0h1v1h-1zm2 0h1v1h-1zm14 0h1v1h-1zm211 0h1v1h-1zm8 0h2v1h-2zm35 0h1v1h-1zm-277 1h2v1h-2zm205 0h1v1h-1zm140 0h1v1h-1zm-461 1h1v1h-1zm2 0h1v1h-1zm332 0h1v1h-1zm45 0h1v1h-1zm2 0h1v1h-1zm-273 1h1v1h-1zm11 0h1v1h-1zm221 0h1v1h-1zm48 0h1v1h-1zm69 0h1v1h-1zm-454 1h1v1h-1zm70 0h1v1h-1zm39 0h1v1h-1zm194 0h1v1h-1zm36 0h1v1h-1zm6 0h1v1h-1zm2 0h1v1h-1zm21 0h1v1h-1zm11 0h1v1h-1zm28 0h1v1h-1zm-316 1h1v1h-1zm15 0h2v1h-2zm12 0h1v1h-1zm228 0h2v1h-2zm66 0h1v1h-1zm-298 1h1v1h-1zm3 0h1v1h-1zm289 0h1v1h-1zm24 0h1v1h-1zm-418 1h1v1h-1zm71 0h1v1h-1zm4 0h1v1h-1zm51 0h1v1h-1zm167 0h1v1h-1zm5 0h1v1h-1zm82 0h2v1h-2zm25 0h1v1h-1zm26 0h1v1h-1zm3 0h1v1h-1zm8 0h2v1h-2zm18 0h1v1h-1zm-475 1h1v1h-1zm70 0h1v1h-1zm3 0h1v1h-1zm7 0h1v1h-1zm63 0h1v1h-1zm260 0h1v1h-1zm10 0h1v1h-1zm53 0h1v1h-1zm6 0h1v1h-1zm-382 1h1v1h-1zm15 0h1v1h-1zm37 0h1v1h-1zm334 0h1v1h-1zm-464 1h1v1h-1zm26 0h1v1h-1zm31 0h1v1h-1zm34 0h1v1h-1zm27 0h1v1h-1zm176 0h1v1h-1zm-266 1h1v1h-1zm16 0h1v1h-1zm16 0h1v1h-1zm29 0h1v1h-1zm41 0h1v1h-1zm187 0h1v1h-1zm31 0h1v1h-1zm0 1h1v1h-1zm41 0h1v1h-1zm5 0h1v1h-1zm-268 1h1v1h-1zm292 0h1v1h-1zm7 0h1v1h-1zm4 0h1v1h-1zm8 0h1v1h-1zm-355 1h1v1h-1zm19 0h1v1h-1zm220 0h1v1h-1zm12 0h1v1h-1zm3 0h1v1h-1zm114 0h1v1h-1zm-320 1h1v1h-1zm246 0h1v1h-1zm13 0h1v1h-1zm63 0h1v1h-1zm-432 1h1v1h-1zm17 0h1v1h-1zm287 0h1v1h-1zm26 0h1v1h-1zm41 0h1v1h-1zm4 1h1v1h-1zm-330 1h1v1h-1zm311 0h1v1h-1zm35 0h1v1h-1zm-412 1h1v1h-1zm5 0h1v1h-1zm2 0h1v1h-1zm3 0h1v1h-1zm19 0h1v1h-1zm31 0h1v1h-1zm387 0h1v1h-1zm-442 1h1v1h-1zm58 0h1v1h-1zm5 0h1v1h-1zm-19 1h2v1h-2zm11 0h1v1h-1zm-48 1h1v1h-1zm27 0h1v1h-1zm12 0h1v1h-1zm396 0h1v1h-1zm-398 1h1v1h-1zm6 1h1v1h-1zm389 0h1v1h-1zm-434 1h1v1h-1zm40 0h2v1h-2zm-41 1h1v1h-1zm41 0h1v1h-1zm6 0h2v1h-2zm320 0h1v1h-1zm-72 10h1v1h-1zm-9 1h1v1h-1zm4 0h1v1h-1zm18 1h1v1h-1zm-8 1h1v1h-1zm-11 1h1v1h-1zm11 1h1v1h-1zm17 4h1v1h-1zm-208 2h1v1h-1zm5 3h1v1h-1zm191 0h1v1h-1zm27 0h1v1h-1zm85 0h1v1h-1zm-118 1h1v1h-1zm-2 1h1v1h-1zm-192 1h1v1h-1zm10 0h1v1h-1zm211 1h1v1h-1zm14 0h1v1h-1zm-24 1h1v1h-1zm-212 1h1v1h-1zm-5 1h1v1h-1zm7 1h1v1h-1zm182 0h1v1h-1zm-203 1h1v1h-1zm17 0h2v1h-2zm215 0h1v1h-1zm46 0h1v1h-1zm36 0h1v1h-1zm-299 1h1v1h-1zm3 0h1v1h-1zm207 0h1v1h-1zm103 0h1v1h-1zm-323 1h1v1h-1zm12 0h1v1h-1zm-30 1h1v1h-1zm15 0h1v1h-1zm237 0h2v1h-2zm14 0h1v1h-1zm76 0h1v1h-1zm-428 1h1v1h-1zm99 0h1v1h-1zm6 0h1v1h-1zm230 0h1v1h-1zm3 0h1v1h-1zm4 0h1v1h-1zm35 0h1v1h-1zm-273 1h1v1h-1zm8 0h1v1h-1zm225 0h1v1h-1zm6 0h1v1h-1zm79 0h1v1h-1zm-82 1h1v1h-1zm55 0h1v1h-1zm-396 1h1v1h-1zm20 0h1v1h-1zm321 0h1v1h-1zm42 0h1v1h-1zm13 0h1v1h-1zm43 0h1v1h-1zm19 0h1v1h-1zm-413 1h1v1h-1zm68 0h1v1h-1zm207 0h1v1h-1zm50 0h1v1h-1zm34 0h1v1h-1zm10 0h1v1h-1zm6 0h1v1h-1zm37 0h1v1h-1zm-458 1h1v1h-1zm37 0h2v1h-2zm41 0h1v1h-1zm18 0h1v1h-1zm31 0h1v1h-1zm283 0h1v1h-1zm59 0h1v1h-1zm3 0h1v1h-1zm-459 1h1v1h-1zm126 0h1v1h-1zm209 0h1v1h-1zm124 0h1v1h-1zm-457 1h1v1h-1zm5 0h1v1h-1zm21 0h1v1h-1zm34 0h1v1h-1zm44 0h1v1h-1zm7 0h1v1h-1zm12 0h1v1h-1zm243 0h1v1h-1zm17 0h1v1h-1zm-388 1h1v1h-1zm3 0h1v1h-1zm18 0h1v1h-1zm47 0h1v1h-1zm43 0h1v1h-1zm282 0h1v1h-1zm64 0h1v1h-1zm-418 1h1v1h-1zm28 0h1v1h-1zm64 0h1v1h-1zm204 0h1v1h-1zm58 0h2v1h-2zm38 0h1v1h-1zm-435 1h1v1h-1zm44 0h1v1h-1zm39 0h1v1h-1zm25 0h1v1h-1zm6 0h1v1h-1zm11 0h1v1h-1zm3 0h1v1h-1zm-133 1h1v1h-1zm58 0h1v1h-1zm307 0h1v1h-1zm4 0h1v1h-1zm15 0h1v1h-1zm-324 1h1v1h-1zm278 0h1v1h-1zm82 0h1v1h-1zm4 0h1v1h-1zm45 0h1v1h-1zm-452 1h1v1h-1zm16 0h1v1h-1zm22 0h2v1h-2zm46 0h1v1h-1zm11 0h1v1h-1zm225 0h1v1h-1zm29 0h1v1h-1zm17 0h1v1h-1zm33 0h1v1h-1zm15 0h1v1h-1zm5 0h1v1h-1zm-407 1h1v1h-1zm9 0h1v1h-1zm18 0h1v1h-1zm29 0h1v1h-1zm246 0h1v1h-1zm38 0h1v1h-1zm69 0h1v1h-1zm30 0h1v1h-1zm-454 1h1v1h-1zm60 0h1v1h-1zm271 0h1v1h-1zm47 0h1v1h-1zm34 0h1v1h-1zm2 0h1v1h-1zm-423 1h1v1h-1zm97 0h1v1h-1zm8 0h1v1h-1zm293 0h1v1h-1zm-397 1h1v1h-1zm37 0h1v1h-1zm46 0h1v1h-1zm24 0h1v1h-1zm-68 1h1v1h-1zm5 0h1v1h-1zm43 0h1v1h-1zm278 0h1v1h-1zm69 0h1v1h-1zm-397 1h1v1h-1zm24 0h1v1h-1zm336 0h1v1h-1zm-399 1h1v1h-1zm25 0h1v1h-1zm23 0h1v1h-1zm10 0h1v1h-1zm28 0h1v1h-1zm-42 1h1v1h-1zm311 0h1v1h-1zm42 0h1v1h-1zm-346 1h1v1h-1zm2 0h1v1h-1zm-8 1h1v1h-1zm309 0h1v1h-1zm102 0h1v1h-1zm-395 1h1v1h-1zm8 1h1v1h-1zm-20 1h1v1h-1zm3 0h1v1h-1zm-8 2h1v1h-1zm13 1h1v1h-1zm4 0h1v1h-1zm-9 3h1v1h-1zm2 1h1v1h-1zm3 2h1v1h-1zm243 23h1v1h-1zm1 19h1v1h-1zm-2 1h1v1h-1zm1 2h1v1h-1zm0 1h1v1h-1zm22 5h1v1h-1zm-21 4h1v1h-1zm0 1h1v1h-1zm63 0h1v1h-1zm-62 1h1v1h-1zm1 2h1v1h-1zm-3 2h1v1h-1zm8 1h1v1h-1zm23 0h1v1h-1zm43 0h1v1h-1zm-55 1h1v1h-1zm12 0h1v1h-1zm-13 1h1v1h-1zm13 0h1v1h-1zm8 0h1v1h-1zm-23 2h1v1h-1zm46 0h1v1h-1zm12 1h1v1h-1zm-44 1h1v1h-1zm-3 1h1v1h-1zm-18 1h1v1h-1zm26 0h1v1h-1zm3 0h1v1h-1zm-3 1h1v1h-1zm23 0h1v1h-1zm-368 1h1v1h-1zm318 0h1v1h-1zm33 0h1v1h-1zm35 0h1v1h-1zm-256 1h1v1h-1zm11 0h1v1h-1zm-134 1h1v1h-1zm407 0h1v1h-1zm22 0h1v1h-1zm12 0h1v1h-1zm-423 1h1v1h-1zm53 0h1v1h-1zm23 0h1v1h-1zm42 0h1v1h-1zm3 0h1v1h-1zm179 0h1v1h-1zm4 0h1v1h-1zm41 0h1v1h-1zm3 0h1v1h-1zm7 0h1v1h-1zm43 0h1v1h-1zm-348 1h1v1h-1zm9 0h1v1h-1zm17 0h1v1h-1zm15 0h1v1h-1zm228 0h1v1h-1zm10 0h1v1h-1zm60 0h1v1h-1zm36 0h1v1h-1zm-350 1h1v1h-1zm13 0h1v1h-1zm244 0h1v1h-1zm74 0h1v1h-1zm45 0h1v1h-1zm-415 1h1v1h-1zm20 0h2v1h-2zm19 0h1v1h-1zm6 0h1v1h-1zm263 0h1v1h-1zm88 0h1v1h-1zm13 0h1v1h-1zm-456 1h1v1h-1zm6 0h1v1h-1zm11 0h1v1h-1zm50 0h1v1h-1zm251 0h1v1h-1zm30 0h1v1h-1zm27 0h1v1h-1zm6 0h1v1h-1zm44 0h1v1h-1zm22 0h1v1h-1zm-437 1h1v1h-1zm316 0h1v1h-1zm11 0h1v1h-1zm24 0h1v1h-1zm31 0h1v1h-1zm38 0h1v1h-1zm-441 1h1v1h-1zm8 0h1v1h-1zm4 0h1v1h-1zm23 0h1v1h-1zm10 0h1v1h-1zm11 0h1v1h-1zm371 0h1v1h-1zm11 0h1v1h-1zm-437 1h1v1h-1zm63 0h1v1h-1zm307 0h1v1h-1zm34 0h1v1h-1zm33 0h1v1h-1zm23 0h1v1h-1zm-431 1h1v1h-1zm61 0h1v1h-1zm3 0h1v1h-1zm2 0h1v1h-1zm17 0h1v1h-1zm2 0h1v1h-1zm30 0h1v1h-1zm241 0h1v1h-1zm45 0h1v1h-1zm6 0h1v1h-1zm-14 1h1v1h-1zm-418 1h1v1h-1zm100 0h1v1h-1zm290 0h1v1h-1zm21 0h1v1h-1zm-310 1h1v1h-1zm-96 1h1v1h-1zm78 0h1v1h-1zm2 0h1v1h-1zm17 0h1v1h-1zm40 0h1v1h-1zm-121 1h1v1h-1zm28 0h1v1h-1zm10 0h1v1h-1zm-41 1h1v1h-1zm28 0h1v1h-1zm12 0h1v1h-1zm10 0h1v1h-1zm-61 1h1v1h-1zm44 1h1v1h-1zm11 0h1v1h-1zm-7 3h1v1h-1z"/><path fill="#0070ff" d="m307 51h1v1h-1zm-5 22h1v1h-1zm31 2h1v1h-1zm-11 15h1v1h-1zm7 7h1v1h-1zm-4 1h1v1h-1zm-322 1h1v1h-1zm298 0h1v1h-1zm14 2h1v1h-1zm-292 1h1v1h-1zm283 0h1v1h-1zm34 0h1v1h-1zm11 0h1v1h-1zm-174 1h1v1h-1zm-32 2h1v1h-1zm182 0h1v1h-1zm-184 1h1v1h-1zm7 0h1v1h-1zm-14 1h1v1h-1zm13 0h1v1h-1zm-9 1h1v1h-1zm-35 1h1v1h-1zm3 0h1v1h-1zm67 0h1v1h-1zm142 0h1v1h-1zm-288 1h1v1h-1zm77 0h1v1h-1zm9 0h1v1h-1zm16 0h1v1h-1zm246 0h1v1h-1zm-373 1h1v1h-1zm30 0h1v1h-1zm6 0h1v1h-1zm39 0h1v1h-1zm19 0h1v1h-1zm278 0h1v1h-1zm19 0h1v1h-1zm53 0h1v1h-1zm-401 1h1v1h-1zm7 0h1v1h-1zm344 0h1v1h-1zm-375 1h1v1h-1zm124 0h1v1h-1zm232 0h1v1h-1zm3 0h1v1h-1zm15 0h1v1h-1zm-388 1h1v1h-1zm10 0h1v1h-1zm17 0h1v1h-1zm16 0h1v1h-1zm44 0h1v1h-1zm65 0h1v1h-1zm15 0h1v1h-1zm132 0h1v1h-1zm57 0h1v1h-1zm11 0h1v1h-1zm41 0h1v1h-1zm9 0h1v1h-1zm-405 1h1v1h-1zm25 0h1v1h-1zm10 0h2v1h-2zm35 0h1v1h-1zm52 0h1v1h-1zm21 0h2v1h-2zm231 0h1v1h-1zm15 0h1v1h-1zm18 0h1v1h-1zm13 0h1v1h-1zm25 0h1v1h-1zm8 0h1v1h-1zm-391 1h1v1h-1zm12 0h1v1h-1zm10 0h1v1h-1zm2 0h1v1h-1zm58 0h1v1h-1zm288 0h1v1h-1zm-349 1h1v1h-1zm14 0h1v1h-1zm3 0h1v1h-1zm8 0h1v1h-1zm3 0h1v1h-1zm29 0h1v1h-1zm217 0h1v1h-1zm8 0h1v1h-1zm-270 1h1v1h-1zm37 0h1v1h-1zm14 0h1v1h-1zm243 0h1v1h-1zm-371 1h1v1h-1zm-32 1h1v1h-1zm8 0h1v1h-1zm16 0h1v1h-1zm54 0h1v1h-1zm12 0h1v1h-1zm-84 1h1v1h-1zm82 0h1v1h-1zm7 0h1v1h-1zm-90 1h1v1h-1zm11 0h1v1h-1zm25 1h1v1h-1zm9 0h1v1h-1zm-5 1h1v1h-1zm267 0h1v1h-1zm-305 1h1v1h-1zm144 0h1v1h-1zm148 12h1v1h-1zm33 3h1v1h-1zm-34 2h1v1h-1zm13 2h1v1h-1zm-12 2h1v1h-1zm17 0h1v1h-1zm25 1h1v1h-1zm-12 2h1v1h-1zm2 0h1v1h-1zm-15 2h1v1h-1zm11 1h1v1h-1zm6 0h1v1h-1zm-29 3h1v1h-1zm15 0h2v1h-2zm20 1h1v1h-1zm-207 1h1v1h-1zm194 0h1v1h-1zm-24 1h1v1h-1zm0 1h1v1h-1zm9 0h1v1h-1zm83 0h1v1h-1zm-268 1h1v1h-1zm186 0h1v1h-1zm22 0h1v1h-1zm-212 1h1v1h-1zm213 0h1v1h-1zm33 0h1v1h-1zm-375 1h1v1h-1zm143 0h1v1h-1zm181 0h1v1h-1zm20 0h1v1h-1zm-336 1h1v1h-1zm310 0h1v1h-1zm32 0h1v1h-1zm-211 1h1v1h-1zm179 0h1v1h-1zm25 0h1v1h-1zm5 0h1v1h-1zm8 0h1v1h-1zm16 0h1v1h-1zm-235 1h1v1h-1zm2 0h1v1h-1zm194 0h1v1h-1zm9 0h1v1h-1zm33 0h1v1h-1zm10 0h1v1h-1zm-375 1h1v1h-1zm121 0h1v1h-1zm219 0h1v1h-1zm-343 1h1v1h-1zm357 0h1v1h-1zm31 0h1v1h-1zm-251 1h1v1h-1zm218 0h1v1h-1zm8 0h1v1h-1zm13 0h1v1h-1zm59 0h1v1h-1zm-333 1h1v1h-1zm21 0h2v1h-2zm300 0h1v1h-1zm13 0h1v1h-1zm15 0h1v1h-1zm-424 1h1v1h-1zm83 0h1v1h-1zm9 0h1v1h-1zm9 0h1v1h-1zm204 0h1v1h-1zm9 0h1v1h-1zm72 0h1v1h-1zm-405 1h1v1h-1zm408 0h1v1h-1zm-401 1h1v1h-1zm439 0h1v1h-1zm-432 1h1v1h-1zm52 0h1v1h-1zm42 0h1v1h-1zm252 0h1v1h-1zm53 0h1v1h-1zm-403 1h2v1h-2zm72 0h1v1h-1zm213 0h1v1h-1zm-298 1h1v1h-1zm80 0h1v1h-1zm-67 1h1v1h-1zm381 0h1v1h-1zm-390 2h1v1h-1zm70 0h1v1h-1zm321 4h1v1h-1zm0 2h1v1h-1zm-65 33h1v1h-1zm-1 3h1v1h-1zm-19 1h1v1h-1zm-11 2h1v1h-1zm10 2h1v1h-1zm-9 5h1v1h-1zm73 0h1v1h-1zm-64 3h1v1h-1zm37 0h1v1h-1zm-225 2h1v1h-1zm3 0h1v1h-1zm2 0h1v1h-1zm190 0h1v1h-1zm-198 1h1v1h-1zm209 0h1v1h-1zm-316 1h1v1h-1zm304 1h1v1h-1zm-233 1h1v1h-1zm6 0h1v1h-1zm16 0h1v1h-1zm9 0h1v1h-1zm-5 1h1v1h-1zm194 0h1v1h-1zm31 0h1v1h-1zm-215 1h1v1h-1zm11 0h1v1h-1zm-43 1h1v1h-1zm34 0h1v1h-1zm8 0h1v1h-1zm186 0h1v1h-1zm-231 2h1v1h-1zm221 0h1v1h-1zm16 0h1v1h-1zm7 0h1v1h-1zm-246 1h1v1h-1zm243 0h1v1h-1zm46 0h1v1h-1zm-263 1h2v1h-2zm20 0h1v1h-1zm203 0h1v1h-1zm48 0h1v1h-1zm-295 1h1v1h-1zm13 0h1v1h-1zm272 0h1v1h-1zm-376 1h1v1h-1zm68 0h1v1h-1zm6 0h1v1h-1zm261 0h1v1h-1zm40 0h1v1h-1zm54 0h1v1h-1zm-402 1h1v1h-1zm20 0h1v1h-1zm62 0h1v1h-1zm6 0h1v1h-1zm201 0h1v1h-1zm22 0h1v1h-1zm58 0h1v1h-1zm49 0h1v1h-1zm-373 1h2v1h-2zm9 0h1v1h-1zm2 0h1v1h-1zm23 0h1v1h-1zm277 0h1v1h-1zm26 0h1v1h-1zm-316 1h1v1h-1zm377 0h1v1h-1zm-456 1h1v1h-1zm14 0h1v1h-1zm61 0h1v1h-1zm2 0h1v1h-1zm232 0h1v1h-1zm3 0h1v1h-1zm119 0h1v1h-1zm11 0h1v1h-1zm-431 1h1v1h-1zm19 0h1v1h-1zm28 0h1v1h-1zm12 0h1v1h-1zm9 0h1v1h-1zm15 0h1v1h-1zm-99 1h1v1h-1zm13 0h1v1h-1zm7 0h1v1h-1zm12 0h1v1h-1zm23 0h1v1h-1zm32 0h1v1h-1zm3 0h1v1h-1zm3 0h1v1h-1zm6 0h1v1h-1zm18 0h1v1h-1zm211 0h1v1h-1zm12 0h1v1h-1zm41 0h1v1h-1zm-373 1h1v1h-1zm106 0h1v1h-1zm234 0h1v1h-1zm-354 1h1v1h-1zm64 0h1v1h-1zm272 0h1v1h-1zm85 0h1v1h-1zm8 0h1v1h-1zm-375 1h1v1h-1zm279 0h1v1h-1zm22 0h1v1h-1zm53 0h1v1h-1zm16 0h1v1h-1zm21 0h1v1h-1zm-444 1h1v1h-1zm132 0h1v1h-1zm234 0h1v1h-1zm34 0h1v1h-1zm46 0h1v1h-1zm4 0h1v1h-1zm-420 1h1v1h-1zm22 0h1v1h-1zm317 0h1v1h-1zm91 0h1v1h-1zm-429 1h1v1h-1zm37 0h1v1h-1zm27 0h1v1h-1zm11 0h1v1h-1zm2 0h1v1h-1zm261 0h1v1h-1zm46 0h1v1h-1zm12 0h1v1h-1zm7 0h1v1h-1zm10 0h1v1h-1zm-407 1h1v1h-1zm32 0h1v1h-1zm17 0h1v1h-1zm2 0h1v1h-1zm-84 1h1v1h-1zm4 0h1v1h-1zm5 0h1v1h-1zm22 0h1v1h-1zm12 0h2v1h-2zm36 0h1v1h-1zm320 0h1v1h-1zm-372 1h1v1h-1zm-19 1h1v1h-1zm15 0h1v1h-1zm13 0h1v1h-1zm26 0h1v1h-1zm15 0h1v1h-1zm-58 1h1v1h-1zm30 0h1v1h-1zm-7 1h1v1h-1zm17 0h1v1h-1zm-10 1h1v1h-1zm264 0h1v1h-1zm-307 1h1v1h-1zm46 0h1v1h-1zm261 1h1v1h-1zm41 0h1v1h-1zm-315 1h1v1h-1zm15 0h1v1h-1zm-13 1h1v1h-1zm14 0h1v1h-1zm243 6h1v1h-1zm-2 3h1v1h-1zm4 3h1v1h-1zm56 2h1v1h-1zm-57 2h1v1h-1zm4 4h1v1h-1zm4 1h1v1h-1zm6 0h1v1h-1zm-198 1h1v1h-1zm194 0h1v1h-1zm-7 1h1v1h-1zm-197 1h1v1h-1zm202 0h1v1h-1zm9 1h1v1h-1zm18 1h1v1h-1zm-214 1h1v1h-1zm0 1h1v1h-1zm6 0h1v1h-1zm177 0h1v1h-1zm4 0h1v1h-1zm120 1h1v1h-1zm-326 1h1v1h-1zm13 0h1v1h-1zm9 0h1v1h-1zm4 0h1v1h-1zm207 0h1v1h-1zm-12 1h1v1h-1zm2 0h1v1h-1zm-216 1h1v1h-1zm20 0h1v1h-1zm-137 1h1v1h-1zm104 0h1v1h-1zm338 0h1v1h-1zm-87 1h1v1h-1zm13 0h1v1h-1zm14 0h1v1h-1zm16 0h1v1h-1zm41 0h1v1h-1zm-337 1h1v1h-1zm13 0h1v1h-1zm18 0h2v1h-2zm189 0h1v1h-1zm51 0h1v1h-1zm69 0h1v1h-1zm-355 1h1v1h-1zm27 0h1v1h-1zm14 0h1v1h-1zm181 0h1v1h-1zm26 0h1v1h-1zm104 0h1v1h-1zm23 0h1v1h-1zm-103 2h1v1h-1zm117 0h1v1h-1zm-431 1h1v1h-1zm45 0h1v1h-1zm16 0h1v1h-1zm207 0h1v1h-1zm83 0h1v1h-1zm35 0h1v1h-1zm25 0h1v1h-1zm-454 1h1v1h-1zm3 0h2v1h-2zm21 0h1v1h-1zm20 0h1v1h-1zm68 0h1v1h-1zm263 0h1v1h-1zm15 0h1v1h-1zm59 0h1v1h-1zm-420 1h1v1h-1zm11 0h1v1h-1zm85 0h1v1h-1zm15 0h1v1h-1zm189 0h1v1h-1zm31 0h1v1h-1zm70 0h1v1h-1zm29 0h1v1h-1zm7 0h1v1h-1zm-462 1h1v1h-1zm8 0h1v1h-1zm9 0h1v1h-1zm59 0h1v1h-1zm51 0h1v1h-1zm186 0h1v1h-1zm74 0h1v1h-1zm76 0h1v1h-1zm2 0h1v1h-1zm-366 1h1v1h-1zm4 0h1v1h-1zm225 0h1v1h-1zm34 0h1v1h-1zm-291 1h1v1h-1zm23 0h1v1h-1zm30 0h1v1h-1zm225 1h1v1h-1zm9 0h1v1h-1zm-297 1h1v1h-1zm55 0h1v1h-1zm220 0h1v1h-1zm9 0h1v1h-1zm7 0h1v1h-1zm35 0h1v1h-1zm-276 1h1v1h-1zm6 0h1v1h-1zm13 0h1v1h-1zm212 0h2v1h-2zm16 0h1v1h-1zm31 0h1v1h-1zm5 0h1v1h-1zm10 0h1v1h-1zm30 0h1v1h-1zm18 0h1v1h-1zm-321 1h1v1h-1zm2 0h1v1h-1zm5 0h1v1h-1zm201 0h1v1h-1zm73 0h1v1h-1zm-396 1h1v1h-1zm25 0h1v1h-1zm36 0h1v1h-1zm6 0h1v1h-1zm280 0h1v1h-1zm64 0h1v1h-1zm-416 1h1v1h-1zm10 0h1v1h-1zm14 0h1v1h-1zm4 0h1v1h-1zm12 0h1v1h-1zm52 0h1v1h-1zm322 0h1v1h-1zm-424 1h1v1h-1zm27 0h1v1h-1zm107 0h1v1h-1zm204 0h1v1h-1zm113 0h1v1h-1zm-442 1h1v1h-1zm5 0h1v1h-1zm4 0h1v1h-1zm7 0h1v1h-1zm4 0h1v1h-1zm3 0h2v1h-2zm50 0h1v1h-1zm29 0h1v1h-1zm-113 1h1v1h-1zm8 0h1v1h-1zm11 0h1v1h-1zm33 1h1v1h-1zm13 0h1v1h-1zm5 0h1v1h-1zm5 0h1v1h-1zm301 0h1v1h-1zm27 0h1v1h-1zm-398 1h1v1h-1zm3 0h1v1h-1zm52 0h1v1h-1zm35 0h1v1h-1zm276 0h1v1h-1zm46 0h1v1h-1zm-46 1h1v1h-1zm-306 1h1v1h-1zm336 0h1v1h-1zm-353 1h1v1h-1zm4 0h2v1h-2zm7 0h1v1h-1zm7 2h1v1h-1zm291 0h1v1h-1zm-291 1h1v1h-1zm334 1h1v1h-1zm-335 1h1v1h-1zm-6 1h1v1h-1zm-1 3h1v1h-1zm262 35h1v1h-1zm-16 13h1v1h-1zm9 4h1v1h-1zm-5 5h1v1h-1zm5 0h1v1h-1zm-9 5h1v1h-1zm3 1h1v1h-1zm4 2h1v1h-1zm10 0h1v1h-1zm-18 1h1v1h-1zm39 0h1v1h-1zm-31 2h1v1h-1zm5 0h1v1h-1zm51 0h1v1h-1zm-49 2h1v1h-1zm21 0h1v1h-1zm17 1h1v1h-1zm-48 2h1v1h-1zm10 0h1v1h-1zm19 0h1v1h-1zm16 0h1v1h-1zm-358 1h1v1h-1zm329 0h1v1h-1zm10 0h1v1h-1zm121 0h1v1h-1zm-111 1h1v1h-1zm-224 1h2v1h-2zm190 0h1v1h-1zm4 0h1v1h-1zm50 0h1v1h-1zm24 0h1v1h-1zm46 0h1v1h-1zm-400 1h1v1h-1zm0 1h1v1h-1zm5 0h1v1h-1zm83 0h1v1h-1zm4 0h1v1h-1zm7 0h1v1h-1zm187 0h1v1h-1zm17 0h1v1h-1zm74 0h1v1h-1zm12 0h1v1h-1zm19 0h1v1h-1zm-349 1h1v1h-1zm4 0h1v1h-1zm223 0h1v1h-1zm63 0h1v1h-1zm47 0h1v1h-1zm-408 1h1v1h-1zm6 0h1v1h-1zm52 0h2v1h-2zm15 0h1v1h-1zm11 0h1v1h-1zm245 0h1v1h-1zm60 0h1v1h-1zm8 0h2v1h-2zm-372 1h1v1h-1zm50 0h1v1h-1zm45 0h1v1h-1zm182 0h1v1h-1zm11 0h1v1h-1zm60 0h1v1h-1zm-369 1h1v1h-1zm98 0h1v1h-1zm242 0h1v1h-1zm17 0h1v1h-1zm16 0h1v1h-1zm-393 1h1v1h-1zm61 0h2v1h-2zm284 0h1v1h-1zm97 0h1v1h-1zm-416 1h1v1h-1zm31 0h1v1h-1zm331 0h1v1h-1zm41 0h1v1h-1zm8 0h1v1h-1zm21 0h1v1h-1zm-449 1h1v1h-1zm106 0h1v1h-1zm14 0h1v1h-1zm283 0h1v1h-1zm-357 1h1v1h-1zm75 0h1v1h-1zm250 0h1v1h-1zm25 0h1v1h-1zm-384 1h1v1h-1zm13 0h2v1h-2zm56 0h1v1h-1zm32 0h1v1h-1zm14 0h1v1h-1zm248 0h1v1h-1zm-365 1h1v1h-1zm4 0h1v1h-1zm52 0h1v1h-1zm27 0h1v1h-1zm25 0h1v1h-1zm8 0h1v1h-1zm216 0h1v1h-1zm107 0h1v1h-1zm-367 1h1v1h-1zm9 0h1v1h-1zm-81 1h1v1h-1zm116 0h1v1h-1zm2 0h1v1h-1zm287 0h1v1h-1zm-428 1h1v1h-1zm9 0h1v1h-1zm4 0h1v1h-1zm51 0h1v1h-1zm305 0h1v1h-1zm-290 1h1v1h-1zm-28 1h2v1h-2zm9 0h1v1h-1zm3 0h1v1h-1zm337 0h1v1h-1zm-349 1h1v1h-1zm1 1h2v1h-2zm-3 2h1v1h-1zm-1 2h1v1h-1z"/><path fill="#0080ff" d="m314 81h1v1h-1zm7 4h1v1h-1zm12 1h1v1h-1zm0 11h1v1h-1zm-25 2h1v1h-1zm19 1h1v1h-1zm2 0h1v1h-1zm4 0h1v1h-1zm10 0h1v1h-1zm-339 1h1v1h-1zm311 1h1v1h-1zm8 0h1v1h-1zm-1 2h1v1h-1zm30 0h1v1h-1zm-29 1h1v1h-1zm46 1h1v1h-1zm-7 1h1v1h-1zm-355 1h1v1h-1zm321 0h1v1h-1zm22 0h1v1h-1zm7 0h2v1h-2zm-325 1h1v1h-1zm66 0h1v1h-1zm16 0h1v1h-1zm-82 1h1v1h-1zm73 0h1v1h-1zm217 0h1v1h-1zm14 0h1v1h-1zm21 0h1v1h-1zm-327 1h1v1h-1zm281 0h1v1h-1zm27 0h1v1h-1zm5 0h1v1h-1zm4 0h1v1h-1zm49 0h1v1h-1zm4 0h1v1h-1zm-390 1h1v1h-1zm18 0h1v1h-1zm63 0h1v1h-1zm62 0h1v1h-1zm19 0h1v1h-1zm177 0h1v1h-1zm51 0h1v1h-1zm-339 1h1v1h-1zm68 0h1v1h-1zm271 0h1v1h-1zm21 0h1v1h-1zm-340 1h1v1h-1zm3 0h1v1h-1zm9 0h1v1h-1zm52 0h1v1h-1zm8 0h1v1h-1zm228 0h1v1h-1zm31 0h1v1h-1zm57 0h1v1h-1zm-411 1h1v1h-1zm3 0h1v1h-1zm10 0h1v1h-1zm34 0h1v1h-1zm6 0h1v1h-1zm25 0h1v1h-1zm19 0h1v1h-1zm224 0h1v1h-1zm24 0h1v1h-1zm-344 1h1v1h-1zm2 0h1v1h-1zm45 0h1v1h-1zm28 0h1v1h-1zm2 0h1v1h-1zm26 0h2v1h-2zm189 0h1v1h-1zm127 0h1v1h-1zm-456 1h1v1h-1zm8 0h1v1h-1zm45 0h1v1h-1zm40 0h1v1h-1zm-79 1h1v1h-1zm3 0h1v1h-1zm62 0h1v1h-1zm298 0h1v1h-1zm-372 1h1v1h-1zm9 0h1v1h-1zm123 0h1v1h-1zm146 0h1v1h-1zm74 0h1v1h-1zm-341 1h1v1h-1zm25 0h1v1h-1zm20 0h1v1h-1zm324 0h1v1h-1zm-372 1h1v1h-1zm2 0h1v1h-1zm43 0h1v1h-1zm42 0h1v1h-1zm45 0h1v1h-1zm-9 1h1v1h-1zm-116 1h1v1h-1zm2 0h1v1h-1zm35 0h1v1h-1zm-63 1h1v1h-1zm47 0h1v1h-1zm97 1h1v1h-1zm157 9h1v1h-1zm-11 5h1v1h-1zm14 1h1v1h-1zm16 0h1v1h-1zm-15 11h1v1h-1zm1 1h2v1h-2zm10 0h1v1h-1zm-26 2h1v1h-1zm27 2h1v1h-1zm-26 1h1v1h-1zm18 0h1v1h-1zm18 0h1v1h-1zm-215 2h1v1h-1zm12 1h1v1h-1zm216 0h1v1h-1zm7 0h1v1h-1zm-40 1h1v1h-1zm68 0h1v1h-1zm-384 2h1v1h-1zm133 0h1v1h-1zm204 0h1v1h-1zm25 1h1v1h-1zm79 1h1v1h-1zm-307 1h1v1h-1zm213 0h1v1h-1zm3 0h1v1h-1zm87 0h1v1h-1zm-316 1h1v1h-1zm-6 1h1v1h-1zm15 0h1v1h-1zm260 0h1v1h-1zm-265 1h1v1h-1zm-106 1h1v1h-1zm67 0h1v1h-1zm23 0h1v1h-1zm238 0h1v1h-1zm-301 1h1v1h-1zm47 0h1v1h-1zm248 0h1v1h-1zm10 0h1v1h-1zm59 0h1v1h-1zm11 0h1v1h-1zm-354 1h1v1h-1zm33 0h1v1h-1zm13 0h1v1h-1zm287 0h1v1h-1zm-347 1h1v1h-1zm43 0h1v1h-1zm12 0h2v1h-2zm287 0h1v1h-1zm20 0h1v1h-1zm28 0h1v1h-1zm20 0h1v1h-1zm-443 1h1v1h-1zm338 0h1v1h-1zm32 0h1v1h-1zm60 0h1v1h-1zm-446 1h1v1h-1zm55 0h1v1h-1zm9 0h1v1h-1zm289 0h1v1h-1zm-289 1h1v1h-1zm304 0h1v1h-1zm81 0h1v1h-1zm-444 1h1v1h-1zm39 0h1v1h-1zm6 0h1v1h-1zm16 1h1v1h-1zm-13 1h1v1h-1zm257 16h1v1h-1zm-9 13h1v1h-1zm10 7h1v1h-1zm4 2h1v1h-1zm-11 1h1v1h-1zm-8 3h1v1h-1zm21 0h1v1h-1zm-9 1h1v1h-1zm4 2h1v1h-1zm-8 2h1v1h-1zm-186 8h1v1h-1zm-20 1h1v1h-1zm221 0h1v1h-1zm-203 1h1v1h-1zm-8 1h1v1h-1zm233 1h1v1h-1zm-217 2h1v1h-1zm178 0h1v1h-1zm11 0h1v1h-1zm-200 1h1v1h-1zm-7 1h1v1h-1zm190 0h1v1h-1zm-213 1h1v1h-1zm250 0h1v1h-1zm13 0h1v1h-1zm-48 1h1v1h-1zm2 0h1v1h-1zm-184 1h1v1h-1zm11 0h1v1h-1zm223 0h1v1h-1zm-276 1h1v1h-1zm36 0h1v1h-1zm9 0h1v1h-1zm213 0h1v1h-1zm5 0h1v1h-1zm-275 1h1v1h-1zm263 0h1v1h-1zm26 0h1v1h-1zm-226 1h1v1h-1zm189 0h1v1h-1zm45 0h1v1h-1zm78 0h1v1h-1zm-444 1h2v1h-2zm34 0h1v1h-1zm51 0h1v1h-1zm4 0h1v1h-1zm47 0h1v1h-1zm248 0h1v1h-1zm37 0h1v1h-1zm26 0h1v1h-1zm12 0h1v1h-1zm-453 1h1v1h-1zm303 0h1v1h-1zm38 0h1v1h-1zm20 0h1v1h-1zm23 0h1v1h-1zm-350 1h1v1h-1zm78 0h1v1h-1zm242 0h1v1h-1zm-305 1h1v1h-1zm43 0h1v1h-1zm3 0h1v1h-1zm223 0h1v1h-1zm66 0h1v1h-1zm36 0h1v1h-1zm10 0h1v1h-1zm24 0h1v1h-1zm-439 1h1v1h-1zm26 0h1v1h-1zm42 0h1v1h-1zm18 0h1v1h-1zm6 0h1v1h-1zm196 0h1v1h-1zm47 0h1v1h-1zm49 0h1v1h-1zm66 0h1v1h-1zm-448 1h1v1h-1zm16 0h1v1h-1zm37 0h1v1h-1zm36 0h1v1h-1zm10 0h1v1h-1zm241 0h1v1h-1zm42 0h1v1h-1zm63 0h1v1h-1zm-459 1h1v1h-1zm63 0h1v1h-1zm270 0h1v1h-1zm21 0h1v1h-1zm70 0h1v1h-1zm18 0h1v1h-1zm-393 1h1v1h-1zm16 0h1v1h-1zm-21 1h1v1h-1zm10 0h1v1h-1zm4 0h2v1h-2zm4 0h1v1h-1zm267 0h1v1h-1zm-236 1h1v1h-1zm291 0h1v1h-1zm45 0h1v1h-1zm8 0h1v1h-1zm12 0h1v1h-1zm4 0h1v1h-1zm9 0h1v1h-1zm-463 1h1v1h-1zm349 0h1v1h-1zm93 0h1v1h-1zm5 0h1v1h-1zm-451 1h1v1h-1zm20 0h1v1h-1zm18 0h1v1h-1zm269 0h1v1h-1zm35 0h1v1h-1zm29 0h1v1h-1zm14 0h1v1h-1zm44 0h1v1h-1zm17 0h1v1h-1zm-62 1h1v1h-1zm29 1h1v1h-1zm-407 1h1v1h-1zm22 0h1v1h-1zm14 0h1v1h-1zm31 0h1v1h-1zm2 0h1v1h-1zm301 0h1v1h-1zm21 0h1v1h-1zm-389 1h1v1h-1zm5 0h1v1h-1zm4 1h1v1h-1zm18 2h1v1h-1zm22 1h1v1h-1zm2 0h1v1h-1zm357 0h1v1h-1zm-368 4h1v1h-1zm257 6h1v1h-1zm8 0h1v1h-1zm2 3h1v1h-1zm-190 12h1v1h-1zm-7 2h1v1h-1zm189 0h1v1h-1zm12 0h1v1h-1zm7 1h1v1h-1zm-199 1h1v1h-1zm183 0h1v1h-1zm23 0h1v1h-1zm-33 1h1v1h-1zm8 0h1v1h-1zm-183 1h1v1h-1zm6 0h1v1h-1zm222 0h1v1h-1zm24 1h1v1h-1zm-55 1h1v1h-1zm6 0h1v1h-1zm-226 1h1v1h-1zm237 0h1v1h-1zm-38 1h1v1h-1zm36 0h1v1h-1zm8 0h1v1h-1zm-225 1h1v1h-1zm2 0h1v1h-1zm220 0h1v1h-1zm-236 1h1v1h-1zm5 0h1v1h-1zm206 0h1v1h-1zm36 0h1v1h-1zm-31 1h1v1h-1zm11 0h1v1h-1zm11 0h1v1h-1zm18 0h1v1h-1zm65 0h1v1h-1zm8 0h1v1h-1zm-319 1h1v1h-1zm11 0h1v1h-1zm209 0h1v1h-1zm16 0h1v1h-1zm-359 1h1v1h-1zm136 0h1v1h-1zm3 0h1v1h-1zm171 0h1v1h-1zm2 0h1v1h-1zm12 0h1v1h-1zm37 0h1v1h-1zm101 0h1v1h-1zm-358 1h1v1h-1zm18 0h1v1h-1zm11 0h1v1h-1zm219 0h1v1h-1zm20 0h1v1h-1zm72 0h1v1h-1zm6 0h1v1h-1zm-55 1h1v1h-1zm-361 1h1v1h-1zm64 0h1v1h-1zm20 0h1v1h-1zm314 0h2v1h-2zm7 0h1v1h-1zm33 0h1v1h-1zm-416 1h1v1h-1zm75 0h1v1h-1zm209 0h1v1h-1zm35 0h1v1h-1zm-369 1h1v1h-1zm33 0h2v1h-2zm62 0h1v1h-1zm17 0h1v1h-1zm28 0h1v1h-1zm231 0h1v1h-1zm34 0h1v1h-1zm-404 1h1v1h-1zm10 0h1v1h-1zm359 0h1v1h-1zm20 0h1v1h-1zm-387 1h1v1h-1zm4 0h1v1h-1zm68 0h1v1h-1zm5 0h1v1h-1zm233 0h1v1h-1zm-317 1h1v1h-1zm49 0h1v1h-1zm32 0h1v1h-1zm242 0h1v1h-1zm9 0h1v1h-1zm100 0h1v1h-1zm-420 1h1v1h-1zm56 0h1v1h-1zm279 0h1v1h-1zm59 0h1v1h-1zm25 0h1v1h-1zm-293 1h1v1h-1zm233 0h1v1h-1zm6 0h1v1h-1zm42 0h1v1h-1zm36 0h1v1h-1zm-75 1h1v1h-1zm30 0h1v1h-1zm5 0h1v1h-1zm-372 1h1v1h-1zm12 0h1v1h-1zm19 0h1v1h-1zm8 0h1v1h-1zm58 0h1v1h-1zm301 0h1v1h-1zm-405 1h1v1h-1zm50 0h1v1h-1zm31 0h1v1h-1zm211 0h1v1h-1zm21 0h1v1h-1zm37 0h1v1h-1zm51 0h1v1h-1zm-363 1h1v1h-1zm8 0h1v1h-1zm321 0h1v1h-1zm36 0h1v1h-1zm-415 1h1v1h-1zm23 0h2v1h-2zm40 0h2v1h-2zm5 0h1v1h-1zm339 0h1v1h-1zm-415 1h1v1h-1zm7 0h1v1h-1zm19 0h1v1h-1zm3 0h1v1h-1zm35 0h1v1h-1zm326 0h1v1h-1zm-397 1h1v1h-1zm34 0h1v1h-1zm42 0h1v1h-1zm-22 1h1v1h-1zm333 0h1v1h-1zm-378 1h1v1h-1zm51 0h1v1h-1zm-9 1h2v1h-2zm-12 1h1v1h-1zm3 3h1v1h-1zm15 0h1v1h-1zm370 0h1v1h-1zm-373 1h1v1h-1zm6 0h1v1h-1zm367 1h1v1h-1zm-378 2h1v1h-1zm16 1h1v1h-1zm245 0h1v1h-1zm-12 25h1v1h-1zm7 22h1v1h-1zm-4 4h1v1h-1zm45 5h1v1h-1zm-45 5h1v1h-1zm0 3h1v1h-1zm-2 1h1v1h-1zm52 0h1v1h-1zm-8 1h1v1h-1zm-35 1h1v1h-1zm18 0h1v1h-1zm-1 1h1v1h-1zm25 1h1v1h-1zm-49 3h1v1h-1zm72 1h1v1h-1zm-49 1h2v1h-2zm14 0h1v1h-1zm-39 1h1v1h-1zm5 0h1v1h-1zm80 0h1v1h-1zm-69 1h1v1h-1zm26 0h1v1h-1zm42 0h1v1h-1zm-391 1h1v1h-1zm321 0h1v1h-1zm43 0h1v1h-1zm14 0h1v1h-1zm-263 1h1v1h-1zm5 0h1v1h-1zm191 0h1v1h-1zm50 0h1v1h-1zm-275 1h1v1h-1zm27 0h1v1h-1zm14 0h1v1h-1zm218 0h1v1h-1zm22 0h1v1h-1zm-283 1h1v1h-1zm287 0h1v1h-1zm5 0h1v1h-1zm10 0h1v1h-1zm38 0h1v1h-1zm40 0h1v1h-1zm-418 1h1v1h-1zm90 0h1v1h-1zm-121 1h1v1h-1zm2 0h1v1h-1zm29 0h1v1h-1zm3 0h1v1h-1zm94 0h1v1h-1zm332 0h1v1h-1zm-429 1h1v1h-1zm21 0h1v1h-1zm18 0h1v1h-1zm324 0h1v1h-1zm-395 1h1v1h-1zm24 0h1v1h-1zm14 0h1v1h-1zm12 0h1v1h-1zm6 0h1v1h-1zm17 0h1v1h-1zm49 0h1v1h-1zm240 0h1v1h-1zm66 0h1v1h-1zm-430 1h1v1h-1zm110 0h1v1h-1zm300 0h1v1h-1zm-299 1h1v1h-1zm339 0h1v1h-1zm-368 1h1v1h-1zm54 0h1v1h-1zm288 0h1v1h-1zm20 0h1v1h-1zm-399 1h1v1h-1zm77 0h1v1h-1zm10 0h1v1h-1zm316 0h2v1h-2zm-458 1h1v1h-1zm19 0h1v1h-1zm62 0h1v1h-1zm57 0h1v1h-1zm245 0h1v1h-1zm39 0h2v1h-2zm-394 1h1v1h-1zm46 0h1v1h-1zm8 0h1v1h-1zm2 0h1v1h-1zm6 0h1v1h-1zm20 0h1v1h-1zm-107 1h1v1h-1zm21 0h1v1h-1zm75 0h1v1h-1zm3 0h1v1h-1zm7 0h1v1h-1zm292 0h1v1h-1zm-383 1h1v1h-1zm365 0h1v1h-1zm-366 1h1v1h-1zm34 0h1v1h-1zm19 0h1v1h-1zm-4 1h1v1h-1zm-59 1h1v1h-1zm53 0h1v1h-1zm-5 3h1v1h-1z"/><path fill="#008fff" d="m306 69h1v1h-1zm15 0h1v1h-1zm-10 6h1v1h-1zm25 7h1v1h-1zm-24 4h1v1h-1zm-8 1h1v1h-1zm4 3h1v1h-1zm24 4h1v1h-1zm-309 3h1v1h-1zm333 1h1v1h-1zm-51 1h1v1h-1zm41 0h1v1h-1zm-36 1h1v1h-1zm28 0h1v1h-1zm-37 1h1v1h-1zm25 0h1v1h-1zm8 0h1v1h-1zm-32 3h1v1h-1zm36 0h1v1h-1zm4 0h1v1h-1zm-334 1h1v1h-1zm303 1h1v1h-1zm36 0h1v1h-1zm-206 1h2v1h-2zm167 0h1v1h-1zm32 0h1v1h-1zm-21 1h1v1h-1zm-309 1h1v1h-1zm337 0h1v1h-1zm-169 1h1v1h-1zm-115 1h1v1h-1zm88 0h1v1h-1zm22 0h1v1h-1zm181 0h1v1h-1zm8 0h1v1h-1zm27 0h1v1h-1zm-381 1h1v1h-1zm119 0h1v1h-1zm20 0h1v1h-1zm23 0h1v1h-1zm9 0h1v1h-1zm168 0h1v1h-1zm56 0h1v1h-1zm-365 1h1v1h-1zm18 0h2v1h-2zm31 0h1v1h-1zm13 0h1v1h-1zm40 0h1v1h-1zm9 0h1v1h-1zm162 0h1v1h-1zm75 0h1v1h-1zm-385 1h2v1h-2zm21 0h1v1h-1zm67 0h1v1h-1zm90 0h1v1h-1zm184 0h1v1h-1zm12 0h1v1h-1zm32 0h1v1h-1zm2 0h1v1h-1zm36 0h1v1h-1zm-414 1h1v1h-1zm12 0h1v1h-1zm11 0h1v1h-1zm34 0h1v1h-1zm44 0h1v1h-1zm45 0h1v1h-1zm298 0h1v1h-1zm-419 1h1v1h-1zm56 0h1v1h-1zm307 0h1v1h-1zm13 0h1v1h-1zm6 0h1v1h-1zm26 0h1v1h-1zm8 0h1v1h-1zm-439 1h1v1h-1zm37 0h1v1h-1zm60 0h1v1h-1zm327 0h1v1h-1zm-386 1h1v1h-1zm44 0h1v1h-1zm309 0h1v1h-1zm-25 1h1v1h-1zm-315 1h1v1h-1zm80 0h1v1h-1zm-121 1h1v1h-1zm55 0h1v1h-1zm59 0h1v1h-1zm-115 1h1v1h-1zm2 2h2v1h-2zm3 0h1v1h-1zm2 0h1v1h-1zm19 0h1v1h-1zm89 3h1v1h-1zm165 14h1v1h-1zm0 1h1v1h-1zm-5 8h1v1h-1zm40 2h1v1h-1zm-34 1h1v1h-1zm20 0h1v1h-1zm18 2h1v1h-1zm-50 2h1v1h-1zm0 2h1v1h-1zm-3 2h1v1h-1zm25 0h1v1h-1zm16 0h1v1h-1zm-348 1h1v1h-1zm143 0h1v1h-1zm170 0h1v1h-1zm17 0h1v1h-1zm-193 1h1v1h-1zm7 0h1v1h-1zm169 0h1v1h-1zm-312 1h1v1h-1zm352 0h1v1h-1zm31 0h1v1h-1zm6 0h1v1h-1zm-83 1h1v1h-1zm51 0h1v1h-1zm13 0h1v1h-1zm-366 1h2v1h-2zm123 0h1v1h-1zm15 0h1v1h-1zm256 0h1v1h-1zm-278 1h1v1h-1zm-7 1h1v1h-1zm9 0h1v1h-1zm214 0h1v1h-1zm7 0h1v1h-1zm21 0h1v1h-1zm64 0h1v1h-1zm17 0h1v1h-1zm-108 1h1v1h-1zm123 0h1v1h-1zm9 0h1v1h-1zm-467 1h1v1h-1zm87 0h1v1h-1zm5 0h1v1h-1zm377 0h1v1h-1zm-456 1h1v1h-1zm4 0h1v1h-1zm341 0h1v1h-1zm33 0h1v1h-1zm-360 1h1v1h-1zm16 0h1v1h-1zm8 0h1v1h-1zm28 0h1v1h-1zm21 0h1v1h-1zm-52 1h1v1h-1zm48 0h1v1h-1zm323 0h1v1h-1zm-413 1h1v1h-1zm34 0h1v1h-1zm372 0h1v1h-1zm-396 1h1v1h-1zm26 0h1v1h-1zm45 0h1v1h-1zm-72 1h1v1h-1zm59 0h1v1h-1zm317 0h1v1h-1zm2 0h1v1h-1zm7 0h1v1h-1zm12 0h1v1h-1zm-389 1h1v1h-1zm-17 1h1v1h-1zm410 4h1v1h-1zm-114 21h1v1h-1zm11 2h1v1h-1zm4 21h1v1h-1zm-18 1h1v1h-1zm2 8h1v1h-1zm34 0h1v1h-1zm-31 2h1v1h-1zm6 1h1v1h-1zm2 0h1v1h-1zm38 0h1v1h-1zm-231 2h1v1h-1zm224 0h1v1h-1zm4 0h1v1h-1zm-220 1h1v1h-1zm-34 1h1v1h-1zm239 0h1v1h-1zm55 0h1v1h-1zm-287 1h1v1h-1zm6 0h1v1h-1zm222 0h1v1h-1zm25 0h1v1h-1zm-248 1h1v1h-1zm6 0h1v1h-1zm5 0h1v1h-1zm4 0h1v1h-1zm4 0h1v1h-1zm197 0h1v1h-1zm2 0h1v1h-1zm-211 1h1v1h-1zm211 0h1v1h-1zm34 0h1v1h-1zm3 0h1v1h-1zm33 0h1v1h-1zm-400 1h1v1h-1zm2 0h1v1h-1zm124 0h1v1h-1zm6 0h1v1h-1zm-86 1h1v1h-1zm313 0h1v1h-1zm-238 1h2v1h-2zm16 0h1v1h-1zm174 0h1v1h-1zm71 0h1v1h-1zm7 0h1v1h-1zm-272 1h1v1h-1zm15 0h1v1h-1zm181 0h1v1h-1zm63 0h1v1h-1zm68 0h1v1h-1zm13 0h1v1h-1zm-376 1h1v1h-1zm4 0h1v1h-1zm11 0h1v1h-1zm2 0h1v1h-1zm6 0h1v1h-1zm30 0h1v1h-1zm-49 1h1v1h-1zm25 0h1v1h-1zm2 0h1v1h-1zm204 0h1v1h-1zm21 0h1v1h-1zm33 0h1v1h-1zm41 0h1v1h-1zm27 0h1v1h-1zm15 0h1v1h-1zm-425 1h1v1h-1zm44 0h1v1h-1zm5 0h1v1h-1zm40 0h2v1h-2zm256 0h1v1h-1zm-362 1h1v1h-1zm12 0h1v1h-1zm6 0h1v1h-1zm8 0h1v1h-1zm15 0h1v1h-1zm50 0h1v1h-1zm213 0h1v1h-1zm61 0h1v1h-1zm95 0h1v1h-1zm-469 1h1v1h-1zm34 0h1v1h-1zm19 0h1v1h-1zm18 0h1v1h-1zm13 0h1v1h-1zm56 0h1v1h-1zm213 0h1v1h-1zm12 0h1v1h-1zm3 0h1v1h-1zm15 0h1v1h-1zm51 0h1v1h-1zm23 0h1v1h-1zm-443 1h1v1h-1zm44 0h1v1h-1zm41 0h1v1h-1zm23 0h1v1h-1zm7 0h1v1h-1zm211 0h1v1h-1zm42 0h1v1h-1zm18 0h1v1h-1zm51 0h1v1h-1zm-350 1h1v1h-1zm233 0h1v1h-1zm15 0h1v1h-1zm95 0h1v1h-1zm-325 1h1v1h-1zm17 0h1v1h-1zm259 0h1v1h-1zm14 0h1v1h-1zm46 0h1v1h-1zm-452 1h1v1h-1zm132 0h1v1h-1zm-99 1h1v1h-1zm22 0h1v1h-1zm31 0h1v1h-1zm246 0h1v1h-1zm89 0h1v1h-1zm4 0h1v1h-1zm-337 1h1v1h-1zm16 0h1v1h-1zm-99 1h2v1h-2zm6 0h1v1h-1zm37 0h1v1h-1zm26 0h1v1h-1zm3 0h1v1h-1zm318 0h1v1h-1zm-382 1h1v1h-1zm50 0h1v1h-1zm391 0h1v1h-1zm6 0h1v1h-1zm-442 1h1v1h-1zm2 0h1v1h-1zm25 0h1v1h-1zm3 0h1v1h-1zm354 0h1v1h-1zm49 0h1v1h-1zm-396 1h1v1h-1zm-21 1h1v1h-1zm10 0h1v1h-1zm-16 1h1v1h-1zm26 0h1v1h-1zm3 0h1v1h-1zm12 1h1v1h-1zm-16 1h1v1h-1zm334 0h1v1h-1zm-369 1h1v1h-1zm383 3h1v1h-1zm1 2h1v1h-1zm-86 4h1v1h-1zm1 1h1v1h-1zm-12 9h1v1h-1zm-186 4h1v1h-1zm2 0h1v1h-1zm214 0h1v1h-1zm2 0h1v1h-1zm-25 3h1v1h-1zm8 0h1v1h-1zm-196 1h1v1h-1zm-12 3h1v1h-1zm221 0h1v1h-1zm-11 1h2v1h-2zm6 0h1v1h-1zm-200 1h1v1h-1zm195 0h1v1h-1zm15 0h1v1h-1zm104 0h1v1h-1zm-319 1h1v1h-1zm194 1h1v1h-1zm0 1h1v1h-1zm8 0h1v1h-1zm54 0h1v1h-1zm-260 1h1v1h-1zm206 0h1v1h-1zm102 0h1v1h-1zm-322 1h1v1h-1zm28 0h1v1h-1zm180 0h1v1h-1zm-182 1h1v1h-1zm179 0h1v1h-1zm36 0h1v1h-1zm34 0h1v1h-1zm2 0h1v1h-1zm-386 1h1v1h-1zm324 0h1v1h-1zm17 0h1v1h-1zm21 0h1v1h-1zm77 0h1v1h-1zm-436 1h1v1h-1zm110 0h1v1h-1zm27 0h1v1h-1zm306 0h1v1h-1zm4 0h1v1h-1zm-446 1h1v1h-1zm108 0h1v1h-1zm3 0h1v1h-1zm3 0h1v1h-1zm198 0h1v1h-1zm33 0h1v1h-1zm11 0h1v1h-1zm30 0h1v1h-1zm29 0h1v1h-1zm16 0h1v1h-1zm40 0h1v1h-1zm-129 1h1v1h-1zm26 0h1v1h-1zm18 0h1v1h-1zm46 0h1v1h-1zm-401 1h1v1h-1zm4 0h1v1h-1zm70 0h1v1h-1zm10 0h1v1h-1zm337 0h1v1h-1zm-419 1h1v1h-1zm107 0h1v1h-1zm191 0h1v1h-1zm21 0h2v1h-2zm72 0h1v1h-1zm38 0h1v1h-1zm-416 1h1v1h-1zm46 0h1v1h-1zm2 0h1v1h-1zm254 0h1v1h-1zm-300 1h2v1h-2zm32 0h1v1h-1zm5 0h1v1h-1zm6 0h1v1h-1zm302 0h1v1h-1zm6 0h1v1h-1zm39 0h1v1h-1zm32 0h1v1h-1zm-457 1h1v1h-1zm2 0h1v1h-1zm72 0h1v1h-1zm269 0h1v1h-1zm-359 1h1v1h-1zm52 0h1v1h-1zm28 0h1v1h-1zm47 0h1v1h-1zm218 0h1v1h-1zm3 0h1v1h-1zm19 0h1v1h-1zm65 0h1v1h-1zm4 0h1v1h-1zm-436 1h1v1h-1zm5 0h1v1h-1zm51 0h1v1h-1zm59 0h1v1h-1zm4 0h1v1h-1zm235 0h1v1h-1zm51 0h1v1h-1zm4 0h1v1h-1zm7 0h1v1h-1zm11 0h1v1h-1zm-426 1h1v1h-1zm57 0h1v1h-1zm3 0h1v1h-1zm7 0h1v1h-1zm67 0h1v1h-1zm222 0h1v1h-1zm34 0h1v1h-1zm18 0h1v1h-1zm-302 1h1v1h-1zm240 0h1v1h-1zm83 0h1v1h-1zm30 0h1v1h-1zm-394 1h1v1h-1zm28 0h1v1h-1zm3 0h1v1h-1zm-58 1h1v1h-1zm49 0h1v1h-1zm290 0h1v1h-1zm44 0h1v1h-1zm39 0h1v1h-1zm-441 1h1v1h-1zm3 0h1v1h-1zm5 0h1v1h-1zm6 0h2v1h-2zm49 0h1v1h-1zm24 0h1v1h-1zm266 0h1v1h-1zm3 0h1v1h-1zm10 0h1v1h-1zm-329 1h1v1h-1zm2 0h1v1h-1zm57 0h1v1h-1zm25 0h1v1h-1zm266 0h1v1h-1zm-21 1h1v1h-1zm50 1h1v1h-1zm-40 1h1v1h-1zm25 0h1v1h-1zm-347 1h1v1h-1zm-29 1h1v1h-1zm360 0h1v1h-1zm-335 1h1v1h-1zm-5 3h1v1h-1zm-2 4h1v1h-1zm0 4h1v1h-1zm245 15h1v1h-1zm1 13h1v1h-1zm10 17h1v1h-1zm-11 6h1v1h-1zm47 4h1v1h-1zm-46 3h1v1h-1zm17 2h1v1h-1zm10 2h1v1h-1zm16 3h1v1h-1zm2 1h1v1h-1zm5 1h1v1h-1zm-17 1h1v1h-1zm16 0h1v1h-1zm-40 1h1v1h-1zm21 0h1v1h-1zm32 0h1v1h-1zm-53 1h1v1h-1zm21 0h1v1h-1zm-23 1h1v1h-1zm2 0h1v1h-1zm61 0h1v1h-1zm-250 1h2v1h-2zm219 0h1v1h-1zm30 0h1v1h-1zm-249 1h1v1h-1zm237 0h1v1h-1zm12 0h1v1h-1zm65 0h1v1h-1zm-402 1h1v1h-1zm86 0h1v1h-1zm6 0h1v1h-1zm-14 1h1v1h-1zm242 0h1v1h-1zm10 0h1v1h-1zm-267 1h1v1h-1zm14 0h1v1h-1zm3 0h1v1h-1zm11 0h1v1h-1zm203 0h1v1h-1zm8 0h1v1h-1zm76 0h1v1h-1zm10 0h1v1h-1zm11 0h1v1h-1zm21 0h1v1h-1zm-318 1h1v1h-1zm247 0h1v1h-1zm2 0h1v1h-1zm46 0h1v1h-1zm13 0h1v1h-1zm15 0h1v1h-1zm-379 1h1v1h-1zm26 0h1v1h-1zm252 0h1v1h-1zm87 0h1v1h-1zm-435 1h1v1h-1zm10 0h1v1h-1zm27 0h1v1h-1zm274 0h1v1h-1zm13 0h1v1h-1zm75 0h1v1h-1zm38 0h1v1h-1zm-454 1h1v1h-1zm8 0h1v1h-1zm13 0h1v1h-1zm22 0h1v1h-1zm342 0h1v1h-1zm18 0h1v1h-1zm-406 1h1v1h-1zm23 0h1v1h-1zm53 0h1v1h-1zm269 0h1v1h-1zm92 0h1v1h-1zm-417 1h1v1h-1zm28 0h1v1h-1zm63 0h1v1h-1zm37 0h1v1h-1zm266 0h1v1h-1zm-373 1h1v1h-1zm73 0h1v1h-1zm2 0h1v1h-1zm298 0h1v1h-1zm19 0h1v1h-1zm16 0h1v1h-1zm5 0h1v1h-1zm-447 1h1v1h-1zm13 0h1v1h-1zm22 0h1v1h-1zm21 0h1v1h-1zm38 0h1v1h-1zm29 0h1v1h-1zm-35 1h1v1h-1zm51 0h1v1h-1zm-68 1h1v1h-1zm2 1h1v1h-1zm26 0h1v1h-1zm-50 1h1v1h-1zm56 0h1v1h-1zm-47 3h1v1h-1zm8 2h1v1h-1z"/><path fill="#009fff" d="m306 75h1v1h-1zm4 3h1v1h-1zm5 1h1v1h-1zm-3 5h1v1h-1zm-13 4h1v1h-1zm0 7h1v1h-1zm13 0h1v1h-1zm-6 5h1v1h-1zm55 0h1v1h-1zm-27 2h1v1h-1zm12 2h1v1h-1zm-337 2h1v1h-1zm130 0h1v1h-1zm207 0h1v1h-1zm-208 1h1v1h-1zm9 0h1v1h-1zm185 0h1v1h-1zm5 0h1v1h-1zm-335 1h1v1h-1zm132 0h1v1h-1zm8 0h1v1h-1zm258 0h1v1h-1zm-287 1h1v1h-1zm30 0h1v1h-1zm199 0h1v1h-1zm-225 1h1v1h-1zm191 0h1v1h-1zm-299 1h1v1h-1zm19 0h2v1h-2zm325 0h1v1h-1zm61 0h1v1h-1zm-384 1h1v1h-1zm88 0h1v1h-1zm219 0h1v1h-1zm9 0h1v1h-1zm6 0h1v1h-1zm6 0h1v1h-1zm-346 1h1v1h-1zm27 0h1v1h-1zm13 0h1v1h-1zm96 0h1v1h-1zm5 0h1v1h-1zm241 0h1v1h-1zm2 0h1v1h-1zm58 0h1v1h-1zm9 0h1v1h-1zm-422 1h1v1h-1zm8 0h1v1h-1zm5 0h1v1h-1zm3 0h1v1h-1zm23 0h1v1h-1zm6 0h1v1h-1zm6 0h1v1h-1zm16 0h1v1h-1zm15 0h1v1h-1zm279 0h1v1h-1zm-358 1h1v1h-1zm6 0h1v1h-1zm42 0h1v1h-1zm57 0h1v1h-1zm9 0h1v1h-1zm4 0h1v1h-1zm181 0h1v1h-1zm46 0h1v1h-1zm56 0h1v1h-1zm11 0h1v1h-1zm-406 1h1v1h-1zm54 0h1v1h-1zm60 0h1v1h-1zm275 0h1v1h-1zm19 0h1v1h-1zm-457 1h1v1h-1zm42 0h1v1h-1zm24 0h1v1h-1zm2 0h1v1h-1zm64 0h1v1h-1zm26 0h1v1h-1zm-57 1h1v1h-1zm2 0h1v1h-1zm23 1h1v1h-1zm33 0h1v1h-1zm248 0h1v1h-1zm-400 1h1v1h-1zm3 0h1v1h-1zm3 0h1v1h-1zm84 0h1v1h-1zm70 0h1v1h-1zm-129 1h1v1h-1zm32 0h1v1h-1zm14 0h1v1h-1zm5 0h1v1h-1zm2 0h1v1h-1zm-52 1h1v1h-1zm7 0h1v1h-1zm6 0h1v1h-1zm23 0h1v1h-1zm-31 1h1v1h-1zm23 0h1v1h-1zm265 13h1v1h-1zm9 3h1v1h-1zm-27 1h1v1h-1zm6 4h1v1h-1zm48 5h1v1h-1zm-44 1h1v1h-1zm14 0h1v1h-1zm14 0h1v1h-1zm-36 3h1v1h-1zm39 2h1v1h-1zm-220 2h1v1h-1zm200 1h1v1h-1zm24 0h1v1h-1zm14 0h1v1h-1zm-26 1h1v1h-1zm11 0h1v1h-1zm-36 1h1v1h-1zm8 1h1v1h-1zm21 1h1v1h-1zm-352 1h1v1h-1zm4 0h1v1h-1zm312 0h1v1h-1zm10 0h1v1h-1zm10 0h1v1h-1zm25 0h1v1h-1zm-357 2h1v1h-1zm127 0h1v1h-1zm199 0h1v1h-1zm17 0h1v1h-1zm11 0h1v1h-1zm-354 1h1v1h-1zm141 0h1v1h-1zm234 0h1v1h-1zm-370 1h1v1h-1zm116 0h2v1h-2zm206 0h1v1h-1zm4 0h2v1h-2zm20 0h1v1h-1zm26 0h1v1h-1zm63 0h1v1h-1zm-400 1h1v1h-1zm81 0h1v1h-1zm14 0h1v1h-1zm4 0h1v1h-1zm233 0h1v1h-1zm-333 1h1v1h-1zm80 0h1v1h-1zm22 0h1v1h-1zm208 0h1v1h-1zm-318 1h2v1h-2zm68 0h1v1h-1zm8 0h1v1h-1zm308 0h1v1h-1zm32 0h1v1h-1zm13 0h1v1h-1zm-389 1h1v1h-1zm8 0h1v1h-1zm33 0h1v1h-1zm11 0h1v1h-1zm271 0h1v1h-1zm-288 1h3v1h-3zm346 0h1v1h-1zm17 0h1v1h-1zm3 0h1v1h-1zm-363 1h1v1h-1zm287 0h1v1h-1zm9 0h1v1h-1zm-381 1h1v1h-1zm9 0h1v1h-1zm393 0h1v1h-1zm-379 1h1v1h-1zm40 0h1v1h-1zm-40 1h1v1h-1zm13 0h1v1h-1zm16 0h1v1h-1zm330 0h1v1h-1zm-397 1h1v1h-1zm7 0h1v1h-1zm51 0h1v1h-1zm4 0h1v1h-1zm-4 1h1v1h-1zm367 0h1v1h-1zm-365 1h1v1h-1zm241 37h1v1h-1zm-7 3h1v1h-1zm4 1h1v1h-1zm8 4h1v1h-1zm28 9h1v1h-1zm-239 4h1v1h-1zm239 1h1v1h-1zm-32 3h1v1h-1zm3 0h1v1h-1zm26 0h1v1h-1zm14 0h1v1h-1zm-43 1h1v1h-1zm8 0h1v1h-1zm19 0h1v1h-1zm4 1h1v1h-1zm-248 1h1v1h-1zm25 0h1v1h-1zm3 0h1v1h-1zm184 0h1v1h-1zm7 0h1v1h-1zm24 0h1v1h-1zm8 0h1v1h-1zm-345 1h1v1h-1zm71 0h1v1h-1zm258 0h1v1h-1zm26 0h1v1h-1zm36 0h1v1h-1zm-73 1h1v1h-1zm-182 1h1v1h-1zm208 0h1v1h-1zm-242 1h1v1h-1zm25 0h1v1h-1zm2 0h1v1h-1zm234 0h1v1h-1zm5 0h1v1h-1zm-370 1h1v1h-1zm104 0h1v1h-1zm9 0h1v1h-1zm261 0h1v1h-1zm17 0h1v1h-1zm9 0h1v1h-1zm65 0h1v1h-1zm-152 1h1v1h-1zm73 0h1v1h-1zm5 0h1v1h-1zm10 0h1v1h-1zm68 0h1v1h-1zm-366 1h1v1h-1zm22 0h1v1h-1zm301 0h1v1h-1zm-422 1h2v1h-2zm28 0h1v1h-1zm86 0h1v1h-1zm240 0h1v1h-1zm52 0h1v1h-1zm21 0h1v1h-1zm42 0h1v1h-1zm-475 1h1v1h-1zm28 0h1v1h-1zm58 0h1v1h-1zm8 0h1v1h-1zm214 0h1v1h-1zm36 0h1v1h-1zm70 0h1v1h-1zm56 0h1v1h-1zm-468 1h1v1h-1zm36 0h2v1h-2zm9 0h1v1h-1zm63 0h1v1h-1zm19 0h1v1h-1zm187 0h1v1h-1zm19 0h1v1h-1zm70 0h1v1h-1zm-378 1h1v1h-1zm25 0h1v1h-1zm52 0h2v1h-2zm317 0h1v1h-1zm-398 1h1v1h-1zm83 0h1v1h-1zm345 0h1v1h-1zm10 0h1v1h-1zm-401 1h1v1h-1zm278 0h1v1h-1zm66 0h1v1h-1zm65 0h1v1h-1zm-409 1h1v1h-1zm286 0h1v1h-1zm7 0h1v1h-1zm66 0h1v1h-1zm14 0h1v1h-1zm-384 1h1v1h-1zm45 0h1v1h-1zm10 0h1v1h-1zm7 0h1v1h-1zm205 0h1v1h-1zm16 0h1v1h-1zm2 0h1v1h-1zm61 0h1v1h-1zm-388 1h1v1h-1zm30 0h1v1h-1zm30 0h1v1h-1zm244 0h1v1h-1zm149 0h1v1h-1zm-426 1h2v1h-2zm15 0h1v1h-1zm37 0h1v1h-1zm311 0h1v1h-1zm30 0h1v1h-1zm-398 1h1v1h-1zm5 0h1v1h-1zm5 0h1v1h-1zm70 0h1v1h-1zm-92 1h1v1h-1zm31 0h1v1h-1zm5 0h1v1h-1zm19 0h1v1h-1zm2 0h1v1h-1zm245 1h1v1h-1zm-300 1h1v1h-1zm42 1h1v1h-1zm396 0h1v1h-1zm-79 1h1v1h-1zm11 1h1v1h-1zm-324 2h1v1h-1zm-4 1h1v1h-1zm252 2h1v1h-1zm-3 8h1v1h-1zm4 2h1v1h-1zm2 3h1v1h-1zm25 2h1v1h-1zm-30 2h1v1h-1zm10 1h1v1h-1zm-8 4h1v1h-1zm13 1h1v1h-1zm-197 2h1v1h-1zm183 0h1v1h-1zm46 0h1v1h-1zm-42 1h1v1h-1zm28 0h1v1h-1zm-5 1h1v1h-1zm-209 1h1v1h-1zm5 1h1v1h-1zm4 0h1v1h-1zm170 0h1v1h-1zm44 0h1v1h-1zm-11 1h1v1h-1zm33 0h1v1h-1zm22 0h1v1h-1zm-266 1h1v1h-1zm198 0h1v1h-1zm25 0h1v1h-1zm-12 1h1v1h-1zm11 1h1v1h-1zm2 0h1v1h-1zm6 0h1v1h-1zm11 0h1v1h-1zm-35 1h1v1h-1zm28 0h1v1h-1zm2 0h1v1h-1zm7 0h1v1h-1zm9 0h1v1h-1zm-265 1h1v1h-1zm9 0h1v1h-1zm18 0h1v1h-1zm195 0h1v1h-1zm31 0h1v1h-1zm4 0h1v1h-1zm-371 1h1v1h-1zm104 0h1v1h-1zm9 0h1v1h-1zm270 0h1v1h-1zm57 0h1v1h-1zm-355 1h1v1h-1zm1 1h1v1h-1zm14 0h1v1h-1zm28 0h1v1h-1zm267 0h1v1h-1zm15 0h1v1h-1zm-374 1h1v1h-1zm59 0h1v1h-1zm362 0h1v1h-1zm-453 1h1v1h-1zm97 0h1v1h-1zm2 0h1v1h-1zm10 0h1v1h-1zm4 0h1v1h-1zm212 0h1v1h-1zm70 0h1v1h-1zm56 0h1v1h-1zm-459 1h1v1h-1zm93 0h1v1h-1zm3 0h1v1h-1zm33 0h1v1h-1zm202 0h1v1h-1zm10 0h1v1h-1zm-312 1h1v1h-1zm6 0h1v1h-1zm40 0h1v1h-1zm8 0h1v1h-1zm260 0h1v1h-1zm2 0h1v1h-1zm65 0h1v1h-1zm14 0h1v1h-1zm45 0h1v1h-1zm-392 1h1v1h-1zm5 0h1v1h-1zm41 0h1v1h-1zm259 0h1v1h-1zm54 0h1v1h-1zm-351 1h1v1h-1zm54 0h1v1h-1zm251 0h2v1h-2zm-333 1h1v1h-1zm64 0h1v1h-1zm297 0h1v1h-1zm13 0h1v1h-1zm5 0h1v1h-1zm11 0h1v1h-1zm-384 1h1v1h-1zm7 0h1v1h-1zm44 0h1v1h-1zm229 0h1v1h-1zm37 0h1v1h-1zm-345 1h1v1h-1zm9 0h1v1h-1zm15 0h1v1h-1zm34 0h1v1h-1zm4 0h1v1h-1zm6 0h1v1h-1zm10 0h1v1h-1zm309 0h1v1h-1zm3 0h1v1h-1zm-403 1h1v1h-1zm65 0h1v1h-1zm9 0h1v1h-1zm2 0h1v1h-1zm21 0h1v1h-1zm4 0h1v1h-1zm20 0h1v1h-1zm-119 1h1v1h-1zm6 0h1v1h-1zm4 0h1v1h-1zm10 0h1v1h-1zm7 0h1v1h-1zm27 0h1v1h-1zm2 0h1v1h-1zm27 0h1v1h-1zm322 0h1v1h-1zm-414 1h1v1h-1zm37 0h1v1h-1zm19 0h1v1h-1zm10 0h1v1h-1zm16 0h1v1h-1zm46 0h1v1h-1zm-131 1h1v1h-1zm377 0h1v1h-1zm76 0h1v1h-1zm-444 1h1v1h-1zm29 0h1v1h-1zm20 0h1v1h-1zm21 0h1v1h-1zm260 0h1v1h-1zm-296 1h1v1h-1zm3 0h1v1h-1zm291 0h1v1h-1zm71 0h1v1h-1zm-406 1h1v1h-1zm52 0h1v1h-1zm2 0h1v1h-1zm370 0h1v1h-1zm-382 1h1v1h-1zm-43 2h1v1h-1zm64 0h1v1h-1zm331 1h1v1h-1zm-30 1h1v1h-1zm-314 1h1v1h-1zm-5 4h1v1h-1zm279 41h1v1h-1zm-26 11h1v1h-1zm4 8h1v1h-1zm6 0h1v1h-1zm9 5h1v1h-1zm-9 1h1v1h-1zm4 0h1v1h-1zm2 1h1v1h-1zm19 3h1v1h-1zm-30 2h1v1h-1zm10 0h1v1h-1zm31 0h1v1h-1zm-358 2h1v1h-1zm356 0h1v1h-1zm29 2h1v1h-1zm-259 1h1v1h-1zm-90 1h1v1h-1zm325 0h1v1h-1zm43 0h1v1h-1zm-278 1h1v1h-1zm301 0h1v1h-1zm3 0h1v1h-1zm-312 1h1v1h-1zm18 0h1v1h-1zm6 0h1v1h-1zm231 0h1v1h-1zm29 0h1v1h-1zm-283 1h1v1h-1zm224 0h1v1h-1zm119 0h1v1h-1zm-427 1h1v1h-1zm47 0h2v1h-2zm28 0h1v1h-1zm250 0h1v1h-1zm81 0h1v1h-1zm30 0h1v1h-1zm-471 1h1v1h-1zm22 0h1v1h-1zm9 0h1v1h-1zm21 0h1v1h-1zm64 0h1v1h-1zm301 0h1v1h-1zm39 0h1v1h-1zm12 0h1v1h-1zm4 0h1v1h-1zm-471 1h1v1h-1zm30 0h1v1h-1zm26 0h1v1h-1zm3 0h1v1h-1zm70 0h1v1h-1zm21 0h1v1h-1zm218 0h1v1h-1zm9 0h1v1h-1zm14 0h1v1h-1zm51 0h1v1h-1zm16 0h1v1h-1zm-432 1h1v1h-1zm29 0h1v1h-1zm3 0h1v1h-1zm8 0h1v1h-1zm-29 1h1v1h-1zm8 0h1v1h-1zm11 0h1v1h-1zm2 0h1v1h-1zm302 0h1v1h-1zm4 0h1v1h-1zm22 0h1v1h-1zm86 0h1v1h-1zm-51 1h1v1h-1zm-323 1h1v1h-1zm15 0h1v1h-1zm287 0h1v1h-1zm-379 1h1v1h-1zm9 0h1v1h-1zm17 0h1v1h-1zm6 0h1v1h-1zm29 0h1v1h-1zm22 0h1v1h-1zm2 0h1v1h-1zm331 0h1v1h-1zm19 0h1v1h-1zm-406 1h1v1h-1zm60 0h1v1h-1zm2 0h1v1h-1zm276 0h1v1h-1zm-315 1h1v1h-1zm37 0h1v1h-1zm-98 1h1v1h-1zm62 0h1v1h-1zm375 0h1v1h-1zm-296 1h1v1h-1zm-85 1h1v1h-1zm-7 1h1v1h-1zm1 3h1v1h-1z"/><path fill="#00afff" d="m307 81h1v1h-1zm-7 4h1v1h-1zm5 2h1v1h-1zm-6 6h1v1h-1zm8 3h1v1h-1zm61 1h1v1h-1zm-8 2h1v1h-1zm-57 1h1v1h-1zm56 0h1v1h-1zm-47 1h1v1h-1zm-311 1h1v1h-1zm335 0h1v1h-1zm-334 2h1v1h-1zm304 2h1v1h-1zm-171 1h1v1h-1zm9 0h1v1h-1zm2 0h1v1h-1zm161 0h1v1h-1zm11 0h1v1h-1zm-186 1h1v1h-1zm209 0h2v1h-2zm-337 1h1v1h-1zm137 0h1v1h-1zm167 0h1v1h-1zm-204 1h1v1h-1zm3 0h1v1h-1zm11 0h1v1h-1zm29 0h1v1h-1zm3 0h1v1h-1zm181 0h1v1h-1zm54 0h1v1h-1zm-354 1h1v1h-1zm85 0h1v1h-1zm14 0h1v1h-1zm42 0h1v1h-1zm158 0h1v1h-1zm4 0h1v1h-1zm12 0h1v1h-1zm5 0h1v1h-1zm71 0h1v1h-1zm-421 1h1v1h-1zm25 0h1v1h-1zm9 0h1v1h-1zm65 0h1v1h-1zm15 0h1v1h-1zm230 0h1v1h-1zm-180 1h1v1h-1zm5 0h1v1h-1zm204 0h1v1h-1zm-350 1h1v1h-1zm36 0h1v1h-1zm23 0h1v1h-1zm38 0h1v1h-1zm25 0h1v1h-1zm246 0h1v1h-1zm-374 1h1v1h-1zm62 0h1v1h-1zm44 0h1v1h-1zm256 0h1v1h-1zm-358 1h1v1h-1zm48 0h1v1h-1zm2 0h1v1h-1zm31 0h1v1h-1zm29 0h1v1h-1zm43 0h1v1h-1zm-82 1h1v1h-1zm12 0h1v1h-1zm22 0h1v1h-1zm352 0h1v1h-1zm-460 1h1v1h-1zm12 0h1v1h-1zm80 0h1v1h-1zm7 0h1v1h-1zm38 0h1v1h-1zm-30 1h1v1h-1zm37 0h1v1h-1zm2 0h1v1h-1zm219 0h1v1h-1zm-345 1h1v1h-1zm19 0h1v1h-1zm350 0h1v1h-1zm-367 1h1v1h-1zm43 0h1v1h-1zm-66 1h1v1h-1zm2 0h1v1h-1zm41 0h2v1h-2zm3 0h1v1h-1zm101 0h1v1h-1zm-147 1h1v1h-1zm45 0h1v1h-1zm2 0h1v1h-1zm29 0h1v1h-1zm62 0h1v1h-1zm155 1h1v1h-1zm-265 1h1v1h-1zm259 10h1v1h-1zm34 10h1v1h-1zm23 9h1v1h-1zm-53 1h1v1h-1zm48 0h1v1h-1zm-10 1h1v1h-1zm27 0h1v1h-1zm-27 2h1v1h-1zm-19 2h1v1h-1zm45 0h1v1h-1zm-234 1h1v1h-1zm220 0h1v1h-1zm-17 1h1v1h-1zm2 2h1v1h-1zm31 0h1v1h-1zm-237 2h1v1h-1zm4 0h1v1h-1zm192 0h1v1h-1zm31 0h1v1h-1zm83 0h1v1h-1zm-322 2h1v1h-1zm5 0h1v1h-1zm238 0h1v1h-1zm96 0h1v1h-1zm-359 1h1v1h-1zm15 0h1v1h-1zm223 0h1v1h-1zm13 0h1v1h-1zm13 0h1v1h-1zm-258 1h1v1h-1zm310 0h1v1h-1zm11 0h1v1h-1zm46 0h1v1h-1zm-403 1h1v1h-1zm14 0h1v1h-1zm2 0h1v1h-1zm273 0h1v1h-1zm51 0h1v1h-1zm5 0h1v1h-1zm-374 1h1v1h-1zm7 0h1v1h-1zm69 0h1v1h-1zm237 0h1v1h-1zm29 0h1v1h-1zm22 0h1v1h-1zm21 0h1v1h-1zm-422 1h1v1h-1zm24 0h1v1h-1zm6 0h1v1h-1zm72 0h1v1h-1zm299 0h1v1h-1zm-375 1h1v1h-1zm5 0h1v1h-1zm23 0h1v1h-1zm26 0h1v1h-1zm4 0h1v1h-1zm8 0h1v1h-1zm-83 2h2v1h-2zm-5 1h1v1h-1zm49 0h1v1h-1zm17 1h1v1h-1zm231 30h1v1h-1zm4 7h1v1h-1zm1 1h1v1h-1zm-2 5h1v1h-1zm4 4h1v1h-1zm-187 7h1v1h-1zm177 0h1v1h-1zm13 2h1v1h-1zm-7 1h1v1h-1zm47 1h1v1h-1zm-227 1h1v1h-1zm194 0h1v1h-1zm-15 1h1v1h-1zm-1 2h1v1h-1zm-180 1h1v1h-1zm3 1h1v1h-1zm-32 1h1v1h-1zm39 0h1v1h-1zm166 0h1v1h-1zm2 0h1v1h-1zm48 0h1v1h-1zm-241 1h1v1h-1zm221 0h1v1h-1zm17 0h1v1h-1zm-30 2h1v1h-1zm-226 1h2v1h-2zm223 0h1v1h-1zm-183 1h1v1h-1zm180 0h1v1h-1zm29 0h1v1h-1zm-254 1h1v1h-1zm43 0h1v1h-1zm5 0h1v1h-1zm-51 1h1v1h-1zm45 0h1v1h-1zm200 0h1v1h-1zm44 0h1v1h-1zm45 0h1v1h-1zm29 0h1v1h-1zm-103 1h1v1h-1zm39 0h1v1h-1zm62 0h1v1h-1zm19 0h1v1h-1zm-438 1h1v1h-1zm17 0h1v1h-1zm44 0h1v1h-1zm5 0h1v1h-1zm270 0h1v1h-1zm27 0h1v1h-1zm30 0h1v1h-1zm17 0h1v1h-1zm4 0h1v1h-1zm10 0h1v1h-1zm2 0h1v1h-1zm-443 1h1v1h-1zm4 0h1v1h-1zm26 0h1v1h-1zm32 0h1v1h-1zm257 0h1v1h-1zm70 0h1v1h-1zm23 0h1v1h-1zm8 0h1v1h-1zm11 0h1v1h-1zm15 0h1v1h-1zm2 0h1v1h-1zm5 0h1v1h-1zm-368 1h2v1h-2zm23 0h1v1h-1zm12 0h1v1h-1zm-133 1h1v1h-1zm16 0h1v1h-1zm17 0h1v1h-1zm24 0h1v1h-1zm17 0h1v1h-1zm46 0h1v1h-1zm214 0h1v1h-1zm35 0h1v1h-1zm18 0h1v1h-1zm51 0h1v1h-1zm-438 2h1v1h-1zm28 1h1v1h-1zm362 0h1v1h-1zm2 0h1v1h-1zm34 0h1v1h-1zm38 0h1v1h-1zm-420 1h1v1h-1zm54 0h1v1h-1zm12 0h1v1h-1zm3 0h1v1h-1zm27 0h1v1h-1zm203 0h1v1h-1zm59 0h1v1h-1zm-392 1h1v1h-1zm34 0h1v1h-1zm27 0h1v1h-1zm31 0h1v1h-1zm205 0h1v1h-1zm-271 1h1v1h-1zm42 0h1v1h-1zm343 0h1v1h-1zm-406 1h1v1h-1zm31 0h1v1h-1zm2 0h1v1h-1zm348 0h1v1h-1zm-347 1h1v1h-1zm5 1h1v1h-1zm9 2h1v1h-1zm341 0h1v1h-1zm-85 7h1v1h-1zm1 7h1v1h-1zm-15 2h1v1h-1zm1 2h1v1h-1zm38 7h1v1h-1zm-26 1h1v1h-1zm-10 2h1v1h-1zm5 1h1v1h-1zm9 0h1v1h-1zm-12 1h1v1h-1zm6 1h1v1h-1zm21 0h1v1h-1zm-7 1h1v1h-1zm21 0h1v1h-1zm-219 1h1v1h-1zm-10 1h1v1h-1zm6 0h1v1h-1zm-8 1h1v1h-1zm15 0h1v1h-1zm218 0h1v1h-1zm85 0h1v1h-1zm-131 2h1v1h-1zm21 0h1v1h-1zm29 0h1v1h-1zm5 0h1v1h-1zm-244 1h1v1h-1zm224 0h1v1h-1zm6 0h1v1h-1zm10 0h1v1h-1zm-235 1h1v1h-1zm226 0h1v1h-1zm-352 2h2v1h-2zm106 0h1v1h-1zm17 0h1v1h-1zm219 0h1v1h-1zm-239 1h1v1h-1zm241 0h1v1h-1zm3 0h1v1h-1zm10 0h1v1h-1zm-30 1h1v1h-1zm10 0h1v1h-1zm-237 1h1v1h-1zm-93 1h1v1h-1zm37 0h1v1h-1zm340 0h1v1h-1zm6 0h1v1h-1zm13 0h1v1h-1zm-361 1h1v1h-1zm4 0h1v1h-1zm7 0h1v1h-1zm24 0h1v1h-1zm19 0h1v1h-1zm12 0h1v1h-1zm4 0h1v1h-1zm219 0h1v1h-1zm46 0h1v1h-1zm16 0h1v1h-1zm-359 1h1v1h-1zm16 0h1v1h-1zm68 0h1v1h-1zm-108 1h1v1h-1zm9 0h1v1h-1zm80 0h1v1h-1zm14 0h1v1h-1zm248 0h1v1h-1zm107 0h1v1h-1zm-467 1h1v1h-1zm47 0h1v1h-1zm53 0h1v1h-1zm30 0h1v1h-1zm199 0h1v1h-1zm58 0h1v1h-1zm7 0h1v1h-1zm27 0h1v1h-1zm56 0h1v1h-1zm-478 1h1v1h-1zm10 0h1v1h-1zm19 0h1v1h-1zm27 0h1v1h-1zm4 0h1v1h-1zm18 0h1v1h-1zm315 0h1v1h-1zm24 0h1v1h-1zm36 0h1v1h-1zm-385 1h1v1h-1zm28 0h1v1h-1zm25 0h1v1h-1zm217 0h1v1h-1zm14 0h1v1h-1zm89 0h1v1h-1zm-436 1h1v1h-1zm111 0h1v1h-1zm26 0h1v1h-1zm247 0h1v1h-1zm49 0h1v1h-1zm-431 1h1v1h-1zm112 0h1v1h-1zm265 0h1v1h-1zm35 0h1v1h-1zm16 0h1v1h-1zm8 0h1v1h-1zm31 0h1v1h-1zm-468 1h1v1h-1zm72 0h1v1h-1zm33 0h1v1h-1zm34 0h1v1h-1zm330 0h1v1h-1zm-457 1h1v1h-1zm58 0h1v1h-1zm2 0h1v1h-1zm3 0h1v1h-1zm12 0h1v1h-1zm18 0h1v1h-1zm326 0h1v1h-1zm26 0h2v1h-2zm-431 1h1v1h-1zm16 0h2v1h-2zm26 0h1v1h-1zm14 0h1v1h-1zm6 0h1v1h-1zm281 0h1v1h-1zm9 0h1v1h-1zm-364 1h1v1h-1zm16 0h1v1h-1zm404 0h1v1h-1zm-429 1h1v1h-1zm22 0h1v1h-1zm38 0h1v1h-1zm294 0h1v1h-1zm-340 1h1v1h-1zm420 0h1v1h-1zm15 0h1v1h-1zm-389 1h1v1h-1zm7 0h1v1h-1zm-21 1h1v1h-1zm-40 2h1v1h-1zm390 0h1v1h-1zm-340 7h1v1h-1zm244 4h1v1h-1zm25 42h1v1h-1zm3 5h1v1h-1zm-28 4h1v1h-1zm28 3h1v1h-1zm21 2h1v1h-1zm-40 4h1v1h-1zm-2 1h1v1h-1zm28 1h1v1h-1zm-29 2h1v1h-1zm35 2h1v1h-1zm-39 1h1v1h-1zm24 0h1v1h-1zm-19 4h1v1h-1zm6 0h1v1h-1zm124 1h1v1h-1zm-131 1h1v1h-1zm4 0h1v1h-1zm23 0h1v1h-1zm13 0h1v1h-1zm5 0h1v1h-1zm-231 1h1v1h-1zm-90 1h1v1h-1zm84 0h1v1h-1zm4 0h1v1h-1zm215 0h1v1h-1zm2 0h1v1h-1zm39 0h1v1h-1zm-3 1h1v1h-1zm62 0h1v1h-1zm-404 1h1v1h-1zm108 0h1v1h-1zm213 0h1v1h-1zm42 0h1v1h-1zm15 0h1v1h-1zm-322 1h1v1h-1zm5 0h1v1h-1zm261 0h1v1h-1zm54 0h1v1h-1zm20 0h1v1h-1zm42 0h1v1h-1zm-446 1h1v1h-1zm4 0h1v1h-1zm335 0h1v1h-1zm4 0h1v1h-1zm94 0h1v1h-1zm-358 1h1v1h-1zm262 0h1v1h-1zm87 0h1v1h-1zm-437 1h1v1h-1zm17 0h1v1h-1zm84 0h1v1h-1zm250 0h1v1h-1zm21 0h1v1h-1zm10 0h1v1h-1zm66 0h1v1h-1zm-460 1h1v1h-1zm75 0h1v1h-1zm51 0h1v1h-1zm213 0h1v1h-1zm82 0h1v1h-1zm41 0h1v1h-1zm-470 1h1v1h-1zm3 0h1v1h-1zm59 0h1v1h-1zm310 0h1v1h-1zm79 0h1v1h-1zm-450 1h1v1h-1zm27 0h1v1h-1zm7 0h1v1h-1zm54 0h1v1h-1zm28 0h1v1h-1zm27 0h1v1h-1zm266 0h1v1h-1zm18 0h1v1h-1zm21 0h1v1h-1zm-370 1h1v1h-1zm21 0h1v1h-1zm50 0h1v1h-1zm285 0h1v1h-1zm-400 1h1v1h-1zm39 0h1v1h-1zm11 0h1v1h-1zm2 0h1v1h-1zm22 0h1v1h-1zm267 0h1v1h-1zm41 0h1v1h-1zm30 0h1v1h-1zm-351 1h1v1h-1zm312 0h1v1h-1zm-387 1h1v1h-1zm51 0h1v1h-1zm309 0h1v1h-1zm-368 1h1v1h-1zm48 0h1v1h-1zm360 0h1v1h-1zm-403 1h1v1h-1zm39 4h1v1h-1zm5 0h1v1h-1z"/><path fill="#00bfff" d="m305 80h1v1h-1zm7 2h1v1h-1zm43 14h1v1h-1zm-13 1h1v1h-1zm-28 1h1v1h-1zm-14 1h1v1h-1zm25 1h1v1h-1zm3 3h1v1h-1zm0 2h1v1h-1zm4 1h1v1h-1zm-187 1h1v1h-1zm180 0h1v1h-1zm35 0h1v1h-1zm-357 1h1v1h-1zm134 0h1v1h-1zm200 0h1v1h-1zm-187 1h1v1h-1zm27 0h1v1h-1zm159 0h1v1h-1zm-204 1h1v1h-1zm226 0h1v1h-1zm-348 1h1v1h-1zm109 0h1v1h-1zm52 0h1v1h-1zm-158 1h1v1h-1zm28 0h1v1h-1zm47 0h1v1h-1zm324 0h1v1h-1zm-401 1h1v1h-1zm14 0h1v1h-1zm41 0h1v1h-1zm25 0h1v1h-1zm50 0h1v1h-1zm4 0h1v1h-1zm22 0h1v1h-1zm159 0h1v1h-1zm24 0h1v1h-1zm65 0h1v1h-1zm35 0h1v1h-1zm-436 1h1v1h-1zm3 0h1v1h-1zm41 0h1v1h-1zm5 0h1v1h-1zm15 0h1v1h-1zm55 0h1v1h-1zm236 0h1v1h-1zm35 0h1v1h-1zm-393 1h1v1h-1zm14 0h1v1h-1zm28 0h1v1h-1zm37 0h1v1h-1zm64 0h1v1h-1zm172 0h1v1h-1zm67 0h1v1h-1zm49 0h1v1h-1zm4 0h1v1h-1zm9 0h1v1h-1zm-412 1h1v1h-1zm128 0h1v1h-1zm249 0h1v1h-1zm51 0h1v1h-1zm4 0h1v1h-1zm-365 1h1v1h-1zm47 0h1v1h-1zm275 0h1v1h-1zm-425 1h1v1h-1zm13 0h1v1h-1zm15 0h1v1h-1zm32 0h1v1h-1zm98 0h1v1h-1zm-141 2h1v1h-1zm30 0h1v1h-1zm251 0h1v1h-1zm-282 1h1v1h-1zm49 0h1v1h-1zm2 0h1v1h-1zm-52 1h1v1h-1zm32 0h1v1h-1zm13 0h2v1h-2zm22 0h1v1h-1zm-46 1h1v1h-1zm3 1h1v1h-1zm259 9h1v1h-1zm18 4h1v1h-1zm-3 1h1v1h-1zm9 1h1v1h-1zm-8 1h1v1h-1zm21 3h1v1h-1zm-36 7h1v1h-1zm25 0h1v1h-1zm0 5h1v1h-1zm32 1h1v1h-1zm-34 1h1v1h-1zm25 3h1v1h-1zm-15 1h1v1h-1zm-337 1h1v1h-1zm367 1h1v1h-1zm-231 1h1v1h-1zm189 0h1v1h-1zm44 2h1v1h-1zm-233 1h1v1h-1zm188 0h1v1h-1zm54 0h1v1h-1zm2 0h1v1h-1zm-242 1h1v1h-1zm294 0h1v1h-1zm17 0h1v1h-1zm-446 1h1v1h-1zm115 0h1v1h-1zm21 0h1v1h-1zm243 0h1v1h-1zm28 0h1v1h-1zm26 0h1v1h-1zm9 0h1v1h-1zm1 1h1v1h-1zm19 0h1v1h-1zm-456 1h1v1h-1zm24 0h1v1h-1zm16 0h1v1h-1zm73 0h1v1h-1zm265 0h1v1h-1zm4 0h1v1h-1zm84 0h1v1h-1zm-443 1h1v1h-1zm90 0h1v1h-1zm289 0h1v1h-1zm-399 1h1v1h-1zm103 0h1v1h-1zm279 0h1v1h-1zm33 0h1v1h-1zm36 0h1v1h-1zm-430 1h1v1h-1zm31 0h1v1h-1zm30 0h1v1h-1zm17 0h1v1h-1zm-16 1h1v1h-1zm-25 2h1v1h-1zm11 0h1v1h-1zm228 32h1v1h-1zm3 9h1v1h-1zm-4 1h1v1h-1zm13 7h1v1h-1zm-1 3h1v1h-1zm-11 1h1v1h-1zm3 0h1v1h-1zm-177 6h1v1h-1zm-14 1h1v1h-1zm-5 2h1v1h-1zm5 0h1v1h-1zm190 0h1v1h-1zm19 0h1v1h-1zm-16 1h1v1h-1zm40 0h1v1h-1zm-234 1h1v1h-1zm187 0h1v1h-1zm31 0h1v1h-1zm-11 1h1v1h-1zm3 0h1v1h-1zm40 0h1v1h-1zm-253 1h1v1h-1zm18 0h1v1h-1zm215 0h1v1h-1zm-219 1h1v1h-1zm252 0h1v1h-1zm-77 1h1v1h-1zm26 0h1v1h-1zm-329 1h1v1h-1zm130 0h1v1h-1zm225 0h1v1h-1zm-268 1h1v1h-1zm25 0h1v1h-1zm9 0h1v1h-1zm206 0h1v1h-1zm-239 1h1v1h-1zm3 0h1v1h-1zm240 1h1v1h-1zm-302 1h1v1h-1zm15 0h1v1h-1zm44 0h1v1h-1zm36 0h1v1h-1zm14 0h1v1h-1zm207 0h1v1h-1zm6 0h1v1h-1zm12 0h1v1h-1zm4 0h1v1h-1zm18 0h1v1h-1zm26 0h1v1h-1zm47 0h1v1h-1zm-427 1h1v1h-1zm64 0h1v1h-1zm14 0h1v1h-1zm12 0h1v1h-1zm16 0h1v1h-1zm233 0h1v1h-1zm90 0h1v1h-1zm-367 1h1v1h-1zm11 0h1v1h-1zm-82 1h1v1h-1zm12 0h2v1h-2zm101 0h1v1h-1zm254 0h1v1h-1zm10 0h1v1h-1zm31 0h1v1h-1zm24 0h1v1h-1zm-424 1h1v1h-1zm43 0h1v1h-1zm59 0h1v1h-1zm242 0h2v1h-2zm18 0h1v1h-1zm-383 1h1v1h-1zm4 0h1v1h-1zm10 0h1v1h-1zm12 0h1v1h-1zm38 0h1v1h-1zm5 0h2v1h-2zm4 0h2v1h-2zm37 0h1v1h-1zm187 0h1v1h-1zm-306 1h1v1h-1zm8 0h1v1h-1zm14 0h1v1h-1zm27 0h2v1h-2zm32 0h1v1h-1zm36 0h1v1h-1zm197 0h1v1h-1zm34 0h1v1h-1zm28 0h2v1h-2zm21 0h1v1h-1zm47 0h1v1h-1zm-366 1h1v1h-1zm387 0h1v1h-1zm5 0h1v1h-1zm-357 1h1v1h-1zm227 0h1v1h-1zm7 0h1v1h-1zm107 0h1v1h-1zm10 0h1v1h-1zm-434 1h1v1h-1zm9 0h1v1h-1zm63 0h1v1h-1zm287 0h1v1h-1zm28 0h1v1h-1zm-411 1h1v1h-1zm38 0h1v1h-1zm42 0h1v1h-1zm2 0h1v1h-1zm5 0h1v1h-1zm221 0h1v1h-1zm110 0h1v1h-1zm43 0h1v1h-1zm-447 1h1v1h-1zm15 0h1v1h-1zm8 0h1v1h-1zm373 0h1v1h-1zm-362 1h1v1h-1zm19 0h1v1h-1zm-12 1h1v1h-1zm256 0h1v1h-1zm-249 1h1v1h-1zm6 0h1v1h-1zm286 0h2v1h-2zm-318 2h1v1h-1zm352 0h1v1h-1zm8 2h1v1h-1zm-85 16h1v1h-1zm18 5h1v1h-1zm-16 3h1v1h-1zm-2 2h1v1h-1zm-6 3h1v1h-1zm-179 1h1v1h-1zm178 0h1v1h-1zm4 0h1v1h-1zm28 1h1v1h-1zm10 0h1v1h-1zm-237 1h1v1h-1zm9 0h1v1h-1zm187 0h1v1h-1zm11 0h1v1h-1zm-3 1h1v1h-1zm2 1h2v1h-2zm36 0h1v1h-1zm-49 1h1v1h-1zm17 0h1v1h-1zm32 1h1v1h-1zm-5 1h1v1h-1zm-228 1h1v1h-1zm-20 1h1v1h-1zm16 0h1v1h-1zm2 0h1v1h-1zm16 0h1v1h-1zm252 0h1v1h-1zm-282 1h2v1h-2zm17 0h1v1h-1zm262 0h1v1h-1zm47 0h1v1h-1zm-333 1h1v1h-1zm210 0h1v1h-1zm19 0h1v1h-1zm28 0h1v1h-1zm38 0h1v1h-1zm-397 1h2v1h-2zm369 0h1v1h-1zm-332 1h2v1h-2zm72 0h1v1h-1zm20 0h1v1h-1zm291 0h1v1h-1zm28 0h1v1h-1zm-403 1h1v1h-1zm40 0h1v1h-1zm28 0h1v1h-1zm18 0h1v1h-1zm194 0h1v1h-1zm11 0h1v1h-1zm35 0h1v1h-1zm94 0h1v1h-1zm-440 1h1v1h-1zm20 0h1v1h-1zm80 0h1v1h-1zm4 0h1v1h-1zm11 0h1v1h-1zm186 0h1v1h-1zm38 0h1v1h-1zm26 0h1v1h-1zm68 0h1v1h-1zm3 0h1v1h-1zm8 0h1v1h-1zm-331 1h1v1h-1zm193 0h1v1h-1zm10 0h1v1h-1zm119 0h1v1h-1zm2 0h1v1h-1zm-439 1h1v1h-1zm7 0h1v1h-1zm39 0h1v1h-1zm71 0h1v1h-1zm302 0h1v1h-1zm3 0h1v1h-1zm-448 1h1v1h-1zm36 0h1v1h-1zm348 0h1v1h-1zm-371 1h1v1h-1zm51 0h1v1h-1zm33 0h1v1h-1zm295 0h1v1h-1zm8 0h1v1h-1zm-390 1h1v1h-1zm2 0h1v1h-1zm43 0h1v1h-1zm292 0h1v1h-1zm86 0h1v1h-1zm3 0h1v1h-1zm-385 1h1v1h-1zm10 0h1v1h-1zm44 0h1v1h-1zm297 0h1v1h-1zm19 0h1v1h-1zm-412 1h1v1h-1zm42 0h1v1h-1zm12 0h1v1h-1zm6 0h1v1h-1zm28 0h1v1h-1zm14 0h1v1h-1zm2 0h2v1h-2zm359 0h1v1h-1zm-463 1h1v1h-1zm32 0h1v1h-1zm22 0h1v1h-1zm396 0h1v1h-1zm-442 1h1v1h-1zm46 0h1v1h-1zm11 0h1v1h-1zm20 0h1v1h-1zm50 0h1v1h-1zm204 0h1v1h-1zm-331 1h1v1h-1zm57 0h1v1h-1zm385 0h1v1h-1zm12 0h1v1h-1zm-458 1h1v1h-1zm350 0h1v1h-1zm15 0h1v1h-1zm81 0h1v1h-1zm12 0h1v1h-1zm-423 1h1v1h-1zm11 1h1v1h-1zm16 0h1v1h-1zm308 1h1v1h-1zm-331 1h1v1h-1zm7 0h1v1h-1zm305 0h1v1h-1zm59 0h1v1h-1zm-361 1h1v1h-1zm2 1h1v1h-1zm-14 2h1v1h-1zm263 45h1v1h-1zm24 9h1v1h-1zm-27 9h1v1h-1zm25 0h1v1h-1zm6 1h1v1h-1zm-20 5h1v1h-1zm47 0h1v1h-1zm-50 6h2v1h-2zm5 1h1v1h-1zm28 0h1v1h-1zm3 1h1v1h-1zm-31 1h1v1h-1zm8 1h1v1h-1zm12 0h1v1h-1zm51 0h1v1h-1zm-78 1h1v1h-1zm6 0h1v1h-1zm15 0h1v1h-1zm-10 1h1v1h-1zm15 0h1v1h-1zm20 0h1v1h-1zm-35 2h1v1h-1zm54 0h1v1h-1zm-249 1h1v1h-1zm3 0h1v1h-1zm-98 1h1v1h-1zm6 0h1v1h-1zm2 0h1v1h-1zm71 0h1v1h-1zm23 0h1v1h-1zm300 0h1v1h-1zm-402 1h1v1h-1zm99 0h1v1h-1zm294 0h1v1h-1zm7 0h1v1h-1zm-332 1h1v1h-1zm228 0h1v1h-1zm4 0h1v1h-1zm54 0h1v1h-1zm-383 1h1v1h-1zm10 0h1v1h-1zm32 0h1v1h-1zm37 0h1v1h-1zm17 0h1v1h-1zm10 0h1v1h-1zm15 0h2v1h-2zm210 0h1v1h-1zm39 0h1v1h-1zm-352 1h1v1h-1zm53 0h1v1h-1zm307 0h1v1h-1zm-363 1h1v1h-1zm6 0h1v1h-1zm386 0h1v1h-1zm53 0h1v1h-1zm-456 1h1v1h-1zm387 0h1v1h-1zm36 0h1v1h-1zm-429 1h1v1h-1zm83 0h2v1h-2zm28 0h1v1h-1zm269 0h1v1h-1zm3 0h1v1h-1zm10 0h1v1h-1zm-336 1h1v1h-1zm43 0h1v1h-1zm353 0h1v1h-1zm-426 1h1v1h-1zm59 0h1v1h-1zm9 0h1v1h-1zm35 0h1v1h-1zm2 0h1v1h-1zm275 0h1v1h-1zm-402 1h1v1h-1zm40 0h1v1h-1zm3 0h1v1h-1zm22 0h1v1h-1zm15 0h1v1h-1zm59 0h1v1h-1zm312 0h1v1h-1zm-361 1h1v1h-1zm276 1h1v1h-1zm-318 1h1v1h-1zm3 0h1v1h-1zm1 1h1v1h-1zm2 0h1v1h-1zm-6 1h1v1h-1zm10 3h1v1h-1z"/><path fill="#00cfff" d="m300 52h1v1h-1zm5 27h1v1h-1zm17 4h1v1h-1zm0 3h1v1h-1zm-10 1h1v1h-1zm26 0h1v1h-1zm-37 6h1v1h-1zm-1 3h2v1h-2zm38 0h1v1h-1zm-14 1h1v1h-1zm-2 1h1v1h-1zm40 3h1v1h-1zm-38 2h1v1h-1zm41 0h1v1h-1zm-32 1h1v1h-1zm21 0h1v1h-1zm-353 1h1v1h-1zm328 0h1v1h-1zm-13 1h1v1h-1zm3 0h1v1h-1zm10 1h1v1h-1zm5 0h1v1h-1zm-2 1h1v1h-1zm7 0h1v1h-1zm22 0h1v1h-1zm-258 1h1v1h-1zm249 0h1v1h-1zm21 1h1v1h-1zm-48 1h1v1h-1zm56 0h1v1h-1zm-284 1h1v1h-1zm22 0h1v1h-1zm16 0h1v1h-1zm36 0h1v1h-1zm207 0h1v1h-1zm-336 1h1v1h-1zm80 0h2v1h-2zm38 0h1v1h-1zm212 0h1v1h-1zm39 0h1v1h-1zm-360 1h1v1h-1zm76 0h1v1h-1zm20 0h1v1h-1zm20 0h1v1h-1zm216 0h1v1h-1zm-368 1h1v1h-1zm62 0h1v1h-1zm4 0h1v1h-1zm45 0h1v1h-1zm280 0h1v1h-1zm21 0h1v1h-1zm32 0h1v1h-1zm4 0h1v1h-1zm14 0h1v1h-1zm-460 1h1v1h-1zm61 0h1v1h-1zm32 0h1v1h-1zm298 0h1v1h-1zm-337 1h1v1h-1zm49 0h1v1h-1zm51 0h1v1h-1zm193 0h1v1h-1zm25 0h1v1h-1zm21 0h1v1h-1zm50 0h1v1h-1zm-452 1h1v1h-1zm7 0h1v1h-1zm55 0h1v1h-1zm53 0h2v1h-2zm29 0h1v1h-1zm-112 1h1v1h-1zm85 0h1v1h-1zm5 0h1v1h-1zm-118 1h1v1h-1zm14 0h1v1h-1zm60 0h1v1h-1zm5 0h1v1h-1zm70 0h1v1h-1zm-108 1h1v1h-1zm2 0h1v1h-1zm3 0h1v1h-1zm29 0h1v1h-1zm-29 1h1v1h-1zm13 0h1v1h-1zm10 0h1v1h-1zm-8 3h1v1h-1zm248 8h1v1h-1zm-1 8h1v1h-1zm0 1h1v1h-1zm-8 1h1v1h-1zm3 1h1v1h-1zm-9 5h1v1h-1zm30 4h1v1h-1zm-3 1h1v1h-1zm-8 4h1v1h-1zm3 0h1v1h-1zm57 0h1v1h-1zm-65 2h1v1h-1zm24 1h1v1h-1zm-27 1h1v1h-1zm14 1h1v1h-1zm11 1h1v1h-1zm-340 1h1v1h-1zm370 1h1v1h-1zm-230 1h1v1h-1zm-140 1h1v1h-1zm9 0h1v1h-1zm424 0h1v1h-1zm17 0h1v1h-1zm3 0h1v1h-1zm-451 1h1v1h-1zm40 0h1v1h-1zm328 0h1v1h-1zm13 0h1v1h-1zm4 0h1v1h-1zm30 0h1v1h-1zm-378 1h1v1h-1zm-8 1h1v1h-1zm75 0h1v1h-1zm318 0h1v1h-1zm23 0h1v1h-1zm-436 1h1v1h-1zm32 0h1v1h-1zm74 0h1v1h-1zm348 0h1v1h-1zm-449 1h1v1h-1zm23 0h1v1h-1zm4 0h1v1h-1zm53 1h1v1h-1zm268 0h1v1h-1zm12 0h1v1h-1zm-311 1h1v1h-1zm6 0h1v1h-1zm15 0h1v1h-1zm369 0h1v1h-1zm-398 1h1v1h-1zm18 0h1v1h-1zm8 0h1v1h-1zm-5 1h1v1h-1zm-15 1h1v1h-1zm3 1h1v1h-1zm339 0h1v1h-1zm-8 1h1v1h-1zm-70 34h1v1h-1zm-10 9h1v1h-1zm2 0h1v1h-1zm-10 4h1v1h-1zm10 0h1v1h-1zm2 0h1v1h-1zm-4 1h1v1h-1zm-10 6h1v1h-1zm2 0h1v1h-1zm6 0h1v1h-1zm-189 3h1v1h-1zm223 4h1v1h-1zm-224 1h1v1h-1zm-18 1h1v1h-1zm238 0h1v1h-1zm12 0h1v1h-1zm-271 1h1v1h-1zm49 0h1v1h-1zm-40 1h1v1h-1zm37 0h1v1h-1zm221 0h1v1h-1zm-264 1h1v1h-1zm50 0h1v1h-1zm168 1h1v1h-1zm11 0h1v1h-1zm-320 1h1v1h-1zm142 0h1v1h-1zm194 0h1v1h-1zm-252 1h1v1h-1zm23 0h1v1h-1zm261 0h1v1h-1zm6 0h1v1h-1zm-30 1h1v1h-1zm-206 1h2v1h-2zm211 0h1v1h-1zm-313 1h1v1h-1zm11 0h1v1h-1zm40 0h1v1h-1zm57 0h1v1h-1zm189 0h1v1h-1zm98 0h1v1h-1zm-423 1h1v1h-1zm2 0h1v1h-1zm65 0h1v1h-1zm20 0h1v1h-1zm9 0h1v1h-1zm260 0h1v1h-1zm19 0h1v1h-1zm28 0h1v1h-1zm-393 1h1v1h-1zm31 0h1v1h-1zm60 0h1v1h-1zm360 0h1v1h-1zm-439 1h1v1h-1zm8 0h1v1h-1zm10 0h1v1h-1zm3 0h1v1h-1zm35 0h1v1h-1zm27 0h1v1h-1zm239 0h1v1h-1zm26 0h1v1h-1zm4 0h1v1h-1zm-376 1h1v1h-1zm10 0h1v1h-1zm42 0h1v1h-1zm53 0h1v1h-1zm27 0h1v1h-1zm235 0h1v1h-1zm-278 1h1v1h-1zm23 0h1v1h-1zm266 0h1v1h-1zm6 0h1v1h-1zm59 0h1v1h-1zm17 0h1v1h-1zm-434 1h1v1h-1zm26 0h1v1h-1zm87 0h1v1h-1zm299 0h1v1h-1zm-436 1h1v1h-1zm19 0h1v1h-1zm38 0h1v1h-1zm38 0h1v1h-1zm7 0h1v1h-1zm237 0h1v1h-1zm3 0h1v1h-1zm113 0h1v1h-1zm-454 1h1v1h-1zm9 0h1v1h-1zm41 0h1v1h-1zm22 0h1v1h-1zm7 0h1v1h-1zm333 0h1v1h-1zm-371 1h1v1h-1zm54 0h1v1h-1zm-20 1h1v1h-1zm-44 1h1v1h-1zm367 0h1v1h-1zm-335 1h1v1h-1zm-13 2h1v1h-1zm11 0h1v1h-1zm-2 3h1v1h-1zm243 2h2v1h-2zm11 18h1v1h-1zm-197 2h1v1h-1zm197 2h1v1h-1zm-5 2h1v1h-1zm-188 1h1v1h-1zm213 0h1v1h-1zm-217 2h1v1h-1zm216 0h1v1h-1zm-213 1h1v1h-1zm213 1h1v1h-1zm-33 1h1v1h-1zm52 1h1v1h-1zm-252 1h1v1h-1zm244 1h1v1h-1zm6 0h1v1h-1zm-221 1h1v1h-1zm176 1h1v1h-1zm38 0h1v1h-1zm12 0h1v1h-1zm-10 1h1v1h-1zm-219 1h1v1h-1zm288 0h1v1h-1zm-296 1h1v1h-1zm291 0h1v1h-1zm-383 1h1v1h-1zm81 0h1v1h-1zm241 0h1v1h-1zm-350 1h1v1h-1zm76 0h1v1h-1zm62 0h1v1h-1zm285 0h2v1h-2zm7 0h1v1h-1zm7 0h1v1h-1zm20 0h1v1h-1zm2 0h1v1h-1zm-434 1h1v1h-1zm327 0h1v1h-1zm24 0h1v1h-1zm17 0h1v1h-1zm-364 1h1v1h-1zm81 0h1v1h-1zm270 0h1v1h-1zm-337 1h2v1h-2zm293 0h1v1h-1zm128 0h1v1h-1zm-453 1h1v1h-1zm19 0h1v1h-1zm2 0h1v1h-1zm74 0h1v1h-1zm13 0h1v1h-1zm10 0h1v1h-1zm4 0h1v1h-1zm223 0h1v1h-1zm23 0h1v1h-1zm2 0h1v1h-1zm-302 1h1v1h-1zm3 0h1v1h-1zm7 0h1v1h-1zm249 0h1v1h-1zm6 0h1v1h-1zm83 0h1v1h-1zm-353 1h1v1h-1zm17 0h1v1h-1zm44 0h1v1h-1zm257 0h1v1h-1zm-384 1h1v1h-1zm331 0h1v1h-1zm52 0h1v1h-1zm4 0h1v1h-1zm72 1h1v1h-1zm-466 1h2v1h-2zm41 0h1v1h-1zm20 0h1v1h-1zm6 0h1v1h-1zm301 0h1v1h-1zm9 0h1v1h-1zm19 0h1v1h-1zm14 0h1v1h-1zm22 0h1v1h-1zm37 0h1v1h-1zm-442 1h1v1h-1zm54 0h1v1h-1zm2 0h1v1h-1zm-81 1h1v1h-1zm16 0h1v1h-1zm8 0h1v1h-1zm46 0h1v1h-1zm330 0h2v1h-2zm54 1h1v1h-1zm-438 1h1v1h-1zm31 0h1v1h-1zm14 0h1v1h-1zm8 0h1v1h-1zm346 0h1v1h-1zm-16 1h1v1h-1zm2 0h1v1h-1zm-349 1h1v1h-1zm9 0h1v1h-1zm-2 3h1v1h-1zm310 0h1v1h-1zm-55 71h1v1h-1zm-2 2h1v1h-1zm18 0h1v1h-1zm-1 1h1v1h-1zm-18 2h1v1h-1zm8 2h1v1h-1zm10 1h1v1h-1zm-24 1h1v1h-1zm14 0h1v1h-1zm27 2h1v1h-1zm13 0h1v1h-1zm-31 1h1v1h-1zm33 1h1v1h-1zm-9 1h1v1h-1zm-18 1h1v1h-1zm-339 1h2v1h-2zm116 0h1v1h-1zm27 0h1v1h-1zm185 0h1v1h-1zm115 0h1v1h-1zm-306 1h1v1h-1zm192 0h1v1h-1zm2 0h1v1h-1zm12 0h1v1h-1zm11 0h1v1h-1zm86 0h1v1h-1zm-81 1h1v1h-1zm14 0h1v1h-1zm49 0h1v1h-1zm14 0h1v1h-1zm2 0h1v1h-1zm8 0h1v1h-1zm-450 1h1v1h-1zm8 0h1v1h-1zm41 0h1v1h-1zm42 0h1v1h-1zm265 0h2v1h-2zm61 0h1v1h-1zm11 0h1v1h-1zm42 0h1v1h-1zm-446 1h1v1h-1zm11 0h1v1h-1zm57 0h1v1h-1zm16 0h1v1h-1zm300 0h1v1h-1zm14 0h1v1h-1zm12 0h1v1h-1zm43 0h1v1h-1zm-473 1h1v1h-1zm49 0h1v1h-1zm307 0h1v1h-1zm56 0h1v1h-1zm-292 1h1v1h-1zm15 0h1v1h-1zm-95 1h1v1h-1zm23 0h1v1h-1zm11 0h1v1h-1zm42 0h1v1h-1zm310 0h1v1h-1zm-398 1h1v1h-1zm111 0h1v1h-1zm275 0h1v1h-1zm-409 1h1v1h-1zm74 0h1v1h-1zm-51 1h1v1h-1zm52 0h1v1h-1zm33 0h1v1h-1zm33 0h1v1h-1zm-119 1h1v1h-1zm42 0h1v1h-1zm12 0h1v1h-1zm25 0h1v1h-1zm-95 1h1v1h-1zm3 0h1v1h-1zm53 0h1v1h-1zm-13 1h1v1h-1zm3 0h1v1h-1z"/><path fill="#00dfff" d="m305 63h1v1h-1zm1 11h1v1h-1zm6 11h1v1h-1zm-11 2h1v1h-1zm10 1h1v1h-1zm-11 2h1v1h-1zm13 0h1v1h-1zm9 4h1v1h-1zm-11 4h1v1h-1zm50 0h1v1h-1zm-47 3h1v1h-1zm28 0h1v1h-1zm-41 1h1v1h-1zm35 1h1v1h-1zm-333 1h1v1h-1zm326 0h1v1h-1zm-323 2h1v1h-1zm297 0h1v1h-1zm32 0h1v1h-1zm-334 1h1v1h-1zm334 0h1v1h-1zm20 0h1v1h-1zm-222 1h1v1h-1zm6 0h1v1h-1zm4 0h1v1h-1zm165 0h1v1h-1zm22 0h1v1h-1zm22 0h1v1h-1zm-352 1h1v1h-1zm319 0h1v1h-1zm32 0h1v1h-1zm9 0h1v1h-1zm-258 1h1v1h-1zm74 0h1v1h-1zm-169 1h1v1h-1zm9 0h1v1h-1zm115 0h1v1h-1zm-3 1h1v1h-1zm12 0h1v1h-1zm2 0h2v1h-2zm4 0h1v1h-1zm181 0h2v1h-2zm36 0h1v1h-1zm-337 1h1v1h-1zm64 0h1v1h-1zm17 0h1v1h-1zm-67 1h1v1h-1zm96 0h1v1h-1zm39 0h1v1h-1zm174 0h1v1h-1zm3 0h1v1h-1zm43 0h1v1h-1zm13 0h1v1h-1zm13 0h1v1h-1zm23 0h1v1h-1zm2 0h2v1h-2zm-386 1h1v1h-1zm50 0h1v1h-1zm23 0h1v1h-1zm36 0h1v1h-1zm225 0h1v1h-1zm15 0h1v1h-1zm43 0h1v1h-1zm15 0h1v1h-1zm-447 1h1v1h-1zm45 0h1v1h-1zm8 0h1v1h-1zm17 0h1v1h-1zm40 0h1v1h-1zm21 0h1v1h-1zm19 0h1v1h-1zm208 0h1v1h-1zm50 0h1v1h-1zm32 0h1v1h-1zm13 0h1v1h-1zm-444 1h1v1h-1zm131 1h1v1h-1zm-104 1h2v1h-2zm25 0h1v1h-1zm-71 1h1v1h-1zm51 0h1v1h-1zm62 0h1v1h-1zm-105 1h1v1h-1zm6 0h1v1h-1zm25 0h2v1h-2zm14 0h1v1h-1zm-44 1h1v1h-1zm287 13h1v1h-1zm16 14h1v1h-1zm-11 3h1v1h-1zm-5 1h1v1h-1zm17 1h1v1h-1zm-12 4h1v1h-1zm2 0h1v1h-1zm39 0h1v1h-1zm-214 2h1v1h-1zm247 1h1v1h-1zm-66 1h1v1h-1zm44 0h1v1h-1zm22 0h1v1h-1zm-384 1h1v1h-1zm346 0h1v1h-1zm-212 2h1v1h-1zm194 0h1v1h-1zm32 0h1v1h-1zm22 0h1v1h-1zm-378 1h1v1h-1zm122 0h1v1h-1zm7 0h1v1h-1zm9 0h1v1h-1zm245 0h1v1h-1zm4 0h1v1h-1zm-59 1h1v1h-1zm58 0h1v1h-1zm50 0h1v1h-1zm7 0h1v1h-1zm-438 2h1v1h-1zm372 0h1v1h-1zm33 0h1v1h-1zm-384 1h1v1h-1zm327 0h1v1h-1zm9 0h1v1h-1zm17 0h2v1h-2zm46 0h1v1h-1zm-422 1h1v1h-1zm447 0h1v1h-1zm13 1h1v1h-1zm-460 1h1v1h-1zm23 0h3v1h-3zm16 0h2v1h-2zm37 0h1v1h-1zm34 0h1v1h-1zm303 0h1v1h-1zm-406 1h1v1h-1zm450 1h1v1h-1zm7 0h1v1h-1zm-455 1h1v1h-1zm35 0h1v1h-1zm5 0h1v1h-1zm307 0h1v1h-1zm74 0h1v1h-1zm-421 1h1v1h-1zm348 0h1v1h-1zm41 0h1v1h-1zm-90 44h1v1h-1zm22 8h1v1h-1zm-18 1h1v1h-1zm-7 2h1v1h-1zm0 5h1v1h-1zm41 2h1v1h-1zm-33 2h1v1h-1zm7 0h1v1h-1zm-210 2h1v1h-1zm2 0h1v1h-1zm-19 2h1v1h-1zm25 0h1v1h-1zm195 0h1v1h-1zm9 0h1v1h-1zm-217 1h1v1h-1zm3 0h1v1h-1zm6 0h1v1h-1zm186 0h1v1h-1zm-306 1h1v1h-1zm122 0h1v1h-1zm8 0h2v1h-2zm192 0h1v1h-1zm71 0h1v1h-1zm-389 1h1v1h-1zm322 0h1v1h-1zm-228 1h1v1h-1zm28 0h1v1h-1zm3 0h1v1h-1zm249 0h1v1h-1zm-373 1h1v1h-1zm130 0h1v1h-1zm205 0h1v1h-1zm6 0h1v1h-1zm11 0h1v1h-1zm33 0h1v1h-1zm26 0h1v1h-1zm-342 1h1v1h-1zm19 0h1v1h-1zm235 0h1v1h-1zm50 0h1v1h-1zm-288 1h1v1h-1zm273 0h1v1h-1zm39 0h1v1h-1zm52 0h1v1h-1zm-454 1h1v1h-1zm72 0h1v1h-1zm22 0h1v1h-1zm2 0h1v1h-1zm17 0h1v1h-1zm14 0h2v1h-2zm4 0h1v1h-1zm255 0h1v1h-1zm12 0h1v1h-1zm10 0h1v1h-1zm23 0h1v1h-1zm15 0h1v1h-1zm5 0h1v1h-1zm-444 1h1v1h-1zm33 0h1v1h-1zm2 0h1v1h-1zm37 0h1v1h-1zm8 0h1v1h-1zm22 0h1v1h-1zm6 0h1v1h-1zm18 0h1v1h-1zm207 0h1v1h-1zm68 0h1v1h-1zm-367 1h2v1h-2zm39 0h1v1h-1zm10 0h1v1h-1zm319 0h1v1h-1zm13 0h1v1h-1zm5 0h1v1h-1zm19 0h1v1h-1zm-423 1h1v1h-1zm324 0h1v1h-1zm38 0h1v1h-1zm8 0h1v1h-1zm5 0h1v1h-1zm15 0h1v1h-1zm49 0h1v1h-1zm-319 1h1v1h-1zm232 0h1v1h-1zm84 0h1v1h-1zm-392 1h1v1h-1zm48 0h1v1h-1zm25 0h1v1h-1zm295 0h1v1h-1zm6 0h1v1h-1zm-328 1h1v1h-1zm30 0h1v1h-1zm166 0h1v1h-1zm73 0h1v1h-1zm93 0h1v1h-1zm-451 1h1v1h-1zm64 0h1v1h-1zm5 0h1v1h-1zm11 0h1v1h-1zm-74 1h1v1h-1zm46 0h1v1h-1zm6 0h1v1h-1zm336 0h1v1h-1zm-395 1h1v1h-1zm438 1h1v1h-1zm-408 2h1v1h-1zm355 0h1v1h-1zm-394 1h1v1h-1zm53 0h1v1h-1zm250 16h1v1h-1zm-2 2h1v1h-1zm-8 4h1v1h-1zm1 1h1v1h-1zm1 4h1v1h-1zm-2 4h1v1h-1zm1 2h1v1h-1zm29 2h1v1h-1zm-215 1h1v1h-1zm200 0h1v1h-1zm7 0h1v1h-1zm7 0h1v1h-1zm9 1h1v1h-1zm4 0h1v1h-1zm-23 1h1v1h-1zm-202 2h1v1h-1zm206 0h1v1h-1zm18 0h1v1h-1zm26 1h1v1h-1zm-238 1h1v1h-1zm188 1h1v1h-1zm18 0h1v1h-1zm7 0h1v1h-1zm88 0h1v1h-1zm10 0h1v1h-1zm-337 1h1v1h-1zm27 0h1v1h-1zm233 0h1v1h-1zm4 0h1v1h-1zm9 0h1v1h-1zm60 0h1v1h-1zm-311 1h1v1h-1zm313 0h1v1h-1zm-437 1h1v1h-1zm16 0h1v1h-1zm97 0h1v1h-1zm19 0h1v1h-1zm2 0h1v1h-1zm-123 1h1v1h-1zm2 0h1v1h-1zm24 0h1v1h-1zm66 0h1v1h-1zm285 0h1v1h-1zm66 0h1v1h-1zm11 0h1v1h-1zm-455 1h1v1h-1zm83 0h1v1h-1zm35 0h1v1h-1zm218 0h1v1h-1zm4 0h1v1h-1zm-308 1h1v1h-1zm54 0h1v1h-1zm5 0h1v1h-1zm13 0h1v1h-1zm4 0h1v1h-1zm223 0h1v1h-1zm96 0h1v1h-1zm6 0h1v1h-1zm13 0h1v1h-1zm-391 1h1v1h-1zm11 0h1v1h-1zm24 0h1v1h-1zm236 0h1v1h-1zm2 0h1v1h-1zm23 0h1v1h-1zm29 0h1v1h-1zm-278 1h1v1h-1zm260 0h1v1h-1zm-336 1h1v1h-1zm37 0h1v1h-1zm-69 1h1v1h-1zm13 0h1v1h-1zm15 0h1v1h-1zm27 0h1v1h-1zm3 0h1v1h-1zm19 0h2v1h-2zm324 0h1v1h-1zm8 0h1v1h-1zm6 0h1v1h-1zm10 0h1v1h-1zm-394 1h1v1h-1zm4 0h1v1h-1zm20 0h1v1h-1zm22 0h1v1h-1zm9 0h1v1h-1zm2 0h1v1h-1zm325 0h1v1h-1zm38 0h1v1h-1zm-444 1h1v1h-1zm5 0h2v1h-2zm42 0h1v1h-1zm26 0h1v1h-1zm371 0h1v1h-1zm-448 1h1v1h-1zm10 0h1v1h-1zm18 0h1v1h-1zm20 0h1v1h-1zm19 0h1v1h-1zm294 0h1v1h-1zm-361 1h1v1h-1zm363 1h1v1h-1zm87 0h1v1h-1zm-390 1h1v1h-1zm289 0h1v1h-1zm41 0h1v1h-1zm-356 1h1v1h-1zm3 0h1v1h-1zm15 0h1v1h-1zm296 0h1v1h-1zm74 1h1v1h-1zm-61 1h1v1h-1zm-301 1h1v1h-1zm-10 1h1v1h-1zm0 3h1v1h-1zm243 39h1v1h-1zm5 14h1v1h-1zm0 3h1v1h-1zm6 5h1v1h-1zm-5 11h1v1h-1zm36 0h1v1h-1zm-24 1h1v1h-1zm16 0h1v1h-1zm-2 2h1v1h-1zm0 1h1v1h-1zm-12 1h1v1h-1zm7 0h1v1h-1zm-4 1h1v1h-1zm10 1h1v1h-1zm-7 1h1v1h-1zm5 0h1v1h-1zm-15 1h1v1h-1zm124 0h1v1h-1zm-323 1h1v1h-1zm-84 1h1v1h-1zm80 0h2v1h-2zm-117 1h1v1h-1zm435 0h1v1h-1zm9 0h1v1h-1zm-438 1h1v1h-1zm99 0h1v1h-1zm253 0h1v1h-1zm-222 1h1v1h-1zm284 0h1v1h-1zm3 0h1v1h-1zm5 0h1v1h-1zm20 0h1v1h-1zm-352 1h1v1h-1zm48 0h1v1h-1zm236 0h1v1h-1zm56 0h1v1h-1zm-440 1h1v1h-1zm17 0h1v1h-1zm59 0h1v1h-1zm28 0h1v1h-1zm242 0h1v1h-1zm63 0h1v1h-1zm-408 1h1v1h-1zm120 0h1v1h-1zm28 0h1v1h-1zm264 0h1v1h-1zm-354 1h1v1h-1zm16 0h1v1h-1zm18 0h1v1h-1zm29 0h1v1h-1zm13 0h1v1h-1zm229 0h1v1h-1zm14 0h1v1h-1zm78 0h1v1h-1zm-419 1h1v1h-1zm358 0h1v1h-1zm44 0h1v1h-1zm-431 1h1v1h-1zm92 0h1v1h-1zm11 0h1v1h-1zm337 0h1v1h-1zm-421 1h1v1h-1zm63 0h1v1h-1zm-70 1h1v1h-1zm2 0h1v1h-1zm51 0h1v1h-1zm-53 1h1v1h-1zm69 0h1v1h-1zm-32 1h1v1h-1zm7 0h1v1h-1zm300 1h1v1h-1zm13 0h1v1h-1zm-227 1h1v1h-1z"/><path fill="#00efff" d="m311 80h1v1h-1zm-5 10h1v1h-1zm-7 4h1v1h-1zm7 0h1v1h-1zm-5 4h1v1h-1zm27 0h1v1h-1zm-14 2h1v1h-1zm-313 1h1v1h-1zm310 0h1v1h-1zm51 2h1v1h-1zm-50 1h1v1h-1zm-309 1h1v1h-1zm310 0h1v1h-1zm6 0h1v1h-1zm15 0h1v1h-1zm-11 1h1v1h-1zm19 1h1v1h-1zm26 0h1v1h-1zm-363 1h1v1h-1zm107 0h1v1h-1zm36 0h1v1h-1zm-139 1h1v1h-1zm314 0h1v1h-1zm18 0h1v1h-1zm-310 1h1v1h-1zm338 0h1v1h-1zm-363 1h1v1h-1zm100 0h1v1h-1zm71 0h1v1h-1zm156 0h1v1h-1zm6 0h1v1h-1zm-330 1h1v1h-1zm136 0h1v1h-1zm205 0h1v1h-1zm40 0h1v1h-1zm-390 1h1v1h-1zm10 0h1v1h-1zm25 0h1v1h-1zm134 0h1v1h-1zm233 0h1v1h-1zm-377 1h2v1h-2zm25 0h1v1h-1zm26 0h1v1h-1zm35 0h1v1h-1zm15 0h1v1h-1zm220 0h1v1h-1zm-332 1h1v1h-1zm2 0h1v1h-1zm81 0h1v1h-1zm26 0h1v1h-1zm262 0h1v1h-1zm12 0h1v1h-1zm39 0h1v1h-1zm-435 1h1v1h-1zm22 0h1v1h-1zm22 0h1v1h-1zm2 0h1v1h-1zm-15 1h1v1h-1zm130 0h1v1h-1zm222 0h1v1h-1zm54 0h1v1h-1zm-429 1h1v1h-1zm59 0h1v1h-1zm54 0h1v1h-1zm4 0h1v1h-1zm-114 1h1v1h-1zm59 0h1v1h-1zm12 0h1v1h-1zm-50 1h1v1h-1zm15 0h1v1h-1zm29 0h1v1h-1zm2 0h1v1h-1zm11 0h1v1h-1zm-39 1h1v1h-1zm6 0h1v1h-1zm29 0h1v1h-1zm-20 1h1v1h-1zm94 0h1v1h-1zm-1 2h1v1h-1zm147 10h1v1h-1zm1 7h1v1h-1zm4 2h1v1h-1zm8 3h1v1h-1zm-8 1h1v1h-1zm9 0h1v1h-1zm2 1h1v1h-1zm20 7h1v1h-1zm-14 1h1v1h-1zm32 0h1v1h-1zm-38 3h1v1h-1zm19 0h1v1h-1zm-23 1h1v1h-1zm33 0h1v1h-1zm-216 1h1v1h-1zm179 0h1v1h-1zm24 0h1v1h-1zm8 0h1v1h-1zm-211 1h1v1h-1zm193 0h1v1h-1zm-325 1h1v1h-1zm0 1h1v1h-1zm3 0h1v1h-1zm323 0h1v1h-1zm-324 1h1v1h-1zm133 0h1v1h-1zm199 0h1v1h-1zm-201 1h1v1h-1zm3 0h1v1h-1zm196 0h1v1h-1zm17 0h1v1h-1zm37 0h1v1h-1zm-266 2h1v1h-1zm6 0h2v1h-2zm234 0h1v1h-1zm-317 1h1v1h-1zm97 0h1v1h-1zm205 0h1v1h-1zm4 0h1v1h-1zm9 0h1v1h-1zm3 0h1v1h-1zm5 0h1v1h-1zm53 0h1v1h-1zm10 0h1v1h-1zm5 0h1v1h-1zm-339 1h1v1h-1zm4 0h1v1h-1zm4 0h1v1h-1zm243 0h1v1h-1zm24 0h1v1h-1zm7 0h1v1h-1zm-340 1h2v1h-2zm7 0h1v1h-1zm32 0h1v1h-1zm19 0h1v1h-1zm286 0h1v1h-1zm10 0h1v1h-1zm69 0h1v1h-1zm3 0h1v1h-1zm-383 1h1v1h-1zm301 1h1v1h-1zm17 0h1v1h-1zm2 0h1v1h-1zm54 0h1v1h-1zm19 0h1v1h-1zm-458 1h1v1h-1zm47 1h1v1h-1zm3 0h1v1h-1zm-47 1h1v1h-1zm58 0h1v1h-1zm-10 3h1v1h-1zm244 33h1v1h-1zm-2 1h1v1h-1zm7 9h1v1h-1zm-7 6h1v1h-1zm10 3h1v1h-1zm1 5h1v1h-1zm2 0h1v1h-1zm-5 3h1v1h-1zm-216 1h1v1h-1zm217 0h1v1h-1zm-184 1h1v1h-1zm183 0h1v1h-1zm3 0h1v1h-1zm-13 1h1v1h-1zm10 0h1v1h-1zm11 0h1v1h-1zm-199 1h1v1h-1zm197 1h1v1h-1zm-200 1h1v1h-1zm8 1h1v1h-1zm222 0h1v1h-1zm5 0h1v1h-1zm19 0h1v1h-1zm19 0h1v1h-1zm-295 1h1v1h-1zm202 0h1v1h-1zm44 0h1v1h-1zm16 0h1v1h-1zm7 0h1v1h-1zm-254 1h1v1h-1zm238 0h1v1h-1zm-243 1h1v1h-1zm224 0h1v1h-1zm42 0h1v1h-1zm-299 1h1v1h-1zm37 0h1v1h-1zm292 0h1v1h-1zm-405 1h1v1h-1zm126 0h1v1h-1zm196 0h1v1h-1zm115 0h1v1h-1zm-443 1h1v1h-1zm331 0h1v1h-1zm57 0h1v1h-1zm43 0h1v1h-1zm30 0h1v1h-1zm14 0h1v1h-1zm-375 1h1v1h-1zm260 0h1v1h-1zm10 0h1v1h-1zm86 0h1v1h-1zm20 0h1v1h-1zm-473 1h1v1h-1zm322 0h1v1h-1zm13 0h1v1h-1zm-316 1h1v1h-1zm12 0h1v1h-1zm44 0h1v1h-1zm31 0h1v1h-1zm16 0h1v1h-1zm12 0h1v1h-1zm-124 1h1v1h-1zm10 0h1v1h-1zm95 0h1v1h-1zm244 0h1v1h-1zm35 0h1v1h-1zm43 0h1v1h-1zm11 0h1v1h-1zm13 0h1v1h-1zm-445 1h1v1h-1zm4 0h1v1h-1zm24 0h1v1h-1zm11 0h1v1h-1zm285 0h1v1h-1zm115 0h1v1h-1zm-447 1h1v1h-1zm466 0h1v1h-1zm-444 1h1v1h-1zm61 0h1v1h-1zm213 0h1v1h-1zm101 0h1v1h-1zm-371 1h1v1h-1zm3 0h1v1h-1zm58 0h1v1h-1zm8 0h1v1h-1zm370 0h1v1h-1zm-412 1h1v1h-1zm328 0h1v1h-1zm-351 1h1v1h-1zm-16 2h1v1h-1zm11 0h1v1h-1zm19 0h1v1h-1zm14 0h2v1h-2zm-46 1h1v1h-1zm44 2h1v1h-1zm251 12h1v1h-1zm4 3h1v1h-1zm-2 15h1v1h-1zm-3 2h1v1h-1zm7 1h1v1h-1zm-200 2h1v1h-1zm197 0h1v1h-1zm7 1h1v1h-1zm1 1h1v1h-1zm12 0h1v1h-1zm-211 1h1v1h-1zm3 0h1v1h-1zm7 0h1v1h-1zm210 0h1v1h-1zm71 0h1v1h-1zm-111 1h1v1h-1zm48 0h1v1h-1zm-231 1h1v1h-1zm4 0h2v1h-2zm185 0h1v1h-1zm70 0h1v1h-1zm14 0h1v1h-1zm-83 1h1v1h-1zm126 0h1v1h-1zm-441 1h1v1h-1zm125 0h1v1h-1zm258 0h1v1h-1zm77 0h1v1h-1zm-322 1h1v1h-1zm239 0h1v1h-1zm64 0h1v1h-1zm-368 1h1v1h-1zm13 0h1v1h-1zm284 0h1v1h-1zm10 0h1v1h-1zm2 0h1v1h-1zm56 0h1v1h-1zm5 0h1v1h-1zm-399 1h1v1h-1zm56 0h2v1h-2zm4 0h1v1h-1zm24 0h1v1h-1zm208 0h1v1h-1zm94 0h1v1h-1zm-305 1h1v1h-1zm12 0h1v1h-1zm231 0h1v1h-1zm-362 1h1v1h-1zm21 0h1v1h-1zm7 0h1v1h-1zm35 0h1v1h-1zm39 0h1v1h-1zm-102 1h1v1h-1zm13 0h1v1h-1zm20 0h1v1h-1zm57 0h1v1h-1zm274 0h1v1h-1zm90 0h1v1h-1zm-412 1h1v1h-1zm21 0h1v1h-1zm7 0h1v1h-1zm10 0h1v1h-1zm2 0h1v1h-1zm3 0h1v1h-1zm244 0h1v1h-1zm39 0h1v1h-1zm38 0h2v1h-2zm29 0h1v1h-1zm12 0h1v1h-1zm2 0h1v1h-1zm-431 1h1v1h-1zm46 0h1v1h-1zm301 0h1v1h-1zm20 0h1v1h-1zm84 0h1v1h-1zm-401 1h1v1h-1zm398 0h1v1h-1zm-453 1h1v1h-1zm8 0h1v1h-1zm72 0h1v1h-1zm8 0h2v1h-2zm326 0h2v1h-2zm-408 1h1v1h-1zm14 0h1v1h-1zm29 0h1v1h-1zm19 0h1v1h-1zm9 0h1v1h-1zm10 0h1v1h-1zm270 0h1v1h-1zm-351 1h1v1h-1zm34 0h1v1h-1zm22 0h2v1h-2zm33 0h1v1h-1zm27 0h1v1h-1zm222 0h1v1h-1zm103 0h1v1h-1zm-428 1h1v1h-1zm52 0h1v1h-1zm352 0h1v1h-1zm27 0h1v1h-1zm-418 1h1v1h-1zm23 0h1v1h-1zm289 1h1v1h-1zm-353 1h1v1h-1zm74 0h1v1h-1zm352 0h1v1h-1zm-380 1h1v1h-1zm4 0h1v1h-1zm-3 1h1v1h-1zm-4 4h1v1h-1zm14 2h1v1h-1zm245 55h1v1h-1zm-1 1h1v1h-1zm-4 1h1v1h-1zm15 1h1v1h-1zm-3 2h1v1h-1zm3 3h1v1h-1zm-10 1h1v1h-1zm46 3h1v1h-1zm-42 5h1v1h-1zm2 0h1v1h-1zm20 7h1v1h-1zm20 0h1v1h-1zm-360 1h1v1h-1zm326 1h1v1h-1zm68 0h1v1h-1zm53 1h1v1h-1zm-407 1h1v1h-1zm86 0h1v1h-1zm275 0h1v1h-1zm38 0h1v1h-1zm-320 1h1v1h-1zm18 0h1v1h-1zm214 0h1v1h-1zm-313 1h1v1h-1zm108 0h1v1h-1zm199 0h1v1h-1zm125 0h1v1h-1zm-424 1h1v1h-1zm81 0h1v1h-1zm3 0h1v1h-1zm206 0h1v1h-1zm5 0h1v1h-1zm67 0h1v1h-1zm27 0h1v1h-1zm-349 1h1v1h-1zm19 0h1v1h-1zm11 0h1v1h-1zm30 0h1v1h-1zm-55 1h1v1h-1zm31 0h1v1h-1zm10 0h1v1h-1zm-125 1h1v1h-1zm67 0h1v1h-1zm6 0h1v1h-1zm50 0h1v1h-1zm290 0h1v1h-1zm-381 1h1v1h-1zm337 0h1v1h-1zm99 0h1v1h-1zm-96 1h1v1h-1zm44 0h1v1h-1zm35 0h1v1h-1zm-408 1h1v1h-1zm2 0h1v1h-1zm38 0h1v1h-1zm2 0h1v1h-1zm369 0h1v1h-1zm-55 1h1v1h-1zm-389 1h1v1h-1zm75 0h1v1h-1zm345 0h1v1h-1zm-424 1h1v1h-1zm45 0h1v1h-1zm-42 1h1v1h-1zm40 0h1v1h-1zm-33 1h1v1h-1zm42 0h1v1h-1zm333 0h1v1h-1zm9 0h1v1h-1z"/><path fill="#00ffff" d="m325 92h1v1h-1zm-24 5h1v1h-1zm6 4h1v1h-1zm6 0h1v1h-1zm41 1h1v1h-1zm-39 1h1v1h-1zm6 0h1v1h-1zm31 0h1v1h-1zm-34 1h1v1h-1zm40 0h1v1h-1zm-27 1h1v1h-1zm20 0h1v1h-1zm3 0h1v1h-1zm21 1h1v1h-1zm-55 2h1v1h-1zm0 1h1v1h-1zm54 0h1v1h-1zm10 0h1v1h-1zm-378 1h1v1h-1zm106 0h1v1h-1zm270 0h1v1h-1zm-279 1h1v1h-1zm4 0h1v1h-1zm11 0h1v1h-1zm57 0h1v1h-1zm-148 1h1v1h-1zm75 0h1v1h-1zm76 0h1v1h-1zm186 0h1v1h-1zm3 0h1v1h-1zm-366 1h2v1h-2zm12 0h1v1h-1zm85 0h1v1h-1zm26 0h1v1h-1zm254 0h1v1h-1zm77 0h1v1h-1zm-452 1h1v1h-1zm13 0h1v1h-1zm15 0h1v1h-1zm11 0h1v1h-1zm56 0h1v1h-1zm228 0h1v1h-1zm25 0h1v1h-1zm26 0h1v1h-1zm12 0h1v1h-1zm38 0h1v1h-1zm-379 1h1v1h-1zm4 0h1v1h-1zm32 0h1v1h-1zm29 0h1v1h-1zm59 0h1v1h-1zm282 0h1v1h-1zm10 0h1v1h-1zm-433 1h1v1h-1zm2 0h1v1h-1zm16 0h1v1h-1zm3 0h1v1h-1zm11 0h1v1h-1zm8 0h1v1h-1zm3 0h1v1h-1zm-58 1h1v1h-1zm50 0h1v1h-1zm90 0h1v1h-1zm252 0h1v1h-1zm-403 1h1v1h-1zm17 0h1v1h-1zm-17 1h1v1h-1zm21 0h1v1h-1zm15 1h1v1h-1zm18 0h1v1h-1zm108 0h1v1h-1zm-92 1h1v1h-1zm290 0h1v1h-1zm-296 1h1v1h-1zm-22 1h1v1h-1zm2 0h1v1h-1zm257 2h1v1h-1zm3 17h1v1h-1zm27 2h1v1h-1zm-31 1h1v1h-1zm23 4h1v1h-1zm13 1h1v1h-1zm-36 1h1v1h-1zm21 1h1v1h-1zm4 0h1v1h-1zm10 5h1v1h-1zm-30 1h1v1h-1zm9 0h1v1h-1zm0 1h1v1h-1zm66 0h1v1h-1zm-37 1h1v1h-1zm-29 1h1v1h-1zm10 0h1v1h-1zm4 1h1v1h-1zm-1 1h1v1h-1zm42 0h1v1h-1zm-44 1h1v1h-1zm9 0h1v1h-1zm-332 1h1v1h-1zm323 1h1v1h-1zm17 0h1v1h-1zm46 0h1v1h-1zm-264 1h1v1h-1zm258 0h1v1h-1zm-255 1h1v1h-1zm250 0h1v1h-1zm2 0h1v1h-1zm10 0h1v1h-1zm47 0h1v1h-1zm-396 1h1v1h-1zm334 0h1v1h-1zm17 0h1v1h-1zm15 0h1v1h-1zm24 0h1v1h-1zm-388 1h1v1h-1zm312 0h1v1h-1zm109 0h1v1h-1zm-443 1h1v1h-1zm5 0h1v1h-1zm6 0h1v1h-1zm63 0h1v1h-1zm24 0h1v1h-1zm333 0h1v1h-1zm-432 1h1v1h-1zm56 0h1v1h-1zm356 0h1v1h-1zm-377 1h1v1h-1zm319 0h1v1h-1zm-361 1h1v1h-1zm34 0h1v1h-1zm6 0h1v1h-1zm3 0h1v1h-1zm-6 1h1v1h-1zm24 1h1v1h-1zm8 0h1v1h-1zm278 1h1v1h-1zm-300 1h1v1h-1zm251 38h1v1h-1zm3 5h1v1h-1zm-11 2h1v1h-1zm0 1h1v1h-1zm4 8h1v1h-1zm-2 1h1v1h-1zm2 3h1v1h-1zm15 2h1v1h-1zm-200 3h1v1h-1zm182 1h1v1h-1zm-174 1h1v1h-1zm-16 1h1v1h-1zm212 0h1v1h-1zm-19 2h2v1h-2zm9 0h1v1h-1zm4 0h1v1h-1zm-199 1h1v1h-1zm4 0h1v1h-1zm184 0h1v1h-1zm6 0h1v1h-1zm-317 1h1v1h-1zm126 0h1v1h-1zm4 0h1v1h-1zm203 0h1v1h-1zm11 0h1v1h-1zm-219 1h1v1h-1zm235 0h1v1h-1zm33 0h1v1h-1zm19 0h1v1h-1zm-409 1h1v1h-1zm69 0h1v1h-1zm16 0h1v1h-1zm8 0h1v1h-1zm2 0h1v1h-1zm18 0h1v1h-1zm5 0h1v1h-1zm9 0h2v1h-2zm220 0h1v1h-1zm79 0h1v1h-1zm-431 1h1v1h-1zm124 0h1v1h-1zm248 0h1v1h-1zm-369 1h1v1h-1zm93 0h1v1h-1zm41 0h1v1h-1zm333 0h1v1h-1zm-370 1h1v1h-1zm42 0h1v1h-1zm195 0h1v1h-1zm131 0h1v1h-1zm-427 1h1v1h-1zm53 0h1v1h-1zm24 0h1v1h-1zm327 0h1v1h-1zm-433 1h1v1h-1zm33 0h1v1h-1zm2 0h1v1h-1zm292 0h1v1h-1zm10 0h1v1h-1zm8 0h1v1h-1zm16 0h1v1h-1zm54 0h1v1h-1zm-410 1h1v1h-1zm321 0h1v1h-1zm138 0h1v1h-1zm-394 1h1v1h-1zm259 0h1v1h-1zm55 0h1v1h-1zm-330 1h1v1h-1zm13 0h1v1h-1zm-34 1h1v1h-1zm25 0h1v1h-1zm44 0h1v1h-1zm336 0h1v1h-1zm-436 1h1v1h-1zm29 0h1v1h-1zm19 0h2v1h-2zm304 0h1v1h-1zm-348 1h1v1h-1zm3 0h1v1h-1zm30 0h1v1h-1zm18 0h1v1h-1zm369 0h1v1h-1zm-411 1h2v1h-2zm338 0h1v1h-1zm-54 3h1v1h-1zm-253 1h1v1h-1zm352 0h1v1h-1zm-345 1h1v1h-1zm247 0h1v1h-1zm-241 1h1v1h-1zm241 0h1v1h-1zm7 0h1v1h-1zm-6 6h1v1h-1zm0 2h1v1h-1zm1 3h1v1h-1zm5 6h1v1h-1zm-6 9h1v1h-1zm14 4h1v1h-1zm28 0h1v1h-1zm-35 2h1v1h-1zm35 0h1v1h-1zm-35 1h1v1h-1zm19 1h1v1h-1zm-206 2h1v1h-1zm189 0h1v1h-1zm26 0h1v1h-1zm-232 1h1v1h-1zm244 0h1v1h-1zm-38 1h1v1h-1zm53 0h1v1h-1zm-253 1h1v1h-1zm203 0h1v1h-1zm22 0h1v1h-1zm-205 1h1v1h-1zm-11 1h1v1h-1zm184 0h1v1h-1zm21 0h1v1h-1zm2 0h1v1h-1zm-212 1h1v1h-1zm5 0h1v1h-1zm218 0h1v1h-1zm18 0h1v1h-1zm21 0h1v1h-1zm48 0h1v1h-1zm3 0h1v1h-1zm-345 1h1v1h-1zm30 0h1v1h-1zm229 0h1v1h-1zm17 0h1v1h-1zm-370 1h1v1h-1zm93 0h1v1h-1zm22 0h1v1h-1zm242 0h1v1h-1zm17 0h1v1h-1zm72 0h1v1h-1zm-426 1h1v1h-1zm26 0h1v1h-1zm40 0h1v1h-1zm17 0h1v1h-1zm12 0h1v1h-1zm-81 1h1v1h-1zm75 0h1v1h-1zm258 0h1v1h-1zm6 0h1v1h-1zm51 0h1v1h-1zm24 0h1v1h-1zm28 0h1v1h-1zm-383 1h1v1h-1zm293 0h1v1h-1zm4 0h1v1h-1zm-372 1h1v1h-1zm8 0h1v1h-1zm27 0h1v1h-1zm28 0h1v1h-1zm-70 1h1v1h-1zm21 0h1v1h-1zm380 0h1v1h-1zm-295 1h1v1h-1zm232 0h1v1h-1zm-343 1h1v1h-1zm14 0h1v1h-1zm39 0h1v1h-1zm367 0h1v1h-1zm-403 1h1v1h-1zm18 0h1v1h-1zm2 0h1v1h-1zm17 0h1v1h-1zm34 0h1v1h-1zm13 0h1v1h-1zm282 0h1v1h-1zm5 0h1v1h-1zm30 0h1v1h-1zm21 0h1v1h-1zm-430 1h1v1h-1zm9 0h1v1h-1zm43 0h1v1h-1zm47 0h1v1h-1zm250 0h1v1h-1zm103 0h1v1h-1zm-424 1h1v1h-1zm323 0h1v1h-1zm-337 1h1v1h-1zm24 0h1v1h-1zm26 0h1v1h-1zm299 0h1v1h-1zm29 0h1v1h-1zm17 0h1v1h-1zm-388 1h1v1h-1zm16 0h1v1h-1zm28 0h1v1h-1zm304 0h1v1h-1zm-338 2h1v1h-1zm7 0h1v1h-1zm12 0h1v1h-1zm313 0h1v1h-1zm0 1h1v1h-1zm-313 2h1v1h-1zm4 0h1v1h-1zm-14 1h1v1h-1zm258 59h1v1h-1zm12 4h1v1h-1zm-10 3h1v1h-1zm8 3h1v1h-1zm-8 3h1v1h-1zm0 6h1v1h-1zm16 0h1v1h-1zm17 0h1v1h-1zm10 0h1v1h-1zm-7 2h1v1h-1zm4 0h1v1h-1zm-32 1h1v1h-1zm7 0h1v1h-1zm4 1h1v1h-1zm-15 1h1v1h-1zm16 0h1v1h-1zm-18 1h1v1h-1zm33 2h1v1h-1zm3 0h1v1h-1zm-308 1h1v1h-1zm92 0h1v1h-1zm312 0h1v1h-1zm-349 1h1v1h-1zm237 0h1v1h-1zm20 0h1v1h-1zm73 0h1v1h-1zm-382 1h1v1h-1zm306 0h1v1h-1zm24 0h1v1h-1zm95 0h1v1h-1zm-347 1h1v1h-1zm2 0h1v1h-1zm198 0h1v1h-1zm68 0h1v1h-1zm33 0h1v1h-1zm35 0h1v1h-1zm16 0h1v1h-1zm-468 1h1v1h-1zm20 0h1v1h-1zm17 0h1v1h-1zm5 0h1v1h-1zm38 0h1v1h-1zm13 0h1v1h-1zm342 0h1v1h-1zm4 0h1v1h-1zm29 0h1v1h-1zm-441 1h1v1h-1zm11 0h1v1h-1zm37 0h1v1h-1zm25 0h1v1h-1zm25 0h1v1h-1zm293 0h1v1h-1zm-411 1h1v1h-1zm46 0h1v1h-1zm5 0h1v1h-1zm74 0h1v1h-1zm3 0h1v1h-1zm252 0h1v1h-1zm66 0h1v1h-1zm12 0h1v1h-1zm-417 1h1v1h-1zm7 0h1v1h-1zm36 0h1v1h-1zm278 0h1v1h-1zm42 0h1v1h-1zm41 0h1v1h-1zm6 0h1v1h-1zm-372 1h1v1h-1zm20 0h1v1h-1zm-61 1h1v1h-1zm8 0h1v1h-1zm13 0h1v1h-1zm27 0h1v1h-1zm6 0h1v1h-1zm-96 1h1v1h-1zm61 0h1v1h-1zm30 0h1v1h-1zm-50 2h1v1h-1zm13 0h1v1h-1zm2 0h1v1h-1zm339 0h1v1h-1zm-349 1h1v1h-1zm7 3h1v1h-1z"/><path fill="#10ffef" d="m306 78h1v1h-1zm-7 5h1v1h-1zm6 0h1v1h-1zm-4 8h1v1h-1zm10 0h1v1h-1zm3 1h1v1h-1zm-15 4h1v1h-1zm4 1h1v1h-1zm33 0h1v1h-1zm-37 1h2v1h-2zm20 2h1v1h-1zm6 1h1v1h-1zm-22 2h1v1h-1zm7 1h1v1h-1zm33 0h1v1h-1zm16 0h1v1h-1zm2 0h1v1h-1zm2 0h1v1h-1zm-358 2h1v1h-1zm130 2h1v1h-1zm186 0h1v1h-1zm-214 1h1v1h-1zm252 0h1v1h-1zm-248 1h1v1h-1zm3 0h1v1h-1zm215 0h1v1h-1zm14 0h1v1h-1zm33 0h1v1h-1zm-45 1h1v1h-1zm43 0h1v1h-1zm-340 1h1v1h-1zm67 0h1v1h-1zm-61 1h1v1h-1zm87 0h1v1h-1zm9 0h1v1h-1zm249 0h1v1h-1zm-347 1h1v1h-1zm27 0h1v1h-1zm278 0h1v1h-1zm42 0h1v1h-1zm-343 1h1v1h-1zm31 0h1v1h-1zm5 0h1v1h-1zm28 0h1v1h-1zm10 0h1v1h-1zm47 0h1v1h-1zm268 0h1v1h-1zm8 0h1v1h-1zm-425 1h1v1h-1zm34 0h1v1h-1zm18 0h1v1h-1zm35 0h1v1h-1zm13 0h1v1h-1zm17 0h1v1h-1zm-113 1h1v1h-1zm56 0h1v1h-1zm20 0h1v1h-1zm22 0h1v1h-1zm36 0h1v1h-1zm3 0h1v1h-1zm211 0h1v1h-1zm41 0h1v1h-1zm-401 1h1v1h-1zm63 0h1v1h-1zm93 0h2v1h-2zm-146 1h1v1h-1zm21 0h1v1h-1zm61 0h1v1h-1zm55 0h1v1h-1zm8 0h1v1h-1zm3 0h1v1h-1zm-108 1h1v1h-1zm9 0h1v1h-1zm8 0h1v1h-1zm15 0h1v1h-1zm7 0h1v1h-1zm-81 1h1v1h-1zm8 2h1v1h-1zm284 9h1v1h-1zm14 7h1v1h-1zm9 1h1v1h-1zm-21 14h1v1h-1zm30 0h1v1h-1zm-9 2h1v1h-1zm39 1h1v1h-1zm-7 1h1v1h-1zm-30 1h1v1h-1zm-5 2h1v1h-1zm61 2h1v1h-1zm-79 1h1v1h-1zm72 0h1v1h-1zm-34 1h1v1h-1zm-213 1h1v1h-1zm2 0h1v1h-1zm224 0h1v1h-1zm14 0h1v1h-1zm6 1h1v1h-1zm13 0h1v1h-1zm-383 1h1v1h-1zm332 0h1v1h-1zm50 0h1v1h-1zm-352 1h1v1h-1zm86 0h1v1h-1zm222 0h1v1h-1zm105 0h1v1h-1zm-422 1h1v1h-1zm71 0h1v1h-1zm21 0h1v1h-1zm233 0h1v1h-1zm61 0h1v1h-1zm-322 1h1v1h-1zm3 0h1v1h-1zm307 0h1v1h-1zm35 0h1v1h-1zm5 0h1v1h-1zm-421 1h1v1h-1zm71 0h1v1h-1zm11 0h1v1h-1zm373 0h1v1h-1zm-459 1h1v1h-1zm82 0h1v1h-1zm265 0h1v1h-1zm-314 1h1v1h-1zm353 0h1v1h-1zm22 0h1v1h-1zm-7 1h1v1h-1zm-362 1h1v1h-1zm-2 1h1v1h-1zm263 42h1v1h-1zm3 3h1v1h-1zm-3 3h1v1h-1zm-12 1h1v1h-1zm2 11h1v1h-1zm16 3h1v1h-1zm36 2h2v1h-2zm-222 3h1v1h-1zm205 0h1v1h-1zm42 0h1v1h-1zm-39 1h1v1h-1zm-246 1h1v1h-1zm37 0h1v1h-1zm195 0h1v1h-1zm17 0h1v1h-1zm-215 1h1v1h-1zm185 0h1v1h-1zm82 0h1v1h-1zm-270 1h1v1h-1zm-129 1h1v1h-1zm337 0h1v1h-1zm-253 1h1v1h-1zm12 0h1v1h-1zm19 0h1v1h-1zm-2 1h1v1h-1zm17 0h1v1h-1zm10 0h1v1h-1zm208 0h1v1h-1zm85 0h1v1h-1zm30 0h1v1h-1zm-364 1h1v1h-1zm266 0h1v1h-1zm48 0h1v1h-1zm-365 1h1v1h-1zm24 0h1v1h-1zm58 0h1v1h-1zm11 0h1v1h-1zm193 0h1v1h-1zm118 0h1v1h-1zm-402 1h1v1h-1zm47 0h1v1h-1zm42 0h1v1h-1zm238 0h1v1h-1zm7 0h1v1h-1zm-377 1h1v1h-1zm326 0h1v1h-1zm114 0h1v1h-1zm-444 1h2v1h-2zm429 0h1v1h-1zm29 0h1v1h-1zm12 0h1v1h-1zm-415 1h1v1h-1zm34 0h1v1h-1zm2 0h1v1h-1zm279 0h1v1h-1zm98 0h1v1h-1zm-426 1h1v1h-1zm362 0h1v1h-1zm10 0h1v1h-1zm9 0h1v1h-1zm-414 2h1v1h-1zm49 0h1v1h-1zm3 0h1v1h-1zm9 0h1v1h-1zm302 0h1v1h-1zm-301 1h1v1h-1zm4 0h1v1h-1zm-62 1h1v1h-1zm37 0h1v1h-1zm4 0h2v1h-2zm397 1h1v1h-1zm-435 1h1v1h-1zm289 1h1v1h-1zm-248 1h1v1h-1zm248 19h1v1h-1zm-2 1h1v1h-1zm14 2h1v1h-1zm2 9h1v1h-1zm-16 1h1v1h-1zm17 0h1v1h-1zm-194 3h1v1h-1zm191 0h1v1h-1zm-190 1h1v1h-1zm200 0h1v1h-1zm36 0h1v1h-1zm-245 1h1v1h-1zm187 0h1v1h-1zm-181 1h1v1h-1zm6 0h1v1h-1zm178 0h1v1h-1zm16 0h1v1h-1zm65 0h1v1h-1zm-268 1h1v1h-1zm3 0h1v1h-1zm10 0h1v1h-1zm175 0h1v1h-1zm39 1h1v1h-1zm-229 1h1v1h-1zm190 0h1v1h-1zm20 0h1v1h-1zm-335 1h1v1h-1zm136 0h1v1h-1zm247 0h1v1h-1zm55 0h1v1h-1zm-328 1h1v1h-1zm15 0h1v1h-1zm18 0h1v1h-1zm-29 1h1v1h-1zm261 0h1v1h-1zm-266 1h1v1h-1zm4 0h1v1h-1zm321 0h1v1h-1zm-392 1h1v1h-1zm78 0h1v1h-1zm257 0h1v1h-1zm4 0h1v1h-1zm32 0h1v1h-1zm10 0h1v1h-1zm38 0h1v1h-1zm2 0h1v1h-1zm6 0h1v1h-1zm-467 1h1v1h-1zm46 0h1v1h-1zm53 0h1v1h-1zm13 0h1v1h-1zm220 0h1v1h-1zm4 0h1v1h-1zm25 0h1v1h-1zm100 0h1v1h-1zm15 0h1v1h-1zm-453 1h1v1h-1zm14 0h1v1h-1zm55 0h1v1h-1zm6 0h1v1h-1zm4 0h1v1h-1zm290 0h1v1h-1zm8 0h1v1h-1zm13 0h1v1h-1zm49 0h1v1h-1zm-363 1h1v1h-1zm43 0h1v1h-1zm209 0h1v1h-1zm-259 1h1v1h-1zm289 0h1v1h-1zm48 0h1v1h-1zm16 0h1v1h-1zm-402 1h1v1h-1zm332 0h1v1h-1zm51 0h1v1h-1zm42 0h1v1h-1zm-363 1h1v1h-1zm36 0h1v1h-1zm229 0h1v1h-1zm3 0h1v1h-1zm17 0h1v1h-1zm86 0h1v1h-1zm-446 1h1v1h-1zm372 0h1v1h-1zm25 0h1v1h-1zm-404 1h1v1h-1zm61 0h1v1h-1zm17 0h1v1h-1zm-20 1h1v1h-1zm-70 1h1v1h-1zm12 0h1v1h-1zm23 0h1v1h-1zm7 0h1v1h-1zm311 0h1v1h-1zm-275 1h1v1h-1zm-30 1h1v1h-1zm4 0h1v1h-1zm10 2h1v1h-1zm-9 1h1v1h-1zm341 0h1v1h-1zm-96 58h1v1h-1zm14 9h1v1h-1zm-14 1h1v1h-1zm5 7h1v1h-1zm6 2h1v1h-1zm9 1h1v1h-1zm9 2h1v1h-1zm-14 1h1v1h-1zm1 1h1v1h-1zm11 0h1v1h-1zm14 1h1v1h-1zm-28 2h1v1h-1zm7 0h1v1h-1zm2 0h1v1h-1zm5 0h2v1h-2zm10 0h1v1h-1zm8 1h1v1h-1zm7 0h1v1h-1zm-360 1h1v1h-1zm402 0h1v1h-1zm-32 1h1v1h-1zm10 0h1v1h-1zm18 0h1v1h-1zm-262 1h1v1h-1zm195 0h1v1h-1zm2 0h1v1h-1zm33 0h1v1h-1zm8 0h1v1h-1zm-21 1h1v1h-1zm81 0h1v1h-1zm-342 1h2v1h-2zm3 0h1v1h-1zm253 0h1v1h-1zm22 0h1v1h-1zm-320 1h1v1h-1zm391 0h1v1h-1zm-419 1h1v1h-1zm112 0h1v1h-1zm239 0h1v1h-1zm39 0h1v1h-1zm43 0h1v1h-1zm-454 1h1v1h-1zm41 0h2v1h-2zm34 0h1v1h-1zm41 0h1v1h-1zm27 0h1v1h-1zm-111 1h1v1h-1zm79 0h1v1h-1zm4 0h1v1h-1zm22 0h1v1h-1zm204 0h1v1h-1zm89 0h1v1h-1zm-405 1h1v1h-1zm21 0h1v1h-1zm21 0h1v1h-1zm-39 1h1v1h-1zm60 0h1v1h-1zm13 0h1v1h-1zm319 0h1v1h-1zm-355 1h1v1h-1zm10 0h1v1h-1zm381 0h1v1h-1zm-435 1h1v1h-1zm28 0h1v1h-1zm28 0h1v1h-1zm283 0h1v1h-1zm-336 1h1v1h-1zm41 2h1v1h-1zm-10 7h1v1h-1z"/><path fill="#20ffdf" d="m308 87h1v1h-1zm-1 3h1v1h-1zm6 2h1v1h-1zm0 1h1v1h-1zm0 3h1v1h-1zm4 2h1v1h-1zm38 4h1v1h-1zm-8 1h1v1h-1zm-10 1h1v1h-1zm5 1h1v1h-1zm-27 1h1v1h-1zm37 0h1v1h-1zm-4 1h1v1h-1zm-210 1h1v1h-1zm7 0h1v1h-1zm179 0h1v1h-1zm-321 1h1v1h-1zm131 0h1v1h-1zm15 0h1v1h-1zm222 0h1v1h-1zm-369 1h1v1h-1zm9 0h1v1h-1zm163 0h1v1h-1zm198 0h1v1h-1zm-340 1h1v1h-1zm70 0h1v1h-1zm13 0h1v1h-1zm34 0h1v1h-1zm191 0h1v1h-1zm37 0h1v1h-1zm-372 1h1v1h-1zm139 0h1v1h-1zm22 0h1v1h-1zm210 0h1v1h-1zm19 0h1v1h-1zm-274 1h1v1h-1zm57 0h1v1h-1zm174 0h1v1h-1zm-224 1h1v1h-1zm45 0h1v1h-1zm246 0h1v1h-1zm44 0h1v1h-1zm-451 1h2v1h-2zm74 0h1v1h-1zm26 0h1v1h-1zm3 0h1v1h-1zm233 0h1v1h-1zm59 0h1v1h-1zm-373 1h1v1h-1zm42 0h1v1h-1zm26 0h1v1h-1zm15 0h1v1h-1zm57 0h1v1h-1zm259 0h1v1h-1zm35 0h1v1h-1zm-422 1h1v1h-1zm44 0h1v1h-1zm78 0h1v1h-1zm252 0h1v1h-1zm-383 1h1v1h-1zm7 0h1v1h-1zm364 0h1v1h-1zm-346 1h1v1h-1zm14 0h1v1h-1zm3 0h1v1h-1zm79 0h1v1h-1zm8 0h1v1h-1zm-112 2h1v1h-1zm15 0h1v1h-1zm9 0h1v1h-1zm227 17h1v1h-1zm9 15h1v1h-1zm-3 1h1v1h-1zm8 0h1v1h-1zm-7 2h1v1h-1zm12 1h1v1h-1zm14 3h1v1h-1zm-11 1h1v1h-1zm26 1h1v1h-1zm-37 2h1v1h-1zm31 0h1v1h-1zm5 0h1v1h-1zm-8 1h1v1h-1zm4 0h1v1h-1zm31 0h1v1h-1zm-379 1h1v1h-1zm130 0h1v1h-1zm7 0h1v1h-1zm220 1h1v1h-1zm18 1h1v1h-1zm84 0h1v1h-1zm-45 1h1v1h-1zm25 0h1v1h-1zm-433 1h1v1h-1zm86 0h1v1h-1zm28 0h1v1h-1zm272 0h1v1h-1zm49 0h1v1h-1zm20 0h1v1h-1zm-336 1h1v1h-1zm308 0h1v1h-1zm24 0h1v1h-1zm21 0h1v1h-1zm-469 1h1v1h-1zm24 0h1v1h-1zm42 0h1v1h-1zm-55 1h2v1h-2zm3 0h1v1h-1zm50 0h1v1h-1zm17 0h1v1h-1zm-61 1h1v1h-1zm42 0h1v1h-1zm18 0h1v1h-1zm11 0h1v1h-1zm-31 1h1v1h-1zm7 0h1v1h-1zm10 0h1v1h-1zm352 0h1v1h-1zm-425 1h1v1h-1zm54 0h1v1h-1zm0 2h1v1h-1zm357 2h1v1h-1zm-114 43h1v1h-1zm12 1h1v1h-1zm-2 3h1v1h-1zm-10 9h1v1h-1zm15 3h1v1h-1zm2 1h1v1h-1zm-1 1h1v1h-1zm-197 1h1v1h-1zm185 0h1v1h-1zm-208 1h1v1h-1zm29 0h1v1h-1zm187 0h1v1h-1zm8 0h1v1h-1zm29 1h1v1h-1zm-226 1h1v1h-1zm221 0h1v1h-1zm-33 1h1v1h-1zm-317 1h1v1h-1zm126 0h1v1h-1zm-25 1h1v1h-1zm10 0h1v1h-1zm247 0h1v1h-1zm-6 1h1v1h-1zm9 0h1v1h-1zm7 0h1v1h-1zm-265 1h1v1h-1zm24 0h1v1h-1zm7 0h1v1h-1zm188 0h1v1h-1zm29 0h1v1h-1zm29 0h1v1h-1zm14 0h1v1h-1zm-286 1h1v1h-1zm229 0h1v1h-1zm35 0h1v1h-1zm27 0h1v1h-1zm29 0h1v1h-1zm-342 1h1v1h-1zm11 0h1v1h-1zm271 0h1v1h-1zm46 0h1v1h-1zm-381 1h1v1h-1zm98 0h1v1h-1zm292 0h1v1h-1zm47 0h1v1h-1zm-113 1h1v1h-1zm17 0h1v1h-1zm-269 1h1v1h-1zm241 0h1v1h-1zm51 0h1v1h-1zm-382 1h1v1h-1zm22 0h1v1h-1zm79 0h1v1h-1zm235 0h1v1h-1zm-212 1h1v1h-1zm254 0h1v1h-1zm66 0h1v1h-1zm-454 1h1v1h-1zm34 0h1v1h-1zm433 0h1v1h-1zm-446 1h1v1h-1zm20 0h1v1h-1zm3 0h1v1h-1zm344 0h1v1h-1zm29 0h1v1h-1zm-378 1h1v1h-1zm56 0h1v1h-1zm-75 1h1v1h-1zm50 0h1v1h-1zm3 0h1v1h-1zm5 0h1v1h-1zm-65 1h1v1h-1zm344 0h1v1h-1zm-335 1h1v1h-1zm4 0h1v1h-1zm22 0h1v1h-1zm-34 1h1v1h-1zm37 0h1v1h-1zm2 0h1v1h-1zm9 1h1v1h-1zm-4 1h1v1h-1zm241 4h1v1h-1zm0 5h1v1h-1zm15 8h1v1h-1zm-12 2h1v1h-1zm14 12h1v1h-1zm11 0h1v1h-1zm-26 3h1v1h-1zm30 1h2v1h-2zm-19 1h1v1h-1zm-193 1h1v1h-1zm211 2h1v1h-1zm-220 1h1v1h-1zm216 0h1v1h-1zm50 0h1v1h-1zm-265 3h1v1h-1zm7 0h1v1h-1zm11 0h2v1h-2zm204 0h1v1h-1zm28 0h1v1h-1zm48 1h1v1h-1zm-46 1h1v1h-1zm9 0h1v1h-1zm36 0h1v1h-1zm-283 1h1v1h-1zm3 0h1v1h-1zm236 0h1v1h-1zm92 0h1v1h-1zm-354 1h1v1h-1zm3 0h1v1h-1zm23 0h1v1h-1zm195 0h1v1h-1zm9 0h1v1h-1zm22 0h1v1h-1zm34 0h1v1h-1zm61 0h1v1h-1zm-426 1h1v1h-1zm8 0h1v1h-1zm50 0h1v1h-1zm330 0h1v1h-1zm-405 1h1v1h-1zm11 0h1v1h-1zm25 0h1v1h-1zm90 0h1v1h-1zm2 0h1v1h-1zm-2 1h1v1h-1zm5 0h1v1h-1zm206 0h1v1h-1zm31 0h1v1h-1zm91 0h1v1h-1zm-469 1h1v1h-1zm14 0h1v1h-1zm35 0h1v1h-1zm52 0h1v1h-1zm41 0h1v1h-1zm266 0h1v1h-1zm45 0h1v1h-1zm-386 1h1v1h-1zm75 0h1v1h-1zm259 0h1v1h-1zm18 0h1v1h-1zm38 0h1v1h-1zm4 0h1v1h-1zm-461 1h1v1h-1zm32 0h1v1h-1zm9 0h1v1h-1zm12 0h1v1h-1zm291 0h1v1h-1zm108 0h1v1h-1zm-435 1h1v1h-1zm79 0h1v1h-1zm356 0h1v1h-1zm-425 1h1v1h-1zm11 0h1v1h-1zm39 0h1v1h-1zm342 0h1v1h-1zm-410 1h1v1h-1zm2 0h1v1h-1zm4 0h1v1h-1zm387 0h1v1h-1zm31 0h1v1h-1zm27 0h1v1h-1zm-393 1h1v1h-1zm2 0h1v1h-1zm291 0h1v1h-1zm-302 2h1v1h-1zm247 55h1v1h-1zm15 12h1v1h-1zm-13 2h1v1h-1zm6 5h1v1h-1zm-1 4h1v1h-1zm11 0h1v1h-1zm11 5h1v1h-1zm-20 2h2v1h-2zm24 1h1v1h-1zm29 2h1v1h-1zm-370 1h1v1h-1zm338 0h1v1h-1zm20 0h1v1h-1zm-19 1h1v1h-1zm27 0h1v1h-1zm28 2h1v1h-1zm-61 1h1v1h-1zm41 0h1v1h-1zm89 0h1v1h-1zm-325 1h2v1h-2zm256 0h2v1h-2zm-394 1h1v1h-1zm108 0h1v1h-1zm289 0h1v1h-1zm30 0h1v1h-1zm41 0h1v1h-1zm-444 1h1v1h-1zm86 0h1v1h-1zm16 0h1v1h-1zm-111 1h1v1h-1zm70 0h1v1h-1zm32 0h1v1h-1zm3 0h1v1h-1zm313 0h1v1h-1zm6 0h1v1h-1zm9 0h1v1h-1zm5 0h1v1h-1zm-418 1h1v1h-1zm370 0h1v1h-1zm2 0h1v1h-1zm23 0h1v1h-1zm35 0h1v1h-1zm-459 1h1v1h-1zm96 0h1v1h-1zm17 0h1v1h-1zm21 0h1v1h-1zm223 0h1v1h-1zm85 0h1v1h-1zm-381 1h1v1h-1zm17 0h1v1h-1zm2 0h1v1h-1zm2 0h1v1h-1zm371 0h1v1h-1zm2 0h1v1h-1zm-451 1h1v1h-1zm52 0h2v1h-2zm18 0h1v1h-1zm18 0h1v1h-1zm52 0h1v1h-1zm-98 1h1v1h-1zm30 0h1v1h-1zm-67 1h1v1h-1zm10 0h1v1h-1zm29 0h2v1h-2zm-1 1h1v1h-1zm12 1h1v1h-1zm86 2h1v1h-1z"/><path fill="#30ffcf" d="m319 90h1v1h-1zm-14 1h1v1h-1zm5 2h1v1h-1zm29 4h1v1h-1zm-6 1h1v1h-1zm-31 5h1v1h-1zm2 0h1v1h-1zm33 0h1v1h-1zm5 0h1v1h-1zm-6 1h1v1h-1zm24 1h1v1h-1zm-358 1h1v1h-1zm316 0h1v1h-1zm-179 1h1v1h-1zm189 0h1v1h-1zm23 0h1v1h-1zm-351 1h1v1h-1zm4 0h1v1h-1zm140 0h1v1h-1zm178 0h1v1h-1zm12 0h1v1h-1zm41 0h1v1h-1zm-31 1h1v1h-1zm13 0h1v1h-1zm-353 1h1v1h-1zm349 0h1v1h-1zm-239 1h1v1h-1zm249 0h1v1h-1zm19 0h1v1h-1zm-350 1h1v1h-1zm106 0h1v1h-1zm233 0h1v1h-1zm9 0h1v1h-1zm42 0h1v1h-1zm-413 1h1v1h-1zm111 0h1v1h-1zm-91 1h1v1h-1zm50 0h1v1h-1zm56 0h1v1h-1zm296 0h1v1h-1zm45 0h1v1h-1zm-473 1h1v1h-1zm48 0h1v1h-1zm34 0h1v1h-1zm8 0h1v1h-1zm26 0h1v1h-1zm32 0h1v1h-1zm19 0h1v1h-1zm249 0h1v1h-1zm42 0h1v1h-1zm-407 1h1v1h-1zm23 0h1v1h-1zm12 0h1v1h-1zm3 0h1v1h-1zm4 0h1v1h-1zm29 0h1v1h-1zm36 0h1v1h-1zm189 0h1v1h-1zm-330 1h1v1h-1zm133 0h1v1h-1zm13 0h1v1h-1zm-149 1h1v1h-1zm4 0h1v1h-1zm5 0h1v1h-1zm74 0h1v1h-1zm29 0h1v1h-1zm28 0h1v1h-1zm4 0h1v1h-1zm-153 1h1v1h-1zm61 0h1v1h-1zm18 0h1v1h-1zm279 0h1v1h-1zm-294 1h1v1h-1zm21 0h1v1h-1zm63 0h1v1h-1zm-140 1h1v1h-1zm295 11h1v1h-1zm11 2h1v1h-1zm-2 9h1v1h-1zm-7 11h1v1h-1zm8 3h1v1h-1zm20 1h1v1h-1zm21 1h1v1h-1zm-33 1h1v1h-1zm-11 2h1v1h-1zm42 0h1v1h-1zm5 0h1v1h-1zm-228 2h1v1h-1zm199 2h1v1h-1zm-206 1h1v1h-1zm5 0h1v1h-1zm-7 1h1v1h-1zm243 0h1v1h-1zm79 0h1v1h-1zm-85 1h1v1h-1zm33 0h1v1h-1zm57 0h1v1h-1zm-418 1h1v1h-1zm3 0h1v1h-1zm74 0h1v1h-1zm262 0h1v1h-1zm24 0h1v1h-1zm45 0h1v1h-1zm-344 1h1v1h-1zm321 0h1v1h-1zm38 0h1v1h-1zm13 0h1v1h-1zm3 0h1v1h-1zm-464 1h1v1h-1zm91 0h1v1h-1zm12 0h2v1h-2zm311 0h1v1h-1zm7 0h1v1h-1zm-351 1h1v1h-1zm-26 1h1v1h-1zm3 0h1v1h-1zm17 0h1v1h-1zm9 0h1v1h-1zm-26 1h1v1h-1zm11 0h1v1h-1zm-54 1h1v1h-1zm40 0h1v1h-1zm263 51h1v1h-1zm10 1h1v1h-1zm0 2h1v1h-1zm-6 1h1v1h-1zm-1 1h1v1h-1zm-15 1h1v1h-1zm2 5h1v1h-1zm5 1h1v1h-1zm5 1h1v1h-1zm7 0h1v1h-1zm-1 1h1v1h-1zm13 1h1v1h-1zm47 0h1v1h-1zm-62 1h1v1h-1zm-15 1h1v1h-1zm28 0h1v1h-1zm-205 1h1v1h-1zm6 0h1v1h-1zm195 1h1v1h-1zm23 0h1v1h-1zm-24 1h1v1h-1zm-223 1h1v1h-1zm277 0h1v1h-1zm-382 1h1v1h-1zm334 0h1v1h-1zm77 1h1v1h-1zm-273 1h1v1h-1zm175 0h1v1h-1zm31 0h1v1h-1zm22 0h1v1h-1zm-235 1h1v1h-1zm248 0h1v1h-1zm9 0h1v1h-1zm25 0h1v1h-1zm25 0h1v1h-1zm14 0h1v1h-1zm8 0h1v1h-1zm8 0h1v1h-1zm-337 1h1v1h-1zm5 0h1v1h-1zm319 0h1v1h-1zm8 0h1v1h-1zm-456 1h1v1h-1zm337 0h1v1h-1zm37 0h1v1h-1zm58 0h1v1h-1zm9 0h1v1h-1zm-410 1h1v1h-1zm5 0h1v1h-1zm49 0h1v1h-1zm2 0h1v1h-1zm9 0h1v1h-1zm2 0h1v1h-1zm6 0h1v1h-1zm218 0h1v1h-1zm6 0h1v1h-1zm41 0h1v1h-1zm19 0h1v1h-1zm4 0h1v1h-1zm17 0h1v1h-1zm26 0h1v1h-1zm4 0h1v1h-1zm-366 1h2v1h-2zm303 0h1v1h-1zm51 0h1v1h-1zm22 0h1v1h-1zm-379 1h1v1h-1zm272 0h1v1h-1zm55 0h1v1h-1zm26 0h2v1h-2zm21 0h1v1h-1zm8 0h1v1h-1zm5 0h1v1h-1zm-444 1h1v1h-1zm89 0h1v1h-1zm282 0h1v1h-1zm44 0h1v1h-1zm22 0h1v1h-1zm-354 1h1v1h-1zm317 0h1v1h-1zm2 0h1v1h-1zm-381 1h1v1h-1zm22 0h1v1h-1zm17 0h1v1h-1zm355 0h1v1h-1zm-412 1h1v1h-1zm62 0h1v1h-1zm2 0h1v1h-1zm-7 1h1v1h-1zm228 0h1v1h-1zm54 1h1v1h-1zm-329 1h1v1h-1zm372 0h1v1h-1zm-344 1h1v1h-1zm6 0h1v1h-1zm259 21h1v1h-1zm0 1h1v1h-1zm-16 1h1v1h-1zm-4 1h1v1h-1zm-177 14h1v1h-1zm197 2h1v1h-1zm9 0h1v1h-1zm25 0h1v1h-1zm-29 1h1v1h-1zm-20 1h1v1h-1zm6 0h1v1h-1zm21 0h1v1h-1zm27 0h2v1h-2zm-36 1h1v1h-1zm-203 1h1v1h-1zm6 0h1v1h-1zm-132 1h1v1h-1zm108 0h1v1h-1zm233 0h1v1h-1zm78 0h1v1h-1zm18 0h1v1h-1zm7 0h1v1h-1zm-340 1h1v1h-1zm16 0h1v1h-1zm203 0h1v1h-1zm-321 1h1v1h-1zm113 0h1v1h-1zm2 0h1v1h-1zm19 0h1v1h-1zm297 0h1v1h-1zm-388 1h1v1h-1zm83 0h1v1h-1zm245 0h1v1h-1zm45 0h1v1h-1zm49 0h1v1h-1zm-448 1h1v1h-1zm11 0h1v1h-1zm13 0h1v1h-1zm56 0h1v1h-1zm276 0h1v1h-1zm91 0h1v1h-1zm2 0h1v1h-1zm-453 1h1v1h-1zm84 0h1v1h-1zm270 0h1v1h-1zm-340 1h1v1h-1zm66 0h1v1h-1zm280 0h1v1h-1zm8 0h1v1h-1zm45 0h1v1h-1zm8 0h1v1h-1zm-355 1h1v1h-1zm262 0h1v1h-1zm43 0h1v1h-1zm14 0h1v1h-1zm33 0h1v1h-1zm4 0h1v1h-1zm-428 1h1v1h-1zm61 0h1v1h-1zm11 0h1v1h-1zm59 0h1v1h-1zm278 0h1v1h-1zm11 0h1v1h-1zm36 0h1v1h-1zm-434 1h1v1h-1zm15 0h1v1h-1zm47 0h1v1h-1zm8 0h1v1h-1zm5 0h1v1h-1zm311 0h1v1h-1zm-390 1h1v1h-1zm35 0h1v1h-1zm19 0h1v1h-1zm22 0h1v1h-1zm-77 1h1v1h-1zm2 0h1v1h-1zm34 0h1v1h-1zm300 0h1v1h-1zm14 0h1v1h-1zm30 0h1v1h-1zm-336 1h1v1h-1zm390 0h1v1h-1zm-452 1h1v1h-1zm57 0h1v1h-1zm1 1h1v1h-1zm351 0h1v1h-1zm-361 1h1v1h-1zm15 0h1v1h-1zm2 0h1v1h-1zm-18 2h1v1h-1zm9 0h1v1h-1zm-7 3h1v1h-1zm3 0h2v1h-2zm5 1h1v1h-1zm251 63h1v1h-1zm10 0h1v1h-1zm-4 5h1v1h-1zm-15 3h1v1h-1zm18 0h1v1h-1zm-4 5h1v1h-1zm11 1h1v1h-1zm25 1h1v1h-1zm-44 1h1v1h-1zm16 0h1v1h-1zm-12 1h1v1h-1zm-319 1h1v1h-1zm353 0h1v1h-1zm3 0h1v1h-1zm-357 1h1v1h-1zm0 1h1v1h-1zm336 0h1v1h-1zm-208 1h1v1h-1zm-3 1h1v1h-1zm267 1h1v1h-1zm39 0h1v1h-1zm-93 1h1v1h-1zm22 0h1v1h-1zm13 0h1v1h-1zm-274 1h1v1h-1zm45 0h1v1h-1zm275 0h1v1h-1zm25 0h1v1h-1zm-350 1h1v1h-1zm259 0h1v1h-1zm61 0h1v1h-1zm-330 1h1v1h-1zm31 0h1v1h-1zm269 0h1v1h-1zm18 0h1v1h-1zm49 0h1v1h-1zm4 0h1v1h-1zm-433 1h1v1h-1zm4 0h1v1h-1zm21 0h1v1h-1zm85 0h1v1h-1zm16 0h1v1h-1zm242 0h1v1h-1zm70 0h1v1h-1zm-359 1h1v1h-1zm45 0h1v1h-1zm-87 1h1v1h-1zm27 0h1v1h-1zm62 0h1v1h-1zm-94 1h1v1h-1zm11 0h1v1h-1zm24 0h1v1h-1zm276 0h2v1h-2zm-313 1h1v1h-1zm28 0h1v1h-1zm5 0h1v1h-1zm-13 1h1v1h-1zm293 0h1v1h-1zm43 0h1v1h-1zm49 0h1v1h-1zm-441 1h1v1h-1zm45 2h1v1h-1zm91 0h1v1h-1zm1 1h1v1h-1z"/><path fill="#40ffbf" d="m306 92h1v1h-1zm14 6h1v1h-1zm5 1h1v1h-1zm-10 1h1v1h-1zm-6 1h1v1h-1zm24 0h1v1h-1zm-32 2h1v1h-1zm5 1h1v1h-1zm15 0h1v1h-1zm-14 1h1v1h-1zm7 1h1v1h-1zm-313 2h1v1h-1zm8 0h1v1h-1zm359 0h1v1h-1zm-366 1h1v1h-1zm131 1h1v1h-1zm42 0h1v1h-1zm193 0h1v1h-1zm-257 1h1v1h-1zm21 0h1v1h-1zm18 0h1v1h-1zm219 0h1v1h-1zm32 0h1v1h-1zm-372 1h1v1h-1zm88 0h1v1h-1zm31 0h1v1h-1zm193 0h1v1h-1zm10 0h1v1h-1zm2 0h1v1h-1zm33 0h1v1h-1zm-258 1h1v1h-1zm7 0h1v1h-1zm33 0h1v1h-1zm180 0h1v1h-1zm14 0h1v1h-1zm61 0h1v1h-1zm-257 1h1v1h-1zm181 0h1v1h-1zm-264 1h1v1h-1zm-1 1h1v1h-1zm12 0h1v1h-1zm3 0h1v1h-1zm71 0h1v1h-1zm256 0h1v1h-1zm2 0h1v1h-1zm-391 1h1v1h-1zm38 0h1v1h-1zm27 0h1v1h-1zm65 0h1v1h-1zm-142 1h1v1h-1zm37 1h1v1h-1zm22 0h1v1h-1zm6 0h1v1h-1zm68 0h1v1h-1zm209 0h1v1h-1zm-322 1h1v1h-1zm23 0h1v1h-1zm-51 1h1v1h-1zm6 0h1v1h-1zm47 0h1v1h-1zm9 0h1v1h-1zm234 23h1v1h-1zm8 0h2v1h-2zm1 2h1v1h-1zm19 7h1v1h-1zm-25 1h1v1h-1zm15 1h1v1h-1zm-21 3h1v1h-1zm6 0h1v1h-1zm54 0h1v1h-1zm-26 2h1v1h-1zm5 0h1v1h-1zm-22 1h1v1h-1zm-188 1h1v1h-1zm225 1h1v1h-1zm-228 1h1v1h-1zm6 0h1v1h-1zm-137 1h1v1h-1zm387 0h1v1h-1zm5 1h1v1h-1zm6 0h1v1h-1zm-400 1h1v1h-1zm2 1h1v1h-1zm130 0h1v1h-1zm211 0h1v1h-1zm30 0h1v1h-1zm70 0h1v1h-1zm-4 1h1v1h-1zm-315 1h1v1h-1zm286 0h1v1h-1zm-402 1h1v1h-1zm29 0h2v1h-2zm424 0h1v1h-1zm-424 1h1v1h-1zm5 0h1v1h-1zm48 0h1v1h-1zm30 0h1v1h-1zm298 0h1v1h-1zm-383 1h1v1h-1zm57 0h1v1h-1zm271 0h1v1h-1zm-353 1h1v1h-1zm44 0h1v1h-1zm18 0h1v1h-1zm13 0h1v1h-1zm9 0h1v1h-1zm315 0h1v1h-1zm-32 1h1v1h-1zm45 0h1v1h-1zm-103 54h1v1h-1zm1 1h1v1h-1zm-1 4h1v1h-1zm9 5h1v1h-1zm-18 2h2v1h-2zm9 1h1v1h-1zm-192 1h1v1h-1zm199 0h1v1h-1zm7 1h1v1h-1zm5 3h1v1h-1zm4 1h1v1h-1zm18 0h1v1h-1zm34 0h1v1h-1zm-273 1h1v1h-1zm216 0h1v1h-1zm16 0h1v1h-1zm-226 1h1v1h-1zm2 0h1v1h-1zm211 0h1v1h-1zm13 0h1v1h-1zm-4 1h1v1h-1zm11 0h1v1h-1zm2 0h1v1h-1zm29 0h1v1h-1zm-268 1h1v1h-1zm243 0h1v1h-1zm-333 1h1v1h-1zm65 0h1v1h-1zm283 0h1v1h-1zm36 0h1v1h-1zm49 0h1v1h-1zm-438 1h1v1h-1zm53 0h1v1h-1zm6 0h1v1h-1zm8 0h1v1h-1zm3 0h1v1h-1zm43 0h1v1h-1zm-52 1h1v1h-1zm25 0h1v1h-1zm2 0h1v1h-1zm267 0h1v1h-1zm33 0h1v1h-1zm30 0h1v1h-1zm-404 1h1v1h-1zm30 0h1v1h-1zm30 0h1v1h-1zm18 0h1v1h-1zm18 0h1v1h-1zm-130 1h1v1h-1zm10 0h1v1h-1zm4 0h1v1h-1zm53 0h1v1h-1zm27 0h1v1h-1zm370 0h1v1h-1zm-429 1h1v1h-1zm2 0h1v1h-1zm67 0h2v1h-2zm-56 1h1v1h-1zm41 0h1v1h-1zm295 0h1v1h-1zm-343 1h1v1h-1zm50 0h1v1h-1zm-37 1h1v1h-1zm34 0h1v1h-1zm-73 1h1v1h-1zm-3 1h1v1h-1zm48 4h1v1h-1zm339 2h1v1h-1zm-85 21h1v1h-1zm-13 1h1v1h-1zm11 5h1v1h-1zm1 3h1v1h-1zm7 3h1v1h-1zm-1 1h1v1h-1zm40 0h1v1h-1zm-236 1h1v1h-1zm263 2h1v1h-1zm-257 1h1v1h-1zm218 0h1v1h-1zm2 0h1v1h-1zm16 1h1v1h-1zm-46 1h1v1h-1zm17 0h1v1h-1zm23 0h1v1h-1zm-239 1h1v1h-1zm304 0h1v1h-1zm34 0h1v1h-1zm-359 1h1v1h-1zm285 0h1v1h-1zm82 0h1v1h-1zm-453 1h1v1h-1zm311 0h1v1h-1zm51 0h1v1h-1zm56 0h1v1h-1zm15 0h1v1h-1zm-437 1h1v1h-1zm321 0h1v1h-1zm-315 1h1v1h-1zm17 0h1v1h-1zm48 0h1v1h-1zm261 0h1v1h-1zm-329 1h1v1h-1zm29 0h1v1h-1zm55 0h1v1h-1zm37 0h1v1h-1zm3 0h1v1h-1zm307 0h1v1h-1zm6 0h1v1h-1zm12 0h1v1h-1zm-466 1h1v1h-1zm29 0h1v1h-1zm69 0h1v1h-1zm43 0h1v1h-1zm236 0h1v1h-1zm3 0h1v1h-1zm34 0h1v1h-1zm-402 1h1v1h-1zm18 0h1v1h-1zm67 0h1v1h-1zm271 0h1v1h-1zm20 0h1v1h-1zm-312 1h1v1h-1zm39 0h1v1h-1zm352 0h1v1h-1zm3 0h1v1h-1zm-333 1h1v1h-1zm4 0h1v1h-1zm225 0h1v1h-1zm-339 1h1v1h-1zm8 0h1v1h-1zm78 0h1v1h-1zm343 0h1v1h-1zm-449 1h1v1h-1zm24 0h1v1h-1zm31 0h1v1h-1zm13 0h1v1h-1zm22 0h1v1h-1zm324 0h1v1h-1zm-364 1h1v1h-1zm6 0h1v1h-1zm-10 1h1v1h-1zm351 3h1v1h-1zm-1 5h1v1h-1zm-97 55h1v1h-1zm0 6h1v1h-1zm15 2h1v1h-1zm-6 7h1v1h-1zm12 3h1v1h-1zm7 1h1v1h-1zm-9 2h1v1h-1zm0 1h1v1h-1zm7 0h1v1h-1zm32 1h1v1h-1zm-29 1h1v1h-1zm46 1h1v1h-1zm-34 3h1v1h-1zm112 1h1v1h-1zm-117 1h1v1h-1zm49 0h1v1h-1zm-9 1h1v1h-1zm-380 1h1v1h-1zm93 0h1v1h-1zm42 0h1v1h-1zm224 1h1v1h-1zm34 0h1v1h-1zm32 0h1v1h-1zm-306 1h1v1h-1zm300 0h1v1h-1zm-342 1h1v1h-1zm52 0h1v1h-1zm206 0h1v1h-1zm79 0h1v1h-1zm-342 1h1v1h-1zm31 0h1v1h-1zm268 0h1v1h-1zm93 0h1v1h-1zm-46 1h1v1h-1zm55 0h1v1h-1zm-416 1h1v1h-1zm7 0h1v1h-1zm314 0h1v1h-1zm23 0h1v1h-1zm13 0h1v1h-1zm-402 1h1v1h-1zm34 0h1v1h-1zm327 0h1v1h-1zm-326 1h1v1h-1zm22 0h1v1h-1zm336 0h1v1h-1zm-396 1h1v1h-1zm351 0h1v1h-1zm-300 1h1v1h-1zm-4 2h1v1h-1z"/><path fill="#50ffaf" d="m299 90h1v1h-1zm1 3h1v1h-1zm11 0h1v1h-1zm3 1h1v1h-1zm-8 2h1v1h-1zm36 10h1v1h-1zm-32 1h1v1h-1zm11 0h1v1h-1zm-172 1h1v1h-1zm177 0h1v1h-1zm3 0h1v1h-1zm-194 1h1v1h-1zm9 0h1v1h-1zm2 0h1v1h-1zm177 1h1v1h-1zm19 0h1v1h-1zm13 0h1v1h-1zm20 0h1v1h-1zm26 0h1v1h-1zm-292 1h1v1h-1zm-4 1h1v1h-1zm7 0h1v1h-1zm284 0h1v1h-1zm-219 1h1v1h-1zm187 0h1v1h-1zm31 0h1v1h-1zm-45 1h1v1h-1zm23 0h1v1h-1zm56 0h1v1h-1zm-399 1h1v1h-1zm8 0h1v1h-1zm90 0h1v1h-1zm306 0h1v1h-1zm16 0h1v1h-1zm8 0h1v1h-1zm11 0h1v1h-1zm3 0h1v1h-1zm-426 1h1v1h-1zm74 0h1v1h-1zm4 0h1v1h-1zm-119 1h1v1h-1zm60 0h1v1h-1zm-4 1h1v1h-1zm67 0h1v1h-1zm26 0h1v1h-1zm14 0h1v1h-1zm-143 1h1v1h-1zm27 0h1v1h-1zm23 0h1v1h-1zm14 0h1v1h-1zm10 0h1v1h-1zm-83 1h1v1h-1zm24 0h1v1h-1zm38 0h1v1h-1zm9 0h1v1h-1zm9 0h1v1h-1zm-77 1h1v1h-1zm23 0h1v1h-1zm2 0h1v1h-1zm116 0h1v1h-1zm206 0h1v1h-1zm-46 24h1v1h-1zm0 5h1v1h-1zm3 0h1v1h-1zm-8 2h1v1h-1zm15 10h1v1h-1zm17 0h1v1h-1zm43 0h1v1h-1zm-56 1h1v1h-1zm5 0h1v1h-1zm49 0h1v1h-1zm-259 2h1v1h-1zm224 0h1v1h-1zm-5 1h1v1h-1zm-211 1h1v1h-1zm212 0h1v1h-1zm-3 1h1v1h-1zm26 0h1v1h-1zm30 1h1v1h-1zm34 0h1v1h-1zm-388 1h1v1h-1zm315 0h1v1h-1zm26 0h1v1h-1zm-286 1h1v1h-1zm-25 1h2v1h-2zm24 0h1v1h-1zm277 0h1v1h-1zm5 0h1v1h-1zm73 0h1v1h-1zm6 0h1v1h-1zm-450 1h1v1h-1zm9 0h1v1h-1zm56 0h2v1h-2zm13 0h1v1h-1zm3 0h1v1h-1zm-44 1h1v1h-1zm-34 1h1v1h-1zm44 0h1v1h-1zm-46 1h1v1h-1zm393 0h1v1h-1zm-349 1h1v1h-1zm350 1h1v1h-1zm-86 59h1v1h-1zm-12 1h1v1h-1zm20 0h1v1h-1zm-2 2h1v1h-1zm-10 4h1v1h-1zm30 0h1v1h-1zm14 0h1v1h-1zm6 0h1v1h-1zm-238 1h1v1h-1zm202 0h1v1h-1zm-207 1h1v1h-1zm234 0h1v1h-1zm-38 1h1v1h-1zm6 0h1v1h-1zm34 0h1v1h-1zm-360 1h1v1h-1zm2 0h1v1h-1zm350 0h1v1h-1zm5 0h1v1h-1zm-15 2h1v1h-1zm4 0h1v1h-1zm11 1h1v1h-1zm100 0h1v1h-1zm5 0h1v1h-1zm-458 1h1v1h-1zm3 0h1v1h-1zm323 0h1v1h-1zm3 0h1v1h-1zm112 0h1v1h-1zm-340 1h1v1h-1zm220 0h1v1h-1zm33 0h1v1h-1zm102 0h1v1h-1zm-427 1h1v1h-1zm61 0h1v1h-1zm30 0h1v1h-1zm3 0h1v1h-1zm208 0h1v1h-1zm46 0h1v1h-1zm71 0h1v1h-1zm14 0h1v1h-1zm-438 1h1v1h-1zm311 0h1v1h-1zm2 0h1v1h-1zm32 0h1v1h-1zm18 0h1v1h-1zm34 0h1v1h-1zm-381 1h1v1h-1zm97 0h1v1h-1zm205 0h1v1h-1zm59 0h1v1h-1zm29 0h1v1h-1zm3 0h1v1h-1zm16 0h1v1h-1zm-398 1h1v1h-1zm28 0h1v1h-1zm28 0h1v1h-1zm29 0h1v1h-1zm309 0h1v1h-1zm-430 1h1v1h-1zm35 0h1v1h-1zm2 0h1v1h-1zm42 0h1v1h-1zm2 0h1v1h-1zm42 0h1v1h-1zm223 0h1v1h-1zm-349 1h1v1h-1zm15 0h1v1h-1zm4 0h1v1h-1zm60 0h1v1h-1zm334 0h1v1h-1zm-390 1h1v1h-1zm30 0h1v1h-1zm350 0h1v1h-1zm-329 1h1v1h-1zm-24 1h1v1h-1zm15 0h1v1h-1zm325 5h1v1h-1zm-93 10h1v1h-1zm0 1h1v1h-1zm0 4h1v1h-1zm10 14h1v1h-1zm18 3h1v1h-1zm-15 2h1v1h-1zm20 0h1v1h-1zm14 2h1v1h-1zm-40 1h1v1h-1zm18 0h1v1h-1zm109 0h1v1h-1zm-100 1h1v1h-1zm6 1h1v1h-1zm14 0h1v1h-1zm-232 1h1v1h-1zm225 0h1v1h-1zm-232 1h1v1h-1zm220 0h1v1h-1zm12 0h1v1h-1zm-242 1h1v1h-1zm18 0h1v1h-1zm228 0h1v1h-1zm-237 1h1v1h-1zm222 0h1v1h-1zm3 0h1v1h-1zm34 0h1v1h-1zm14 0h1v1h-1zm48 0h1v1h-1zm-445 1h1v1h-1zm327 0h1v1h-1zm15 0h1v1h-1zm55 0h1v1h-1zm36 0h1v1h-1zm7 0h1v1h-1zm-438 2h1v1h-1zm329 0h1v1h-1zm30 0h2v1h-2zm-249 1h2v1h-2zm235 0h1v1h-1zm35 0h1v1h-1zm19 0h1v1h-1zm72 0h1v1h-1zm-474 1h1v1h-1zm20 0h1v1h-1zm85 0h1v1h-1zm14 0h1v1h-1zm214 0h1v1h-1zm-309 1h1v1h-1zm52 1h1v1h-1zm14 0h1v1h-1zm330 0h1v1h-1zm4 0h1v1h-1zm16 0h1v1h-1zm-329 1h1v1h-1zm30 0h1v1h-1zm2 0h1v1h-1zm323 0h1v1h-1zm8 0h1v1h-1zm-464 1h1v1h-1zm352 0h1v1h-1zm24 0h1v1h-1zm15 0h1v1h-1zm41 0h1v1h-1zm19 0h1v1h-1zm8 0h1v1h-1zm-454 1h1v1h-1zm18 0h1v1h-1zm44 0h1v1h-1zm7 0h1v1h-1zm277 0h1v1h-1zm56 0h1v1h-1zm47 0h1v1h-1zm-451 1h1v1h-1zm17 0h1v1h-1zm4 0h1v1h-1zm15 0h1v1h-1zm420 0h1v1h-1zm-420 1h1v1h-1zm408 0h1v1h-1zm-406 3h1v1h-1zm325 0h1v1h-1zm-50 70h1v1h-1zm-12 10h1v1h-1zm0 1h1v1h-1zm21 0h1v1h-1zm-9 6h2v1h-2zm26 1h1v1h-1zm0 1h1v1h-1zm4 0h1v1h-1zm11 1h1v1h-1zm-242 1h1v1h-1zm234 0h1v1h-1zm84 0h1v1h-1zm-406 2h2v1h-2zm331 0h1v1h-1zm30 0h1v1h-1zm-367 1h1v1h-1zm66 0h1v1h-1zm48 0h1v1h-1zm198 0h1v1h-1zm31 0h1v1h-1zm47 0h1v1h-1zm13 0h2v1h-2zm-433 1h1v1h-1zm94 0h1v1h-1zm6 0h1v1h-1zm237 0h1v1h-1zm47 0h1v1h-1zm18 0h1v1h-1zm48 0h1v1h-1zm20 0h1v1h-1zm-385 1h1v1h-1zm292 0h1v1h-1zm8 0h1v1h-1zm5 0h1v1h-1zm29 0h1v1h-1zm7 0h1v1h-1zm4 0h1v1h-1zm34 0h1v1h-1zm-414 1h1v1h-1zm28 0h1v1h-1zm29 0h1v1h-1zm325 0h1v1h-1zm32 0h1v1h-1zm-463 1h1v1h-1zm23 0h1v1h-1zm48 0h1v1h-1zm64 0h1v1h-1zm4 0h1v1h-1zm294 0h1v1h-1zm-422 1h1v1h-1zm4 0h1v1h-1zm41 0h1v1h-1zm12 0h1v1h-1zm382 0h1v1h-1zm-397 1h2v1h-2zm20 0h1v1h-1zm31 0h1v1h-1zm269 0h1v1h-1zm79 0h1v1h-1zm-447 1h1v1h-1zm91 0h1v1h-1zm-44 1h1v1h-1zm13 1h1v1h-1zm338 0h1v1h-1z"/><path fill="#60ff9f" d="m306 87h1v1h-1zm6 1h1v1h-1zm-7 1h1v1h-1zm0 8h1v1h-1zm34 4h1v1h-1zm-30 2h1v1h-1zm5 1h1v1h-1zm12 0h1v1h-1zm-6 2h1v1h-1zm2 0h1v1h-1zm25 2h2v1h-2zm-207 1h1v1h-1zm7 0h1v1h-1zm186 0h1v1h-1zm35 0h1v1h-1zm-233 1h1v1h-1zm203 0h1v1h-1zm-335 1h1v1h-1zm136 0h1v1h-1zm39 0h1v1h-1zm-171 1h1v1h-1zm132 0h1v1h-1zm12 0h1v1h-1zm222 0h1v1h-1zm16 0h1v1h-1zm22 0h1v1h-1zm-259 1h1v1h-1zm211 0h1v1h-1zm25 0h1v1h-1zm-351 1h1v1h-1zm70 0h1v1h-1zm2 0h1v1h-1zm13 0h1v1h-1zm264 0h1v1h-1zm-327 1h1v1h-1zm328 0h1v1h-1zm48 0h1v1h-1zm-419 1h1v1h-1zm9 0h1v1h-1zm33 0h1v1h-1zm35 0h1v1h-1zm291 0h1v1h-1zm15 0h1v1h-1zm-389 1h1v1h-1zm24 0h1v1h-1zm20 0h1v1h-1zm311 0h1v1h-1zm-318 1h1v1h-1zm78 0h1v1h-1zm-52 1h1v1h-1zm82 0h1v1h-1zm-98 1h1v1h-1zm18 0h1v1h-1zm85 0h1v1h-1zm-143 1h1v1h-1zm29 0h1v1h-1zm2 0h1v1h-1zm110 0h1v1h-1zm-109 1h1v1h-1zm256 9h1v1h-1zm0 3h1v1h-1zm6 12h1v1h-1zm8 2h2v1h-2zm-12 3h1v1h-1zm3 0h1v1h-1zm-2 1h1v1h-1zm4 6h1v1h-1zm-2 1h1v1h-1zm6 3h1v1h-1zm11 1h1v1h-1zm35 2h1v1h-1zm22 0h1v1h-1zm-39 1h1v1h-1zm-341 1h1v1h-1zm132 0h1v1h-1zm211 0h1v1h-1zm-343 1h1v1h-1zm357 0h1v1h-1zm6 0h1v1h-1zm-325 2h1v1h-1zm79 0h1v1h-1zm281 0h2v1h-2zm42 0h1v1h-1zm21 0h1v1h-1zm13 0h1v1h-1zm-432 1h1v1h-1zm68 0h1v1h-1zm264 0h1v1h-1zm51 0h1v1h-1zm-392 1h1v1h-1zm58 0h1v1h-1zm313 0h2v1h-2zm-29 1h1v1h-1zm10 0h1v1h-1zm31 0h1v1h-1zm4 0h1v1h-1zm-45 1h1v1h-1zm46 0h1v1h-1zm-412 1h1v1h-1zm50 0h1v1h-1zm18 0h1v1h-1zm6 0h1v1h-1zm-69 1h1v1h-1zm48 1h1v1h-1zm4 0h1v1h-1zm237 41h1v1h-1zm10 4h1v1h-1zm6 6h1v1h-1zm-4 5h1v1h-1zm-10 3h1v1h-1zm6 0h1v1h-1zm-1 5h1v1h-1zm15 2h1v1h-1zm-12 2h1v1h-1zm17 1h1v1h-1zm5 0h1v1h-1zm-213 2h1v1h-1zm4 1h1v1h-1zm11 0h1v1h-1zm171 0h1v1h-1zm-188 1h1v1h-1zm324 0h1v1h-1zm-325 1h1v1h-1zm231 0h1v1h-1zm12 0h1v1h-1zm4 0h1v1h-1zm18 0h2v1h-2zm54 0h1v1h-1zm-86 1h1v1h-1zm-236 1h2v1h-2zm220 0h1v1h-1zm-312 1h1v1h-1zm3 0h1v1h-1zm48 0h1v1h-1zm14 0h1v1h-1zm280 0h1v1h-1zm48 0h1v1h-1zm20 0h1v1h-1zm23 0h1v1h-1zm-459 1h1v1h-1zm27 0h1v1h-1zm18 0h1v1h-1zm41 0h1v1h-1zm8 0h1v1h-1zm246 0h1v1h-1zm2 0h1v1h-1zm95 0h1v1h-1zm14 0h1v1h-1zm-441 1h1v1h-1zm27 0h1v1h-1zm45 0h1v1h-1zm355 0h1v1h-1zm25 0h1v1h-1zm-427 1h1v1h-1zm9 1h1v1h-1zm350 0h1v1h-1zm26 0h1v1h-1zm38 0h1v1h-1zm-420 1h1v1h-1zm3 0h1v1h-1zm25 0h1v1h-1zm37 0h1v1h-1zm-55 1h1v1h-1zm371 0h1v1h-1zm33 0h1v1h-1zm-433 1h1v1h-1zm12 0h1v1h-1zm30 0h1v1h-1zm9 0h1v1h-1zm23 0h1v1h-1zm-18 1h1v1h-1zm-15 4h1v1h-1zm258 18h1v1h-1zm0 1h1v1h-1zm0 7h1v1h-1zm6 2h1v1h-1zm-14 2h1v1h-1zm9 1h1v1h-1zm-3 1h1v1h-1zm3 0h1v1h-1zm15 0h1v1h-1zm-22 1h1v1h-1zm-4 2h1v1h-1zm4 1h1v1h-1zm-187 1h1v1h-1zm187 0h1v1h-1zm-4 1h1v1h-1zm-2 1h1v1h-1zm137 0h1v1h-1zm-117 1h1v1h-1zm-196 2h1v1h-1zm202 0h1v1h-1zm22 0h1v1h-1zm-10 1h2v1h-2zm92 0h1v1h-1zm-439 1h1v1h-1zm128 0h1v1h-1zm200 0h1v1h-1zm112 1h1v1h-1zm-105 1h1v1h-1zm108 0h1v1h-1zm4 0h1v1h-1zm14 0h1v1h-1zm-121 1h2v1h-2zm137 0h1v1h-1zm-339 1h1v1h-1zm248 0h1v1h-1zm3 0h1v1h-1zm22 0h1v1h-1zm62 0h1v1h-1zm-451 1h1v1h-1zm314 0h1v1h-1zm43 0h1v1h-1zm67 0h1v1h-1zm-414 1h1v1h-1zm46 0h1v1h-1zm10 0h1v1h-1zm31 0h1v1h-1zm249 0h1v1h-1zm-295 1h1v1h-1zm3 0h1v1h-1zm352 0h1v1h-1zm15 0h1v1h-1zm14 0h1v1h-1zm-36 1h1v1h-1zm-392 1h2v1h-2zm12 0h1v1h-1zm4 0h1v1h-1zm58 0h1v1h-1zm259 0h1v1h-1zm35 0h1v1h-1zm-378 1h1v1h-1zm5 0h1v1h-1zm55 0h1v1h-1zm-28 1h1v1h-1zm8 0h1v1h-1zm9 0h1v1h-1zm13 0h1v1h-1zm21 0h1v1h-1zm-89 1h1v1h-1zm41 0h1v1h-1zm12 0h1v1h-1zm352 1h1v1h-1zm-42 1h1v1h-1zm-316 1h1v1h-1zm345 2h1v1h-1zm-344 4h1v1h-1zm262 66h1v1h-1zm-8 1h1v1h-1zm5 4h1v1h-1zm3 0h1v1h-1zm-3 4h1v1h-1zm19 1h1v1h-1zm-2 2h1v1h-1zm22 1h1v1h-1zm-10 1h1v1h-1zm7 0h1v1h-1zm-36 1h1v1h-1zm37 1h1v1h-1zm-9 1h1v1h-1zm-348 1h1v1h-1zm350 0h1v1h-1zm3 0h1v1h-1zm40 0h1v1h-1zm-64 1h1v1h-1zm16 0h1v1h-1zm9 1h2v1h-2zm7 0h1v1h-1zm102 0h1v1h-1zm-330 1h1v1h-1zm205 0h1v1h-1zm14 0h1v1h-1zm109 0h1v1h-1zm-344 1h1v1h-1zm27 0h1v1h-1zm180 0h1v1h-1zm14 0h1v1h-1zm87 0h1v1h-1zm19 0h1v1h-1zm-410 1h2v1h-2zm9 0h1v1h-1zm46 0h1v1h-1zm6 0h1v1h-1zm45 0h1v1h-1zm262 0h1v1h-1zm8 0h1v1h-1zm-290 1h1v1h-1zm311 0h1v1h-1zm-392 1h1v1h-1zm376 0h1v1h-1zm23 0h1v1h-1zm24 0h1v1h-1zm-409 1h1v1h-1zm42 0h1v1h-1zm325 0h1v1h-1zm-413 1h1v1h-1zm5 0h1v1h-1zm43 0h1v1h-1zm92 0h1v1h-1zm-81 1h1v1h-1zm17 0h1v1h-1zm322 0h1v1h-1zm3 0h1v1h-1zm-391 1h1v1h-1zm2 0h1v1h-1zm5 0h1v1h-1zm40 0h1v1h-1zm28 0h1v1h-1zm305 0h1v1h-1zm2 0h1v1h-1zm-375 1h1v1h-1zm43 1h1v1h-1zm310 0h1v1h-1zm-354 1h1v1h-1zm129 2h1v1h-1z"/><path fill="#70ff8f" d="m313 91h1v1h-1zm-8 2h1v1h-1zm-2 1h1v1h-1zm1 6h1v1h-1zm36 3h1v1h-1zm-12 1h1v1h-1zm-14 1h1v1h-1zm22 2h1v1h-1zm-203 2h1v1h-1zm4 0h1v1h-1zm-3 1h1v1h-1zm3 0h1v1h-1zm40 0h1v1h-1zm192 2h1v1h-1zm-26 1h2v1h-2zm32 0h1v1h-1zm-225 1h1v1h-1zm268 0h1v1h-1zm34 0h1v1h-1zm-447 1h1v1h-1zm161 0h1v1h-1zm239 0h1v1h-1zm21 0h1v1h-1zm-420 1h1v1h-1zm58 0h1v1h-1zm415 0h1v1h-1zm-473 1h3v1h-3zm81 0h1v1h-1zm12 0h1v1h-1zm-61 1h1v1h-1zm34 0h1v1h-1zm-31 1h1v1h-1zm23 1h1v1h-1zm10 0h1v1h-1zm7 0h1v1h-1zm-61 1h1v1h-1zm292 34h1v1h-1zm-5 1h1v1h-1zm23 1h1v1h-1zm-18 3h1v1h-1zm3 2h1v1h-1zm12 0h1v1h-1zm15 1h1v1h-1zm18 2h1v1h-1zm10 0h1v1h-1zm-230 1h1v1h-1zm197 1h1v1h-1zm-195 1h1v1h-1zm197 0h1v1h-1zm74 1h1v1h-1zm-374 1h1v1h-1zm423 0h2v1h-2zm-433 1h1v1h-1zm19 0h1v1h-1zm43 0h1v1h-1zm373 0h1v1h-1zm-438 1h2v1h-2zm24 0h1v1h-1zm352 0h1v1h-1zm-349 1h1v1h-1zm31 2h1v1h-1zm227 35h1v1h-1zm8 26h1v1h-1zm-189 8h1v1h-1zm179 1h1v1h-1zm-174 2h1v1h-1zm177 0h1v1h-1zm-191 3h1v1h-1zm21 0h1v1h-1zm-137 1h1v1h-1zm130 0h1v1h-1zm2 0h1v1h-1zm231 0h1v1h-1zm-277 1h1v1h-1zm48 0h1v1h-1zm214 0h1v1h-1zm10 0h1v1h-1zm8 0h1v1h-1zm46 0h1v1h-1zm17 0h1v1h-1zm-427 1h1v1h-1zm464 0h1v1h-1zm-357 1h2v1h-2zm229 0h1v1h-1zm11 0h1v1h-1zm3 0h1v1h-1zm54 0h1v1h-1zm-318 1h1v1h-1zm14 0h1v1h-1zm4 0h1v1h-1zm242 0h1v1h-1zm87 0h1v1h-1zm33 0h1v1h-1zm-465 1h1v1h-1zm10 0h1v1h-1zm35 0h1v1h-1zm24 0h1v1h-1zm63 0h1v1h-1zm250 0h1v1h-1zm41 0h1v1h-1zm12 0h1v1h-1zm20 0h1v1h-1zm-449 1h1v1h-1zm33 0h1v1h-1zm421 0h1v1h-1zm-426 1h1v1h-1zm6 0h1v1h-1zm330 0h2v1h-2zm-368 1h1v1h-1zm30 0h1v1h-1zm19 0h1v1h-1zm38 0h1v1h-1zm8 0h1v1h-1zm259 0h1v1h-1zm-349 1h1v1h-1zm5 0h1v1h-1zm40 0h1v1h-1zm4 0h1v1h-1zm23 0h1v1h-1zm312 0h1v1h-1zm-361 1h1v1h-1zm390 0h1v1h-1zm-371 1h1v1h-1zm15 0h1v1h-1zm2 0h1v1h-1zm336 0h1v1h-1zm-352 1h1v1h-1zm8 2h1v1h-1zm247 10h1v1h-1zm0 2h1v1h-1zm10 9h1v1h-1zm0 1h1v1h-1zm-12 8h1v1h-1zm10 4h1v1h-1zm-2 1h1v1h-1zm5 0h1v1h-1zm18 2h1v1h-1zm-2 1h1v1h-1zm-213 2h1v1h-1zm6 0h1v1h-1zm-3 2h1v1h-1zm209 0h1v1h-1zm20 0h1v1h-1zm89 0h1v1h-1zm-315 1h1v1h-1zm195 0h1v1h-1zm-198 1h1v1h-1zm211 0h1v1h-1zm2 0h1v1h-1zm52 0h1v1h-1zm55 0h1v1h-1zm-115 1h1v1h-1zm17 0h1v1h-1zm91 0h1v1h-1zm-317 1h1v1h-1zm221 0h1v1h-1zm41 0h1v1h-1zm65 0h1v1h-1zm-325 1h1v1h-1zm13 0h1v1h-1zm214 0h1v1h-1zm42 0h1v1h-1zm-254 1h1v1h-1zm279 0h1v1h-1zm12 0h1v1h-1zm-431 1h1v1h-1zm115 0h1v1h-1zm244 0h1v1h-1zm3 0h1v1h-1zm29 0h1v1h-1zm8 0h1v1h-1zm47 0h1v1h-1zm-445 1h1v1h-1zm105 0h1v1h-1zm240 0h1v1h-1zm33 0h1v1h-1zm-362 1h1v1h-1zm3 0h1v1h-1zm53 0h1v1h-1zm273 0h1v1h-1zm52 0h1v1h-1zm41 0h1v1h-1zm-343 1h1v1h-1zm10 0h1v1h-1zm244 0h1v1h-1zm97 0h1v1h-1zm12 0h1v1h-1zm-456 1h1v1h-1zm43 0h1v1h-1zm43 0h1v1h-1zm11 0h1v1h-1zm9 0h1v1h-1zm304 0h1v1h-1zm10 0h1v1h-1zm-403 1h1v1h-1zm16 0h1v1h-1zm17 0h2v1h-2zm34 0h1v1h-1zm-81 1h1v1h-1zm70 0h1v1h-1zm287 0h1v1h-1zm33 0h1v1h-1zm-382 1h1v1h-1zm34 0h1v1h-1zm8 0h1v1h-1zm13 0h1v1h-1zm3 0h1v1h-1zm309 0h1v1h-1zm-331 1h1v1h-1zm326 0h1v1h-1zm-316 1h1v1h-1zm1 3h1v1h-1zm246 57h1v1h-1zm0 8h1v1h-1zm9 0h1v1h-1zm6 7h1v1h-1zm-2 4h1v1h-1zm-1 5h1v1h-1zm-8 1h1v1h-1zm20 5h1v1h-1zm23 1h1v1h-1zm-18 1h1v1h-1zm10 0h1v1h-1zm4 0h1v1h-1zm-224 1h1v1h-1zm259 0h1v1h-1zm15 0h1v1h-1zm-282 2h1v1h-1zm231 0h1v1h-1zm22 0h1v1h-1zm6 0h1v1h-1zm3 0h1v1h-1zm-262 1h1v1h-1zm22 0h1v1h-1zm206 0h1v1h-1zm93 0h1v1h-1zm19 0h1v1h-1zm-458 1h1v1h-1zm43 0h1v1h-1zm54 0h1v1h-1zm265 0h1v1h-1zm102 0h1v1h-1zm-379 1h1v1h-1zm19 0h1v1h-1zm294 0h1v1h-1zm27 0h1v1h-1zm-345 1h1v1h-1zm8 0h1v1h-1zm273 0h1v1h-1zm67 0h1v1h-1zm7 0h1v1h-1zm21 0h1v1h-1zm18 0h1v1h-1zm-421 1h1v1h-1zm-5 1h1v1h-1zm56 0h1v1h-1zm271 0h1v1h-1zm100 0h1v1h-1zm-411 1h1v1h-1zm48 0h1v1h-1zm-104 1h1v1h-1zm17 1h1v1h-1zm34 2h1v1h-1zm2 1h1v1h-1z"/><path fill="#80ff80" d="m313 89h1v1h-1zm8 11h1v1h-1zm-21 1h1v1h-1zm0 2h1v1h-1zm7 0h1v1h-1zm-6 1h1v1h-1zm7 0h1v1h-1zm7 1h1v1h-1zm6 1h1v1h-1zm18 0h1v1h-1zm-22 1h1v1h-1zm24 0h1v1h-1zm-10 1h1v1h-1zm9 0h1v1h-1zm-202 1h1v1h-1zm183 0h2v1h-2zm-320 1h1v1h-1zm103 1h1v1h-1zm72 0h1v1h-1zm-39 1h1v1h-1zm36 0h1v1h-1zm2 0h1v1h-1zm2 0h1v1h-1zm191 0h1v1h-1zm14 0h1v1h-1zm-348 1h1v1h-1zm75 0h1v1h-1zm21 0h1v1h-1zm3 0h1v1h-1zm17 0h1v1h-1zm267 0h1v1h-1zm-409 1h1v1h-1zm106 0h1v1h-1zm58 0h1v1h-1zm265 0h1v1h-1zm-355 1h1v1h-1zm22 0h1v1h-1zm280 0h1v1h-1zm-379 1h1v1h-1zm148 0h1v1h-1zm-134 1h1v1h-1zm44 0h1v1h-1zm91 0h1v1h-1zm-143 1h1v1h-1zm103 0h1v1h-1zm-46 1h1v1h-1zm2 0h1v1h-1zm237 36h1v1h-1zm16 0h1v1h-1zm-2 1h1v1h-1zm22 7h1v1h-1zm-17 1h1v1h-1zm64 0h1v1h-1zm-4 1h3v1h-3zm-26 1h1v1h-1zm-22 1h1v1h-1zm32 0h1v1h-1zm-362 1h1v1h-1zm334 0h1v1h-1zm5 0h1v1h-1zm118 1h1v1h-1zm-109 1h1v1h-1zm23 0h1v1h-1zm2 0h1v1h-1zm61 0h1v1h-1zm-330 1h1v1h-1zm299 0h1v1h-1zm24 0h1v1h-1zm-322 1h2v1h-2zm-59 1h2v1h-2zm38 0h1v1h-1zm5 0h1v1h-1zm369 0h1v1h-1zm-408 1h1v1h-1zm19 0h1v1h-1zm11 0h1v1h-1zm-73 1h1v1h-1zm363 1h1v1h-1zm-314 1h1v1h-1zm259 53h1v1h-1zm-13 5h1v1h-1zm11 5h1v1h-1zm8 0h1v1h-1zm-19 1h1v1h-1zm11 2h1v1h-1zm1 1h1v1h-1zm3 1h1v1h-1zm22 0h1v1h-1zm-213 2h1v1h-1zm200 0h1v1h-1zm35 0h1v1h-1zm-28 1h1v1h-1zm19 2h1v1h-1zm40 0h1v1h-1zm2 0h1v1h-1zm-301 1h1v1h-1zm31 0h1v1h-1zm286 0h1v1h-1zm-61 1h1v1h-1zm19 0h1v1h-1zm66 0h1v1h-1zm-351 1h1v1h-1zm31 0h1v1h-1zm343 0h1v1h-1zm-457 1h1v1h-1zm3 0h1v1h-1zm72 0h1v1h-1zm8 0h1v1h-1zm28 0h1v1h-1zm243 0h1v1h-1zm30 0h1v1h-1zm21 0h1v1h-1zm6 0h2v1h-2zm30 0h1v1h-1zm26 0h1v1h-1zm-359 1h1v1h-1zm4 0h1v1h-1zm21 0h1v1h-1zm337 0h1v1h-1zm-452 1h1v1h-1zm55 0h1v1h-1zm11 0h1v1h-1zm26 0h1v1h-1zm25 0h1v1h-1zm261 0h1v1h-1zm-353 1h1v1h-1zm53 0h1v1h-1zm11 0h1v1h-1zm279 0h1v1h-1zm-364 1h1v1h-1zm81 0h1v1h-1zm33 0h1v1h-1zm-118 1h1v1h-1zm32 0h1v1h-1zm28 0h2v1h-2zm23 0h1v1h-1zm-32 1h1v1h-1zm7 0h1v1h-1zm-23 1h2v1h-2zm338 0h1v1h-1zm-331 2h1v1h-1zm-3 2h1v1h-1zm243 24h1v1h-1zm0 1h1v1h-1zm4 0h1v1h-1zm-4 1h1v1h-1zm14 6h1v1h-1zm4 3h1v1h-1zm-7 1h1v1h-1zm1 1h1v1h-1zm-6 1h1v1h-1zm-182 2h1v1h-1zm187 0h1v1h-1zm-5 1h1v1h-1zm44 0h1v1h-1zm-32 1h1v1h-1zm31 0h1v1h-1zm-27 2h1v1h-1zm16 0h1v1h-1zm-225 1h1v1h-1zm2 0h1v1h-1zm238 0h1v1h-1zm81 0h1v1h-1zm-88 1h1v1h-1zm28 0h1v1h-1zm57 0h1v1h-1zm-325 1h1v1h-1zm8 0h1v1h-1zm2 0h1v1h-1zm223 0h1v1h-1zm13 0h1v1h-1zm91 0h1v1h-1zm-406 1h1v1h-1zm310 0h1v1h-1zm77 0h1v1h-1zm39 0h1v1h-1zm-352 1h1v1h-1zm227 0h1v1h-1zm72 0h1v1h-1zm-378 1h1v1h-1zm9 0h1v1h-1zm295 0h1v1h-1zm47 0h1v1h-1zm20 0h1v1h-1zm-394 1h1v1h-1zm13 0h1v1h-1zm75 0h1v1h-1zm-17 1h1v1h-1zm4 0h1v1h-1zm22 0h1v1h-1zm296 0h1v1h-1zm12 0h1v1h-1zm-407 1h1v1h-1zm13 0h1v1h-1zm19 0h1v1h-1zm39 0h1v1h-1zm354 0h1v1h-1zm24 0h1v1h-1zm-424 1h1v1h-1zm57 0h1v1h-1zm16 0h1v1h-1zm337 0h1v1h-1zm-417 1h1v1h-1zm47 1h1v1h-1zm358 0h1v1h-1zm-412 1h1v1h-1zm-12 1h1v1h-1zm50 1h1v1h-1zm8 0h1v1h-1zm-14 1h1v1h-1zm9 1h1v1h-1zm341 1h1v1h-1zm-97 53h1v1h-1zm14 20h1v1h-1zm-4 3h1v1h-1zm4 0h1v1h-1zm11 6h1v1h-1zm24 3h1v1h-1zm-18 1h1v1h-1zm12 1h1v1h-1zm-18 1h1v1h-1zm2 0h1v1h-1zm12 0h1v1h-1zm19 0h1v1h-1zm-20 2h1v1h-1zm99 0h1v1h-1zm-402 1h3v1h-3zm102 0h1v1h-1zm222 0h1v1h-1zm79 0h1v1h-1zm-403 1h1v1h-1zm372 0h1v1h-1zm33 0h1v1h-1zm-450 1h1v1h-1zm94 0h1v1h-1zm344 0h1v1h-1zm-396 1h1v1h-1zm58 0h1v1h-1zm4 0h1v1h-1zm8 0h1v1h-1zm16 0h1v1h-1zm236 0h1v1h-1zm74 0h1v1h-1zm-359 1h1v1h-1zm60 0h1v1h-1zm247 0h1v1h-1zm55 0h1v1h-1zm12 0h1v1h-1zm-424 1h1v1h-1zm438 0h1v1h-1zm-462 1h1v1h-1zm9 0h1v1h-1zm57 0h1v1h-1zm43 0h1v1h-1zm35 0h1v1h-1zm239 0h1v1h-1zm68 0h1v1h-1zm6 0h1v1h-1zm7 0h1v1h-1zm-434 1h1v1h-1zm30 0h1v1h-1zm46 0h1v1h-1zm-1 1h1v1h-1zm42 2h1v1h-1zm-85 1h1v1h-1z"/><path fill="#8fff70" d="m300 95h1v1h-1zm-1 4h1v1h-1zm5 2h2v1h-2zm4 1h1v1h-1zm4 1h1v1h-1zm11 1h1v1h-1zm-20 1h1v1h-1zm30 1h1v1h-1zm-332 3h1v1h-1zm144 0h1v1h-1zm184 0h1v1h-1zm-193 1h1v1h-1zm-26 1h1v1h-1zm36 0h1v1h-1zm-144 1h1v1h-1zm107 0h1v1h-1zm22 0h1v1h-1zm3 0h1v1h-1zm238 0h1v1h-1zm-197 1h1v1h-1zm176 0h1v1h-1zm71 0h1v1h-1zm-395 1h1v1h-1zm73 1h1v1h-1zm25 0h1v1h-1zm5 0h1v1h-1zm220 0h1v1h-1zm79 0h1v1h-1zm4 0h1v1h-1zm-389 1h1v1h-1zm11 0h1v1h-1zm31 0h1v1h-1zm5 0h1v1h-1zm25 0h1v1h-1zm-105 1h1v1h-1zm51 0h1v1h-1zm10 0h1v1h-1zm14 0h1v1h-1zm9 0h1v1h-1zm28 0h1v1h-1zm-78 1h1v1h-1zm15 0h1v1h-1zm17 1h1v1h-1zm85 0h1v1h-1zm-120 1h1v1h-1zm268 28h1v1h-1zm10 1h1v1h-1zm-9 2h1v1h-1zm-1 2h1v1h-1zm9 4h1v1h-1zm3 1h1v1h-1zm-10 3h1v1h-1zm17 2h1v1h-1zm4 0h1v1h-1zm7 0h1v1h-1zm-340 1h1v1h-1zm338 1h1v1h-1zm5 0h1v1h-1zm25 0h1v1h-1zm-228 2h1v1h-1zm218 0h1v1h-1zm15 0h1v1h-1zm-20 1h1v1h-1zm2 0h1v1h-1zm-233 1h1v1h-1zm238 0h1v1h-1zm44 0h1v1h-1zm-361 1h1v1h-1zm350 0h1v1h-1zm3 0h1v1h-1zm38 0h1v1h-1zm26 0h1v1h-1zm-51 1h1v1h-1zm28 0h1v1h-1zm38 0h1v1h-1zm-376 1h1v1h-1zm265 0h1v1h-1zm61 0h1v1h-1zm4 0h1v1h-1zm-378 1h1v1h-1zm37 0h1v1h-1zm322 0h1v1h-1zm-2 1h1v1h-1zm-388 1h1v1h-1zm59 0h1v1h-1zm6 0h1v1h-1zm339 0h1v1h-1zm-17 2h1v1h-1zm-93 37h1v1h-1zm4 10h1v1h-1zm2 8h1v1h-1zm2 7h1v1h-1zm-15 1h1v1h-1zm3 2h1v1h-1zm16 1h1v1h-1zm32 4h1v1h-1zm-31 1h1v1h-1zm15 0h1v1h-1zm-341 1h1v1h-1zm138 0h1v1h-1zm220 0h1v1h-1zm-43 1h1v1h-1zm-186 1h1v1h-1zm4 0h1v1h-1zm-9 1h1v1h-1zm5 0h1v1h-1zm225 0h1v1h-1zm6 0h1v1h-1zm-357 1h1v1h-1zm105 0h1v1h-1zm18 0h1v1h-1zm312 0h1v1h-1zm23 1h1v1h-1zm-451 1h1v1h-1zm128 0h1v1h-1zm276 0h1v1h-1zm-381 1h1v1h-1zm18 0h1v1h-1zm24 0h1v1h-1zm29 0h1v1h-1zm273 0h1v1h-1zm49 0h1v1h-1zm-354 1h1v1h-1zm6 0h1v1h-1zm297 0h1v1h-1zm46 0h1v1h-1zm-411 1h1v1h-1zm14 0h1v1h-1zm8 0h1v1h-1zm21 0h1v1h-1zm40 0h1v1h-1zm13 0h1v1h-1zm300 0h1v1h-1zm2 0h1v1h-1zm11 0h1v1h-1zm-407 1h1v1h-1zm28 0h2v1h-2zm41 1h1v1h-1zm19 0h1v1h-1zm356 1h1v1h-1zm-389 4h1v1h-1zm0 1h1v1h-1zm242 27h1v1h-1zm5 8h1v1h-1zm-4 2h1v1h-1zm-176 1h1v1h-1zm180 0h1v1h-1zm7 1h1v1h-1zm19 3h1v1h-1zm-209 1h1v1h-1zm201 0h1v1h-1zm23 0h1v1h-1zm-219 1h1v1h-1zm194 0h1v1h-1zm40 0h1v1h-1zm-244 2h1v1h-1zm2 0h1v1h-1zm7 0h1v1h-1zm206 0h1v1h-1zm60 0h1v1h-1zm20 0h1v1h-1zm-421 1h1v1h-1zm344 0h1v1h-1zm70 0h2v1h-2zm22 0h1v1h-1zm-94 1h1v1h-1zm57 0h1v1h-1zm23 0h1v1h-1zm6 0h1v1h-1zm-29 1h2v1h-2zm27 0h1v1h-1zm28 0h1v1h-1zm-446 1h1v1h-1zm15 0h1v1h-1zm30 0h1v1h-1zm68 0h1v1h-1zm267 0h1v1h-1zm-382 1h1v1h-1zm70 0h1v1h-1zm307 0h1v1h-1zm-340 1h1v1h-1zm101 0h1v1h-1zm-136 1h1v1h-1zm64 0h1v1h-1zm39 0h1v1h-1zm294 0h1v1h-1zm-355 1h1v1h-1zm45 0h1v1h-1zm312 0h1v1h-1zm-370 1h1v1h-1zm35 0h1v1h-1zm347 0h1v1h-1zm-366 1h1v1h-1zm9 0h1v1h-1zm361 0h1v1h-1zm-354 1h1v1h-1zm240 66h1v1h-1zm2 17h1v1h-1zm16 2h1v1h-1zm0 2h1v1h-1zm3 1h1v1h-1zm17 0h1v1h-1zm-9 1h1v1h-1zm-2 1h1v1h-1zm1 1h1v1h-1zm24 1h1v1h-1zm-5 1h1v1h-1zm11 0h1v1h-1zm-327 1h1v1h-1zm342 0h1v1h-1zm80 0h1v1h-1zm-463 1h1v1h-1zm45 0h1v1h-1zm94 0h1v1h-1zm10 0h1v1h-1zm253 0h1v1h-1zm-365 1h1v1h-1zm349 0h1v1h-1zm47 0h1v1h-1zm-52 1h1v1h-1zm-294 1h1v1h-1zm17 0h1v1h-1zm21 0h1v1h-1zm214 0h1v1h-1zm36 0h1v1h-1zm49 0h1v1h-1zm28 0h1v1h-1zm-414 1h1v1h-1zm56 0h1v1h-1zm44 0h1v1h-1zm273 0h1v1h-1zm-389 1h1v1h-1zm3 0h1v1h-1zm61 0h1v1h-1zm53 0h1v1h-1zm289 0h1v1h-1zm36 0h1v1h-1zm-454 1h1v1h-1zm46 0h1v1h-1zm50 0h1v1h-1zm-95 1h1v1h-1zm17 1h1v1h-1zm82 0h1v1h-1z"/><path fill="#9fff60" d="m321 102h1v1h-1zm-10 1h1v1h-1zm-9 2h1v1h-1zm5 1h1v1h-1zm-159 3h1v1h-1zm221 0h1v1h-1zm-6 1h1v1h-1zm-223 1h1v1h-1zm3 0h1v1h-1zm218 0h1v1h-1zm7 0h1v1h-1zm-368 1h1v1h-1zm29 1h1v1h-1zm122 0h1v1h-1zm25 0h1v1h-1zm3 0h1v1h-1zm235 0h1v1h-1zm-404 1h1v1h-1zm122 0h1v1h-1zm39 0h1v1h-1zm222 0h1v1h-1zm4 0h1v1h-1zm26 0h1v1h-1zm-419 1h1v1h-1zm114 0h1v1h-1zm307 0h1v1h-1zm48 0h1v1h-1zm-416 1h1v1h-1zm18 0h1v1h-1zm-26 1h1v1h-1zm27 0h1v1h-1zm10 2h1v1h-1zm71 0h1v1h-1zm0 1h1v1h-1zm148 26h1v1h-1zm2 0h1v1h-1zm-2 8h1v1h-1zm24 0h1v1h-1zm-6 3h1v1h-1zm6 1h1v1h-1zm-9 1h1v1h-1zm6 0h1v1h-1zm2 0h1v1h-1zm-328 6h1v1h-1zm353 1h1v1h-1zm5 0h1v1h-1zm27 0h1v1h-1zm-379 3h1v1h-1zm101 0h1v1h-1zm17 0h1v1h-1zm2 0h1v1h-1zm316 0h1v1h-1zm-434 1h1v1h-1zm101 0h2v1h-2zm322 0h1v1h-1zm22 0h1v1h-1zm4 0h1v1h-1zm-420 1h1v1h-1zm13 0h1v1h-1zm57 0h1v1h-1zm2 0h2v1h-2zm257 0h1v1h-1zm9 0h1v1h-1zm96 0h1v1h-1zm-430 1h1v1h-1zm35 0h1v1h-1zm20 0h1v1h-1zm270 0h1v1h-1zm9 0h1v1h-1zm25 0h1v1h-1zm21 0h1v1h-1zm17 0h1v1h-1zm-389 1h1v1h-1zm350 0h1v1h-1zm39 0h1v1h-1zm-339 1h1v1h-1zm300 1h1v1h-1zm-339 1h1v1h-1zm364 3h1v1h-1zm-109 38h1v1h-1zm1 1h1v1h-1zm-5 20h1v1h-1zm12 3h1v1h-1zm4 1h1v1h-1zm-7 1h1v1h-1zm8 0h1v1h-1zm-13 1h1v1h-1zm2 2h1v1h-1zm29 1h1v1h-1zm-9 1h1v1h-1zm-11 1h1v1h-1zm34 0h1v1h-1zm-221 1h1v1h-1zm2 0h1v1h-1zm228 0h1v1h-1zm-244 1h1v1h-1zm217 0h1v1h-1zm6 0h1v1h-1zm26 0h1v1h-1zm-253 1h2v1h-2zm15 0h1v1h-1zm4 0h1v1h-1zm195 0h1v1h-1zm64 0h1v1h-1zm-393 1h1v1h-1zm112 0h1v1h-1zm10 0h1v1h-1zm225 0h1v1h-1zm23 0h1v1h-1zm58 0h1v1h-1zm7 0h1v1h-1zm-411 1h1v1h-1zm68 0h1v1h-1zm42 0h1v1h-1zm204 0h1v1h-1zm44 1h1v1h-1zm25 0h1v1h-1zm17 0h1v1h-1zm-321 1h1v1h-1zm241 0h1v1h-1zm34 0h1v1h-1zm39 0h1v1h-1zm52 0h1v1h-1zm4 0h1v1h-1zm-463 1h1v1h-1zm5 0h1v1h-1zm84 0h1v1h-1zm274 0h1v1h-1zm-344 1h1v1h-1zm330 0h1v1h-1zm65 0h1v1h-1zm5 0h1v1h-1zm-70 1h1v1h-1zm56 0h1v1h-1zm7 0h1v1h-1zm-412 1h1v1h-1zm55 0h1v1h-1zm307 0h1v1h-1zm-337 1h1v1h-1zm27 0h1v1h-1zm5 0h1v1h-1zm326 2h1v1h-1zm11 1h1v1h-1zm-87 24h1v1h-1zm-12 1h1v1h-1zm-3 3h1v1h-1zm15 1h1v1h-1zm-13 2h1v1h-1zm1 2h1v1h-1zm2 0h1v1h-1zm11 2h1v1h-1zm-6 6h1v1h-1zm-184 1h1v1h-1zm-3 2h1v1h-1zm5 0h1v1h-1zm259 0h1v1h-1zm-34 1h1v1h-1zm24 0h1v1h-1zm-17 1h1v1h-1zm-230 1h1v1h-1zm297 0h1v1h-1zm-81 1h1v1h-1zm38 0h1v1h-1zm9 0h1v1h-1zm13 0h1v1h-1zm4 0h1v1h-1zm25 0h1v1h-1zm-86 1h1v1h-1zm82 0h1v1h-1zm-64 1h1v1h-1zm41 0h1v1h-1zm-306 1h1v1h-1zm13 0h1v1h-1zm227 0h1v1h-1zm29 0h1v1h-1zm72 0h1v1h-1zm-446 1h1v1h-1zm30 0h2v1h-2zm64 0h1v1h-1zm43 0h1v1h-1zm262 0h1v1h-1zm60 0h1v1h-1zm7 0h1v1h-1zm7 0h1v1h-1zm-453 1h1v1h-1zm56 0h1v1h-1zm348 1h1v1h-1zm10 0h1v1h-1zm-353 1h1v1h-1zm7 0h1v1h-1zm345 0h1v1h-1zm-418 1h1v1h-1zm358 1h1v1h-1zm-367 1h1v1h-1zm354 0h1v1h-1zm-298 3h1v1h-1zm256 76h1v1h-1zm2 0h1v1h-1zm-5 5h1v1h-1zm9 4h1v1h-1zm4 0h1v1h-1zm-333 2h1v1h-1zm333 0h1v1h-1zm25 0h1v1h-1zm-2 1h1v1h-1zm-27 2h1v1h-1zm2 0h1v1h-1zm-5 1h1v1h-1zm10 0h1v1h-1zm19 0h1v1h-1zm31 0h1v1h-1zm-252 2h1v1h-1zm256 0h1v1h-1zm15 0h1v1h-1zm47 0h1v1h-1zm-303 1h1v1h-1zm266 0h1v1h-1zm24 0h1v1h-1zm25 0h1v1h-1zm-456 1h1v1h-1zm91 0h1v1h-1zm30 0h1v1h-1zm267 0h1v1h-1zm2 0h1v1h-1zm7 0h1v1h-1zm-38 1h1v1h-1zm90 0h1v1h-1zm-437 1h1v1h-1zm70 0h1v1h-1zm31 0h1v1h-1zm15 0h1v1h-1zm10 0h1v1h-1zm219 0h1v1h-1zm49 0h1v1h-1zm-343 1h1v1h-1zm16 0h1v1h-1zm31 0h1v1h-1zm33 0h1v1h-1zm238 0h1v1h-1zm68 0h1v1h-1zm4 0h1v1h-1zm4 0h1v1h-1zm-450 2h2v1h-2zm4 0h1v1h-1zm62 0h1v1h-1zm25 0h1v1h-1zm-45 1h1v1h-1zm20 0h1v1h-1zm-16 4h1v1h-1z"/><path fill="#afff50" d="m305 96h1v1h-1zm-1 8h1v1h-1zm14 4h1v1h-1zm7 0h1v1h-1zm13 0h1v1h-1zm-7 1h1v1h-1zm7 0h1v1h-1zm21 1h1v1h-1zm-251 1h1v1h-1zm6 1h1v1h-1zm2 0h1v1h-1zm-89 1h1v1h-1zm87 0h1v1h-1zm57 0h1v1h-1zm219 0h1v1h-1zm22 0h1v1h-1zm6 0h1v1h-1zm-407 1h1v1h-1zm92 0h1v1h-1zm2 0h2v1h-2zm343 0h1v1h-1zm-442 1h1v1h-1zm121 0h1v1h-1zm303 0h1v1h-1zm-395 1h1v1h-1zm18 0h1v1h-1zm66 0h1v1h-1zm-82 1h1v1h-1zm10 0h1v1h-1zm77 0h1v1h-1zm-78 1h1v1h-1zm11 0h1v1h-1zm4 1h1v1h-1zm33 0h1v1h-1zm-71 1h1v1h-1zm27 0h1v1h-1zm5 0h1v1h-1zm104 0h1v1h-1zm0 1h1v1h-1zm-113 1h1v1h-1zm259 19h1v1h-1zm2 8h1v1h-1zm13 2h1v1h-1zm-10 6h1v1h-1zm2 0h1v1h-1zm11 2h1v1h-1zm3 3h1v1h-1zm-194 5h1v1h-1zm208 0h1v1h-1zm16 1h1v1h-1zm-347 1h1v1h-1zm118 0h1v1h-1zm247 0h1v1h-1zm72 0h1v1h-1zm-341 1h1v1h-1zm349 0h1v1h-1zm-411 1h1v1h-1zm357 0h1v1h-1zm32 0h1v1h-1zm-402 1h1v1h-1zm9 0h1v1h-1zm5 0h1v1h-1zm353 0h1v1h-1zm6 0h1v1h-1zm17 0h1v1h-1zm-392 1h1v1h-1zm398 0h1v1h-1zm-402 1h1v1h-1zm37 0h1v1h-1zm0 2h1v1h-1zm4 0h2v1h-2zm245 61h1v1h-1zm-2 1h1v1h-1zm15 2h1v1h-1zm1 4h1v1h-1zm-5 2h1v1h-1zm7 2h1v1h-1zm34 0h1v1h-1zm-43 1h1v1h-1zm-196 2h1v1h-1zm2 1h1v1h-1zm225 0h1v1h-1zm38 1h1v1h-1zm46 0h1v1h-1zm18 0h1v1h-1zm2 0h1v1h-1zm-362 1h1v1h-1zm285 0h1v1h-1zm6 0h1v1h-1zm54 0h1v1h-1zm9 0h1v1h-1zm26 0h1v1h-1zm8 0h1v1h-1zm-389 1h1v1h-1zm9 0h1v1h-1zm253 0h1v1h-1zm74 0h1v1h-1zm45 0h1v1h-1zm5 0h1v1h-1zm-43 1h1v1h-1zm38 0h1v1h-1zm-457 1h1v1h-1zm4 0h1v1h-1zm35 0h1v1h-1zm22 0h1v1h-1zm271 0h1v1h-1zm129 0h1v1h-1zm-387 1h1v1h-1zm-73 1h2v1h-2zm15 0h1v1h-1zm59 0h1v1h-1zm350 0h1v1h-1zm34 0h1v1h-1zm-387 1h1v1h-1zm7 0h1v1h-1zm318 0h1v1h-1zm-387 2h1v1h-1zm39 0h1v1h-1zm2 2h1v1h-1zm344 2h1v1h-1zm-100 22h1v1h-1zm2 0h1v1h-1zm13 3h1v1h-1zm-10 7h1v1h-1zm8 5h1v1h-1zm-4 1h1v1h-1zm16 0h1v1h-1zm-205 1h1v1h-1zm3 1h1v1h-1zm208 0h1v1h-1zm-12 1h1v1h-1zm-199 1h1v1h-1zm-3 1h1v1h-1zm244 0h1v1h-1zm-235 1h1v1h-1zm229 0h1v1h-1zm-360 1h1v1h-1zm126 0h1v1h-1zm211 0h1v1h-1zm49 0h1v1h-1zm-387 1h1v1h-1zm368 0h1v1h-1zm30 0h1v1h-1zm-28 1h1v1h-1zm-8 1h1v1h-1zm15 0h1v1h-1zm55 0h1v1h-1zm-391 1h1v1h-1zm72 0h1v1h-1zm233 0h1v1h-1zm66 0h1v1h-1zm-311 1h1v1h-1zm340 0h1v1h-1zm-433 1h1v1h-1zm25 0h1v1h-1zm8 0h1v1h-1zm10 0h1v1h-1zm23 0h1v1h-1zm340 0h1v1h-1zm-341 1h1v1h-1zm334 0h1v1h-1zm64 0h1v1h-1zm3 0h1v1h-1zm-381 1h1v1h-1zm6 0h1v1h-1zm-13 1h1v1h-1zm-11 1h1v1h-1zm-15 2h1v1h-1zm-5 1h2v1h-2zm5 2h1v1h-1zm248 61h1v1h-1zm11 13h1v1h-1zm-8 3h1v1h-1zm0 3h1v1h-1zm9 2h1v1h-1zm26 6h1v1h-1zm-347 1h1v1h-1zm0 1h1v1h-1zm3 1h1v1h-1zm121 0h1v1h-1zm2 0h1v1h-1zm6 1h1v1h-1zm5 0h1v1h-1zm195 0h1v1h-1zm35 0h1v1h-1zm19 0h1v1h-1zm-386 1h1v1h-1zm39 0h1v1h-1zm360 1h1v1h-1zm64 0h1v1h-1zm-444 1h1v1h-1zm14 0h1v1h-1zm10 0h1v1h-1zm41 0h1v1h-1zm25 0h1v1h-1zm24 0h1v1h-1zm8 0h1v1h-1zm323 0h1v1h-1zm-71 1h1v1h-1zm64 0h1v1h-1zm-439 1h1v1h-1zm10 0h1v1h-1zm53 0h1v1h-1zm67 0h1v1h-1zm-125 1h1v1h-1zm11 0h1v1h-1zm-14 1h1v1h-1zm87 0h1v1h-1zm312 0h1v1h-1zm-352 1h1v1h-1zm-52 1h1v1h-1zm42 1h1v1h-1zm96 4h1v1h-1z"/><path fill="#bfff40" d="m312 90h1v1h-1zm-13 7h1v1h-1zm12 2h1v1h-1zm-12 2h1v1h-1zm11 4h1v1h-1zm8 0h1v1h-1zm-318 5h1v1h-1zm341 0h1v1h-1zm-236 1h1v1h-1zm36 0h1v1h-1zm217 0h3v1h-3zm-354 1h1v1h-1zm322 0h1v1h-1zm48 0h1v1h-1zm9 1h1v1h-1zm30 0h1v1h-1zm-34 1h1v1h-1zm72 0h1v1h-1zm-298 1h1v1h-1zm-145 1h1v1h-1zm72 0h1v1h-1zm20 0h1v1h-1zm54 0h1v1h-1zm211 0h1v1h-1zm41 0h1v1h-1zm-368 1h1v1h-1zm41 0h1v1h-1zm12 0h1v1h-1zm-33 1h1v1h-1zm4 0h1v1h-1zm4 0h1v1h-1zm31 0h1v1h-1zm-17 1h1v1h-1zm12 1h1v1h-1zm-70 1h1v1h-1zm300 29h1v1h-1zm-14 9h1v1h-1zm32 5h1v1h-1zm-9 2h1v1h-1zm9 0h1v1h-1zm-340 1h1v1h-1zm341 0h1v1h-1zm27 0h1v1h-1zm80 1h1v1h-1zm2 2h1v1h-1zm2 0h1v1h-1zm-403 1h1v1h-1zm57 0h1v1h-1zm330 0h1v1h-1zm28 1h1v1h-1zm2 0h1v1h-1zm-43 2h1v1h-1zm-409 1h1v1h-1zm38 0h1v1h-1zm5 0h1v1h-1zm7 0h1v1h-1zm7 0h1v1h-1zm-2 1h1v1h-1zm254 57h1v1h-1zm-4 5h1v1h-1zm2 0h1v1h-1zm80 9h1v1h-1zm-84 3h1v1h-1zm13 0h1v1h-1zm9 0h1v1h-1zm7 0h1v1h-1zm49 0h1v1h-1zm-257 2h1v1h-1zm178 0h1v1h-1zm84 0h1v1h-1zm3 0h1v1h-1zm51 0h1v1h-1zm-316 1h1v1h-1zm227 0h1v1h-1zm2 0h1v1h-1zm5 0h1v1h-1zm24 0h1v1h-1zm-31 1h1v1h-1zm11 0h1v1h-1zm70 0h1v1h-1zm22 0h1v1h-1zm9 0h1v1h-1zm2 0h1v1h-1zm-469 1h1v1h-1zm23 0h1v1h-1zm315 0h1v1h-1zm16 0h1v1h-1zm87 0h1v1h-1zm8 0h1v1h-1zm-423 1h1v1h-1zm66 0h1v1h-1zm314 0h1v1h-1zm-391 1h1v1h-1zm28 0h1v1h-1zm25 0h1v1h-1zm288 0h1v1h-1zm45 0h1v1h-1zm27 0h1v1h-1zm-422 1h1v1h-1zm12 0h1v1h-1zm9 0h2v1h-2zm36 0h1v1h-1zm36 0h1v1h-1zm-10 1h1v1h-1zm-72 1h1v1h-1zm25 0h1v1h-1zm354 0h1v1h-1zm-332 1h1v1h-1zm336 2h1v1h-1zm-343 2h1v1h-1zm242 25h1v1h-1zm3 7h1v1h-1zm2 3h1v1h-1zm28 6h1v1h-1zm13 2h1v1h-1zm5 0h1v1h-1zm25 0h1v1h-1zm-252 1h1v1h-1zm214 0h1v1h-1zm7 0h1v1h-1zm29 1h1v1h-1zm-42 1h1v1h-1zm39 1h1v1h-1zm64 0h1v1h-1zm3 0h1v1h-1zm-442 1h1v1h-1zm107 0h1v1h-1zm27 0h1v1h-1zm199 0h1v1h-1zm42 0h1v1h-1zm51 0h1v1h-1zm4 0h1v1h-1zm-314 1h1v1h-1zm223 0h1v1h-1zm59 0h1v1h-1zm9 0h1v1h-1zm20 0h1v1h-1zm22 0h1v1h-1zm8 0h1v1h-1zm5 0h1v1h-1zm-426 1h1v1h-1zm75 0h1v1h-1zm230 0h1v1h-1zm43 0h1v1h-1zm73 0h1v1h-1zm-423 1h2v1h-2zm101 0h1v1h-1zm226 0h1v1h-1zm-342 1h1v1h-1zm7 0h1v1h-1zm6 0h1v1h-1zm8 0h1v1h-1zm101 0h1v1h-1zm220 0h1v1h-1zm39 0h1v1h-1zm23 0h1v1h-1zm-375 1h1v1h-1zm21 0h1v1h-1zm4 0h1v1h-1zm379 0h1v1h-1zm-416 1h1v1h-1zm58 0h1v1h-1zm9 0h1v1h-1zm-89 1h1v1h-1zm35 1h1v1h-1zm6 1h1v1h-1zm-4 1h1v1h-1zm255 74h1v1h-1zm14 7h1v1h-1zm-2 2h1v1h-1zm3 1h1v1h-1zm-8 2h1v1h-1zm3 0h1v1h-1zm-4 1h1v1h-1zm18 4h1v1h-1zm6 0h1v1h-1zm-11 1h1v1h-1zm-198 1h1v1h-1zm208 0h1v1h-1zm45 0h1v1h-1zm-252 1h1v1h-1zm262 0h1v1h-1zm-273 1h1v1h-1zm229 0h1v1h-1zm-347 1h1v1h-1zm44 1h2v1h-2zm98 0h1v1h-1zm3 0h1v1h-1zm222 0h1v1h-1zm19 0h1v1h-1zm55 0h1v1h-1zm-300 2h1v1h-1zm311 0h1v1h-1zm-58 1h1v1h-1zm1 1h1v1h-1zm-337 1h1v1h-1zm0 1h1v1h-1zm-45 1h1v1h-1zm10 0h1v1h-1zm33 2h1v1h-1zm93 0h1v1h-1z"/><path fill="#cfff30" d="m316 104h1v1h-1zm-175 4h1v1h-1zm8 2h1v1h-1zm-2 1h1v1h-1zm195 1h1v1h-1zm2 0h1v1h-1zm18 0h1v1h-1zm-354 1h1v1h-1zm91 1h1v1h-1zm32 0h1v1h-1zm214 0h1v1h-1zm19 0h1v1h-1zm39 0h1v1h-1zm39 0h1v1h-1zm-406 1h1v1h-1zm5 1h1v1h-1zm10 0h1v1h-1zm-27 1h1v1h-1zm-11 1h1v1h-1zm85 0h1v1h-1zm-44 1h1v1h-1zm42 0h1v1h-1zm-78 1h1v1h-1zm33 0h2v1h-2zm19 2h1v1h-1zm235 17h1v1h-1zm36 25h1v1h-1zm-7 1h1v1h-1zm5 0h1v1h-1zm30 1h1v1h-1zm-235 1h1v1h-1zm219 0h1v1h-1zm36 0h1v1h-1zm-384 1h1v1h-1zm349 1h1v1h-1zm19 0h1v1h-1zm19 0h1v1h-1zm42 0h1v1h-1zm-316 1h1v1h-1zm314 0h1v1h-1zm-401 1h1v1h-1zm428 0h1v1h-1zm-359 1h1v1h-1zm360 0h1v1h-1zm-380 1h1v1h-1zm326 0h1v1h-1zm-324 1h1v1h-1zm325 0h1v1h-1zm-345 1h1v1h-1zm245 45h1v1h-1zm0 8h1v1h-1zm15 3h1v1h-1zm4 13h1v1h-1zm5 4h1v1h-1zm-202 1h1v1h-1zm186 0h1v1h-1zm52 0h1v1h-1zm-363 1h1v1h-1zm0 1h1v1h-1zm100 0h1v1h-1zm228 0h1v1h-1zm41 0h1v1h-1zm9 0h1v1h-1zm-253 1h1v1h-1zm263 0h1v1h-1zm66 0h1v1h-1zm-335 1h1v1h-1zm14 0h1v1h-1zm306 0h1v1h-1zm-95 1h1v1h-1zm128 0h1v1h-1zm-427 1h1v1h-1zm45 0h1v1h-1zm46 0h1v1h-1zm-92 1h1v1h-1zm62 0h1v1h-1zm2 0h1v1h-1zm306 0h1v1h-1zm-400 1h1v1h-1zm67 0h1v1h-1zm7 0h1v1h-1zm9 0h1v1h-1zm13 0h1v1h-1zm281 0h1v1h-1zm-373 1h1v1h-1zm12 0h1v1h-1zm70 0h1v1h-1zm4 0h1v1h-1zm302 0h1v1h-1zm-387 1h1v1h-1zm376 0h1v1h-1zm9 0h1v1h-1zm-329 1h1v1h-1zm-24 1h1v1h-1zm16 2h1v1h-1zm337 4h1v1h-1zm-97 24h1v1h-1zm12 3h1v1h-1zm-12 4h1v1h-1zm4 7h1v1h-1zm13 0h1v1h-1zm5 2h1v1h-1zm9 1h1v1h-1zm106 0h1v1h-1zm-119 1h1v1h-1zm-328 1h1v1h-1zm135 0h1v1h-1zm2 0h1v1h-1zm196 1h1v1h-1zm16 0h1v1h-1zm-4 1h1v1h-1zm4 0h1v1h-1zm87 0h1v1h-1zm-437 1h1v1h-1zm393 0h1v1h-1zm33 0h1v1h-1zm-381 1h1v1h-1zm70 0h1v1h-1zm315 0h1v1h-1zm-53 1h1v1h-1zm91 0h1v1h-1zm-453 1h1v1h-1zm445 0h1v1h-1zm-454 1h1v1h-1zm27 0h1v1h-1zm49 0h1v1h-1zm8 0h1v1h-1zm367 0h1v1h-1zm-415 1h1v1h-1zm37 0h1v1h-1zm18 0h1v1h-1zm287 0h1v1h-1zm-281 1h1v1h-1zm306 0h1v1h-1zm-380 1h1v1h-1zm46 0h2v1h-2zm14 0h1v1h-1zm-77 2h1v1h-1zm49 1h1v1h-1zm-5 2h1v1h-1zm8 0h1v1h-1zm246 63h1v1h-1zm5 12h1v1h-1zm-2 2h1v1h-1zm3 4h1v1h-1zm-1 3h1v1h-1zm3 1h1v1h-1zm1 1h1v1h-1zm10 0h1v1h-1zm29 2h1v1h-1zm-14 1h1v1h-1zm15 1h1v1h-1zm-354 2h1v1h-1zm123 0h1v1h-1zm226 0h1v1h-1zm33 0h2v1h-2zm-46 1h1v1h-1zm103 0h1v1h-1zm-442 1h1v1h-1zm4 0h1v1h-1zm139 0h1v1h-1zm199 0h1v1h-1zm38 0h1v1h-1zm63 0h1v1h-1zm20 0h1v1h-1zm-101 1h1v1h-1zm-323 1h1v1h-1zm54 0h1v1h-1zm7 0h1v1h-1zm333 0h1v1h-1zm39 0h1v1h-1zm-453 1h1v1h-1zm122 0h1v1h-1zm284 0h1v1h-1zm-393 1h1v1h-1zm16 0h1v1h-1zm328 0h1v1h-1zm42 0h1v1h-1zm40 0h1v1h-1zm-96 1h1v1h-1zm-304 1h1v1h-1zm34 0h1v1h-1zm317 0h1v1h-1zm-387 1h1v1h-1zm6 0h1v1h-1zm30 0h1v1h-1zm12 0h1v1h-1zm-58 1h1v1h-1zm365 0h1v1h-1z"/><path fill="#dfff20" d="m312 89h1v1h-1zm-13 15h1v1h-1zm35 5h1v1h-1zm-2 1h2v1h-2zm28 0h1v1h-1zm-248 1h1v1h-1zm21 0h1v1h-1zm41 0h1v1h-1zm-70 1h1v1h-1zm2 0h1v1h-1zm67 1h1v1h-1zm-145 1h1v1h-1zm142 0h1v1h-1zm224 0h1v1h-1zm46 0h1v1h-1zm-338 1h1v1h-1zm318 0h1v1h-1zm33 0h1v1h-1zm12 0h1v1h-1zm-366 1h1v1h-1zm-84 1h1v1h-1zm12 0h1v1h-1zm16 1h1v1h-1zm112 0h1v1h-1zm-71 1h1v1h-1zm6 0h1v1h-1zm-45 2h1v1h-1zm260 22h1v1h-1zm0 7h1v1h-1zm-304 15h1v1h-1zm334 0h1v1h-1zm51 1h1v1h-1zm-26 1h1v1h-1zm23 0h1v1h-1zm16 2h1v1h-1zm57 1h1v1h-1zm-55 1h1v1h-1zm30 0h1v1h-1zm-420 1h1v1h-1zm14 0h1v1h-1zm93 0h1v1h-1zm260 0h1v1h-1zm32 0h1v1h-1zm-323 2h1v1h-1zm-15 1h1v1h-1zm6 0h1v1h-1zm239 46h1v1h-1zm-9 12h1v1h-1zm0 2h1v1h-1zm3 0h1v1h-1zm-4 3h1v1h-1zm2 1h1v1h-1zm2 3h1v1h-1zm-2 1h1v1h-1zm4 2h1v1h-1zm2 0h1v1h-1zm-1 2h1v1h-1zm2 0h1v1h-1zm-1 1h1v1h-1zm2 0h1v1h-1zm13 0h1v1h-1zm28 1h1v1h-1zm27 0h1v1h-1zm16 0h1v1h-1zm-401 1h1v1h-1zm331 1h1v1h-1zm69 0h1v1h-1zm-274 1h1v1h-1zm220 0h1v1h-1zm-12 1h1v1h-1zm97 0h1v1h-1zm-426 1h1v1h-1zm87 0h1v1h-1zm253 0h1v1h-1zm32 0h1v1h-1zm71 0h1v1h-1zm23 0h1v1h-1zm-350 1h1v1h-1zm220 0h1v1h-1zm55 0h1v1h-1zm-385 1h1v1h-1zm28 0h1v1h-1zm69 0h1v1h-1zm258 0h1v1h-1zm28 0h1v1h-1zm27 0h1v1h-1zm-15 1h1v1h-1zm59 0h1v1h-1zm12 1h1v1h-1zm-388 2h1v1h-1zm-67 1h1v1h-1zm289 0h1v1h-1zm-244 3h1v1h-1zm340 0h1v1h-1zm-338 1h1v1h-1zm243 34h1v1h-1zm3 1h1v1h-1zm133 6h1v1h-1zm-60 3h1v1h-1zm-253 1h1v1h-1zm3 2h1v1h-1zm205 0h1v1h-1zm5 0h2v1h-2zm24 0h1v1h-1zm76 0h1v1h-1zm-15 1h1v1h-1zm14 0h1v1h-1zm8 0h1v1h-1zm-342 2h1v1h-1zm285 0h1v1h-1zm14 0h1v1h-1zm-406 1h1v1h-1zm25 0h1v1h-1zm348 0h2v1h-2zm19 0h1v1h-1zm-375 1h1v1h-1zm401 0h1v1h-1zm2 0h1v1h-1zm48 0h1v1h-1zm-442 1h1v1h-1zm9 0h1v1h-1zm14 0h1v1h-1zm53 0h1v1h-1zm270 0h1v1h-1zm32 0h1v1h-1zm17 0h1v1h-1zm-377 1h1v1h-1zm48 0h1v1h-1zm312 0h1v1h-1zm50 0h1v1h-1zm-50 2h1v1h-1zm-344 1h1v1h-1zm342 0h1v1h-1zm-349 1h1v1h-1zm5 0h1v1h-1zm247 67h1v1h-1zm1 12h1v1h-1zm13 3h1v1h-1zm0 2h1v1h-1zm-6 1h1v1h-1zm6 0h1v1h-1zm4 1h1v1h-1zm56 3h1v1h-1zm-48 2h1v1h-1zm17 1h1v1h-1zm49 0h1v1h-1zm-53 2h1v1h-1zm3 1h1v1h-1zm82 0h1v1h-1zm-311 1h2v1h-2zm223 0h1v1h-1zm17 0h1v1h-1zm2 0h1v1h-1zm17 0h1v1h-1zm12 0h1v1h-1zm7 0h1v1h-1zm-269 1h1v1h-1zm8 0h1v1h-1zm3 0h1v1h-1zm201 0h1v1h-1zm52 0h1v1h-1zm21 0h1v1h-1zm14 0h1v1h-1zm47 0h1v1h-1zm-470 1h1v1h-1zm85 0h1v1h-1zm6 0h1v1h-1zm264 0h1v1h-1zm49 0h1v1h-1zm25 0h1v1h-1zm22 0h1v1h-1zm6 0h1v1h-1zm9 0h1v1h-1zm-386 1h1v1h-1zm6 0h1v1h-1zm23 0h1v1h-1zm24 0h1v1h-1zm-46 1h1v1h-1zm2 0h1v1h-1zm49 0h1v1h-1zm266 0h1v1h-1zm-394 1h1v1h-1zm9 0h1v1h-1zm57 0h1v1h-1zm281 0h1v1h-1z"/><path fill="#efff10" d="m317 105h1v1h-1zm-174 5h1v1h-1zm183 1h1v1h-1zm16 0h1v1h-1zm-229 1h1v1h-1zm19 0h1v1h-1zm17 0h1v1h-1zm-33 1h1v1h-1zm276 0h1v1h-1zm9 0h1v1h-1zm2 0h1v1h-1zm-301 1h1v1h-1zm66 0h1v1h-1zm219 0h1v1h-1zm35 0h1v1h-1zm33 0h1v1h-1zm-303 1h1v1h-1zm213 0h1v1h-1zm75 0h1v1h-1zm3 0h1v1h-1zm-358 1h1v1h-1zm37 0h1v1h-1zm-113 1h1v1h-1zm17 0h1v1h-1zm100 0h1v1h-1zm-61 1h1v1h-1zm-52 1h2v1h-2zm33 0h1v1h-1zm18 0h1v1h-1zm8 0h1v1h-1zm-19 1h1v1h-1zm18 0h1v1h-1zm87 0h1v1h-1zm151 36h2v1h-2zm11 0h1v1h-1zm3 0h1v1h-1zm66 8h1v1h-1zm-52 2h1v1h-1zm33 0h1v1h-1zm-237 1h1v1h-1zm225 2h1v1h-1zm86 0h1v1h-1zm-398 1h1v1h-1zm392 0h1v1h-1zm-428 1h1v1h-1zm22 0h1v1h-1zm2 0h1v1h-1zm77 0h1v1h-1zm-69 1h1v1h-1zm10 1h1v1h-1zm22 0h1v1h-1zm-21 2h1v1h-1zm254 50h1v1h-1zm14 7h1v1h-1zm2 0h1v1h-1zm-12 5h1v1h-1zm2 5h1v1h-1zm1 2h1v1h-1zm11 0h1v1h-1zm-12 2h1v1h-1zm15 1h1v1h-1zm2 0h1v1h-1zm2 1h2v1h-2zm35 2h1v1h-1zm-231 1h1v1h-1zm221 0h1v1h-1zm-229 1h1v1h-1zm4 0h1v1h-1zm213 0h1v1h-1zm1 1h1v1h-1zm10 0h1v1h-1zm35 0h1v1h-1zm69 0h1v1h-1zm3 0h1v1h-1zm-99 1h1v1h-1zm110 0h1v1h-1zm-467 1h1v1h-1zm24 0h1v1h-1zm81 0h1v1h-1zm253 0h1v1h-1zm45 0h1v1h-1zm8 0h1v1h-1zm16 0h1v1h-1zm4 0h1v1h-1zm-400 1h1v1h-1zm2 0h1v1h-1zm4 0h1v1h-1zm44 0h1v1h-1zm345 0h1v1h-1zm25 0h1v1h-1zm-417 1h1v1h-1zm36 0h1v1h-1zm342 0h1v1h-1zm18 0h1v1h-1zm-398 1h1v1h-1zm63 1h1v1h-1zm287 0h1v1h-1zm-364 1h1v1h-1zm383 0h1v1h-1zm-352 1h1v1h-1zm322 1h1v1h-1zm11 0h1v1h-1zm-67 36h1v1h-1zm-1 3h1v1h-1zm-2 3h1v1h-1zm14 2h1v1h-1zm-3 1h1v1h-1zm-191 1h1v1h-1zm193 1h1v1h-1zm-205 1h1v1h-1zm216 0h1v1h-1zm12 0h1v1h-1zm-3 1h1v1h-1zm8 0h1v1h-1zm91 0h1v1h-1zm-325 1h1v1h-1zm233 0h1v1h-1zm79 0h1v1h-1zm4 0h1v1h-1zm-440 1h1v1h-1zm123 0h1v1h-1zm249 0h1v1h-1zm-331 1h2v1h-2zm333 0h1v1h-1zm41 0h1v1h-1zm20 0h1v1h-1zm13 0h1v1h-1zm2 0h1v1h-1zm-345 1h1v1h-1zm245 0h1v1h-1zm91 0h1v1h-1zm7 0h1v1h-1zm15 0h1v1h-1zm-443 1h1v1h-1zm78 0h1v1h-1zm-72 1h1v1h-1zm13 0h1v1h-1zm101 0h1v1h-1zm279 0h1v1h-1zm-325 1h1v1h-1zm2 0h1v1h-1zm13 0h1v1h-1zm-78 1h1v1h-1zm392 0h1v1h-1zm-16 1h1v1h-1zm63 0h1v1h-1zm-66 1h1v1h-1zm-393 1h1v1h-1zm42 0h1v1h-1zm16 0h1v1h-1zm239 76h1v1h-1zm1 3h1v1h-1zm15 12h1v1h-1zm28 0h1v1h-1zm8 1h1v1h-1zm10 1h1v1h-1zm-4 2h1v1h-1zm-232 1h1v1h-1zm-97 1h1v1h-1zm3 0h1v1h-1zm311 0h1v1h-1zm27 0h1v1h-1zm-257 1h1v1h-1zm16 0h1v1h-1zm228 0h1v1h-1zm9 0h1v1h-1zm2 0h1v1h-1zm15 0h1v1h-1zm-358 1h1v1h-1zm4 0h1v1h-1zm12 0h1v1h-1zm85 0h1v1h-1zm210 0h1v1h-1zm86 0h1v1h-1zm5 0h1v1h-1zm35 0h1v1h-1zm7 0h1v1h-1zm-382 1h1v1h-1zm44 0h1v1h-1zm248 0h1v1h-1zm87 0h1v1h-1zm-452 1h1v1h-1zm3 0h1v1h-1zm8 0h1v1h-1zm82 0h1v1h-1zm284 0h1v1h-1zm9 0h1v1h-1zm-376 1h1v1h-1zm40 0h1v1h-1zm22 0h1v1h-1zm4 0h1v1h-1zm-21 1h1v1h-1zm-61 1h1v1h-1zm45 1h1v1h-1z"/><path fill="#ffff00" d="m314 99h1v1h-1zm0 3h1v1h-1zm2 3h1v1h-1zm14 4h1v1h-1zm-324 3h1v1h-1zm105 1h1v1h-1zm2 0h1v1h-1zm264 0h1v1h-1zm21 0h1v1h-1zm-359 1h1v1h-1zm65 0h1v1h-1zm16 0h1v1h-1zm9 0h1v1h-1zm270 0h1v1h-1zm51 0h1v1h-1zm-417 1h1v1h-1zm81 0h1v1h-1zm8 0h1v1h-1zm-109 1h1v1h-1zm2 0h1v1h-1zm11 0h1v1h-1zm55 0h1v1h-1zm7 0h1v1h-1zm278 0h1v1h-1zm43 0h2v1h-2zm-392 1h1v1h-1zm23 0h1v1h-1zm16 0h1v1h-1zm-31 1h1v1h-1zm28 0h2v1h-2zm-32 1h1v1h-1zm-4 1h1v1h-1zm27 0h1v1h-1zm262 28h1v1h-1zm14 4h1v1h-1zm-12 4h1v1h-1zm16 2h1v1h-1zm-11 1h1v1h-1zm38 7h1v1h-1zm8 1h1v1h-1zm22 1h1v1h-1zm-26 1h1v1h-1zm104 0h1v1h-1zm-449 1h1v1h-1zm433 0h1v1h-1zm-33 1h1v1h-1zm-379 1h1v1h-1zm-4 1h1v1h-1zm50 0h1v1h-1zm23 0h1v1h-1zm-18 2h1v1h-1zm-20 1h2v1h-2zm4 2h1v1h-1zm241 51h1v1h-1zm14 13h1v1h-1zm-2 3h1v1h-1zm-1 2h1v1h-1zm28 2h1v1h-1zm37 1h1v1h-1zm-382 1h1v1h-1zm2 0h1v1h-1zm125 0h1v1h-1zm238 1h1v1h-1zm9 0h1v1h-1zm18 1h1v1h-1zm56 0h1v1h-1zm-46 1h1v1h-1zm31 0h1v1h-1zm18 0h1v1h-1zm11 0h1v1h-1zm-454 1h1v1h-1zm87 0h1v1h-1zm26 0h1v1h-1zm290 0h1v1h-1zm-384 1h1v1h-1zm79 0h1v1h-1zm34 0h1v1h-1zm236 0h1v1h-1zm15 0h1v1h-1zm-360 1h1v1h-1zm76 0h1v1h-1zm281 0h1v1h-1zm2 0h1v1h-1zm33 0h1v1h-1zm48 0h1v1h-1zm-459 1h1v1h-1zm32 0h1v1h-1zm32 0h1v1h-1zm-55 1h1v1h-1zm55 0h2v1h-2zm6 0h1v1h-1zm323 0h1v1h-1zm-41 1h1v1h-1zm-295 1h1v1h-1zm338 0h1v1h-1zm-345 1h1v1h-1zm248 1h1v1h-1zm-3 30h1v1h-1zm15 2h1v1h-1zm-12 1h1v1h-1zm-1 2h1v1h-1zm15 1h1v1h-1zm-14 2h1v1h-1zm23 7h1v1h-1zm20 0h1v1h-1zm2 0h1v1h-1zm2 0h1v1h-1zm-357 1h1v1h-1zm333 1h1v1h-1zm107 0h1v1h-1zm-104 1h1v1h-1zm12 0h1v1h-1zm37 0h2v1h-2zm-30 1h1v1h-1zm33 0h1v1h-1zm28 0h1v1h-1zm-295 1h1v1h-1zm322 0h1v1h-1zm13 0h1v1h-1zm-452 1h1v1h-1zm2 0h1v1h-1zm113 0h1v1h-1zm338 0h1v1h-1zm-411 1h1v1h-1zm317 0h1v1h-1zm19 0h1v1h-1zm50 0h1v1h-1zm26 0h1v1h-1zm-367 1h1v1h-1zm300 0h1v1h-1zm74 0h1v1h-1zm-444 1h1v1h-1zm29 0h1v1h-1zm64 0h1v1h-1zm323 0h1v1h-1zm-409 1h1v1h-1zm14 0h1v1h-1zm356 0h1v1h-1zm-364 1h1v1h-1zm428 0h1v1h-1zm-429 1h1v1h-1zm4 0h1v1h-1zm372 0h1v1h-1zm-336 1h1v1h-1zm-4 1h1v1h-1zm256 88h1v1h-1zm3 3h1v1h-1zm3 2h1v1h-1zm11 2h1v1h-1zm41 0h1v1h-1zm2 1h1v1h-1zm62 0h1v1h-1zm-319 1h1v1h-1zm3 0h1v1h-1zm298 0h1v1h-1zm-91 1h1v1h-1zm101 0h1v1h-1zm3 0h1v1h-1zm-335 1h1v1h-1zm301 0h1v1h-1zm-391 1h1v1h-1zm87 0h1v1h-1zm273 0h1v1h-1zm-370 1h1v1h-1zm47 1h1v1h-1zm24 0h1v1h-1zm23 0h1v1h-1zm-30 1h2v1h-2zm3 0h1v1h-1zm35 0h1v1h-1zm42 4h1v1h-1z"/><path fill="#ffef00" d="m305 100h1v1h-1zm0 2h1v1h-1zm2 0h1v1h-1zm1 3h1v1h-1zm3 0h1v1h-1zm13 0h1v1h-1zm-1 3h1v1h-1zm13 0h1v1h-1zm35 2h1v1h-1zm-260 2h1v1h-1zm39 0h1v1h-1zm207 0h1v1h-1zm44 0h1v1h-1zm-394 1h1v1h-1zm95 0h1v1h-1zm246 1h1v1h-1zm-314 1h1v1h-1zm382 0h1v1h-1zm-356 1h1v1h-1zm62 1h1v1h-1zm-82 1h1v1h-1zm41 0h1v1h-1zm-28 1h1v1h-1zm10 0h1v1h-1zm-16 1h1v1h-1zm20 1h1v1h-1zm3 0h1v1h-1zm237 32h1v1h-1zm13 2h1v1h-1zm-11 2h1v1h-1zm11 1h1v1h-1zm5 2h1v1h-1zm5 3h1v1h-1zm55 0h1v1h-1zm-53 1h1v1h-1zm4 0h1v1h-1zm0 1h1v1h-1zm53 0h1v1h-1zm-258 2h1v1h-1zm220 0h1v1h-1zm50 1h1v1h-1zm-393 1h1v1h-1zm1 1h1v1h-1zm427 0h1v1h-1zm-321 1h1v1h-1zm353 0h1v1h-1zm11 0h1v1h-1zm-469 1h1v1h-1zm30 0h1v1h-1zm382 0h1v1h-1zm-372 1h1v1h-1zm48 0h1v1h-1zm-43 2h1v1h-1zm352 0h1v1h-1zm-342 2h1v1h-1zm253 46h1v1h-1zm6 20h1v1h-1zm-10 3h1v1h-1zm71 1h1v1h-1zm16 3h1v1h-1zm-399 1h1v1h-1zm350 0h1v1h-1zm8 0h1v1h-1zm-8 1h1v1h-1zm38 0h1v1h-1zm-265 1h1v1h-1zm320 0h1v1h-1zm-58 1h1v1h-1zm8 0h1v1h-1zm44 0h1v1h-1zm-405 1h1v1h-1zm394 0h1v1h-1zm-416 1h1v1h-1zm25 0h1v1h-1zm434 0h1v1h-1zm-382 1h1v1h-1zm310 0h1v1h-1zm28 0h1v1h-1zm-380 1h1v1h-1zm6 0h1v1h-1zm57 0h1v1h-1zm-55 1h1v1h-1zm38 0h1v1h-1zm273 0h1v1h-1zm-347 1h1v1h-1zm5 0h1v1h-1zm30 0h1v1h-1zm335 0h1v1h-1zm-370 1h1v1h-1zm295 38h1v1h-1zm4 2h1v1h-1zm5 0h1v1h-1zm-4 2h1v1h-1zm14 5h1v1h-1zm23 3h1v1h-1zm12 1h1v1h-1zm17 0h1v1h-1zm46 0h1v1h-1zm-80 1h1v1h-1zm48 0h1v1h-1zm19 0h1v1h-1zm3 1h1v1h-1zm-307 1h1v1h-1zm7 0h1v1h-1zm19 0h1v1h-1zm225 0h1v1h-1zm-340 1h1v1h-1zm118 0h1v1h-1zm291 0h1v1h-1zm16 0h1v1h-1zm-361 1h1v1h-1zm286 0h2v1h-2zm29 0h1v1h-1zm15 0h2v1h-2zm58 0h1v1h-1zm-372 1h2v1h-2zm358 0h1v1h-1zm-453 1h1v1h-1zm2 0h1v1h-1zm7 0h1v1h-1zm37 1h1v1h-1zm3 2h1v1h-1zm348 2h1v1h-1zm-96 74h1v1h-1zm4 5h1v1h-1zm0 3h1v1h-1zm12 6h1v1h-1zm-2 1h1v1h-1zm1 2h1v1h-1zm25 0h1v1h-1zm5 0h1v1h-1zm7 0h1v1h-1zm-360 1h1v1h-1zm40 1h1v1h-1zm299 0h1v1h-1zm59 0h1v1h-1zm-57 1h1v1h-1zm-337 1h1v1h-1zm409 0h1v1h-1zm36 0h1v1h-1zm11 0h1v1h-1zm-336 1h1v1h-1zm223 0h1v1h-1zm66 0h1v1h-1zm25 0h1v1h-1zm8 0h1v1h-1zm-401 1h1v1h-1zm48 0h1v1h-1zm18 0h1v1h-1zm36 0h1v1h-1zm262 0h1v1h-1zm10 0h1v1h-1zm55 0h1v1h-1zm-467 1h1v1h-1zm40 0h1v1h-1zm38 0h1v1h-1zm26 0h1v1h-1zm283 0h1v1h-1zm22 0h1v1h-1zm6 0h1v1h-1zm38 0h1v1h-1zm3 0h1v1h-1zm-459 1h1v1h-1zm392 0h1v1h-1zm-345 1h1v1h-1zm16 1h1v1h-1zm17 0h1v1h-1zm-60 1h1v1h-1zm124 0h1v1h-1zm-86 3h1v1h-1z"/><path fill="#ffdf00" d="m324 106h1v1h-1zm-176 5h1v1h-1zm223 0h1v1h-1zm-368 2h1v1h-1zm114 0h1v1h-1zm-82 1h1v1h-1zm4 1h2v1h-2zm128 0h1v1h-1zm197 0h1v1h-1zm-302 1h1v1h-1zm-18 1h1v1h-1zm48 0h1v1h-1zm72 0h1v1h-1zm-146 1h1v1h-1zm2 2h1v1h-1zm304 40h1v1h-1zm4 1h1v1h-1zm1 1h1v1h-1zm59 2h1v1h-1zm-385 2h1v1h-1zm335 0h2v1h-2zm14 2h1v1h-1zm7 0h1v1h-1zm34 0h1v1h-1zm53 0h1v1h-1zm-342 2h1v1h-1zm294 0h1v1h-1zm17 0h1v1h-1zm-51 1h1v1h-1zm66 0h1v1h-1zm-394 1h1v1h-1zm53 0h1v1h-1zm4 0h1v1h-1zm5 0h1v1h-1zm-37 3h1v1h-1zm7 1h1v1h-1zm239 55h1v1h-1zm15 3h1v1h-1zm-15 5h2v1h-2zm15 3h1v1h-1zm-1 2h1v1h-1zm13 6h1v1h-1zm-203 1h1v1h-1zm231 0h1v1h-1zm5 0h1v1h-1zm-226 1h1v1h-1zm247 0h1v1h-1zm-252 1h1v1h-1zm253 0h1v1h-1zm26 0h1v1h-1zm-293 1h1v1h-1zm228 0h1v1h-1zm38 0h1v1h-1zm69 0h1v1h-1zm4 0h1v1h-1zm-452 2h1v1h-1zm24 0h1v1h-1zm387 0h1v1h-1zm6 0h1v1h-1zm40 0h1v1h-1zm-440 1h2v1h-2zm4 0h1v1h-1zm14 0h1v1h-1zm47 0h1v1h-1zm15 0h1v1h-1zm10 0h1v1h-1zm277 0h1v1h-1zm84 0h1v1h-1zm-459 1h1v1h-1zm62 0h1v1h-1zm2 0h1v1h-1zm346 0h1v1h-1zm-403 1h1v1h-1zm29 0h1v1h-1zm35 0h1v1h-1zm-14 1h1v1h-1zm-11 2h1v1h-1zm6 0h1v1h-1zm241 2h1v1h-1zm-2 27h1v1h-1zm9 9h1v1h-1zm-2 2h1v1h-1zm0 4h1v1h-1zm10 0h1v1h-1zm3 2h1v1h-1zm-196 2h1v1h-1zm-5 1h1v1h-1zm233 0h1v1h-1zm50 1h1v1h-1zm28 0h1v1h-1zm-48 1h1v1h-1zm-25 1h1v1h-1zm27 0h1v1h-1zm62 0h1v1h-1zm6 0h1v1h-1zm13 0h1v1h-1zm-90 1h1v1h-1zm9 0h1v1h-1zm4 0h1v1h-1zm28 0h1v1h-1zm3 0h1v1h-1zm-378 1h1v1h-1zm54 0h1v1h-1zm326 0h1v1h-1zm15 0h1v1h-1zm-428 1h2v1h-2zm35 0h1v1h-1zm35 0h1v1h-1zm15 0h1v1h-1zm11 0h1v1h-1zm32 0h1v1h-1zm252 0h1v1h-1zm35 0h1v1h-1zm44 0h1v1h-1zm-436 1h1v1h-1zm69 0h1v1h-1zm-22 1h1v1h-1zm-76 1h1v1h-1zm61 2h1v1h-1zm-13 2h1v1h-1zm349 0h1v1h-1zm-98 76h1v1h-1zm8 5h1v1h-1zm7 4h1v1h-1zm60 5h1v1h-1zm-46 2h1v1h-1zm22 0h1v1h-1zm-239 1h1v1h-1zm10 0h1v1h-1zm228 0h1v1h-1zm-356 1h1v1h-1zm116 0h1v1h-1zm229 0h1v1h-1zm-211 1h1v1h-1zm203 0h1v1h-1zm99 0h1v1h-1zm3 0h1v1h-1zm10 0h1v1h-1zm-414 1h1v1h-1zm5 0h1v1h-1zm351 0h1v1h-1zm20 0h1v1h-1zm-365 1h1v1h-1zm66 0h1v1h-1zm231 0h1v1h-1zm-245 1h1v1h-1zm5 0h1v1h-1zm302 0h1v1h-1zm3 0h1v1h-1zm-386 1h1v1h-1zm28 0h1v1h-1zm26 0h1v1h-1zm4 0h1v1h-1zm371 0h1v1h-1zm22 0h1v1h-1zm-464 1h1v1h-1zm62 0h2v1h-2zm7 0h1v1h-1zm12 0h2v1h-2zm5 0h1v1h-1zm13 0h1v1h-1zm39 0h1v1h-1zm-67 1h1v1h-1zm-71 1h1v1h-1zm57 0h1v1h-1z"/><path fill="#ffcf00" d="m299 100h1v1h-1zm0 2h1v1h-1zm4 2h1v1h-1zm-297 9h1v1h-1zm163 1h1v1h-1zm-128 1h1v1h-1zm111 1h1v1h-1zm15 0h1v1h-1zm-82 1h1v1h-1zm-71 1h1v1h-1zm34 0h1v1h-1zm34 0h1v1h-1zm-35 1h1v1h-1zm18 0h1v1h-1zm2 0h1v1h-1zm11 0h1v1h-1zm16 1h1v1h-1zm226 33h1v1h-1zm0 1h1v1h-1zm67 12h1v1h-1zm-381 1h1v1h-1zm339 0h1v1h-1zm28 1h1v1h-1zm-366 1h1v1h-1zm121 0h1v1h-1zm228 0h1v1h-1zm38 0h1v1h-1zm-281 2h1v1h-1zm-21 1h1v1h-1zm273 0h1v1h-1zm40 1h1v1h-1zm-328 2h1v1h-1zm6 0h1v1h-1zm323 0h1v1h-1zm-335 1h1v1h-1zm245 43h1v1h-1zm9 23h1v1h-1zm-5 3h1v1h-1zm-185 4h1v1h-1zm196 0h1v1h-1zm39 0h1v1h-1zm-243 1h1v1h-1zm210 0h1v1h-1zm21 0h1v1h-1zm-229 1h1v1h-1zm272 0h1v1h-1zm-64 1h1v1h-1zm31 0h1v1h-1zm76 0h1v1h-1zm-105 1h1v1h-1zm41 0h1v1h-1zm19 0h1v1h-1zm23 0h1v1h-1zm-59 2h1v1h-1zm41 0h1v1h-1zm-373 1h1v1h-1zm15 0h1v1h-1zm54 0h1v1h-1zm369 0h1v1h-1zm-459 1h1v1h-1zm24 0h1v1h-1zm83 0h1v1h-1zm-100 1h1v1h-1zm12 0h1v1h-1zm76 0h1v1h-1zm259 0h1v1h-1zm60 0h1v1h-1zm2 0h1v1h-1zm-410 1h1v1h-1zm35 0h1v1h-1zm49 0h1v1h-1zm278 0h1v1h-1zm-357 1h1v1h-1zm36 0h1v1h-1zm-34 1h1v1h-1zm34 0h1v1h-1zm2 2h1v1h-1zm256 39h1v1h-1zm-3 1h1v1h-1zm10 0h1v1h-1zm3 1h1v1h-1zm1 1h1v1h-1zm14 4h1v1h-1zm-4 1h1v1h-1zm-211 1h1v1h-1zm10 0h1v1h-1zm220 0h1v1h-1zm-351 1h1v1h-1zm377 0h1v1h-1zm3 1h1v1h-1zm62 0h1v1h-1zm3 0h1v1h-1zm-325 1h1v1h-1zm272 0h1v1h-1zm19 0h1v1h-1zm-410 1h1v1h-1zm424 0h1v1h-1zm-388 1h1v1h-1zm65 0h1v1h-1zm2 0h1v1h-1zm357 0h1v1h-1zm8 0h1v1h-1zm-453 1h1v1h-1zm10 0h1v1h-1zm70 0h1v1h-1zm19 0h1v1h-1zm24 0h1v1h-1zm323 0h1v1h-1zm-356 1h1v1h-1zm294 0h1v1h-1zm-386 1h1v1h-1zm3 0h1v1h-1zm3 0h1v1h-1zm416 0h1v1h-1zm-378 3h1v1h-1zm248 71h1v1h-1zm10 15h1v1h-1zm20 7h1v1h-1zm-340 2h1v1h-1zm337 0h1v1h-1zm18 0h1v1h-1zm91 1h1v1h-1zm-408 1h1v1h-1zm343 0h1v1h-1zm-341 1h1v1h-1zm94 0h1v1h-1zm214 0h1v1h-1zm36 0h1v1h-1zm17 0h1v1h-1zm7 1h1v1h-1zm11 0h1v1h-1zm22 0h1v1h-1zm32 0h1v1h-1zm-441 1h1v1h-1zm60 0h1v1h-1zm20 0h1v1h-1zm310 0h1v1h-1zm-343 1h1v1h-1zm11 0h1v1h-1zm14 0h1v1h-1zm6 0h1v1h-1zm311 0h1v1h-1zm-333 1h1v1h-1zm-31 2h1v1h-1zm17 0h1v1h-1zm-4 1h1v1h-1z"/><path fill="#ffbf00" d="m317 106h1v1h-1zm5 1h1v1h-1zm-291 5h1v1h-1zm72 0h1v1h-1zm-73 1h1v1h-1zm-26 1h1v1h-1zm109 0h1v1h-1zm5 0h1v1h-1zm33 0h1v1h-1zm290 0h1v1h-1zm-343 1h1v1h-1zm19 0h1v1h-1zm282 0h1v1h-1zm39 0h1v1h-1zm-398 1h1v1h-1zm89 0h1v1h-1zm-69 1h1v1h-1zm4 0h1v1h-1zm32 0h1v1h-1zm-19 1h1v1h-1zm3 0h1v1h-1zm14 0h1v1h-1zm-28 1h1v1h-1zm-19 2h1v1h-1zm342 47h1v1h-1zm-266 2h1v1h-1zm276 0h1v1h-1zm-309 2h1v1h-1zm27 0h1v1h-1zm355 0h1v1h-1zm-460 1h1v1h-1zm396 0h1v1h-1zm-385 2h1v1h-1zm46 2h1v1h-1zm247 68h1v1h-1zm45 5h1v1h-1zm-28 1h1v1h-1zm6 0h1v1h-1zm-208 1h1v1h-1zm4 0h1v1h-1zm214 0h2v1h-2zm49 0h1v1h-1zm-60 1h1v1h-1zm74 0h1v1h-1zm-292 1h1v1h-1zm3 0h1v1h-1zm270 0h1v1h-1zm47 0h1v1h-1zm-41 1h1v1h-1zm44 0h1v1h-1zm-396 1h1v1h-1zm43 0h1v1h-1zm3 0h1v1h-1zm4 0h1v1h-1zm20 0h1v1h-1zm262 0h1v1h-1zm10 0h1v1h-1zm10 0h1v1h-1zm31 0h1v1h-1zm-344 1h2v1h-2zm334 0h1v1h-1zm10 0h1v1h-1zm-411 1h1v1h-1zm2 0h1v1h-1zm35 0h1v1h-1zm27 0h1v1h-1zm10 0h1v1h-1zm379 0h1v1h-1zm-400 2h1v1h-1zm-11 2h1v1h-1zm9 1h1v1h-1zm238 33h1v1h-1zm12 9h1v1h-1zm14 2h1v1h-1zm6 3h1v1h-1zm5 0h1v1h-1zm50 0h1v1h-1zm-264 1h1v1h-1zm202 0h1v1h-1zm11 0h1v1h-1zm78 0h1v1h-1zm-32 1h1v1h-1zm-8 1h1v1h-1zm29 0h1v1h-1zm29 0h1v1h-1zm-39 1h1v1h-1zm-23 1h1v1h-1zm39 0h1v1h-1zm54 0h1v1h-1zm-4 1h1v1h-1zm-6 1h1v1h-1zm-413 1h1v1h-1zm34 0h1v1h-1zm293 0h1v1h-1zm4 1h1v1h-1zm-296 1h1v1h-1zm-14 2h1v1h-1zm339 1h1v1h-1zm-347 1h1v1h-1zm251 81h1v1h-1zm8 4h1v1h-1zm17 7h1v1h-1zm111 0h1v1h-1zm-100 1h1v1h-1zm99 0h1v1h-1zm-66 1h1v1h-1zm3 0h1v1h-1zm-266 1h1v1h-1zm256 0h1v1h-1zm-367 1h1v1h-1zm117 0h1v1h-1zm313 0h1v1h-1zm-338 1h1v1h-1zm267 0h1v1h-1zm32 0h1v1h-1zm12 0h1v1h-1zm40 0h1v1h-1zm-431 1h1v1h-1zm30 0h1v1h-1zm371 0h1v1h-1zm45 0h1v1h-1zm2 0h1v1h-1zm-449 1h1v1h-1zm361 0h1v1h-1zm-362 1h1v1h-1zm96 0h1v1h-1zm295 0h1v1h-1zm-349 2h1v1h-1zm-3 1h1v1h-1zm96 1h1v1h-1z"/><path fill="#ffaf00" d="m312 102h1v1h-1zm12 5h1v1h-1zm16 3h1v1h-1zm-232 2h1v1h-1zm2 0h1v1h-1zm-9 1h1v1h-1zm14 0h1v1h-1zm252 1h1v1h-1zm-238 1h1v1h-1zm293 0h1v1h-1zm35 0h1v1h-1zm-429 1h1v1h-1zm51 0h1v1h-1zm5 0h1v1h-1zm14 0h1v1h-1zm379 0h1v1h-1zm-424 1h1v1h-1zm5 0h1v1h-1zm30 0h1v1h-1zm10 0h1v1h-1zm-80 2h1v1h-1zm25 0h1v1h-1zm12 0h1v1h-1zm30 0h1v1h-1zm220 29h1v1h-1zm2 6h1v1h-1zm13 3h1v1h-1zm2 0h1v1h-1zm3 2h1v1h-1zm-17 1h1v1h-1zm10 1h1v1h-1zm26 6h1v1h-1zm25 0h1v1h-1zm-29 1h1v1h-1zm37 0h1v1h-1zm18 0h1v1h-1zm-19 1h1v1h-1zm25 0h1v1h-1zm16 0h1v1h-1zm24 0h1v1h-1zm-77 1h1v1h-1zm75 0h1v1h-1zm-334 1h1v1h-1zm362 0h1v1h-1zm-147 57h2v1h-2zm-6 15h1v1h-1zm4 3h1v1h-1zm-1 1h1v1h-1zm-183 3h1v1h-1zm252 0h1v1h-1zm-50 1h1v1h-1zm49 0h1v1h-1zm-381 1h1v1h-1zm379 0h1v1h-1zm12 0h1v1h-1zm56 0h1v1h-1zm-446 1h1v1h-1zm336 0h1v1h-1zm33 0h1v1h-1zm39 0h1v1h-1zm29 0h1v1h-1zm34 0h1v1h-1zm-110 1h1v1h-1zm46 0h1v1h-1zm-17 1h1v1h-1zm76 0h1v1h-1zm-421 1h1v1h-1zm63 0h1v1h-1zm2 0h1v1h-1zm-103 1h1v1h-1zm3 0h1v1h-1zm87 0h1v1h-1zm8 0h1v1h-1zm32 0h1v1h-1zm263 0h1v1h-1zm-390 1h1v1h-1zm35 0h1v1h-1zm48 0h1v1h-1zm-8 1h1v1h-1zm317 0h1v1h-1zm-351 1h1v1h-1zm22 0h1v1h-1zm332 1h1v1h-1zm-3 1h1v1h-1zm-99 33h1v1h-1zm15 1h1v1h-1zm-13 1h1v1h-1zm15 5h1v1h-1zm-10 1h1v1h-1zm15 5h1v1h-1zm-330 2h1v1h-1zm132 0h1v1h-1zm-130 1h1v1h-1zm337 0h1v1h-1zm12 0h1v1h-1zm20 0h1v1h-1zm-10 1h1v1h-1zm-237 1h1v1h-1zm330 0h1v1h-1zm-106 1h1v1h-1zm94 0h1v1h-1zm15 0h1v1h-1zm-338 1h1v1h-1zm251 0h1v1h-1zm65 0h3v1h-3zm-406 2h1v1h-1zm370 0h1v1h-1zm74 0h1v1h-1zm-451 1h1v1h-1zm63 0h1v1h-1zm8 0h1v1h-1zm2 0h1v1h-1zm9 0h1v1h-1zm9 0h1v1h-1zm312 0h1v1h-1zm-399 1h1v1h-1zm59 0h1v1h-1zm9 0h1v1h-1zm371 0h1v1h-1zm-449 1h1v1h-1zm349 0h1v1h-1zm-299 3h1v1h-1zm0 1h1v1h-1zm256 87h1v1h-1zm17 3h1v1h-1zm1 3h1v1h-1zm49 1h1v1h-1zm-386 1h1v1h-1zm42 0h1v1h-1zm82 0h1v1h-1zm3 0h1v1h-1zm231 0h1v1h-1zm75 1h1v1h-1zm-431 1h1v1h-1zm141 0h1v1h-1zm231 0h1v1h-1zm22 0h1v1h-1zm70 0h1v1h-1zm-436 1h1v1h-1zm333 0h1v1h-1zm-357 1h1v1h-1zm22 0h1v1h-1zm83 0h1v1h-1zm364 0h1v1h-1zm-426 1h1v1h-1zm35 0h1v1h-1zm2 0h1v1h-1zm16 0h1v1h-1zm-76 1h1v1h-1zm42 0h1v1h-1zm-13 2h1v1h-1zm2 1h1v1h-1z"/><path fill="#ff9f00" d="m320 107h1v1h-1zm-178 2h1v1h-1zm2 1h1v1h-1zm-9 1h1v1h-1zm235 1h1v1h-1zm-337 1h1v1h-1zm139 0h1v1h-1zm175 0h1v1h-1zm42 0h1v1h-1zm-375 4h1v1h-1zm36 0h1v1h-1zm-26 2h1v1h-1zm281 33h1v1h-1zm2 0h1v1h-1zm15 4h1v1h-1zm-1 2h1v1h-1zm41 9h1v1h-1zm10 0h1v1h-1zm-23 1h1v1h-1zm96 0h1v1h-1zm-79 1h1v1h-1zm-334 3h1v1h-1zm373 0h1v1h-1zm22 0h1v1h-1zm-415 2h1v1h-1zm9 1h1v1h-1zm59 0h1v1h-1zm-12 2h1v1h-1zm254 56h1v1h-1zm1 2h1v1h-1zm-16 1h1v1h-1zm5 6h1v1h-1zm0 3h1v1h-1zm17 0h1v1h-1zm56 5h1v1h-1zm-42 1h1v1h-1zm59 0h1v1h-1zm11 0h1v1h-1zm-289 2h1v1h-1zm2 0h1v1h-1zm258 0h1v1h-1zm6 0h1v1h-1zm-50 1h1v1h-1zm6 0h1v1h-1zm3 0h1v1h-1zm3 0h1v1h-1zm44 0h1v1h-1zm-41 1h1v1h-1zm50 0h1v1h-1zm15 0h1v1h-1zm16 0h1v1h-1zm27 0h1v1h-1zm-365 1h1v1h-1zm16 0h1v1h-1zm2 0h1v1h-1zm309 0h1v1h-1zm-414 1h1v1h-1zm446 0h1v1h-1zm-430 1h1v1h-1zm57 0h1v1h-1zm8 0h1v1h-1zm297 0h1v1h-1zm-337 1h1v1h-1zm32 0h1v1h-1zm-29 1h1v1h-1zm18 0h1v1h-1zm-15 2h1v1h-1zm10 0h1v1h-1zm240 22h1v1h-1zm1 10h1v1h-1zm0 1h1v1h-1zm14 2h1v1h-1zm16 11h1v1h-1zm20 1h1v1h-1zm-359 2h2v1h-2zm358 0h1v1h-1zm11 0h1v1h-1zm-34 1h1v1h-1zm10 0h1v1h-1zm22 0h1v1h-1zm2 0h1v1h-1zm14 0h1v1h-1zm-379 2h1v1h-1zm2 0h1v1h-1zm377 0h1v1h-1zm16 0h1v1h-1zm-391 1h1v1h-1zm388 0h1v1h-1zm27 0h1v1h-1zm-316 1h1v1h-1zm269 0h1v1h-1zm-338 1h1v1h-1zm4 0h1v1h-1zm323 0h1v1h-1zm14 0h1v1h-1zm91 0h1v1h-1zm-460 1h1v1h-1zm20 0h1v1h-1zm20 0h1v1h-1zm39 0h1v1h-1zm275 0h1v1h-1zm-286 1h1v1h-1zm-18 4h1v1h-1zm263 81h1v1h-1zm2 2h1v1h-1zm0 6h1v1h-1zm33 4h1v1h-1zm-356 2h1v1h-1zm39 1h1v1h-1zm298 0h1v1h-1zm11 0h1v1h-1zm51 0h1v1h-1zm-263 1h1v1h-1zm297 0h1v1h-1zm38 0h1v1h-1zm-424 1h1v1h-1zm90 0h1v1h-1zm-55 1h1v1h-1zm345 0h1v1h-1zm-418 1h1v1h-1zm74 0h1v1h-1zm20 0h1v1h-1zm351 0h1v1h-1zm-435 1h1v1h-1zm56 0h1v1h-1zm26 0h1v1h-1zm307 0h1v1h-1zm-397 1h1v1h-1zm58 1h1v1h-1z"/><path fill="#ff8f00" d="m300 102h1v1h-1zm10 4h1v1h-1zm9 1h1v1h-1zm7 3h1v1h-1zm35 0h1v1h-1zm-224 1h1v1h-1zm-30 1h1v1h-1zm-75 1h1v1h-1zm85 1h1v1h-1zm287 1h1v1h-1zm-397 1h1v1h-1zm120 0h1v1h-1zm-72 1h1v1h-1zm70 0h1v1h-1zm-113 1h1v1h-1zm4 0h1v1h-1zm63 0h1v1h-1zm-30 2h1v1h-1zm21 0h1v1h-1zm236 31h1v1h-1zm-1 4h1v1h-1zm7 4h1v1h-1zm9 0h1v1h-1zm64 8h1v1h-1zm-379 1h2v1h-2zm342 0h1v1h-1zm10 0h1v1h-1zm34 0h1v1h-1zm56 1h1v1h-1zm-341 1h1v1h-1zm305 0h1v1h-1zm37 0h1v1h-1zm9 0h1v1h-1zm-416 1h1v1h-1zm355 0h1v1h-1zm6 0h1v1h-1zm62 0h1v1h-1zm9 0h1v1h-1zm-446 1h1v1h-1zm47 1h1v1h-1zm348 0h1v1h-1zm-345 1h1v1h-1zm-11 3h1v1h-1zm241 60h1v1h-1zm19 9h1v1h-1zm3 0h1v1h-1zm2 3h1v1h-1zm-330 1h1v1h-1zm360 0h1v1h-1zm-22 1h1v1h-1zm46 1h1v1h-1zm-20 1h1v1h-1zm19 0h1v1h-1zm69 0h1v1h-1zm-7 1h1v1h-1zm3 0h1v1h-1zm6 0h1v1h-1zm-17 1h1v1h-1zm11 0h1v1h-1zm18 0h1v1h-1zm-39 1h1v1h-1zm-380 1h1v1h-1zm26 1h1v1h-1zm6 0h1v1h-1zm-9 1h1v1h-1zm19 0h1v1h-1zm-26 4h1v1h-1zm246 39h1v1h-1zm8 0h1v1h-1zm7 1h1v1h-1zm-12 1h1v1h-1zm15 2h1v1h-1zm9 4h1v1h-1zm22 0h1v1h-1zm-224 1h2v1h-2zm259 1h1v1h-1zm58 0h1v1h-1zm-449 1h1v1h-1zm366 0h1v1h-1zm22 0h1v1h-1zm22 0h1v1h-1zm0 1h1v1h-1zm-368 1h1v1h-1zm307 0h1v1h-1zm85 0h1v1h-1zm7 0h1v1h-1zm29 0h1v1h-1zm-361 1h1v1h-1zm290 0h1v1h-1zm-356 1h1v1h-1zm97 0h1v1h-1zm335 0h1v1h-1zm-470 1h1v1h-1zm30 0h1v1h-1zm15 0h1v1h-1zm27 0h1v1h-1zm297 1h1v1h-1zm46 0h1v1h-1zm-113 80h1v1h-1zm4 5h1v1h-1zm-1 1h1v1h-1zm2 2h1v1h-1zm5 0h1v1h-1zm-3 1h1v1h-1zm5 2h1v1h-1zm2 0h1v1h-1zm9 5h1v1h-1zm26 0h1v1h-1zm-25 1h1v1h-1zm-206 1h1v1h-1zm-4 1h1v1h-1zm265 1h1v1h-1zm-270 1h1v1h-1zm17 0h1v1h-1zm6 0h1v1h-1zm5 0h1v1h-1zm232 0h1v1h-1zm71 0h1v1h-1zm-331 1h1v1h-1zm18 0h1v1h-1zm262 0h1v1h-1zm26 0h1v1h-1zm37 0h1v1h-1zm13 0h1v1h-1zm-58 1h1v1h-1zm-312 1h1v1h-1zm6 0h1v1h-1zm299 0h1v1h-1zm61 0h1v1h-1zm-442 1h1v1h-1zm51 0h1v1h-1zm-69 1h1v1h-1zm51 4h1v1h-1z"/><path fill="#ff8000" d="m139 110h1v1h-1zm-3 1h1v1h-1zm-28 2h1v1h-1zm4 0h1v1h-1zm237 0h1v1h-1zm100 1h1v1h-1zm-422 1h1v1h-1zm5 0h1v1h-1zm-5 1h1v1h-1zm15 0h1v1h-1zm35 1h1v1h-1zm12 0h1v1h-1zm-6 1h1v1h-1zm-41 1h1v1h-1zm263 30h1v1h-1zm56 18h1v1h-1zm23 0h1v1h-1zm-17 2h1v1h-1zm28 0h1v1h-1zm6 1h1v1h-1zm12 0h1v1h-1zm27 0h1v1h-1zm-41 1h1v1h-1zm20 0h1v1h-1zm-371 1h2v1h-2zm417 0h1v1h-1zm-369 1h1v1h-1zm-21 1h1v1h-1zm-57 1h1v1h-1zm54 1h1v1h-1zm352 0h1v1h-1zm-103 53h1v1h-1zm-14 1h1v1h-1zm1 10h1v1h-1zm21 7h1v1h-1zm58 5h1v1h-1zm64 1h1v1h-1zm-330 1h1v1h-1zm301 0h1v1h-1zm-46 1h1v1h-1zm-344 1h1v1h-1zm344 0h1v1h-1zm34 0h2v1h-2zm9 0h1v1h-1zm-386 1h1v1h-1zm78 0h1v1h-1zm314 0h1v1h-1zm-405 2h1v1h-1zm62 0h1v1h-1zm-2 1h1v1h-1zm-15 2h1v1h-1zm243 32h1v1h-1zm0 3h1v1h-1zm13 3h1v1h-1zm4 1h1v1h-1zm-13 1h1v1h-1zm2 0h1v1h-1zm6 2h1v1h-1zm8 3h1v1h-1zm4 4h1v1h-1zm3 0h1v1h-1zm27 0h1v1h-1zm-361 1h1v1h-1zm122 1h1v1h-1zm224 1h1v1h-1zm34 0h1v1h-1zm4 0h1v1h-1zm66 0h1v1h-1zm5 0h1v1h-1zm-449 1h1v1h-1zm465 0h1v1h-1zm-363 1h1v1h-1zm3 0h1v1h-1zm252 0h1v1h-1zm35 0h1v1h-1zm60 0h1v1h-1zm18 0h1v1h-1zm2 0h1v1h-1zm-453 1h1v1h-1zm65 0h1v1h-1zm12 0h1v1h-1zm-83 1h1v1h-1zm71 0h1v1h-1zm10 0h1v1h-1zm265 0h1v1h-1zm-289 1h1v1h-1zm-64 1h1v1h-1zm54 3h1v1h-1zm243 76h1v1h-1zm13 8h1v1h-1zm9 6h1v1h-1zm0 1h1v1h-1zm40 2h1v1h-1zm-2 1h1v1h-1zm-247 1h1v1h-1zm9 0h1v1h-1zm253 1h1v1h-1zm-249 1h1v1h-1zm4 0h1v1h-1zm269 0h1v1h-1zm-288 1h1v1h-1zm321 0h1v1h-1zm11 0h1v1h-1zm-419 1h1v1h-1zm364 0h1v1h-1zm3 0h1v1h-1zm9 0h1v1h-1zm-329 1h1v1h-1zm69 0h1v1h-1zm-66 1h1v1h-1zm24 0h1v1h-1zm-86 1h2v1h-2zm3 0h1v1h-1zm51 0h1v1h-1zm-11 2h1v1h-1zm6 0h1v1h-1zm-4 1h1v1h-1z"/><path fill="#ff7000" d="m138 110h1v1h-1zm7 0h2v1h-2zm192 0h1v1h-1zm-199 1h1v1h-1zm7 0h1v1h-1zm-9 1h1v1h-1zm278 0h1v1h-1zm-304 1h1v1h-1zm21 0h1v1h-1zm255 2h1v1h-1zm22 0h1v1h-1zm-285 1h1v1h-1zm-84 1h1v1h-1zm12 0h1v1h-1zm30 0h1v1h-1zm-40 1h1v1h-1zm8 0h1v1h-1zm35 0h1v1h-1zm-69 1h1v1h-1zm59 0h1v1h-1zm-55 1h1v1h-1zm286 27h1v1h-1zm39 19h1v1h-1zm-341 1h1v1h-1zm2 0h1v1h-1zm345 2h1v1h-1zm13 0h1v1h-1zm14 0h1v1h-1zm74 0h1v1h-1zm-327 1h1v1h-1zm242 0h1v1h-1zm-247 1h1v1h-1zm311 1h1v1h-1zm-419 1h1v1h-1zm413 1h1v1h-1zm-368 1h1v1h-1zm257 69h1v1h-1zm82 7h1v1h-1zm-48 1h1v1h-1zm12 0h1v1h-1zm42 0h1v1h-1zm-46 1h1v1h-1zm20 0h1v1h-1zm92 2h1v1h-1zm2 0h1v1h-1zm-440 1h2v1h-2zm65 0h1v1h-1zm366 0h1v1h-1zm13 0h1v1h-1zm-438 1h2v1h-2zm425 0h1v1h-1zm-436 1h1v1h-1zm403 0h1v1h-1zm-354 1h1v1h-1zm249 41h1v1h-1zm-10 1h1v1h-1zm16 5h1v1h-1zm3 1h1v1h-1zm8 3h1v1h-1zm3 0h1v1h-1zm27 0h1v1h-1zm-239 1h1v1h-1zm212 0h1v1h-1zm2 2h1v1h-1zm5 0h1v1h-1zm41 1h1v1h-1zm5 0h1v1h-1zm3 0h1v1h-1zm81 0h1v1h-1zm-434 1h1v1h-1zm358 0h1v1h-1zm13 0h1v1h-1zm-300 1h1v1h-1zm259 0h1v1h-1zm62 0h1v1h-1zm-428 1h1v1h-1zm27 0h1v1h-1zm8 0h1v1h-1zm74 0h1v1h-1zm353 0h1v1h-1zm-440 1h1v1h-1zm6 0h1v1h-1zm37 1h2v1h-2zm393 0h1v1h-1zm-455 1h1v1h-1zm2 0h1v1h-1zm58 0h1v1h-1zm-15 2h1v1h-1zm8 1h1v1h-1zm4 0h1v1h-1zm241 74h1v1h-1zm17 14h1v1h-1zm55 6h1v1h-1zm64 0h1v1h-1zm-85 1h1v1h-1zm30 0h1v1h-1zm-271 1h1v1h-1zm19 0h1v1h-1zm206 0h1v1h-1zm31 0h1v1h-1zm8 0h1v1h-1zm4 0h1v1h-1zm16 0h1v1h-1zm46 0h1v1h-1zm-303 2h1v1h-1zm-141 1h1v1h-1zm30 0h1v1h-1zm16 0h1v1h-1zm98 0h1v1h-1zm274 0h1v1h-1zm-373 1h1v1h-1zm65 0h1v1h-1zm346 0h1v1h-1zm-405 2h1v1h-1zm20 0h1v1h-1zm-4 1h1v1h-1z"/><path fill="#ff6000" d="m313 104h1v1h-1zm-14 1h1v1h-1zm33 4h1v1h-1zm-2 1h1v1h-1zm-215 4h1v1h-1zm-89 1h1v1h-1zm142 0h1v1h-1zm-131 1h1v1h-1zm-25 1h1v1h-1zm47 0h1v1h-1zm23 0h1v1h-1zm15 0h1v1h-1zm-41 1h1v1h-1zm40 0h1v1h-1zm-47 1h1v1h-1zm18 1h1v1h-1zm250 41h1v1h-1zm24 5h1v1h-1zm5 0h1v1h-1zm40 1h1v1h-1zm-257 2h1v1h-1zm265 1h1v1h-1zm-292 1h1v1h-1zm277 0h1v1h-1zm23 0h1v1h-1zm-305 1h1v1h-1zm302 0h1v1h-1zm-375 1h1v1h-1zm60 1h1v1h-1zm239 60h1v1h-1zm-10 9h1v1h-1zm12 0h1v1h-1zm-7 2h1v1h-1zm-2 1h1v1h-1zm13 0h1v1h-1zm8 5h1v1h-1zm8 0h1v1h-1zm17 1h1v1h-1zm23 0h1v1h-1zm-34 2h1v1h-1zm38 0h1v1h-1zm13 0h1v1h-1zm30 1h1v1h-1zm40 1h1v1h-1zm-376 1h1v1h-1zm333 0h1v1h-1zm-403 1h1v1h-1zm52 0h1v1h-1zm-54 1h1v1h-1zm52 0h1v1h-1zm332 6h1v1h-1zm-100 18h1v1h-1zm5 17h1v1h-1zm4 5h1v1h-1zm3 1h1v1h-1zm37 3h1v1h-1zm3 0h1v1h-1zm-19 1h1v1h-1zm107 0h1v1h-1zm1 1h1v1h-1zm-324 1h1v1h-1zm316 0h1v1h-1zm11 0h1v1h-1zm-99 1h1v1h-1zm39 1h1v1h-1zm61 0h1v1h-1zm-27 1h1v1h-1zm30 0h1v1h-1zm-342 1h1v1h-1zm282 0h2v1h-2zm24 0h1v1h-1zm4 0h1v1h-1zm14 0h1v1h-1zm19 0h1v1h-1zm-345 1h1v1h-1zm5 0h1v1h-1zm308 0h1v1h-1zm43 0h1v1h-1zm-89 1h1v1h-1zm-354 1h1v1h-1zm11 0h1v1h-1zm17 0h1v1h-1zm18 2h1v1h-1zm-13 2h1v1h-1zm7 1h1v1h-1zm253 82h1v1h-1zm5 2h1v1h-1zm1 1h1v1h-1zm2 3h1v1h-1zm9 3h1v1h-1zm28 1h1v1h-1zm-240 1h1v1h-1zm262 0h1v1h-1zm-3 1h1v1h-1zm-237 2h1v1h-1zm285 0h1v1h-1zm33 0h1v1h-1zm-346 1h1v1h-1zm312 0h1v1h-1zm41 0h1v1h-1zm-357 1h1v1h-1zm-102 2h1v1h-1zm22 0h1v1h-1zm60 0h1v1h-1zm-79 1h1v1h-1zm3 0h1v1h-1zm41 1h1v1h-1zm9 0h1v1h-1zm85 1h1v1h-1z"/><path fill="#ff5000" d="m314 97h1v1h-1zm-6 6h1v1h-1zm15 4h1v1h-1zm14 2h1v1h-1zm35 2h1v1h-1zm-369 1h1v1h-1zm26 3h1v1h-1zm92 1h1v1h-1zm7 0h1v1h-1zm-103 1h1v1h-1zm36 0h1v1h-1zm-9 1h1v1h-1zm7 0h1v1h-1zm15 0h1v1h-1zm234 39h1v1h-1zm15 1h1v1h-1zm-8 5h1v1h-1zm76 2h1v1h-1zm-283 5h1v1h-1zm296 0h1v1h-1zm-359 1h1v1h-1zm73 0h1v1h-1zm-17 1h1v1h-1zm222 64h1v1h-1zm0 1h1v1h-1zm-11 6h1v1h-1zm15 1h1v1h-1zm2 5h1v1h-1zm32 0h1v1h-1zm-32 1h1v1h-1zm44 2h1v1h-1zm-367 2h1v1h-1zm410 0h1v1h-1zm20 0h1v1h-1zm28 1h1v1h-1zm10 0h1v1h-1zm5 0h1v1h-1zm-82 1h1v1h-1zm-309 1h1v1h-1zm21 0h1v1h-1zm4 0h1v1h-1zm251 0h1v1h-1zm-290 1h1v1h-1zm5 1h1v1h-1zm-7 2h1v1h-1zm335 0h1v1h-1zm-344 3h1v1h-1zm2 0h1v1h-1zm243 22h1v1h-1zm19 17h1v1h-1zm0 3h1v1h-1zm27 4h1v1h-1zm14 1h1v1h-1zm-17 1h1v1h-1zm12 0h1v1h-1zm-27 1h1v1h-1zm49 0h1v1h-1zm15 0h1v1h-1zm56 0h1v1h-1zm-25 1h1v1h-1zm-387 1h1v1h-1zm369 0h1v1h-1zm-39 1h1v1h-1zm54 0h1v1h-1zm-382 1h1v1h-1zm3 0h1v1h-1zm58 0h1v1h-1zm257 0h1v1h-1zm-338 1h1v1h-1zm7 0h1v1h-1zm387 0h1v1h-1zm-365 1h1v1h-1zm21 0h1v1h-1zm6 0h1v1h-1zm-65 1h1v1h-1zm41 1h1v1h-1zm256 86h1v1h-1zm2 2h1v1h-1zm9 2h1v1h-1zm9 3h1v1h-1zm-334 1h1v1h-1zm333 1h1v1h-1zm8 0h2v1h-2zm3 0h1v1h-1zm-218 1h1v1h-1zm-84 1h1v1h-1zm362 0h1v1h-1zm-366 2h1v1h-1zm-30 1h1v1h-1zm110 0h1v1h-1zm300 0h1v1h-1zm-318 1h1v1h-1zm4 0h1v1h-1zm12 0h1v1h-1zm263 0h1v1h-1zm-358 1h1v1h-1zm88 1h1v1h-1zm-29 1h1v1h-1zm-18 2h1v1h-1zm7 0h1v1h-1z"/><path fill="#ff4000" d="m299 103h1v1h-1zm15 0h1v1h-1zm-5 1h1v1h-1zm30 5h2v1h-2zm36 3h1v1h-1zm-243 1h1v1h-1zm-32 1h1v1h-1zm379 1h1v1h-1zm-392 3h1v1h-1zm-68 1h1v1h-1zm72 0h1v1h-1zm323 51h1v1h-1zm24 1h1v1h-1zm-349 2h1v1h-1zm-6 1h1v1h-1zm-66 1h1v1h-1zm305 63h1v1h-1zm-7 9h1v1h-1zm11 0h1v1h-1zm-10 2h1v1h-1zm14 0h1v1h-1zm5 0h1v1h-1zm-208 3h1v1h-1zm212 0h2v1h-2zm5 0h1v1h-1zm70 0h1v1h-1zm31 0h1v1h-1zm-103 1h1v1h-1zm12 0h1v1h-1zm19 0h1v1h-1zm73 0h1v1h-1zm-308 1h1v1h-1zm328 0h1v1h-1zm-72 1h1v1h-1zm3 0h1v1h-1zm-306 1h1v1h-1zm274 0h1v1h-1zm103 0h1v1h-1zm6 0h1v1h-1zm-431 1h1v1h-1zm7 0h1v1h-1zm50 0h1v1h-1zm-15 1h1v1h-1zm-29 1h1v1h-1zm4 2h1v1h-1zm0 1h1v1h-1zm9 2h1v1h-1zm239 23h1v1h-1zm8 16h1v1h-1zm2 0h1v1h-1zm13 6h1v1h-1zm5 2h1v1h-1zm26 1h1v1h-1zm-359 1h1v1h-1zm359 0h1v1h-1zm25 0h1v1h-1zm24 1h1v1h-1zm25 0h1v1h-1zm-62 1h1v1h-1zm58 0h1v1h-1zm-321 1h1v1h-1zm9 0h1v1h-1zm274 0h1v1h-1zm18 0h1v1h-1zm-362 1h1v1h-1zm60 0h1v1h-1zm-20 1h1v1h-1zm-79 1h1v1h-1zm4 0h1v1h-1zm2 0h1v1h-1zm34 0h1v1h-1zm2 1h1v1h-1zm10 4h1v1h-1zm250 81h1v1h-1zm29 9h1v1h-1zm9 3h1v1h-1zm45 1h1v1h-1zm-273 1h1v1h-1zm303 1h1v1h-1zm43 0h1v1h-1zm-320 1h1v1h-1zm276 0h1v1h-1zm2 0h1v1h-1zm37 0h1v1h-1zm-356 1h1v1h-1zm-1 1h1v1h-1zm2 0h1v1h-1zm-85 2h1v1h-1zm3 0h1v1h-1zm29 1h1v1h-1zm11 1h1v1h-1z"/><path fill="#ff3000" d="m313 103h1v1h-1zm12 6h1v1h-1zm-325 2h1v1h-1zm328 0h1v1h-1zm13 0h1v1h-1zm-165 1h1v1h-1zm-70 1h1v1h-1zm-99 1h1v1h-1zm25 0h1v1h-1zm87 0h1v1h-1zm-109 1h1v1h-1zm27 0h1v1h-1zm-26 1h1v1h-1zm27 0h1v1h-1zm128 0h1v1h-1zm-114 1h1v1h-1zm5 0h1v1h-1zm23 0h1v1h-1zm-57 2h1v1h-1zm-2 1h1v1h-1zm340 46h1v1h-1zm-4 2h1v1h-1zm88 1h1v1h-1zm-419 4h1v1h-1zm-4 1h2v1h-2zm-3 1h1v1h-1zm291 64h1v1h-1zm16 7h1v1h-1zm8 2h1v1h-1zm-1 1h1v1h-1zm36 0h1v1h-1zm-25 2h1v1h-1zm70 0h1v1h-1zm-78 1h1v1h-1zm7 0h1v1h-1zm14 1h1v1h-1zm38 0h1v1h-1zm6 0h1v1h-1zm-38 1h1v1h-1zm91 0h1v1h-1zm-336 1h1v1h-1zm-19 1h1v1h-1zm292 0h1v1h-1zm71 0h1v1h-1zm-434 1h1v1h-1zm12 1h1v1h-1zm62 0h1v1h-1zm321 0h1v1h-1zm-400 2h1v1h-1zm300 38h1v1h-1zm2 5h1v1h-1zm32 7h1v1h-1zm0 1h1v1h-1zm2 0h1v1h-1zm31 2h1v1h-1zm46 0h1v1h-1zm-314 1h1v1h-1zm311 0h1v1h-1zm-426 2h1v1h-1zm358 0h1v1h-1zm56 0h1v1h-1zm-400 1h1v1h-1zm67 1h1v1h-1zm14 0h1v1h-1zm5 0h1v1h-1zm-18 1h1v1h-1zm11 0h1v1h-1zm-33 5h1v1h-1zm243 77h1v1h-1zm21 13h1v1h-1zm26 1h1v1h-1zm2 1h1v1h-1zm-18 1h1v1h-1zm-2 1h1v1h-1zm-202 1h1v1h-1zm-18 1h1v1h-1zm319 0h1v1h-1zm27 0h1v1h-1zm-428 1h1v1h-1zm61 0h1v1h-1zm356 0h1v1h-1zm7 0h1v1h-1zm-358 1h1v1h-1zm296 0h1v1h-1zm76 0h1v1h-1zm-442 1h1v1h-1zm80 0h1v1h-1zm-33 1h1v1h-1zm328 1h1v1h-1zm-344 2h1v1h-1z"/><path fill="#ff2000" d="m134 111h1v1h-1zm223 0h1v1h-1zm-352 2h1v1h-1zm29 1h1v1h-1zm87 1h1v1h-1zm-97 3h1v1h-1zm49 0h1v1h-1zm3 0h1v1h-1zm-59 1h1v1h-1zm27 0h1v1h-1zm7 0h1v1h-1zm41 0h1v1h-1zm241 45h1v1h-1zm53 4h1v1h-1zm30 1h1v1h-1zm-41 1h1v1h-1zm3 0h1v1h-1zm40 0h1v1h-1zm19 0h1v1h-1zm-384 4h1v1h-1zm5 1h1v1h-1zm250 61h1v1h-1zm15 3h1v1h-1zm-9 6h1v1h-1zm12 0h1v1h-1zm-326 4h1v1h-1zm332 1h1v1h-1zm2 1h1v1h-1zm9 2h1v1h-1zm6 0h1v1h-1zm68 0h1v1h-1zm14 1h1v1h-1zm-54 1h1v1h-1zm56 0h1v1h-1zm43 0h1v1h-1zm-427 1h1v1h-1zm-20 1h1v1h-1zm70 0h1v1h-1zm279 0h1v1h-1zm32 0h1v1h-1zm-396 1h1v1h-1zm89 0h1v1h-1zm-41 5h1v1h-1zm261 37h1v1h-1zm4 5h1v1h-1zm-200 6h1v1h-1zm218 0h1v1h-1zm105 2h1v1h-1zm-327 1h1v1h-1zm251 0h1v1h-1zm10 0h1v1h-1zm-266 1h1v1h-1zm300 0h1v1h-1zm-372 1h1v1h-1zm3 0h1v1h-1zm414 0h1v1h-1zm-347 1h1v1h-1zm353 0h1v1h-1zm6 0h1v1h-1zm-459 1h2v1h-2zm8 0h1v1h-1zm3 0h1v1h-1zm1 1h1v1h-1zm51 0h1v1h-1zm4 0h1v1h-1zm-10 1h1v1h-1zm239 83h1v1h-1zm10 6h1v1h-1zm21 7h1v1h-1zm13 0h1v1h-1zm-226 1h2v1h-2zm209 0h1v1h-1zm-334 1h1v1h-1zm119 0h1v1h-1zm224 0h1v1h-1zm40 0h1v1h-1zm4 0h1v1h-1zm55 0h1v1h-1zm-325 2h1v1h-1zm328 0h1v1h-1zm3 0h1v1h-1zm-447 1h1v1h-1zm32 0h1v1h-1zm-29 1h1v1h-1zm84 0h1v1h-1zm24 0h1v1h-1zm340 0h1v1h-1zm-374 1h1v1h-1zm17 0h1v1h-1zm-86 3h1v1h-1zm46 1h1v1h-1zm1 1h1v1h-1z"/><path fill="#ff1000" d="m2 111h1v1h-1zm140 0h1v1h-1zm2 0h1v1h-1zm-11 1h1v1h-1zm41 0h1v1h-1zm-75 3h1v1h-1zm-58 2h1v1h-1zm42 0h1v1h-1zm-41 1h1v1h-1zm8 1h1v1h-1zm45 0h1v1h-1zm229 40h1v1h-1zm67 7h1v1h-1zm-45 1h1v1h-1zm4 1h1v1h-1zm-228 3h1v1h-1zm-102 3h1v1h-1zm61 0h1v1h-1zm242 64h1v1h-1zm5 7h1v1h-1zm85 7h1v1h-1zm-68 1h1v1h-1zm3 0h1v1h-1zm2 0h1v1h-1zm37 0h1v1h-1zm5 0h1v1h-1zm11 0h1v1h-1zm-396 1h1v1h-1zm384 0h1v1h-1zm26 0h1v1h-1zm5 1h1v1h-1zm13 0h1v1h-1zm17 0h1v1h-1zm-88 1h1v1h-1zm-326 1h1v1h-1zm8 0h1v1h-1zm51 0h1v1h-1zm329 0h1v1h-1zm-340 1h1v1h-1zm-68 1h1v1h-1zm389 1h1v1h-1zm-349 1h1v1h-1zm350 1h1v1h-1zm-71 48h1v1h-1zm6 1h1v1h-1zm-5 1h1v1h-1zm104 1h1v1h-1zm10 0h1v1h-1zm-100 1h2v1h-2zm92 0h1v1h-1zm-52 1h1v1h-1zm-348 1h1v1h-1zm4 1h1v1h-1zm381 0h1v1h-1zm-377 1h1v1h-1zm30 2h1v1h-1zm228 74h1v1h-1zm0 1h1v1h-1zm13 10h1v1h-1zm-1 5h1v1h-1zm6 2h1v1h-1zm-201 6h1v1h-1zm260 1h1v1h-1zm18 0h1v1h-1zm-362 1h1v1h-1zm75 0h1v1h-1zm248 0h1v1h-1zm86 0h1v1h-1zm-304 1h1v1h-1zm-141 1h1v1h-1zm89 0h1v1h-1zm48 0h1v1h-1zm-117 2h1v1h-1zm28 1h1v1h-1zm19 0h1v1h-1zm77 0h1v1h-1zm-86 3h1v1h-1z"/><path fill="#ff0000" d="m315 104h1v1h-1zm24 6h1v1h-1zm34 3h1v1h-1zm-343 1h1v1h-1zm-23 1h1v1h-1zm5 1h1v1h-1zm78 2h1v1h-1zm258 49h1v1h-1zm23 0h1v1h-1zm90 4h1v1h-1zm-366 2h1v1h-1zm212 59h1v1h-1zm49 19h1v1h-1zm46 1h1v1h-1zm-64 2h1v1h-1zm78 1h1v1h-1zm-7 1h1v1h-1zm69 0h1v1h-1zm-447 1h1v1h-1zm14 0h1v1h-1zm7 1h1v1h-1zm-31 1h1v1h-1zm45 3h1v1h-1zm5 0h1v1h-1zm-4 1h1v1h-1zm242 29h1v1h-1zm3 8h1v1h-1zm6 2h1v1h-1zm37 7h1v1h-1zm16 3h1v1h-1zm-19 1h1v1h-1zm21 0h1v1h-1zm22 0h1v1h-1zm-6 1h1v1h-1zm49 0h1v1h-1zm7 0h1v1h-1zm-397 2h1v1h-1zm67 0h1v1h-1zm360 0h1v1h-1zm-370 1h1v1h-1zm272 0h1v1h-1zm83 0h1v1h-1zm-95 1h1v1h-1zm13 2h1v1h-1zm-64 86h1v1h-1zm16 8h1v1h-1zm12 1h1v1h-1zm-340 1h1v1h-1zm1 1h1v1h-1zm350 0h1v1h-1zm-310 1h1v1h-1zm-7 3h1v1h-1zm343 0h1v1h-1zm28 0h1v1h-1zm-258 1h1v1h-1zm264 0h1v1h-1zm-403 1h1v1h-1zm42 0h1v1h-1zm56 0h1v1h-1zm-55 1h1v1h-1zm-38 2h2v1h-2z"/><path fill="#ef0000" d="m307 104h1v1h-1zm4 0h1v1h-1zm-171 6h1v1h-1zm214 0h1v1h-1zm-353 1h1v1h-1zm129 3h1v1h-1zm-122 1h1v1h-1zm93 0h1v1h-1zm265 0h1v1h-1zm-327 1h1v1h-1zm11 2h1v1h-1zm14 0h1v1h-1zm14 0h1v1h-1zm7 0h1v1h-1zm8 1h1v1h-1zm259 48h1v1h-1zm-337 9h1v1h-1zm296 63h1v1h-1zm48 12h1v1h-1zm27 0h1v1h-1zm-6 1h1v1h-1zm21 2h1v1h-1zm14 0h1v1h-1zm-380 2h1v1h-1zm386 2h1v1h-1zm-340 1h1v1h-1zm-15 5h1v1h-1zm260 40h1v1h-1zm6 6h1v1h-1zm56 3h1v1h-1zm-271 2h1v1h-1zm314 0h1v1h-1zm-53 2h1v1h-1zm85 0h2v1h-2zm-440 1h1v1h-1zm6 1h1v1h-1zm55 0h1v1h-1zm234 88h1v1h-1zm40 8h1v1h-1zm-6 1h1v1h-1zm8 0h1v1h-1zm-355 3h1v1h-1zm384 0h1v1h-1zm-254 1h1v1h-1zm289 0h1v1h-1zm-79 1h1v1h-1zm-247 1h1v1h-1zm3 0h1v1h-1zm370 0h1v1h-1zm-60 2h1v1h-1zm-355 1h1v1h-1zm3 2h1v1h-1z"/><path fill="#df0000" d="m139 109h1v1h-1zm204 3h1v1h-1zm-242 2h1v1h-1zm19 1h1v1h-1zm6 1h1v1h-1zm-42 1h1v1h-1zm-62 3h1v1h-1zm309 45h1v1h-1zm37 1h1v1h-1zm67 4h1v1h-1zm-391 1h1v1h-1zm60 0h1v1h-1zm-28 2h1v1h-1zm330 1h1v1h-1zm-405 76h1v1h-1zm361 3h1v1h-1zm42 1h1v1h-1zm39 0h1v1h-1zm22 0h1v1h-1zm-7 1h1v1h-1zm-30 2h1v1h-1zm-352 1h1v1h-1zm15 0h1v1h-1zm-72 1h1v1h-1zm45 4h1v1h-1zm246 33h1v1h-1zm13 3h1v1h-1zm35 10h1v1h-1zm96 3h1v1h-1zm-87 1h1v1h-1zm13 2h1v1h-1zm50 0h1v1h-1zm-422 1h1v1h-1zm37 0h1v1h-1zm416 0h1v1h-1zm-357 1h1v1h-1zm-28 1h1v1h-1zm24 0h1v1h-1zm-46 1h1v1h-1zm0 1h1v1h-1zm3 1h1v1h-1zm11 3h1v1h-1zm255 85h1v1h-1zm49 8h1v1h-1zm-329 2h2v1h-2zm-37 1h1v1h-1zm371 0h1v1h-1zm12 0h1v1h-1zm-270 1h1v1h-1zm24 0h2v1h-2zm271 0h1v1h-1zm-363 1h1v1h-1zm411 0h1v1h-1zm17 0h1v1h-1zm-385 1h1v1h-1zm9 0h1v1h-1zm-78 1h1v1h-1zm58 0h1v1h-1zm28 0h1v1h-1zm-94 2h1v1h-1z"/><path fill="#cf0000" d="m88 118h1v1h-1zm-66 1h1v1h-1zm26 0h1v1h-1zm21 1h1v1h-1zm-68 46h1v1h-1zm427 6h1v1h-1zm-348 2h1v1h-1zm239 69h1v1h-1zm-4 3h1v1h-1zm13 0h1v1h-1zm56 5h1v1h-1zm-10 3h1v1h-1zm-366 1h1v1h-1zm87 1h1v1h-1zm298 0h1v1h-1zm29 0h1v1h-1zm-332 1h1v1h-1zm4 0h1v1h-1zm327 0h1v1h-1zm-346 2h1v1h-1zm10 0h1v1h-1zm-27 1h1v1h-1zm10 4h1v1h-1zm254 37h1v1h-1zm-6 3h1v1h-1zm125 10h1v1h-1zm34 1h1v1h-1zm-358 1h1v1h-1zm288 0h1v1h-1zm-311 2h1v1h-1zm371 0h1v1h-1zm-59 2h1v1h-1zm-392 1h1v1h-1zm296 75h1v1h-1zm-177 23h1v1h-1zm260 0h1v1h-1zm74 2h1v1h-1zm-352 1h1v1h-1zm291 0h1v1h-1zm-380 2h1v1h-1zm37 4h1v1h-1z"/><path fill="#bf0000" d="m148 110h1v1h-1zm-113 5h1v1h-1zm-26 1h1v1h-1zm66 2h1v1h-1zm11 0h1v1h-1zm-41 2h2v1h-2zm335 48h1v1h-1zm15 2h1v1h-1zm-382 4h1v1h-1zm8 0h1v1h-1zm58 0h1v1h-1zm231 66h1v1h-1zm12 0h1v1h-1zm2 2h1v1h-1zm-4 2h1v1h-1zm7 1h1v1h-1zm14 7h1v1h-1zm57 2h2v1h-2zm61 0h1v1h-1zm-2 1h1v1h-1zm3 0h1v1h-1zm-353 2h1v1h-1zm-56 1h1v1h-1zm49 0h1v1h-1zm306 0h1v1h-1zm-326 1h1v1h-1zm251 49h1v1h-1zm8 1h1v1h-1zm24 2h1v1h-1zm85 0h1v1h-1zm-95 1h1v1h-1zm-7 1h1v1h-1zm55 0h1v1h-1zm-52 1h1v1h-1zm73 0h1v1h-1zm39 1h1v1h-1zm18 0h1v1h-1zm-57 1h1v1h-1zm4 0h1v1h-1zm46 0h1v1h-1zm-373 2h1v1h-1zm368 0h1v1h-1zm5 0h1v1h-1zm-417 2h1v1h-1zm0 1h1v1h-1zm264 88h1v1h-1zm39 5h1v1h-1zm-227 4h1v1h-1zm219 0h1v1h-1zm17 1h1v1h-1zm-326 1h1v1h-1zm387 0h1v1h-1zm-393 2h1v1h-1zm71 0h1v1h-1zm302 0h1v1h-1zm15 0h1v1h-1zm-321 1h1v1h-1zm-84 1h1v1h-1zm5 0h1v1h-1zm3 1h1v1h-1zm2 0h1v1h-1z"/><path fill="#af0000" d="m10 116h1v1h-1zm85 2h1v1h-1zm-75 1h1v1h-1zm319 48h1v1h-1zm-310 5h1v1h-1zm70 1h1v1h-1zm-25 1h1v1h-1zm261 77h1v1h-1zm11 0h1v1h-1zm37 0h1v1h-1zm-29 1h1v1h-1zm90 1h1v1h-1zm-325 2h1v1h-1zm346 0h1v1h-1zm-426 2h1v1h-1zm50 1h1v1h-1zm-67 2h1v1h-1zm431 53h1v1h-1zm-6 1h1v1h-1zm-26 1h1v1h-1zm-302 1h1v1h-1zm304 0h1v1h-1zm4 0h1v1h-1zm42 0h2v1h-2zm-461 1h1v1h-1zm10 1h1v1h-1zm442 0h1v1h-1zm-139 90h1v1h-1zm-187 11h1v1h-1zm2 0h1v1h-1zm255 0h1v1h-1zm-45 1h2v1h-2zm-201 1h1v1h-1zm291 0h1v1h-1zm-28 2h1v1h-1z"/><path fill="#9f0000" d="m104 113h2v1h-2zm-95 2h1v1h-1zm54 3h1v1h-1zm29 0h2v1h-2zm-90 48h1v1h-1zm340 1h1v1h-1zm-222 4h2v1h-2zm187 66h1v1h-1zm27 12h1v1h-1zm50 3h1v1h-1zm34 2h1v1h-1zm44 1h1v1h-1zm-372 3h1v1h-1zm-31 3h1v1h-1zm275 48h1v1h-1zm55 4h1v1h-1zm51 1h1v1h-1zm-332 3h1v1h-1zm-89 1h1v1h-1zm2 0h1v1h-1zm17 0h1v1h-1zm-23 2h1v1h-1zm297 84h1v1h-1zm5 3h1v1h-1zm11 4h1v1h-1zm5 3h1v1h-1zm0 1h1v1h-1zm-207 3h1v1h-1zm2 0h1v1h-1zm-2 1h1v1h-1zm-121 1h1v1h-1zm456 2h1v1h-1zm-370 1h1v1h-1zm-79 1h1v1h-1zm10 0h1v1h-1zm56 0h1v1h-1zm-48 1h1v1h-1zm36 2h1v1h-1zm-4 1h1v1h-1zm2 0h1v1h-1zm89 2h1v1h-1z"/><path fill="#8f0000" d="m141 110h1v1h-1zm-110 3h1v1h-1zm336 0h1v1h-1zm39 4h1v1h-1zm-352 57h1v1h-1zm16 2h1v1h-1zm259 72h1v1h-1zm69 5h1v1h-1zm57 0h1v1h-1zm-100 1h1v1h-1zm-259 2h1v1h-1zm-59 1h1v1h-1zm301 54h1v1h-1zm45 2h1v1h-1zm60 0h1v1h-1zm34 2h1v1h-1zm-48 1h1v1h-1zm3 0h1v1h-1zm-321 1h1v1h-1zm-75 1h1v1h-1zm-20 1h1v1h-1zm72 0h1v1h-1zm-76 2h1v1h-1zm326 95h1v1h-1zm6 1h1v1h-1zm-214 1h1v1h-1zm5 1h1v1h-1zm-88 1h1v1h-1zm340 0h1v1h-1zm-295 3h1v1h-1zm-24 4h1v1h-1z"/><path fill="#800000" d="m304 102h1v1h-1zm-162 8h1v1h-1zm-138 3h1v1h-1zm99 0h1v1h-1zm-98 1h2v1h-2zm28 0h1v1h-1zm83 0h1v1h-1zm-88 1h1v1h-1zm-15 2h1v1h-1zm29 0h1v1h-1zm9 1h1v1h-1zm4 0h1v1h-1zm34 0h1v1h-1zm2 0h1v1h-1zm-46 1h1v1h-1zm23 1h1v1h-1zm322 43h1v1h-1zm-30 5h1v1h-1zm19 0h1v1h-1zm6 0h1v1h-1zm74 2h1v1h-1zm-63 1h1v1h-1zm-371 2h1v1h-1zm400 0h1v1h-1zm-118 61h1v1h-1zm0 1h1v1h-1zm2 5h1v1h-1zm2 0h1v1h-1zm1 4h1v1h-1zm7 0h1v1h-1zm-3 4h1v1h-1zm17 2h1v1h-1zm2 0h1v1h-1zm35 0h1v1h-1zm-28 2h1v1h-1zm5 1h1v1h-1zm4 0h2v1h-2zm30 0h1v1h-1zm21 0h1v1h-1zm-12 1h1v1h-1zm42 0h2v1h-2zm-43 1h1v1h-1zm2 0h1v1h-1zm2 0h1v1h-1zm38 0h1v1h-1zm30 0h1v1h-1zm5 0h1v1h-1zm-61 1h1v1h-1zm72 0h1v1h-1zm-435 1h1v1h-1zm51 0h1v1h-1zm5 0h1v1h-1zm311 0h1v1h-1zm14 0h1v1h-1zm-335 1h1v1h-1zm-14 1h1v1h-1zm-3 2h1v1h-1zm-8 2h1v1h-1zm6 0h1v1h-1zm239 22h1v1h-1zm1 8h1v1h-1zm2 6h1v1h-1zm2 0h1v1h-1zm-2 1h1v1h-1zm16 4h1v1h-1zm2 3h1v1h-1zm29 3h2v1h-2zm-355 2h1v1h-1zm333 0h1v1h-1zm8 0h1v1h-1zm8 0h1v1h-1zm35 0h2v1h-2zm63 0h1v1h-1zm-103 1h2v1h-2zm3 0h1v1h-1zm67 0h1v1h-1zm21 0h1v1h-1zm3 0h1v1h-1zm4 0h1v1h-1zm6 0h1v1h-1zm-81 1h1v1h-1zm2 0h1v1h-1zm8 0h1v1h-1zm55 0h1v1h-1zm4 0h1v1h-1zm4 0h1v1h-1zm3 0h1v1h-1zm-440 1h1v1h-1zm114 0h1v1h-1zm246 0h1v1h-1zm9 0h2v1h-2zm59 0h1v1h-1zm5 0h2v1h-2zm18 0h1v1h-1zm-415 1h2v1h-2zm5 0h1v1h-1zm71 0h1v1h-1zm301 0h1v1h-1zm21 0h1v1h-1zm22 0h1v1h-1zm6 0h1v1h-1zm8 0h1v1h-1zm-437 1h2v1h-2zm426 0h1v1h-1zm2 0h1v1h-1zm5 0h1v1h-1zm-447 1h1v1h-1zm9 0h2v1h-2zm17 0h1v1h-1zm36 0h1v1h-1zm-7 1h2v1h-2zm-67 2h1v1h-1zm43 0h1v1h-1zm2 1h1v1h-1zm257 83h1v1h-1zm1 3h2v1h-2zm14 5h1v1h-1zm7 2h1v1h-1zm-337 1h1v1h-1zm351 0h1v1h-1zm3 0h1v1h-1zm15 0h1v1h-1zm-368 1h2v1h-2zm358 0h1v1h-1zm-358 1h1v1h-1zm2 0h1v1h-1zm126 0h1v1h-1zm256 0h1v1h-1zm-263 1h1v1h-1zm226 0h1v1h-1zm101 0h1v1h-1zm-328 1h1v1h-1zm310 0h1v1h-1zm2 0h1v1h-1zm-426 1h1v1h-1zm134 0h1v1h-1zm256 0h1v1h-1zm-298 1h1v1h-1zm379 0h1v1h-1zm-446 1h1v1h-1zm21 0h1v1h-1zm35 0h2v1h-2zm5 0h1v1h-1zm366 0h1v1h-1zm-349 1h1v1h-1zm-49 3h1v1h-1z"/></g>
<g shape-rendering="crispEdges"><rect x="968" y="768.844" width="45" height="11.656" fill="#00008f"/><rect x="968" y="757.688" width="45" height="11.656" fill="#00009f"/><rect x="968" y="746.531" width="45" height="11.656" fill="#0000af"/><rect x="968" y="735.375" width="45" height="11.656" fill="#0000bf"/><rect x="968" y="724.219" width="45" height="11.656" fill="#0000cf"/><rect x="968" y="713.062" width="45" height="11.656" fill="#0000df"/><rect x="968" y="701.906" width="45" height="11.656" fill="#0000ef"/><rect x="968" y="690.750" width="45" height="11.656" fill="#0000ff"/><rect x="968" y="679.594" width="45" height="11.656" fill="#0010ff"/><rect x="968" y="668.438" width="45" height="11.656" fill="#0020ff"/><rect x="968" y="657.281" width="45" height="11.656" fill="#0030ff"/><rect x="968" y="646.125" width="45" height="11.656" fill="#0040ff"/><rect x="968" y="634.969" width="45" height="11.656" fill="#0050ff"/><rect x="968" y="623.812" width="45" height="11.656" fill="#0060ff"/><rect x="968" y="612.656" width="45" height="11.656" fill="#0070ff"/><rect x="968" y="601.500" width="45" height="11.656" fill="#0080ff"/><rect x="968" y="590.344" width="45" height="11.656" fill="#008fff"/><rect x="968" y="579.188" width="45" height="11.656" fill="#009fff"/><rect x="968" y="568.031" width="45" height="11.656" fill="#00afff"/><rect x="968" y="556.875" width="45" height="11.656" fill="#00bfff"/><rect x="968" y="545.719" width="45" height="11.656" fill="#00cfff"/><rect x="968" y="534.562" width="45" height="11.656" fill="#00dfff"/><rect x="968" y="523.406" width="45" height="11.656" fill="#00efff"/><rect x="968" y="512.250" width="45" height="11.656" fill="#00ffff"/><rect x="968" y="501.094" width="45" height="11.656" fill="#10ffef"/><rect x="968" y="489.938" width="45" height="11.656" fill="#20ffdf"/><rect x="968" y="478.781" width="45" height="11.656" fill="#30ffcf"/><rect x="968" y="467.625" width="45" height="11.656" fill="#40ffbf"/><rect x="968" y="456.469" width="45" height="11.656" fill="#50ffaf"/><rect x="968" y="445.312" width="45" height="11.656" fill="#60ff9f"/><rect x="968" y="434.156" width="45" height="11.656" fill="#70ff8f"/><rect x="968" y="423.000" width="45" height="11.656" fill="#80ff80"/><rect x="968" y="411.844" width="45" height="11.656" fill="#8fff70"/><rect x="968" y="400.688" width="45" height="11.656" fill="#9fff60"/><rect x="968" y="389.531" width="45" height="11.656" fill="#afff50"/><rect x="968" y="378.375" width="45" height="11.656" fill="#bfff40"/><rect x="968" y="367.219" width="45" height="11.656" fill="#cfff30"/><rect x="968" y="356.062" width="45" height="11.656" fill="#dfff20"/><rect x="968" y="344.906" width="45" height="11.656" fill="#efff10"/><rect x="968" y="333.750" width="45" height="11.656" fill="#ffff00"/><rect x="968" y="322.594" width="45" height="11.656" fill="#ffef00"/><rect x="968" y="311.438" width="45" height="11.656" fill="#ffdf00"/><rect x="968" y="300.281" width="45" height="11.656" fill="#ffcf00"/><rect x="968" y="289.125" width="45" height="11.656" fill="#ffbf00"/><rect x="968" y="277.969" width="45" height="11.656" fill="#ffaf00"/><rect x="968" y="266.812" width="45" height="11.656" fill="#ff9f00"/><rect x="968" y="255.656" width="45" height="11.656" fill="#ff8f00"/><rect x="968" y="244.500" width="45" height="11.656" fill="#ff8000"/><rect x="968" y="233.344" width="45" height="11.656" fill="#ff7000"/><rect x="968" y="222.188" width="45" height="11.656" fill="#ff6000"/><rect x="968" y="211.031" width="45" height="11.656" fill="#ff5000"/><rect x="968" y="199.875" width="45" height="11.656" fill="#ff4000"/><rect x="968" y="188.719" width="45" height="11.656" fill="#ff3000"/><rect x="968" y="177.562" width="45" height="11.656" fill="#ff2000"/><rect x="968" y="166.406" width="45" height="11.656" fill="#ff1000"/><rect x="968" y="155.250" width="45" height="11.656" fill="#ff0000"/><rect x="968" y="144.094" width="45" height="11.656" fill="#ef0000"/><rect x="968" y="132.938" width="45" height="11.656" fill="#df0000"/><rect x="968" y="121.781" width="45" height="11.656" fill="#cf0000"/><rect x="968" y="110.625" width="45" height="11.656" fill="#bf0000"/><rect x="968" y="99.469" width="45" height="11.656" fill="#af0000"/><rect x="968" y="88.312" width="45" height="11.656" fill="#9f0000"/><rect x="968" y="77.156" width="45" height="11.656" fill="#8f0000"/><rect x="968" y="66.000" width="45" height="11.656" fill="#800000"/></g>
<g opacity="0.999">
<rect x="968.5" y="66.5" width="44" height="713" fill="none" stroke="#262626" stroke-width="1" stroke-opacity="0.85"/>
<line x1="1005" y1="753.7" x2="1013" y2="753.7" stroke="#262626" stroke-width="1" stroke-opacity="0.8"/>
<text x="1023.8" y="764.6" font-size="27.8" fill="#262626">4</text>
<line x1="1005" y1="626.1" x2="1013" y2="626.1" stroke="#262626" stroke-width="1" stroke-opacity="0.8"/>
<text x="1023.8" y="637.0" font-size="27.8" fill="#262626">4.5</text>
<line x1="1005" y1="498.4" x2="1013" y2="498.4" stroke="#262626" stroke-width="1" stroke-opacity="0.8"/>
<text x="1023.8" y="509.3" font-size="27.8" fill="#262626">5</text>
<line x1="1005" y1="370.8" x2="1013" y2="370.8" stroke="#262626" stroke-width="1" stroke-opacity="0.8"/>
<text x="1023.8" y="381.7" font-size="27.8" fill="#262626">5.5</text>
<line x1="1005" y1="243.2" x2="1013" y2="243.2" stroke="#262626" stroke-width="1" stroke-opacity="0.8"/>
<text x="1023.8" y="254.1" font-size="27.8" fill="#262626">6</text>
<line x1="1005" y1="115.5" x2="1013" y2="115.5" stroke="#262626" stroke-width="1" stroke-opacity="0.8"/>
<text x="1023.8" y="126.4" font-size="27.8" fill="#262626">6.5</text>
<line x1="135" y1="779.3" x2="938" y2="779.3" stroke="#101030" stroke-width="1" stroke-opacity="0.55"/>
<line x1="135.4" y1="66" x2="135.4" y2="780" stroke="#101030" stroke-width="1" stroke-opacity="0.3"/>
<text x="124.4" y="196.0" font-size="27.8" text-anchor="end" fill="#262626">10</text>
<text x="124.4" y="314.6" font-size="27.8" text-anchor="end" fill="#262626">5</text>
<text x="124.4" y="433.5" font-size="27.8" text-anchor="end" fill="#262626">0</text>
<text x="124.4" y="552.3" font-size="27.8" text-anchor="end" fill="#262626">-5</text>
<text x="124.4" y="671.2" font-size="27.8" text-anchor="end" fill="#262626">-10</text>
<text x="124.4" y="790.0" font-size="27.8" text-anchor="end" fill="#262626">-15</text>
<text x="234.3" y="818" font-size="27.8" text-anchor="middle" fill="#262626">1</text>
<text x="334.8" y="818" font-size="27.8" text-anchor="middle" fill="#262626">2</text>
<text x="435.3" y="818" font-size="27.8" text-anchor="middle" fill="#262626">3</text>
<text x="535.8" y="818" font-size="27.8" text-anchor="middle" fill="#262626">4</text>
<text x="636.3" y="818" font-size="27.8" text-anchor="middle" fill="#262626">5</text>
<text x="736.8" y="818" font-size="27.8" text-anchor="middle" fill="#262626">6</text>
<text x="837.3" y="818" font-size="27.8" text-anchor="middle" fill="#262626">7</text>
<text x="937.8" y="818" font-size="27.8" text-anchor="middle" fill="#262626">8</text>
<text x="537.2" y="858.7" font-size="30.8" text-anchor="middle" fill="#262626">hour of day [UT]</text>
<text transform="translate(67.6 422.1) rotate(-90)" font-size="30.8" text-anchor="middle" fill="#262626">frequency [Hz]</text>
<text x="536.4" y="55.5" font-size="30.45" font-weight="bold" text-anchor="middle" fill="#000" xml:space="preserve" style="white-space:pre">f=4.65 MHz;  lat=53.33; long=13.07, time=0 is at 2025 10 12 00:00</text>
</g>
</svg>
</body></html>
